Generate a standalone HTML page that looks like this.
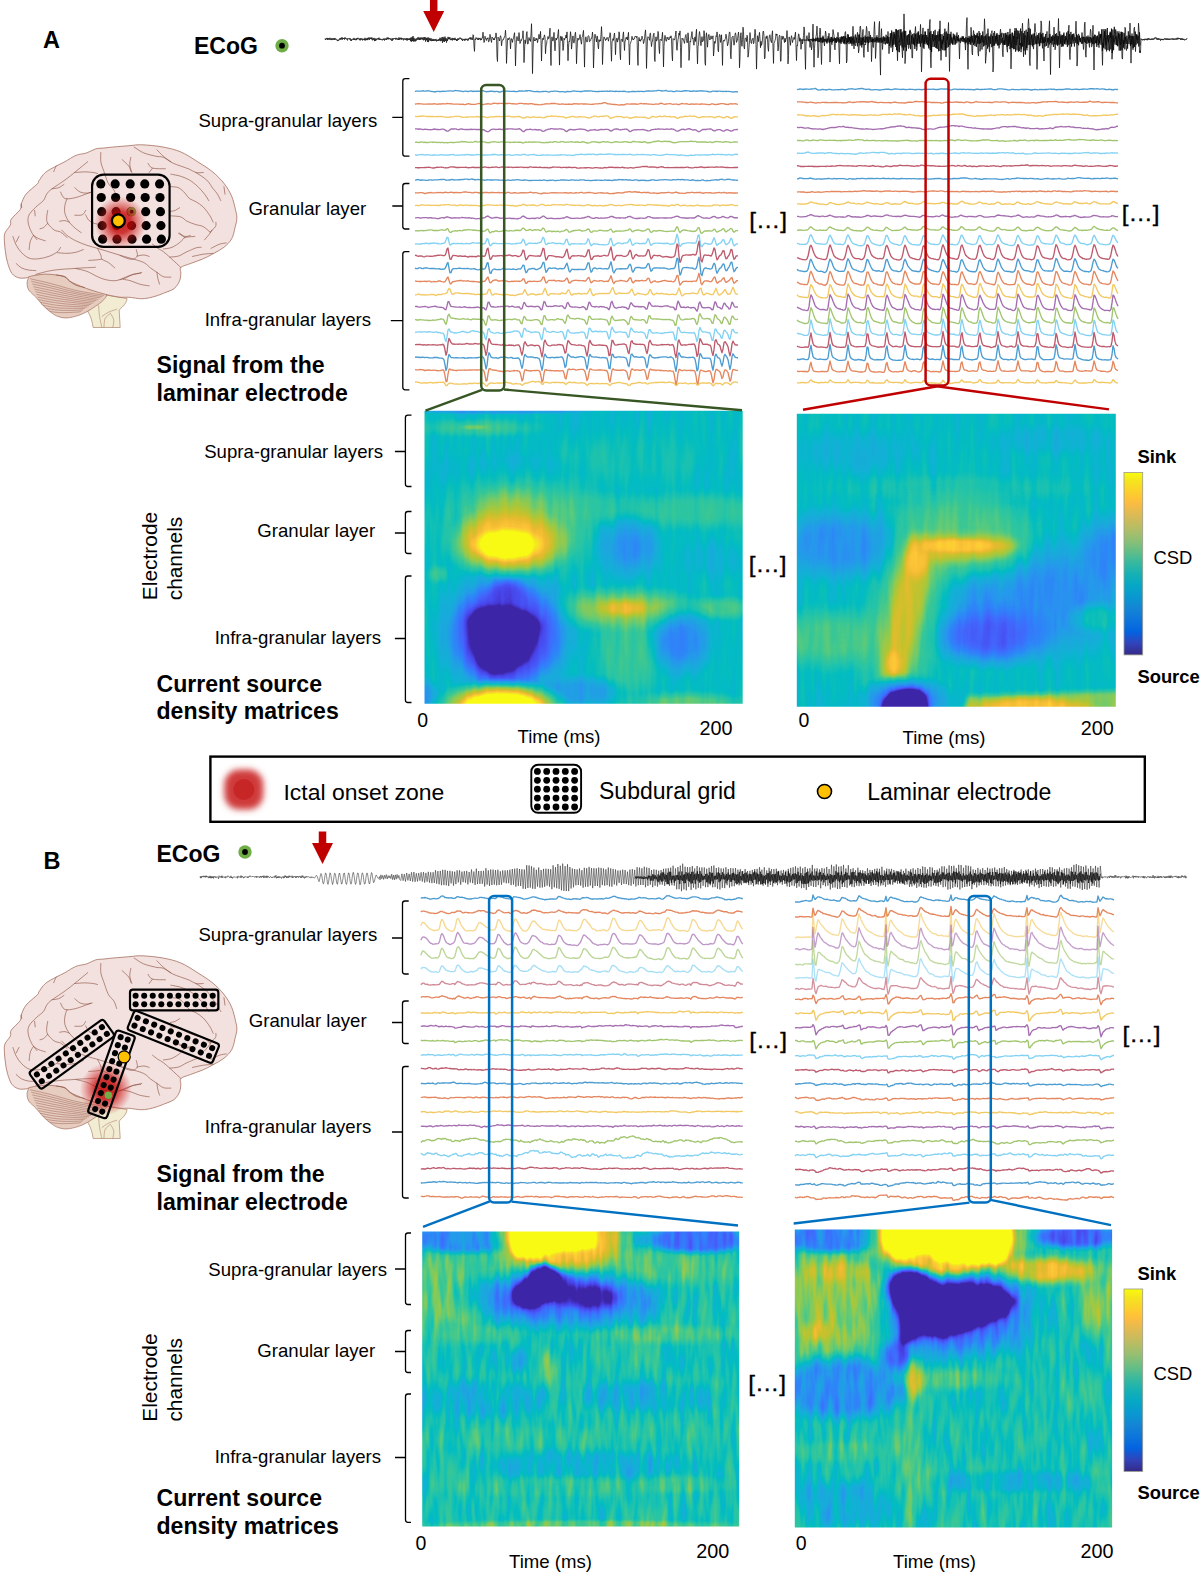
<!DOCTYPE html>
<html lang="en"><head><meta charset="utf-8"><title>Laminar electrode recordings and current source density</title>
<style>
html,body{margin:0;padding:0;background:#fff;}
body{width:1200px;height:1574px;overflow:hidden;}
svg{display:block;font-family:"Liberation Sans",Arial,Helvetica,sans-serif;}
svg text{fill:#000;}
</style></head><body>
<svg width="1200" height="1574" viewBox="0 0 1200 1574">
<defs>
<radialGradient id="redblob"><stop offset="0" stop-color="#c9211e" stop-opacity="0.95"/><stop offset="0.45" stop-color="#c9211e" stop-opacity="0.9"/><stop offset="1" stop-color="#e04040" stop-opacity="0"/></radialGradient>
<filter id="rbblur" x="-50%" y="-50%" width="200%" height="200%"><feGaussianBlur stdDeviation="3.2"/></filter><filter id="rbblur2" x="-50%" y="-50%" width="200%" height="200%"><feGaussianBlur stdDeviation="0.6"/></filter>
</defs>
<text x="43" y="48.0" font-size="23.5" font-weight="700">A</text>
<text x="194" y="53.7" font-size="23" font-weight="700">ECoG</text>
<circle cx="282" cy="45.7" r="6.7" fill="#70ad47"/><circle cx="282" cy="45.7" r="2.9" fill="#000"/>
<path d="M429.95,0 H437.45 V11 H444.2 L433.7,32 L423.2,11 H429.95 Z" fill="#c00000"/>
<text x="198.4" y="127.4" font-size="18.6">Supra-granular layers</text>
<text x="248.4" y="215.4" font-size="18.6">Granular layer</text>
<text x="204.7" y="325.5" font-size="18.6">Infra-granular layers</text>
<text x="156.5" y="373.0" font-size="23.1" font-weight="700">Signal from the</text>
<text x="156.5" y="400.5" font-size="23.1" font-weight="700">laminar electrode</text>
<path d="M409.4,78.7 H405.3 Q402.8,78.7 402.8,81.2 V153.7 Q402.8,156.2 405.3,156.2 H409.4 M402.8,117.4 H392.3" fill="none" stroke="#000" stroke-width="1.3"/>
<path d="M409.4,183.5 H405.3 Q402.8,183.5 402.8,186.0 V226.5 Q402.8,229 405.3,229 H409.4 M402.8,206 H392.3" fill="none" stroke="#000" stroke-width="1.3"/>
<path d="M409.4,251.7 H405.3 Q402.8,251.7 402.8,254.2 V387.3 Q402.8,389.8 405.3,389.8 H409.4 M402.8,320.6 H390.8" fill="none" stroke="#000" stroke-width="1.3"/>
<text transform="translate(749.2,227.8) scale(1.09,1)" font-size="22.3" stroke="#000" stroke-width="0.35">[…]</text>
<text transform="translate(1121.7,221.2) scale(1.09,1)" font-size="22.3" stroke="#000" stroke-width="0.35">[…]</text>
<text x="204.2" y="457.8" font-size="18.6">Supra-granular layers</text>
<text x="257.3" y="537.0" font-size="18.6">Granular layer</text>
<text x="214.7" y="644.0" font-size="18.6">Infra-granular layers</text>
<path d="M411.5,415.2 H407.9 Q405.4,415.2 405.4,417.7 V484.0 Q405.4,486.5 407.9,486.5 H411.5 M405.4,451.5 H394.9" fill="none" stroke="#000" stroke-width="1.3"/>
<path d="M411.5,511.5 H407.9 Q405.4,511.5 405.4,514.0 V551.0 Q405.4,553.5 407.9,553.5 H411.5 M405.4,533 H394.9" fill="none" stroke="#000" stroke-width="1.3"/>
<path d="M411.5,576 H407.9 Q405.4,576 405.4,578.5 V700.0 Q405.4,702.5 407.9,702.5 H411.5 M405.4,638.5 H394.9" fill="none" stroke="#000" stroke-width="1.3"/>
<text transform="translate(157.3,556) rotate(-90)" text-anchor="middle" font-size="20.9">Electrode</text>
<text transform="translate(182.0,558.5) rotate(-90)" text-anchor="middle" font-size="20.9">channels</text>
<text x="156.5" y="691.5" font-size="23.1" font-weight="700">Current source</text>
<text x="156.5" y="719.0" font-size="23.1" font-weight="700">density matrices</text>
<text x="417.3" y="727.0" font-size="19.5">0</text>
<text x="517.5" y="743.0" font-size="18.6">Time (ms)</text>
<text x="699.5" y="735.3" font-size="19.8">200</text>
<text x="798.5" y="727.0" font-size="19.5">0</text>
<text x="902.5" y="743.5" font-size="18.6">Time (ms)</text>
<text x="1080.7" y="735.3" font-size="19.8">200</text>
<text transform="translate(748.7,572.2) scale(1.09,1)" font-size="22.3" stroke="#000" stroke-width="0.35">[…]</text>
<linearGradient id="cbA" x1="0" y1="0" x2="0" y2="1"><stop offset="0.000" stop-color="#f9fb0e"/><stop offset="0.048" stop-color="#f5e41d"/><stop offset="0.111" stop-color="#fcce2e"/><stop offset="0.143" stop-color="#ffc337"/><stop offset="0.175" stop-color="#f8bb44"/><stop offset="0.238" stop-color="#d9ba56"/><stop offset="0.302" stop-color="#b7bd64"/><stop offset="0.365" stop-color="#92bf73"/><stop offset="0.429" stop-color="#65be86"/><stop offset="0.492" stop-color="#38b99e"/><stop offset="0.556" stop-color="#15b1b4"/><stop offset="0.619" stop-color="#06a7c6"/><stop offset="0.683" stop-color="#0998d1"/><stop offset="0.746" stop-color="#1485d4"/><stop offset="0.810" stop-color="#0d75dc"/><stop offset="0.873" stop-color="#0363e1"/><stop offset="0.937" stop-color="#3243ba"/><stop offset="1.000" stop-color="#352a87"/></linearGradient><rect x="1124" y="472.5" width="18.7" height="182.4" fill="url(#cbA)" stroke="#9a9a8a" stroke-width="0.8"/>
<text x="1137.4" y="462.7" font-size="18.4" font-weight="700">Sink</text>
<text x="1153.4" y="563.8" font-size="18.4">CSD</text>
<text x="1137.4" y="682.5" font-size="18.4" font-weight="700">Source</text>
<rect x="210.4" y="756.6" width="934.4" height="65.2" fill="#fff" stroke="#000" stroke-width="2.4"/>
<g filter="url(#rbblur)"><rect x="224.3" y="769.6" width="39" height="40" rx="15" fill="#cf3a3a"/></g><circle cx="243.8" cy="789.6" r="10.5" fill="#c62626" filter="url(#rbblur2)"/>
<text x="283.5" y="800.0" font-size="22.95">Ictal onset zone</text>
<g><rect x="531.3" y="764.8" width="49.8" height="48.0" rx="6.8" fill="#fff" stroke="#000" stroke-width="1.9"/><circle cx="537.40" cy="771.40" r="3.40"/><circle cx="537.40" cy="780.30" r="3.40"/><circle cx="537.40" cy="789.20" r="3.40"/><circle cx="537.40" cy="798.10" r="3.40"/><circle cx="537.40" cy="807.00" r="3.40"/><circle cx="546.70" cy="771.40" r="3.40"/><circle cx="546.70" cy="780.30" r="3.40"/><circle cx="546.70" cy="789.20" r="3.40"/><circle cx="546.70" cy="798.10" r="3.40"/><circle cx="546.70" cy="807.00" r="3.40"/><circle cx="556.00" cy="771.40" r="3.40"/><circle cx="556.00" cy="780.30" r="3.40"/><circle cx="556.00" cy="789.20" r="3.40"/><circle cx="556.00" cy="798.10" r="3.40"/><circle cx="556.00" cy="807.00" r="3.40"/><circle cx="565.30" cy="771.40" r="3.40"/><circle cx="565.30" cy="780.30" r="3.40"/><circle cx="565.30" cy="789.20" r="3.40"/><circle cx="565.30" cy="798.10" r="3.40"/><circle cx="565.30" cy="807.00" r="3.40"/><circle cx="574.60" cy="771.40" r="3.40"/><circle cx="574.60" cy="780.30" r="3.40"/><circle cx="574.60" cy="789.20" r="3.40"/><circle cx="574.60" cy="798.10" r="3.40"/><circle cx="574.60" cy="807.00" r="3.40"/></g>
<text x="599" y="799.3" font-size="23.0">Subdural grid</text>
<circle cx="824.5" cy="791.5" r="7" fill="#ffc000" stroke="#000" stroke-width="1.6"/>
<text x="867.2" y="799.7" font-size="23.0">Laminar electrode</text>
<text x="43.5" y="869.0" font-size="23.5" font-weight="700">B</text>
<text x="156.5" y="861.5" font-size="23" font-weight="700">ECoG</text>
<circle cx="245" cy="852" r="6.7" fill="#70ad47"/><circle cx="245" cy="852" r="2.9" fill="#000"/>
<path d="M318.75,831.5 H326.25 V843 H333.0 L322.5,864 L312.0,843 H318.75 Z" fill="#c00000"/>
<text x="198.4" y="941.0" font-size="18.6">Supra-granular layers</text>
<text x="248.8" y="1026.5" font-size="18.6">Granular layer</text>
<text x="204.8" y="1133.0" font-size="18.6">Infra-granular layers</text>
<text x="156.5" y="1182.0" font-size="23.1" font-weight="700">Signal from the</text>
<text x="156.5" y="1210.0" font-size="23.1" font-weight="700">laminar electrode</text>
<path d="M408.7,901 H405.0 Q402.5,901 402.5,903.5 V971.5 Q402.5,974 405.0,974 H408.7 M402.5,938 H392.0" fill="none" stroke="#000" stroke-width="1.3"/>
<path d="M408.7,1001 H405.0 Q402.5,1001 402.5,1003.5 V1041.0 Q402.5,1043.5 405.0,1043.5 H408.7 M402.5,1022.5 H392.0" fill="none" stroke="#000" stroke-width="1.3"/>
<path d="M408.7,1066.5 H405.0 Q402.5,1066.5 402.5,1069.0 V1195.5 Q402.5,1198 405.0,1198 H408.7 M402.5,1132 H392.0" fill="none" stroke="#000" stroke-width="1.3"/>
<text transform="translate(749.2,1047.7) scale(1.09,1)" font-size="22.3" stroke="#000" stroke-width="0.35">[…]</text>
<text transform="translate(1122.6,1041.5) scale(1.09,1)" font-size="22.3" stroke="#000" stroke-width="0.35">[…]</text>
<text x="208.3" y="1275.8" font-size="18.6">Supra-granular layers</text>
<text x="257.3" y="1356.7" font-size="18.6">Granular layer</text>
<text x="214.7" y="1463.1" font-size="18.6">Infra-granular layers</text>
<path d="M411,1233 H408.0 Q405.5,1233 405.5,1235.5 V1302.0 Q405.5,1304.5 408.0,1304.5 H411 M405.5,1269 H395.0" fill="none" stroke="#000" stroke-width="1.3"/>
<path d="M411,1330.5 H408.0 Q405.5,1330.5 405.5,1333.0 V1370.0 Q405.5,1372.5 408.0,1372.5 H411 M405.5,1351.5 H395.0" fill="none" stroke="#000" stroke-width="1.3"/>
<path d="M411,1394 H408.0 Q405.5,1394 405.5,1396.5 V1519.8 Q405.5,1522.3 408.0,1522.3 H411 M405.5,1457.5 H395.0" fill="none" stroke="#000" stroke-width="1.3"/>
<text transform="translate(157.2,1377.6) rotate(-90)" text-anchor="middle" font-size="20.9">Electrode</text>
<text transform="translate(181.8,1379.8) rotate(-90)" text-anchor="middle" font-size="20.9">channels</text>
<text x="156.5" y="1506.0" font-size="23.1" font-weight="700">Current source</text>
<text x="156.5" y="1534.0" font-size="23.1" font-weight="700">density matrices</text>
<text x="415.5" y="1549.7" font-size="19.5">0</text>
<text x="509" y="1568.0" font-size="18.6">Time (ms)</text>
<text x="696.3" y="1558.0" font-size="19.8">200</text>
<text x="795.8" y="1549.7" font-size="19.5">0</text>
<text x="893" y="1568.0" font-size="18.6">Time (ms)</text>
<text x="1080.5" y="1558.0" font-size="19.8">200</text>
<text transform="translate(748.2,1390.8) scale(1.09,1)" font-size="22.3" stroke="#000" stroke-width="0.35">[…]</text>
<linearGradient id="cbB" x1="0" y1="0" x2="0" y2="1"><stop offset="0.000" stop-color="#f9fb0e"/><stop offset="0.048" stop-color="#f5e41d"/><stop offset="0.111" stop-color="#fcce2e"/><stop offset="0.143" stop-color="#ffc337"/><stop offset="0.175" stop-color="#f8bb44"/><stop offset="0.238" stop-color="#d9ba56"/><stop offset="0.302" stop-color="#b7bd64"/><stop offset="0.365" stop-color="#92bf73"/><stop offset="0.429" stop-color="#65be86"/><stop offset="0.492" stop-color="#38b99e"/><stop offset="0.556" stop-color="#15b1b4"/><stop offset="0.619" stop-color="#06a7c6"/><stop offset="0.683" stop-color="#0998d1"/><stop offset="0.746" stop-color="#1485d4"/><stop offset="0.810" stop-color="#0d75dc"/><stop offset="0.873" stop-color="#0363e1"/><stop offset="0.937" stop-color="#3243ba"/><stop offset="1.000" stop-color="#352a87"/></linearGradient><rect x="1124" y="1289" width="18.7" height="182.4" fill="url(#cbB)" stroke="#9a9a8a" stroke-width="0.8"/>
<text x="1137.4" y="1280.0" font-size="18.4" font-weight="700">Sink</text>
<text x="1153.4" y="1380.3" font-size="18.4">CSD</text>
<text x="1137.4" y="1499.0" font-size="18.4" font-weight="700">Source</text><g fill="none" stroke-linejoin="round"><path d="M325 38.6l.5 1.4 .5-1.6 .5 .8 .5-1.3 .5 2 .5-1.9 .5 1.5 .5-1.2 .5 1.4 .5-1.9 .5 1.8 .5-.9 .5 1.4 .5-2 .5 1.6 .5-1.2 .5 1.2 .5-1.5 .5 1.7 .5-1.9 .5 1.5 .5-.6 .5 1 .5-.1 .5 1.3 .5-1.5 .5 1.1 .5-1.3 .5 .4 .5-1.8 .5 1.6 .5-1.7 .5 1.5 .5-2.2 .5 2.4 .5-1.6 .5 1 .5-1.1 .5 1.7 .5-2.3 .5 1.6 .5-.6 .5 1 .5-.9 .5 2 .5-2.1 .5 .6 .5-.5 .5 1 .5-1.4 .5 2.6 .5-1.4 .5 1.7 .5-1.8 .5 .3 .5-.7 .5 1.2 .5-2 .5 2.1 .5-.9 .5 1.1 .5-1.7 .5 1.6 .5-2.1 .5 1.2 .5-1.4 .5 1.1 .5 0 .5 1.3 .5-2 .5 2.1 .5-1.9 .5 1.1 .5-1.2 .5 2.1 .5-1.3 .5 .9 .5-1.3 .5 1.6 .5-2.5 .5 2.6 .5-1.7 .5 1.4 .5-2 .5 2 .5-2.3 .5 1.6 .5-2 .5 2.4 .5-2 .5 1.1 .5-1.5 .5 1.9 .5-1.7 .5 2.7 .5-1.8 .5 1.2 .5-1.8 .5 3.2 .5-2.5 .5 2.2 .5-2.3 .5 1.7 .5-1.4 .5 .4 .5-1.2 .5 1.5 .5-1.8 .5 2.2 .5-1.2 .5 1.2 .5-1 .5 1.2 .5-.7 .5 .9 .5-1.5 .5 1 .5-1.4 .5 2.1 .5-1.8 .5 .9 .5-1.2 .5 1.6 .5-2.4 .5 1.6 .5-1.8 .5 1.9 .5-1.3 .5 1.2 .5-1.1 .5 1.4 .5-.4 .5 1.5 .5-2.3 .5 2.3 .5-2.3 .5 1.1 .5-1.2 .5 .7 .5-.7 .5 1.3 .5-1.7 .5 1.6 .5-1 .5 1.2 .5-1.1 .5 1.5 .5-2.6 .5 2.3 .5-1.7 .5 1.3 .5-1.7 .5 2 .5-1.6 .5 1.3 .5-.8 .5 1.8 .5-1.9 .5 1 .5-1 .5 1.5 .5-1.3 .5 1.7 .5-2.3 .5 2.4 .5-2 .5 1.5 .5-1.2 .5 1.3 .5-2 .5 3.2 .5-3.7 .5 4.2 .5-4.5 .5 3.9 .5-5.1 .5 5.5 .5-3.7 .5 3.5 .5-2.2 .5 2.3 .5-2.8 .5 1.9 .5-2.3 .5 1.4 .5-2.4 .5 2.4 .5-2.1 .5 2.5 .5-2.2 .5 2 .5-2.4 .5 1.9 .5-1.6 .5 1.8 .5-2 .5 2.8 .5-3 .5 2.4 .5-2.7 .5 4.6 .5-3.8 .5 2.4 .5-2.3 .5 4 .5-4.5 .5 4.7 .5-4.3 .5 2.5 .5-1.7 .5 2.1 .5-2.5 .5 2.9 .5-1.7 .5 1.6 .5-2.1 .5 2 .5-1.7 .5 1.6 .5-1.5 .5 1.3 .5-1.7 .5 2.5 .5-1.4 .5 1 .5-1.5 .5 1.4 .5-1.9 .5 1.5 .5-2.8 .5 3.4 .5-2.6 .5 2.2 .5-3.5 .5 5.6 .5-5.9 .5 4.5 .5-3.8 .5 4.2 .5-5.2 .5 4.3 .5-2.7 .5 4.4 .5-3.8 .5 2.1 .5-4 .5 2.3 .5-2 .5 2 .5-1.8 .5 2.7 .5-.9 .5 .9 .5-2.2 .5 2.5 .5-2.3 .5 1.5 .5-1.3 .5 1.8 .5-2.3 .5 2.1 .5-.9 .5 1.9 .5-1.8 .5 1.6 .5-2.5 .5 1.8 .5-1.4 .5 .4 .5-1.5 .5 1.2 .5-.6 .5 1.7 .5-1.2 .5 2.3 .5-1.5 .5 .7 .5-1.2 .5 1.7 .5-1.7 .5 1.4 .5-1.7 .5 1.4 .5-.7 .5 1.3 .5-1.9 .5 1.6 .5-2.2 .5 .7 .5-1.4 .5 2 .5-2 .5 2.1 .5-1.1 .5 1.4 .5-5.1 .5 .5 .5 11.5 .5 4.7 .5-12.5 .5 .9 .5-2.3 .5 1.1 .5-.2 .5 1.3 .5-1.9 .5 2.2 .5-1.7 .5 .9 .5-1.3 .5 2.3 .5-1.4 .5 1.1 .5-2.2 .5 .2 .5-5.7 .5 6.5 .5 3.8 .5-.6 .5-5.7 .5 2.4 .5 .2 .5 1.7 .5-2.3 .5 .8 .5-1.3 .5 4.1 .5-.2 .5-2.5 .5-4.8 .5 2.9 .5 3.2 .5 2 .5-5.4 .5 .7 .5 .3 .5 2 .5-1.6 .5 1.5 .5-2.7 .5 .2 .5-4.5 .5 3.5 .5 20.9 .5 4.2 .5-24.4 .5 .9 .5 .8 .5 2.2 .5-3.3 .5-2 .5 1.5 .5 8.6 .5-4 .5-1.1 .5-1.5 .5 .4 .5-2.2 .5 0 .5-2 .5-5.1 .5 7.9 .5 25.2 .5-12.1 .5-11.3 .5-1.8 .5 1.7 .5-1.3 .5-1 .5 1.6 .5 9.7 .5-7.8 .5-2.5 .5 1.2 .5 2.6 .5-3.6 .5-.3 .5-3.1 .5-2.7 .5 9.7 .5 23.5 .5-17.5 .5-8.8 .5-3.1 .5 3.1 .5 1.4 .5-.4 .5-8 .5 6.7 .5 4.2 .5-1.6 .5-2.3 .5 .9 .5-1.9 .5-.6 .5-7.2 .5 9.4 .5 22.4 .5-10.9 .5-11.8 .5 3.6 .5-3.4 .5-6.9 .5-1.6 .5 12.2 .5 .4 .5-2.8 .5-3.9 .5 2.7 .5-.8 .5 2 .5-7.3 .5-10.4 .5 16.1 .5 33.8 .5-21.5 .5-13.7 .5-1.2 .5 3.7 .5-.9 .5 .6 .5-2.4 .5 1.7 .5-1.3 .5 4.1 .5-2.5 .5-2.7 .5-3.2 .5 4.6 .5-.7 .5-6.8 .5 9.2 .5 20.4 .5-16.6 .5-5.6 .5-.7 .5 1.5 .5-2.9 .5-1.8 .5 2.3 .5 16.5 .5-7.6 .5-1.6 .5-4.1 .5-.6 .5-3.3 .5 2.3 .5-.7 .5-3.9 .5-6 .5 24.1 .5 13.2 .5-23.5 .5-5.2 .5 3.6 .5 .7 .5-2.2 .5-6.5 .5 10.9 .5 7.5 .5-9.1 .5-3.7 .5 2 .5-2.1 .5 0 .5-4.5 .5-3.9 .5 15.5 .5 20.1 .5-21.6 .5-7.1 .5 0 .5 4.1 .5-3.9 .5 3.1 .5 10.8 .5-2.8 .5-9.5 .5 1.7 .5-1.7 .5-.2 .5-3 .5 3 .5-6.1 .5 11.6 .5 17.2 .5-13.5 .5-6 .5 .5 .5-3.6 .5-6.4 .5 4.3 .5 13.1 .5-4.9 .5-5.9 .5-2.4 .5 6.5 .5 .7 .5-1.7 .5-7 .5-2.2 .5 7.6 .5 23.9 .5-13 .5-11.2 .5-1.5 .5 2.2 .5-.6 .5-1.4 .5-3.6 .5 3.5 .5 3.8 .5 2.3 .5-6.8 .5-.7 .5-3.4 .5-2.9 .5 13.4 .5 23.3 .5-22.1 .5-7.2 .5-1 .5 4.9 .5 .4 .5-.4 .5-5.5 .5-.6 .5 1 .5 5.1 .5-.3 .5-.6 .5-2.4 .5 .1 .5-2.1 .5-4.3 .5 6.9 .5 29 .5-15.2 .5-14.5 .5-4.1 .5 2.7 .5 1.8 .5 3.3 .5-6.1 .5 .6 .5 9.4 .5 3 .5-9.3 .5 1.9 .5-1.2 .5 .8 .5-6.2 .5-8.3 .5 10.3 .5 27.6 .5-13.9 .5-10.5 .5-3.2 .5 1.4 .5 .2 .5 2.1 .5-1.7 .5 .6 .5-2.2 .5 .8 .5 1.2 .5 1.9 .5-4.2 .5 .1 .5-4.4 .5 .7 .5 15.9 .5 11.9 .5-19.2 .5-1.2 .5-2.2 .5 1.8 .5-4.8 .5-2.6 .5 6.8 .5 14.9 .5-12.1 .5-3.9 .5-.8 .5 4.2 .5-3 .5 .1 .5-7.4 .5 2.3 .5 19.3 .5 6.3 .5-19.8 .5-.9 .5 .7 .5 1.9 .5-6.5 .5-3.2 .5 9.9 .5 8.7 .5-9.6 .5-.2 .5-3.1 .5 1.1 .5-1.7 .5 3 .5-4.2 .5-3.5 .5 15 .5 17.6 .5-20.7 .5-.8 .5-2 .5-1 .5-4.1 .5 2.9 .5-.3 .5 1.1 .5-1.7 .5 .2 .5-2.3 .5 .3 .5-.3 .5 1.4 .5-1.3 .5 18.7 .5 10.4 .5-22.8 .5-5.2 .5 3.6 .5-1.3 .5 1.6 .5-2.1 .5 .4 .5-3.4 .5 2.3 .5 .8 .5 4.3 .5-1.7 .5-3 .5-5.3 .5-3.7 .5 9.1 .5 29.4 .5-16.7 .5-13.4 .5-1.6 .5 .6 .5 1.1 .5 1.9 .5-6.9 .5-.2 .5 8.1 .5 5.3 .5-4.3 .5-1.3 .5-3.5 .5-3.4 .5-.9 .5 25.9 .5 2.4 .5-20.2 .5-4.5 .5 4.4 .5-1.1 .5-1.4 .5-7.3 .5 2.3 .5 14.4 .5 5.5 .5-14.3 .5 .4 .5 0 .5 .9 .5-3.7 .5-4.6 .5 11.4 .5 23.2 .5-20.5 .5-7.4 .5-3.6 .5 2.8 .5 2.9 .5 .1 .5-3.9 .5 1.2 .5-1.1 .5 2.5 .5-.9 .5 .2 .5-2.5 .5 1.3 .5-2.2 .5 2.9 .5 16 .5 6.2 .5-22.3 .5 .5 .5 .1 .5 .9 .5-2.2 .5-3.3 .5-3.6 .5 14.7 .5 4.6 .5-6.4 .5-4.3 .5-2.6 .5-3.9 .5 2.1 .5-4.3 .5 16.7 .5 20.1 .5-18.6 .5-10.9 .5 1.1 .5-.8 .5 1.8 .5 1.5 .5 1.6 .5-5.2 .5-2.6 .5-1.1 .5 5.9 .5 2.5 .5-.6 .5-9.5 .5 5.2 .5 22.4 .5-7.1 .5-11.9 .5 .7 .5-4.1 .5-2.8 .5-3.6 .5 7.1 .5-.7 .5 5.5 .5 1.7 .5-6.2 .5-2.1 .5 4.6 .5-7.4 .5-4.8 .5 19 .5 15.6 .5-17.3 .5-1.8 .5-9.5 .5-3.7 .5 3.6 .5 8.1 .5 2.4 .5-4.8 .5-4.3 .5 5.2 .5-.8 .5-1 .5-9.3 .5 4.4 .5 27.9 .5 2.3 .5-28.7 .5-3.8 .5 6 .5 8.4 .5-7.7 .5-4.6 .5-.5 .5 5.4 .5-.8 .5 .3 .5-3.5 .5 2.3 .5 1 .5-1.7 .5-1.6 .5 20.2 .5-5.6 .5-8.9 .5 1.9 .5-1.3 .5-6.3 .5 .7 .5-4.6 .5 3.5 .5 14.6 .5 1.8 .5-14.2 .5-3.1 .5 .3 .5 7.6 .5-1.7 .5-5.9 .5 11.1 .5 19.5 .5-22.4 .5-2.6 .5-.2 .5 1 .5-1.9 .5-1 .5-4.1 .5 2.8 .5 3.8 .5 5 .5-1.9 .5-2.5 .5-6.8 .5-2.7 .5 .9 .5 22.3 .5 3.7 .5-15.8 .5-5.8 .5-.5 .5-.7 .5 6.3 .5 2.9 .5-2.1 .5-8.9 .5-1.4 .5 2.7 .5 6.9 .5-1.5 .5-.9 .5-4.7 .5-3.2 .5 6.1 .5 29.6 .5-10.3 .5-22 .5-2.8 .5 10.1 .5 3.5 .5-7 .5-12.1 .5 4.4 .5 15.6 .5 1.8 .5-10.2 .5-.7 .5-.3 .5 3.7 .5-6.3 .5 1.3 .5 20.7 .5-3 .5-6.9 .5-6.5 .5-8.2 .5 5 .5 4.9 .5 1 .5-4 .5-.2 .5-1.1 .5 5.6 .5-1.4 .5-6.4 .5-6.7 .5 3.1 .5 12.1 .5 24.6 .5-18.5 .5-14.9 .5 1.2 .5 4.7 .5-5.3 .5-4 .5 6.4 .5 9 .5-6.4 .5 4.1 .5-1.9 .5-4.5 .5-7.2 .5-.8 .5 5.2 .5 22.6 .5-.8 .5-17.1 .5-4.3 .5 1.8 .5-2.7 .5 3.5 .5 8.9 .5 3.2 .5-12.7 .5-3.2 .5-.7 .5 4.9 .5 1.6 .5 1.5 .5-7.9 .5-4 .5 16.6 .5 16 .5-19.9 .5-1.1 .5-1.9 .5-1.6 .5-5.1 .5 1.5 .5-1.3 .5 7.3 .5 9.6 .5-3.7 .5-10 .5-2 .5 1.2 .5 24.8 .5-.1 .5-20.6 .5-4.6 .5 3.4 .5-1.7 .5-1.1 .5 3.3 .5 2.8 .5-4.3 .5 3.5 .5-2.8 .5-1.2 .5-7.2 .5 8.6 .5 24.7 .5-8.4 .5-18.6 .5 .4 .5 3.5 .5 4.5 .5-6.8 .5-2.8 .5 2.3 .5 4.5 .5-2.4 .5-.5 .5-2.2 .5 1.9 .5-4.3 .5-2.9 .5 15.1 .5 13.4 .5-15.3 .5 .6 .5-6.7 .5-5.4 .5 .7 .5 6.8 .5-3.5 .5 2.7 .5 8.8 .5-4.9 .5-5.2 .5 4.8 .5-3 .5-5.4 .5-8.7 .5 2.5 .5 22.4 .5 17.5 .5-26 .5-6.5 .5-1.2 .5 3.3 .5 0 .5 1.3 .5-7.6 .5 5.8 .5 9 .5-6 .5 .1 .5 8.4 .5-3.3 .5-10 .5-12.5 .5 18.6 .5 24.5 .5-18.7 .5-8.5 .5 .1 .5-3.7 .5-2.4 .5-7.9 .5 13.2 .5 18.5 .5-4.9 .5-12 .5-6.4 .5-6.4 .5 2.6 .5 19.6 .5 14.2 .5-22.2 .5-4.8 .5-1.8 .5 2.7 .5 4.2 .5 3.3 .5-8.2 .5-6.6 .5 2.4 .5 9.3 .5 .8 .5-3.1 .5-4.2 .5 1.2 .5-4.3 .5 8 .5 20.9 .5-10.3 .5-14.9 .5 6.6 .5 1.2 .5-6.7 .5-8.4 .5 3.4 .5 2.5 .5 12 .5 2.4 .5-9.3 .5-2.1 .5 3.3 .5-3.5 .5-3 .5-3 .5 4 .5 14.8 .5 12.7 .5-26.7 .5 2.2 .5 4.6 .5-1.2 .5-6.2 .5 2 .5-2 .5-.2 .5 5.3 .5 1.2 .5-10 .5-1.2 .5 5.7 .5 25.7 .5-2.8 .5-25.3 .5-.9 .5 7.8 .5-.8 .5-3.9 .5 1.1 .5 4.8 .5-6.1 .5 5.3 .5 3.7 .5-7.2 .5-12.4 .5 16 .5 6.6 .5-7.2 .5 3.3 .5 .8 .5-5.6 .5-2.2 .5-2.4 .5-3.3 .5 4.8 .5 15.8 .5-3 .5-9.9 .5-13.2 .5-.7 .5 8.1 .5 13 .5 .2 .5-11.8 .5-6.2 .5 24.3 .5 3.7 .5-13.5 .5 .2 .5 .9 .5-11.1 .5-7.5 .5 3.8 .5 16.7 .5 5 .5-8.7 .5-12 .5 1.9 .5 4.6 .5-2.6 .5 4.4 .5 22.1 .5-14.6 .5-8.2 .5 8.5 .5 .1 .5-17.1 .5-8.6 .5 13 .5 23.8 .5-8.2 .5-13.7 .5-1.3 .5 5.9 .5-.7 .5-.4 .5-14.6 .5-4.1 .5 35.3 .5 18.4 .5-37.7 .5-8.7 .5 11.5 .5 9.3 .5-8.1 .5-5 .5-.1 .5 4.5 .5 .1 .5-1.2 .5-5 .5 1.4 .5 7.2 .5 .5 .5-12.3 .5 11.3 .5 10.9 .5-7.1 .5-2.3 .5-2.6 .5-5.8 .5-2.9 .5 4 .5 15 .5-3.9 .5-8.1 .5-8.2 .5 1 .5 5.1 .5 9 .5-7.1 .5-10.4 .5 14 .5 17.3 .5-18.3 .5-.7 .5-.8 .5 1.3 .5-4.9 .5-2.9 .5-5.3 .5 4.2 .5 15.8 .5 8.7 .5-15.8 .5-9.5 .5-18.6 .5 15.6 .5 34.1 .5-6.4 .5-16.6 .5-.1 .5-5.3 .5 0 .5 4.7 .5 8.7 .5-1.1 .5-6.8 .5-10.9 .5 2.3 .5 .1 .5 6 .5 19.8 .5-.1 .5-20.4 .5 .8 .5 3.7 .5 3.4 .5-13.3 .5-5.5 .5 11.9 .5 12.2 .5-.9 .5-8.5 .5-9.1 .5 4.6 .5 4.7 .5 1.4 .5-7.1 .5-11.4 .5 14.4 .5 33.1 .5-18.3 .5-19.8 .5-5.9 .5 14.8 .5 6.1 .5-7.8 .5-9.4 .5 5.6 .5 4.4 .5 1.1 .5-4.9 .5-.5 .5 1.1 .5 7.9 .5-3.3 .5-18.6 .5-4.9 .5 39.2 .5 9.1 .5-22.3 .5-11 .5 1.2 .5 3 .5 2.6 .5-1.8 .5-.2 .5-4.4 .5 2.6 .5 5.3 .5 5 .5-7 .5-6.3 .5-3.2 .5 6.9 .5 3.1 .5-3.5 .5-17 .5 19.5 .5 20.1 .5-14.1 .5-6.7 .5 4.3 .5-1.9 .5-2.3 .5-6.4 .5-.6 .5-.3 .5 14.8 .5 9.7 .5-11 .5-8.8 .5 2.4 .5-7.5 .5-9.5 .5 21.9 .5 27 .5-23.5 .5-11.9 .5-4.2 .5 6.1 .5 3.7 .5 3.1 .5-4.8 .5-1.8 .5-1.7 .5 2.4 .5 0 .5 2.8 .5-3.5 .5-2.3 .5-3.3 .5 7.9 .5 .1 .5-5.5 .5 8.6 .5 15.3 .5-17.4 .5 1.3 .5-4 .5 .2 .5-2.6 .5 2.7 .5-2.8 .5 2.8 .5 1.4 .5-1 .5 3.1 .5 7.5 .5-12.4 .5-13.4 .5-6.7 .5 34.7 .5 17 .5-25 .5-8.4 .5 5.6 .5 2.8 .5-2.9 .5-14.1 .5 5.7 .5 19.7 .5 2.3 .5-17.6 .5-6.9 .5 3.3 .5 9.5 .5-3.1 .5-.5 .5-4.1 .5 2 .5-4.7 .5 .1 .5 19.9 .5 3.2 .5-25.1 .5 10.8 .5 9.5 .5-3.5 .5-10.5 .5-2 .5 1.5 .5 5.1 .5 .4 .5 .3 .5-9.3 .5-14.5 .5 11.6 .5 32.9 .5-5.8 .5-6 .5-12 .5-7.2 .5-3.6 .5 5.3 .5 11.5 .5 6.7 .5-10 .5-2.5 .5-6.1 .5-1.1 .5-1.8 .5 13.4 .5 27.9 .5-6.2 .5-30.4 .5-4.4 .5 4 .5 6.6 .5 1.1 .5-3.3 .5-6.4 .5 6.8 .5 2.6 .5 1.4 .5 4.6 .5-2.6 .5-12.2 .5-4.4 .5 5.3 .5 2.4 .5-4.1 .5 20 .5 4 .5-15.2 .5-1.5 .5 4.8 .5-5 .5-5.5 .5-1.6 .5 10.8 .5 6.5 .5 2.1 .5-16.7 .5 3.6 .5 5.2 .5-4.1 .5-11.4 .5 15.9 .5 24.2 .5-16.1 .5-13 .5-6.8 .5 .4 .5 15.6 .5 .2 .5-13.2 .5-7.9 .5 11.5 .5 5.7 .5-2.6 .5-5.6 .5 1.4 .5 .3 .5-6.9 .5-1.1 .5 20.3 .5-4.2 .5-3.7 .5 9 .5-4.5 .5-17.2 .5-7.3 .5 12 .5 21.6 .5-9.1 .5-7 .5-4.8 .5-.4 .5 2.7 .5 10 .5 2.1 .5-9.2 .5-14.9 .5-7.5 .5 7.7 .5 34.4 .5 4.8 .5-20.9 .5-7.8 .5 .4 .5-2.1 .5 5.3 .5 4.5 .5 4.1 .5-8.3 .5-11.1 .5-6.2 .5 7.9 .5 .6 .5 14.2 .5 23.2 .5-13.3 .5-19.5 .5 .5 .5 1.7 .5 5.5 .5 1.2 .5-4.9 .5-19.7 .5 2.3 .5 18.6 .5 6.5 .5-10.9 .5 12.5 .5 11.1 .5-18.9 .5-3 .5 2.5 .5-3.4 .5-2.6 .5-4.2 .5 9.2 .5 7.3 .5-1.7 .5-17.3 .5-8.1 .5 24.3 .5 29.5 .5-26.6 .5-10.7 .5-.3 .5 3.8 .5 .1 .5-2.2 .5-11.6 .5 9.3 .5 13.4 .5-1.4 .5-13.5 .5-1.7 .5 6 .5 5.1 .5-11.3 .5-14.5 .5 23.1 .5 26.3 .5-20.6 .5-7.3 .5-5.5 .5 2.7 .5 5.4 .5 2.9 .5-9.1 .5-2.3 .5 2.1 .5 7 .5-1.6 .5-1.2 .5-3.3 .5 2.7 .5-.3 .5 4 .5-4 .5-11.2 .5-3.1 .5 29.3 .5 5.1 .5-10.8 .5-7.3 .5-4.7 .5-1.6 .5 3.8 .5 .9 .5 1.2 .5-.7 .5-.7 .5-5.2 .5-1.4 .5-11.9 .5 13.5 .5 31.4 .5-6.2 .5-24.4 .5-1.6 .5 1.6 .5 4.4 .5-.3 .5 2.1 .5-3.3 .5-1.7 .5-4.2 .5 4.5 .5 6.5 .5 6 .5-7.3 .5-18.7 .5-1.4 .5 32.6 .5 2.5 .5-13 .5-5.3 .5-1 .5-2.4 .5 4 .5 4.4 .5 3.5 .5-11.2 .5-7 .5 3 .5 14.6 .5-.4 .5-10.3 .5-10.8 .5 22.9 .5 21.8 .5-22.4 .5-11.1 .5-1.4 .5 1 .5 7.2 .5-4.9 .5-1.4 .5 1.4 .5 5.5 .5 3.8 .5-7 .5-6.9 .5 3.7 .5-1.7 .5-1.9 .5 15.6 .5 15.8 .5-21.9 .5 3.5 .5-5.4 .5-8.7 .5-3.8 .5 11.5 .5 4.7 .5-3 .5-6.7 .5 3.6 .5 .4 .5 2.9 .5-2 .5-2.4 .5-4.7 .5 4.3 .5-5.2 .5 7.3 .5 19.5 .5-7.7 .5-16.1 .5 6.4 .5 .6 .5-1 .5-3.5 .5 .5 .5-2.3 .5 3.8 .5 3.3 .5 2.4 .5-6 .5-5.3 .5-3 .5 6.5 .5 4.9 .5 2.2 .5-13 .5 1.5 .5 24.5 .5 1.2 .5-19.3 .5 3.7 .5 .5 .5-2.3 .5-14.4 .5 1.7 .5 16.5 .5 5 .5-5 .5-1.1 .5-6.2 .5-.2 .5-.2 .5-.6 .5-14.1 .5 17.8 .5 22.2 .5-19.7 .5-9.9 .5 12.1 .5 4.2 .5-6.4 .5-14.9 .5-1.3 .5 13.7 .5 10.7 .5-10.3 .5-4.2 .5-2.1 .5 5.1 .5-.1 .5-16.8 .5 7 .5 22.4 .5-1.9 .5 2.1 .5-14.2 .5 1.3 .5-.5 .5 .9 .5-1.3 .5 1.1 .5-1.1 .5 1.3 .5-1.6 .5 1.1 .5-.9 .5 1.2 .5-1.4 .5 1.5 .5-2 .5 1.4 .5-1.4 .5 1.4 .5-.6 .5 1 .5-1.3 .5 1.1 .5-1.3 .5 1.2 .5-1.2 .5 1.2 .5-1.3 .5 .8 .5-1.8 .5 .9 .5-.9 .5 2 .5-1.1 .5 1.5 .5-1.6 .5 1.6 .5-1.5 .5 1.2 .5-.6 .5 1.8 .5-1.9 .5 1.2 .5-1.1 .5 1.2 .5-1.1 .5 1.1 .5-1.3 .5 .6 .5-1.3 .5 1.5 .5-.8 .5 1 .5-1.6 .5 1.6 .5-1 .5 1.1 .5-1.4 .5 1.3 .5-.9 .5 .8 .5-1.2 .5 .9 .5-1.1 .5 1.3 .5-1.1 .5 1.4 .5-1.3 .5 1 .5-1.1 .5 1.1 .5-1.1 .5 1.1 .5-1.7 .5 1.5 .5-1.7 .5 1.5 .5-1.1 .5 .9 .5-.9 .5 1.8 .5-1.4 .5 1.2 .5-1.6 .5 1.7 .5-1 .5 1.2 .5-1.1 .5 1.4 .5-1 .5 .3 .5-.6 .5 .5 .5-1.6" stroke="#111" stroke-opacity="0.85" stroke-width="0.9"/><path d="M800 40.1l.7 0 .7 .1 .7-.2 .7 .3 .7-.6 .7 .9 .7-1 .7 .9 .7-.9 .7 1 .7-1.1 .7 1.7 .7-1.9 .7 2.1 .7-2.4 .7 1.7 .7-1.8 .7 2.5 .7-3 .7 2.8 .7-2.4 .7 2.5 .7-3.4 .7 3.2 .7-3.4 .7 4.4 .7-4.3 .7 4.1 .7-4.2 .7 4.8 .7-4.8 .7 5.1 .7-5.8 .7 5.2 .7-3.2 .7 2.6 .7-2.9 .7 3.5 .7-3.5 .7 3.7 .7-4.9 .7 5 .7-3.9 .7 3.5 .7-4.9 .7 5.2 .7-4.1 .7 2.8 .7-3.7 .7 5 .7-4.3 .7 4.8 .7-5.9 .7 4.6 .7-3.6 .7 4.7 .7-3.8 .7 3.6 .7-5.9 .7 5.5 .7-5 .7 6.4 .7-7.2 .7 7.9 .7-7.8 .7 7.8 .7-6.1 .7 4.6 .7-7.6 .7 9 .7-6.9 .7 6.3 .7-7.1 .7 7.2 .7-5.9 .7 6.6 .7-7.9 .7 6 .7-7.9 .7 8.4 .7-5.2 .7 8.6 .7-11.7 .7 8.5 .7-8.5 .7 10.9 .7-8.1 .7 7.5 .7-7 .7 6.8 .7-7.6 .7 5.4 .7-6.9 .7 7.2 .7-5.9 .7 5.6 .7-5.9 .7 6.7 .7-6.5 .7 5.6 .7-5.1 .7 4.7 .7-4.9 .7 5.2 .7-3.5 .7 3.5 .7-4.7 .7 4.1 .7-4.3 .7 5.2 .7-5.2 .7 5.1 .7-4.5 .7 4.5 .7-4.7 .7 5 .7-5.4 .7 4.9 .7-5 .7 6.5 .7-6.4 .7 7.1 .7-6.8 .7 5.7 .7-7.1 .7 6.7 .7-5.9 .7 8.8 .7-12.7 .7 14.4 .7-17.1 .7 15.9 .7-14.2 .7 12.5 .7-10.4 .7 10.1 .7-15.3 .7 21.1 .7-19.9 .7 21.4 .7-21.9 .7 22.4 .7-22.9 .7 16.2 .7-12.7 .7 14.7 .7-15.9 .7 18.8 .7-19.6 .7 16.6 .7-16.5 .7 20.2 .7-15.3 .7 9 .7-10.6 .7 10.7 .7-13.9 .7 18.2 .7-13.8 .7 8.4 .7-9.8 .7 10.4 .7-11.2 .7 15.8 .7-14.8 .7 12.3 .7-13.2 .7 10.4 .7-12.4 .7 12.6 .7-8.8 .7 11.6 .7-12.8 .7 9.4 .7-8.2 .7 12.5 .7-13 .7 9.2 .7-12.2 .7 12.7 .7-9.3 .7 10.1 .7-16.3 .7 19.6 .7-15.9 .7 17.5 .7-18.9 .7 20.9 .7-17.9 .7 12.8 .7-15.7 .7 15.6 .7-17 .7 18.1 .7-12.7 .7 13.8 .7-14.5 .7 16.8 .7-22.1 .7 21.8 .7-17 .7 14.5 .7-14.2 .7 15.8 .7-14.1 .7 14.5 .7-21.8 .7 21.3 .7-18.5 .7 16.3 .7-14.1 .7 13.2 .7-12.9 .7 11.1 .7-10.8 .7 9.1 .7-6.1 .7 6.5 .7-10.1 .7 11 .7-10.1 .7 9.9 .7-8.7 .7 7.5 .7-6.6 .7 4.9 .7-3.1 .7 3 .7-3.8 .7 3.7 .7-3 .7 3.2 .7-5.1 .7 5.6 .7-3.9 .7 5.3 .7-6.4 .7 5.3 .7-4.6 .7 6.7 .7-6.6 .7 4.1 .7-5.2 .7 7.9 .7-9.4 .7 7.3 .7-6.7 .7 9.1 .7-10.8 .7 11.9 .7-10.9 .7 11.7 .7-12.4 .7 9.1 .7-7.3 .7 7.5 .7-10.9 .7 10.4 .7-7.7 .7 13.9 .7-18 .7 15 .7-10.2 .7 9.4 .7-10.1 .7 9.2 .7-11 .7 14.8 .7-12.3 .7 10.5 .7-10.4 .7 7.4 .7-9.4 .7 12.8 .7-11.2 .7 10 .7-13.1 .7 12.6 .7-9.6 .7 8 .7-9.6 .7 11.2 .7-10.7 .7 10.5 .7-10.3 .7 9.5 .7-11 .7 9.3 .7-5.2 .7 7.1 .7-11.3 .7 11.2 .7-11.5 .7 11.7 .7-10.1 .7 12.1 .7-14.8 .7 14 .7-11.5 .7 14.7 .7-15 .7 13.5 .7-15.1 .7 15.5 .7-12.2 .7 13.2 .7-18.1 .7 20.7 .7-23.3 .7 21.9 .7-19.8 .7 21.1 .7-18.1 .7 11.5 .7-16.4 .7 20.2 .7-17.6 .7 15.4 .7-13.4 .7 17.5 .7-19.7 .7 23.6 .7-24.9 .7 18.3 .7-16 .7 13.1 .7-17.2 .7 16.8 .7-15.9 .7 16.3 .7-10.5 .7 11.8 .7-12.7 .7 11.3 .7-11.8 .7 11 .7-8.1 .7 8 .7-9.2 .7 8.8 .7-10.5 .7 13 .7-13.6 .7 10.4 .7-8.8 .7 9.1 .7-10.4 .7 10.3 .7-6.5 .7 9.9 .7-12.6 .7 11.9 .7-8 .7 4.5 .7-4.5 .7 6.6 .7-10.6 .7 9 .7-6.4 .7 8.1 .7-9.4 .7 11.7 .7-10.6 .7 8 .7-10.3 .7 10.7 .7-9 .7 10.2 .7-9.7 .7 8.7 .7-13.5 .7 12.2 .7-7.8 .7 11.2 .7-11.8 .7 11.2 .7-13.8 .7 11.6 .7-8.3 .7 8.7 .7-12.1 .7 14.4 .7-15.9 .7 14.2 .7-11 .7 9.8 .7-12.1 .7 14.7 .7-12.6 .7 9.6 .7-10 .7 12.9 .7-9.3 .7 5.7 .7-8.5 .7 9.8 .7-8.8 .7 9.9 .7-9.6 .7 6.5 .7-4.2 .7 5.7 .7-6.8 .7 7 .7-7.1 .7 5.4 .7-5 .7 5.7 .7-6.5 .7 7.5 .7-6.5 .7 5.3 .7-5.9 .7 6.3 .7-5.9 .7 5.2 .7-4.6 .7 6.1 .7-7.4 .7 7.8 .7-9.7 .7 8.6 .7-6.9 .7 10.6 .7-11.3 .7 9.5 .7-13.6 .7 11.9 .7-9.1 .7 10.5 .7-15.5 .7 21.6 .7-21.7 .7 19 .7-16.9 .7 18.1 .7-19.8 .7 21.8 .7-23.4 .7 22 .7-15 .7 16.2 .7-19.5 .7 17.7 .7-20.8 .7 24.4 .7-23.5 .7 20.7 .7-23.4 .7 17.8 .7-15.1 .7 15.7 .7-13.9 .7 15 .7-13.2 .7 17.5 .7-16.8 .7 16.8 .7-18.8 .7 18.3 .7-17.9 .7 15.5 .7-14.6 .7 16.2 .7-12.5 .7 7.1 .7-8.2 .7 12.9 .7-17.3 .7 12.8 .7-8.7 .7 10.4 .7-10 .7 8.5 .7-8.3 .7 12 .7-11.8 .7 10.7 .7-15.3 .7 13.1 .7-10.6 .7 9.4 .7-7.6 .7 10.6 .7-14.2 .7 12.8" stroke="#000" stroke-opacity="0.8" stroke-width="0.95"/><path d="M200 876.3l.5 1.8 .5-2.1 .5 2.1 .5-1.8 .5 .6 .5-1 .5 1.2 .5-1.3 .5 1.4 .5-1.2 .5 1.4 .5-1.9 .5 1.6 .5-1.1 .5 1.2 .5-.6 .5 1.5 .5-1.6 .5 1.4 .5-2.1 .5 2.4 .5-2 .5 2 .5-1.8 .5 1.6 .5-1.6 .5 2.1 .5-2.3 .5 1 .5-.7 .5 1.2 .5-1.3 .5 1.3 .5-.4 .5-.4 .5 .2 .5 1.8 .5-3.2 .5 1.4 .5 0 .5 .3 .5-1.4 .5 1.6 .5-2 .5 2.3 .5-1.3 .5 .7 .5-.5 .5 .7 .5-.9 .5 1.6 .5-1.9 .5 1.1 .5-.7 .5 .3 .5-1.3 .5 .7 .5 .6 .5 .7 .5-1.1 .5 1 .5-1.8 .5 2.2 .5-1 .5 1.4 .5-1.6 .5 .3 .5-.1 .5 0 .5-.3 .5 .6 .5-.1 .5 .1 .5-.8 .5 1.8 .5-2.4 .5 1.4 .5-.5 .5 .4 .5-.7 .5 1.2 .5-2.2 .5 2.1 .5-1.6 .5 1 .5-.1 .5 1.3 .5-1.4 .5 .7 .5-1.2 .5 .6 .5 .3 .5 0 .5-.6 .5 1.3 .5-1.3 .5 1 .5-1.3 .5 .6 .5-1.3 .5 1 .5 .4 .5-.1 .5-.6 .5 .2 .5-.1 .5 .6 .5-.7 .5 1 .5-.4 .5 .2 .5-1.1 .5 1.6 .5-1.4 .5 1.1 .5-.9 .5 .5 .5 .1 .5 .9 .5-1.7 .5 1.1 .5-1.3 .5 1.6 .5-1.3 .5 .7 .5-1.1 .5 2 .5-2.3 .5 2 .5-1.1 .5 1 .5-1.6 .5 1.8 .5-2 .5 1.9 .5-1.6 .5 .8 .5 .3 .5 .8 .5-1.2 .5-.2 .5 .3 .5 1 .5-.8 .5 .8 .5-1 .5 .5 .5-.8 .5 1 .5-1.7 .5 1.5 .5-2 .5 3 .5-1.2 .5 .9 .5-1.8 .5 1.7 .5-1.5 .5 1.3 .5-1.2 .5 .9 .5-.5 .5 1.6 .5-1.5 .5 .1 .5-.7 .5 1.8 .5-1.8 .5 1.4 .5-2.4 .5 1.6 .5-1.1 .5 2.1 .5-1.6 .5 1.4 .5-1.5 .5 1.5 .5-2.1 .5 1.5 .5-1.4 .5 1 .5 0 .5 .6 .5-1.7 .5 2.3 .5-1.7 .5 1.2 .5-1 .5 .5 .5-.8 .5 1.7 .5-1.6 .5 1.4 .5-1.6 .5 1 .5-.9 .5 1.5 .5-1.4 .5 .3 .5-.7 .5 1.9 .5-1.4 .5 1.4 .5-2.2 .5 1.7 .5-1.6 .5 1.8 .5-.6 .5 1.5 .5-1.8 .5 1 .5-1.3 .5 1 .5-1 .5 .8 .5-.1 .5-.2 .5-.1 .5 .7 .5 .2 .5 .5 .5-1.5 .5 1 .5-.8 .5 .7 .5-.6 .5 .7 .5-.1 .5 .4 .5-.2 .5-1 .5-1.1 .5-.1 .5 .5 .5 1.2 .5 1.7 .5 1.5 .5 1.3 .5-1.7 .5-2.7 .5-2.4 .5-1.4 .5 .7 .5 2.8 .5 3.5 .5 3 .5 .4 .5-1.7 .5-3.6 .5-3.3 .5-2.4 .5 .9 .5 1.8 .5 4.1 .5 3.6 .5 1.1 .5-1.7 .5-3.7 .5-3.5 .5-2.7 .5 .8 .5 2.2 .5 3.5 .5 2.6 .5 2.6 .5-1.3 .5-2.9 .5-4 .5-3 .5 0 .5 1.5 .5 3.5 .5 3.7 .5 1.9 .5 .3 .5-3.6 .5-3.4 .5-3.2 .5-1 .5 1.8 .5 3.4 .5 3.2 .5 2.6 .5-.2 .5-2.9 .5-2.5 .5-4.5 .5-.8 .5 .1 .5 3.8 .5 4.4 .5 2.1 .5 .9 .5-2.4 .5-3.2 .5-3.6 .5-2.2 .5 .1 .5 2.8 .5 4.5 .5 3 .5 .8 .5-1.3 .5-4.1 .5-3.5 .5-2.8 .5 0 .5 2.7 .5 3.6 .5 3.6 .5 2 .5-1.2 .5-3.7 .5-3.9 .5-2.3 .5-.4 .5 1.6 .5 4.2 .5 3.4 .5 2.7 .5-.9 .5-3.1 .5-3.8 .5-3.4 .5-.8 .5 1.7 .5 3.4 .5 4.1 .5 2.1 .5-.3 .5-1.9 .5-4.7 .5-3.2 .5-1.1 .5 1 .5 2.9 .5 3.7 .5 2.5 .5 1 .5-1.9 .5-4 .5-3.4 .5-2.1 .5 .8 .5 3.4 .5 2.9 .5 2.8 .5-.1 .5-1.5 .5-2.3 .5-2.1 .5-1.4 .5 .2 .5 1.2 .5 .9 .5 .9 .5-.1 .5-.3 .5-1.3 .5 3.2 .9-5 .9 3.9 .9-3.3 .9 4 .9-4.1 .9 3.1 .9-3.8 .9 4.4 .9-3.4 .9 2.5 .9-2.4 .9 2.9 .9-4.4 .9 5.4 .9-4.4 .9 4.6 .9-4.9 .9 4.3 .9-4.8 .9 3.9 .9-2.9 .9 4.2 .9 .9 1.2-6.7 1.2 6.9 1.2-6.6 1.2 7.4 1.2-8.5 1.2 7.4 1.2-6.5 1.2 7.1 1.2-8.7 1.2 9.3 1.2-9.6 1.2 9.8 1.2-8.5 1.2 8.1 1.2-8.3 1.2 7.6 1.2-8.4 1.2 9.3 1.2-9.5 1.2 10.5 1.2-9.7 1.2 8.8 1.2-9.9 1.2 10.8 1.2-10.3 1.2 10.8 1.2-10.9 1.2 10.8 1.2-12.7 1.2 13.4 1.2-12.6 1.2 13.2 1.2-13.4 1.2 14.3 1.2-15.4 1.2 15.3 1.2-15.2 1.2 15.4 1.2-14.4 1.2 15.1 1.2-15.2 1.2 12.6 1.2-12.1 1.2 14.3 1.2-13.9 1.2 12.4 1.2-13.8 1.2 12.1 1.2-12.1 1.2 14.4 1.2-13.1 1.2 10.6 1.2-11 1.2 11.5 1.2-11.8 1.2 13.5 1.2-12.4 1.2 10.5 1.2-13 1.2 13.7 1.2-11.7 1.2 13.4 1.2-16.3 1.2 15.5 1.2-13.1 1.2 12.9 1.2-13 1.2 12.9 1.2-12.9 1.2 15.6 1.2-18.3 1.2 16.4 1.2-14.2 1.2 15.5 1.2-16.4 1.2 15.5 1.2-15.4 1.2 15 1.2-14.5 1.2 15.2 1.2-15.6 1.2 15.3 1.2-13.7 1.2 13.3 1.2-14.2 1.2 12.1 1.2-12.1 1.2 12.9 1.2-13 1.2 12.9 1.2-13.5 1.2 15.4 1.2-16.1 1.2 15.7 1.2-16 1.2 17.9 1.2-18.3 1.2 17.5 1.2-16.8 1.2 17 1.2-16.7 1.2 19.4 1.2-19.2 1.2 19.4 1.2-23.7 1.2 22.8 1.2-22.6 1.2 22.2 1.2-21.3 1.2 22.4 1.2-21.1 1.2 21.3 1.2-19.1 1.2 16.8 1.2-19.1 1.2 20.2 1.2-17.7 1.2 17.5 1.2-18.6 1.2 17.9 1.2-18.1 1.2 16.9 1.2-16.7 1.2 17.8 1.2-17.5 1.2 20 1.2-23.9 1.2 22 1.2-20.1 1.2 21 1.2-24.2 1.2 24.9 1.2-23.1 1.2 24.5 1.2-26.7 1.2 27.3 1.2-24.8 1.2 24.9 1.2-26.7 1.2 26.8 1.2-24.1 1.2 21.5 1.2-20 1.2 18.8 1.2-18.3 1.2 16.3 1.2-15.9 1.2 15.6 1.2-16.5 1.2 17.1 1.2-15.4 1.2 17.5 1.2-19.9 1.2 18.9 1.2-18.5 1.2 18.6 1.2-19.9 1.2 18.6 1.2-17.4 1.2 20 1.2-19.9 1.2 17.8 1.2-17.6 1.2 17.6 1.2-18.4 1.2 20 1.2-19.7 1.2 17.2 1.2-16.6 1.2 17.2 1.2-16.4 1.2 15.9 1.2-17.7 1.2 18.9 1.2-18 1.2 18.3 1.2-17.8 1.2 15.5 1.2-14.9 1.2 16 1.2-15 1.2 12.4 1.2-12.5 1.2 14.5 1.2-15.3 1.2 14.3 1.2-13.9 1.2 14.1 1.2-12.4 1.2 13.5 1.2-15.6 1.2 16.1 1.2-16.6 1.2 15 1.2-14.2 1.2 16.5 1.2-19.2 1.2 18 1.2-17.6 1.2 17.4 1.2-16.8 1.2 16.8 1.2-18.3 1.2 20.5 1.2-19.7 1.2 18.4 1.2-18 1.2 16.8 1.2-14.7 1.2 17.2 1.2-17.8 1.2 16.3 1.2-15.9 1.2 16.8 1.2-15.9 1.2 13.9 1.2-14.5 1.2 14.5 1.2-15.8 1.2 17.1 1.2-17.4 1.2 15.9 1.2-16.2 1.2 17.7 1.2-18.3 1.2 17.6 1.2-19.5 1.2 20 1.2-17.3 1.2 20.9 1.2-22.3 1.2 22.2 1.2-23.6 1.2 25.6 1.2-27.5 1.2 25.8 1.2-22.8 1.2 23.7 1.2-23.3 1.2 19.7 1.2-19.7 1.2 22.8 1.2-23.9 1.2 21.6 1.2-19.1 1.2 20.8 1.2-23.3 1.2 21.8 1.2-20.3 1.2 20.9 1.2-21 1.2 18.4 1.2-18.3 1.2 19.7 1.2-18.5 1.2 18.4 1.2-19.4 1.2 17.6 1.2-19.2 1.2 21.2 1.2-21.8 1.2 21.6 1.2-19.1 1.2 20.7 1.2-21.3 1.2 22.1 1.2-21.1 1.2 19.4 1.2-19.3 1.2 19.6 1.2-20.9 1.2 18 1.2-16.2 1.2 18.7 1.2-19.6 1.2 18.3 1.2-18.1 1.2 17.9 1.2-18.1 1.2 16.5 1.2-15 1.2 15.8 1.2-16.2 1.2 15.9 1.2-14.1 1.2 12.2 1.2-14.1 1.2 14.2 1.2-12.3 1.2 14.1 1.2-14.3 1.2 13.8 1.2-14.7 1.2 16.3 1.2-17.2 1.2 15.6 1.2-15.8 1.2 15.9 1.2-17.5 1.2 17.3 1.2-14.8 1.2 16.1 1.2-18.5 1.2 17.5 1.2-14.4 1.2 16.4 1.2-19 1.2 17.2 1.2-15.9 1.2 17.4 1.2-17.5 1.2 14.6 1.2-14.9 1.2 16.5 1.2-14.3 1.2 12.4 1.2-12.8 1.2 14.2 1.2-14.8 1.2 13.9 1.2-13.1 1.2 15.7 1.2-17.5 1.2 18.1 1.2-19.1 1.2 17.6 1.2-18.2 1.2 18.8 1.2-19.8 1.2 21.6 1.2-20.1 1.2 18.7 1.2-19.9 1.2 21.6 1.2-19.9 1.2 19.5 1.2-20.9 1.2 23 1.2-21.2 1.2 18.3 1.2-18.8 1.2 17.7 1.2-21 1.2 22 1.2-18.3 1.2 18.4 1.2-18.7 1.2 16.9 1.2-15.8 1.2 18.9 1.2-20.2 1.2 17 1.2-16.6 1.2 17.8 1.2-19.4 1.2 18.7 1.2-16.6 1.2 20.5 1.2-24.7 1.2 22.9 1.2-21.4 1.2 21.2 1.2-23.1 1.2 24.6 1.2-22.4 1.2 22.2 1.2-22.5 1.2 20.7 1.2-22.1 1.2 22.1 1.2-18.5 1.2 19.2 1.2-22.5 1.2 20.2 1.2-16.4 1.2 17.7 1.2-18.5 1.2 18.9 1.2-16.8 1.2 15.4 1.2-18 1.2 18.5 1.2-16 1.2 15.4 1.2-15.3 1.2 15.5 1.2-14.7 1.2 12.7 1.2-15.5 1.2 15.5 1.2-13.9 1.2 16.1 1.2-16 1.2 14.9 1.2-16 1.2 16 1.2-16.4 1.2 17.9 1.2-17.6 1.2 16.8 1.2-18.8 1.2 18.4 1.2-14.8 1.2 16.4 1.2-18.2 1.2 16.1 1.2-15.8 1.2 15.7 1.2-15.7 1.2 15.8 1.2-14.7 1.2 12.8 1.2-11.9 1.2 12.9 1.2-12.7 1.2 12.7 1.2-14.5 1.2 14.1 1.2-12.5 1.2 14 1.2-16.2 1.2 15.7 1.2-13.5 1.2 16 1.2-17.7 1.2 17.3 1.2-18.2 1.2 17 1.2-15.5 1.2 18.1 1.2-19.9 1.2 18.5 1.2-17.6 1.2 18.2 1.2-20.7 1.2 21.2 1.2-20.6 1.2 20.7 1.2-18.4 1.2 17 1.2-19.3 1.2 19.6 1.2-19 1.2 17.7 1.2-15.3 1.2 15.9 1.2-16.1 1.2 16.8 1.2-18.1 1.2 16.2 1.2-18.4 1.2 20.9 1.2-20.8 1.2 20.2 1.2-17.9 1.2 20.9 1.2-24.3 1.2 23.8 1.2-23.1 1.2 21.8 1.2-22.1 1.2 21.1 1.2-18.6 1.2 19.1 1.2-22.5 1.2 24.7 1.2-24.5 1.2 22.6 1.2-19.8 1.2 19.2 1.2-21.7 1.2 21.3 1.2-20.8 1.2 20.3 1.2-19.7 1.2 22.8 1.2-19.8 1.2 15.5 1.2-15 1.2 17.5 1.2-19.5 1.2 17.6 1.2-15.9 1.2 15.1 1.2-16.6 1.2 17.1 1.2-15.2 1.2 14.7 1.2-17 1.2 17.9 1.2-16.9 1.2 17.7 1.2-18 1.2 17.3 1.2-18.2 1.2 18.9 1.2-16.8 1.2 16.7 1.2-18.1 1.2 19.1 1.2-19 1.2 17.9 1.2-19.2 1.2 18.4 1.2-16.3 1.2 15.5 1.2-14.1 1.2 14.7 1.2-14.3 1.2 13.8 1.2-14.9 1.2 14.7 1.2-12.9 1.2 13.4 1.2-13.7 1.2 12.8 1.2-14.6 1.2 14.6 1.2-13.1 1.2 11.9 1.2-13.1 1.2 13.4 1.2-13.9 1.2 17.2 1.2-15.6 1.2 14 1.2-14.7 1.2 16.3 1.2-17.9 1.2 16.4 1.2-15 1.2 18.1 1.2-19 1.2 17.9 1.2-18 1.2 17.1 1.2-16.2 1.2 16.7 1.2-17.1 1.2 17.3 1.2-19.8 1.2 18.9 1.2-18.5 1.2 19.4 1.2-17.7 1.2 17.2 1.2-17 1.2 15 1.2-16.9 1.2 20.1 1.2-17.6 1.2 15 1.2-16.4 1.2 18 1.2-18.4 1.2 20.5 1.2-20 1.2 20.2 1.2-21.5 1.2 19.1 1.2-21.5 1.2 21.9 1.2-22.7 1.2 23.6 1.2-22.4 1.2 23.3 1.2-22.6 1.2 24 1.2-23.2 1.2 22.3 1.2-23.6 1.2 24.2 1.2-21 1.2 19.8 1.2-22.5 1.2 20 1.2-17.6 1.2 17.3 1.2-19.8 1.2 21.2 1.2-19.6 1.2 20 1.2-21.5 1.2 11.8 .5-1.1 .5 1.6 .5-1.7 .5 .7 .5 0 .5-.2 .5-.8 .5 1.1 .5-.3 .5-.4 .5 .5 .5 1 .5-1.7 .5 .7 .5-.8 .5 1.6 .5-2.2 .5 1.1 .5-1.1 .5 1.7 .5-1.3 .5 1.5 .5-1.7 .5 1.6 .5-1 .5 1.2 .5-2.8 .5 2.4 .5-1.9 .5 1.9 .5-.4 .5 .8 .5-1.8 .5 1.6 .5-1.2 .5 .6 .5-.4 .5 1.7 .5-1.8 .5 .9 .5-1.1 .5 .6 .5-.4 .5 .7 .5-1 .5 .2 .5 .1 .5 1.8 .5-2.7 .5 2.5 .5-2 .5 2.3 .5-1.9 .5 1.7 .5-2.2 .5 1.3 .5-.4 .5 .6 .5-.6 .5 .3 .5-.2 .5 .1 .5-1.5 .5 2.7 .5-2.3 .5 1 .5-.9 .5 1.2 .5-1.5 .5 1.5 .5-.6 .5 .6 .5-1.3 .5 1.7 .5-1 .5 .5 .5-.7 .5 .9 .5-.7 .5 .2 .5-.2 .5 .8 .5-1.5 .5 2.1 .5-2 .5 2.1 .5-1.7 .5 .4 .5-.2 .5 1.5 .5-1.1 .5-.1 .5-.9 .5 .9 .5-.1 .5 1 .5-1.7 .5 1.4 .5-.8 .5 .9 .5-1 .5 1.2 .5-2.8 .5 2.6 .5-1.2 .5 1.8 .5-2.2 .5 1.4 .5-.8 .5 .9 .5-.8 .5 1.2 .5-2.2 .5 2.2 .5-1.4 .5 1.2 .5-1.6 .5 1.2 .5-1.4 .5 1.8 .5-1.2 .5 .6 .5 .4 .5-1.1 .5-.2 .5 1.5 .5-1.3 .5 1.6 .5-1.6 .5 1.2 .5-1.5 .5 1.4 .5-1.2 .5 1.2 .5-1.9 .5 2.2 .5-2 .5 2.1 .5-2.5 .5 1.9 .5-.8 .5 1.1 .5-1.4 .5 .9 .5-.7 .5 .1 .5-.5 .5 .9 .5-1.2 .5 1.6 .5-.7 .5 1.1 .5-1.6 .5 2 .5-2.1 .5 1.6 .5-.8 .5 .8 .5-1.4 .5 1.2 .5-2.2 .5 1.7 .5-.8 .5 1.2 .5-1 .5 .9 .5-1.8 .5 2.7 .5-1.9 .5 1.8" stroke="#222" stroke-opacity="0.62" stroke-width="0.85"/><path d="M635 878.7l.7-2.2 .7 2.1 .7-2.3 .7 1.8 .7-1.6 .7 2.1 .7-2.1 .7 1.8 .7-1.9 .7 2.6 .7-1.8 .7 1.8 .7-2.7 .7 2.7 .7-1.8 .7 1.3 .7-1.8 .7 2.9 .7-4.1 .7 2.9 .7-2.6 .7 4.9 .7-4.8 .7 4.6 .7-6.1 .7 6.3 .7-6.1 .7 4.1 .7-3.3 .7 4 .7-2.8 .7 4.9 .7-7.2 .7 7.9 .7-6.6 .7 4.7 .7-6.9 .7 8.2 .7-9.3 .7 8.9 .7-8.7 .7 6.9 .7-5.1 .7 7.4 .7-6.7 .7 8.9 .7-11.2 .7 11.5 .7-12.5 .7 8.6 .7-8.4 .7 10.9 .7-7 .7 3.9 .7-4 .7 6.9 .7-7 .7 5.2 .7-5.6 .7 4.4 .7-4.7 .7 5.1 .7-8.4 .7 12.3 .7-8.3 .7 4.6 .7-8.7 .7 9.4 .7-6.1 .7 8.5 .7-9.1 .7 8.9 .7-11 .7 7.4 .7-6.1 .7 7.5 .7-8.3 .7 9.1 .7-7.7 .7 9.5 .7-11.6 .7 11.4 .7-11.6 .7 8.5 .7-5.7 .7 9.3 .7-10.3 .7 6 .7-8.2 .7 9.9 .7-7.2 .7 8.6 .7-11.4 .7 10.8 .7-8.2 .7 6.5 .7-4.6 .7 3.9 .7-3.6 .7 3.5 .7-5.5 .7 8.3 .7-8.7 .7 8.7 .7-6.8 .7 8.3 .7-11.8 .7 11.6 .7-10.4 .7 8.1 .7-8.5 .7 10.7 .7-7.6 .7 3.6 .7-3.8 .7 3.9 .7-6.9 .7 6.5 .7-7 .7 10 .7-8.9 .7 7.9 .7-6.2 .7 4.4 .7-7.2 .7 7.1 .7-5.6 .7 5.9 .7-4.1 .7 7.8 .7-9.3 .7 6.8 .7-8.3 .7 7.2 .7-4.9 .7 7.1 .7-7.5 .7 7.2 .7-8.5 .7 6.9 .7-7.3 .7 7.9 .7-6.7 .7 9.3 .7-8.5 .7 9.3 .7-9.9 .7 8.4 .7-10.7 .7 11.8 .7-7.6 .7 4.2 .7-8.9 .7 9.4 .7-6.5 .7 8.4 .7-9.5 .7 9.6 .7-10.2 .7 9.6 .7-7.4 .7 8.2 .7-9.2 .7 7 .7-6.4 .7 6.9 .7-7 .7 8.7 .7-10.5 .7 7.5 .7-8.6 .7 8.2 .7-7 .7 11.4 .7-10.2 .7 8 .7-7.5 .7 7 .7-9.5 .7 12.5 .7-10 .7 9.9 .7-8.7 .7 7.7 .7-7.2 .7 7.8 .7-8.9 .7 4.7 .7-6.4 .7 10.2 .7-10.1 .7 8.1 .7-10 .7 10.3 .7-6.8 .7 5.7 .7-6.5 .7 9.1 .7-8.6 .7 7.5 .7-8.2 .7 8.8 .7-11.1 .7 9.9 .7-9.9 .7 8.7 .7-4.8 .7 6.5 .7-5.9 .7 5.7 .7-8.3 .7 6.7 .7-5 .7 5.8 .7-8.8 .7 11.4 .7-7.5 .7 5.4 .7-10.1 .7 11.2 .7-9 .7 8.4 .7-6.3 .7 5.2 .7-6.7 .7 5.5 .7-6 .7 5.7 .7-6.1 .7 10.1 .7-9 .7 8.5 .7-11 .7 9.3 .7-5.5 .7 5 .7-7.5 .7 10.3 .7-8.2 .7 8.9 .7-8 .7 7.5 .7-10.3 .7 10.9 .7-11.8 .7 11.2 .7-12 .7 11.6 .7-8.1 .7 6.4 .7-7.9 .7 6.3 .7-8.4 .7 9.2 .7-5.2 .7 5 .7-4.9 .7 4.4 .7-8.6 .7 9.3 .7-5 .7 4.2 .7-7.3 .7 7.1 .7-7.8 .7 9.4 .7-6.4 .7 4.7 .7-6.6 .7 9.4 .7-7.5 .7 5.2 .7-4.2 .7 4.2 .7-6.3 .7 5.5 .7-3.5 .7 7.1 .7-8.8 .7 10 .7-9.2 .7 7.5 .7-7 .7 6.7 .7-7.1 .7 5.5 .7-9.3 .7 8 .7-6.6 .7 8.2 .7-8.3 .7 9.7 .7-6.8 .7 5 .7-8.9 .7 12.6 .7-8.6 .7 6.9 .7-8.3 .7 6.5 .7-8.5 .7 7.8 .7-7.1 .7 6.7 .7-4.1 .7 3.9 .7-3.7 .7 8.6 .7-11.8 .7 11.5 .7-12 .7 7.6 .7-7.5 .7 8.9 .7-5.5 .7 7.7 .7-7.4 .7 5.3 .7-8.4 .7 9.8 .7-10.1 .7 11 .7-10.4 .7 6.3 .7-5.6 .7 7.4 .7-7.8 .7 9.1 .7-8.1 .7 9.3 .7-8.1 .7 4.7 .7-7 .7 10.9 .7-8.6 .7 7.1 .7-10.1 .7 8.5 .7-9 .7 10.4 .7-8.8 .7 6.4 .7-6.2 .7 7.8 .7-10.2 .7 10.7 .7-9.4 .7 10.6 .7-11.5 .7 8.5 .7-5 .7 8 .7-8.3 .7 5.2 .7-4.1 .7 5.7 .7-8.1 .7 6.6 .7-8.7 .7 8.4 .7-5.2 .7 5.4 .7-5.7 .7 9.3 .7-12 .7 8.1 .7-5.1 .7 4.6 .7-6.3 .7 9.2 .7-9.7 .7 9 .7-6.1 .7 5.2 .7-9.1 .7 9.4 .7-8.4 .7 10.2 .7-10.6 .7 9.8 .7-7.5 .7 8.9 .7-8.6 .7 9 .7-10.5 .7 7.5 .7-5.2 .7 6.1 .7-6.9 .7 5.6 .7-4.4 .7 3.8 .7-8.1 .7 12.5 .7-11.5 .7 8.2 .7-4.8 .7 7.3 .7-9.2 .7 9.5 .7-9.8 .7 8 .7-6.4 .7 7.3 .7-8.7 .7 5.2 .7-5.2 .7 10.1 .7-9 .7 6.7 .7-8.6 .7 9.5 .7-7.2 .7 8.5 .7-9.1 .7 8.5 .7-9.8 .7 9 .7-7 .7 5.6 .7-6.5 .7 5.4 .7-4.1 .7 4.9 .7-8.4 .7 6.8 .7-6.2 .7 9.6 .7-7 .7 7.6 .7-10.5 .7 9.8 .7-10.9 .7 10.5 .7-6.8 .7 6.7 .7-7.9 .7 6.7 .7-8.5 .7 6.8 .7-6.7 .7 6.8 .7-4.8 .7 5 .7-5.4 .7 6.3 .7-7.5 .7 8.4 .7-8.7 .7 7.5 .7-4.5 .7 4.7 .7-7 .7 8.5 .7-10.3 .7 8.3 .7-8 .7 11.6 .7-11.5 .7 7.5 .7-6.5 .7 6.6 .7-8 .7 8.4 .7-5.8 .7 6.8 .7-5.2 .7 5.9 .7-8.3 .7 6.6 .7-4.2 .7 3.7 .7-4.8 .7 9.1 .7-8.3 .7 6.2 .7-8 .7 7.6 .7-9.6 .7 9.4 .7-6.5 .7 9.6 .7-8.3 .7 7.1 .7-9.8 .7 9.2 .7-8.7 .7 7.7 .7-6.3 .7 7.2 .7-7.9 .7 8.1 .7-9.9 .7 9.8 .7-8.8 .7 6.1 .7-5.6 .7 7.3 .7-6.6 .7 6.4 .7-6.9 .7 8 .7-9.5 .7 10.1 .7-9.9 .7 6.5 .7-7.5 .7 11.1 .7-7.9 .7 8.7 .7-11.8 .7 8.1 .7-4.3 .7 3.7 .7-7.5 .7 7.5 .7-7.2 .7 9 .7-7.4 .7 6.8 .7-7.9 .7 11.3 .7-10.9 .7 8.2 .7-7.7 .7 8.2 .7-8.4 .7 7.3 .7-8.2 .7 9 .7-7 .7 7.1 .7-9.1 .7 10 .7-8.7 .7 10.3 .7-8.5 .7 5.9 .7-7.1 .7 9.5 .7-12.4 .7 9.9 .7-10.2 .7 12.1 .7-9.3 .7 8.2 .7-10.1 .7 8.2 .7-7.4 .7 6.9 .7-7.5 .7 10.4 .7-8.3 .7 7.7 .7-9.1 .7 8.8 .7-8.2 .7 6.5 .7-8.8 .7 12 .7-10 .7 6.8 .7-4.5 .7 7.8 .7-12.1 .7 11 .7-6.3 .7 4.8 .7-7.4 .7 6.9 .7-4.5 .7 6.6 .7-10.8 .7 8.3 .7-5.9 .7 9.8 .7-8.3 .7 4.9 .7-4.5 .7 8 .7-9.4 .7 5.1 .7-5.5 .7 7 .7-9.5 .7 8.4 .7-5.7 .7 5.8 .7-7.3 .7 7 .7-6.3 .7 8 .7-9.9 .7 11.5 .7-9.1 .7 5.3 .7-6.5 .7 7.7 .7-8.6 .7 8.9 .7-5.5 .7 6.3 .7-10.5 .7 12.3 .7-11.8 .7 10.8 .7-6.8 .7 5.3 .7-9 .7 8 .7-7.2 .7 11.1 .7-10.3 .7 7.7 .7-5.6 .7 7.4 .7-8.4 .7 5.1 .7-5.2 .7 6.3 .7-5.1 .7 8 .7-12.4 .7 9.6 .7-9.1 .7 9.1 .7-6.7 .7 5.5 .7-8 .7 7.5 .7-4.3 .7 7.3 .7-8.6 .7 9.5 .7-10.6 .7 8.5 .7-9.7 .7 10.9 .7-8.5 .7 8.9 .7-8.2 .7 5.5 .7-7.6 .7 8.2 .7-8.7 .7 7.6 .7-4.7 .7 8.2 .7-7.5 .7 4.9 .7-8 .7 9.4 .7-9.6 .7 11.3 .7-9.8 .7 6.1 .7-7.1 .7 8 .7-8.3 .7 7.3 .7-6.2 .7 7.1 .7-4.4 .7 3.7 .7-6.1" stroke="#000" stroke-opacity="0.7" stroke-width="0.9"/><path d="M415 91.6l1-.4 1-.1 1 0 1 .1 1-.1 1 0 1-.1 1-.3 1 .4 1 0 1-.1 1-.2 1-.1 1 .1 1 .4 1 .2 1 .1 1 .1 1 .1 1 .3 1-.4 1-.2 1 0 1 0 1 .3 1-.2 1-.1 1-.3 1 .2 1 0 1-.1 1-.1 1 0 1-.2 1-.1 1 0 1 .3 1 0 1-.1 1-.5 1 .1 1 .1 1 .2 1-.1 1 .2 1 .2 1 .2 1 .2 1-.3 1-.1 1-.1 1 .3 1 .1 1-.2 1-.2 1-.1 1 .2 1 .3 1-.4 1 .2 1-.1 1 .3 1-.5 1 .3 1-.2 1-.2 1-.2 1 0 1 .4 1 .2 1 .4 1 0 1-.2 1 .1 1-.4 1 .1 1-.3 1 .5 1-.1 1 .2 1-.3 1 0 1 .3 1 .4 1 0 1-.2 1-.4 1-.3 1 .1 1 .2 1-.3 1 0 1 0 1 .3 1 0 1 0 1 0 1-.1 1-.2 1 .4 1 .1 1 0 1-.3 1-.3 1-.1 1 .2 1-.2 1 .2 1 0 1-.1 1-.3 1 .3 1-.3 1-.1 1 0 1 .4 1 .2 1 .2 1 .2 1 0 1 .1 1-.2 1 0 1 .3 1 0 1-.2 1 0 1-.1 1-.1 1-.1 1 .1 1 .2 1 .3 1 .2 1-.4 1-.3 1 0 1 0 1-.2 1-.1 1 .1 1 .1 1 .1 1 .2 1 .2 1-.2 1 0 1 0 1 .3 1 .1 1-.2 1-.3 1-.1 1 .2 1 .1 1-.1 1-.4 1-.1 1-.2 1 .2 1 .1 1 .1 1 .1 1 0 1 .3 1-.2 1 .1 1-.5 1-.1 1-.2 1 .2 1 0 1 0 1 0 1-.1 1 0 1 .2 1 .3 1-.1 1 0 1 .2 1 .1 1-.1 1 0 1-.1 1-.1 1-.2 1 .2 1 .1 1-.3 1 0 1 .2 1 0 1 .1 1-.4 1 .1 1 0 1 .2 1 .1 1 .1 1-.3 1 .1 1 .1 1 .1 1-.2 1 .1 1 0 1 .1 1-.3 1 .2 1 .3 1 .2 1 0 1-.2 1 .1 1-.2 1-.3 1 .2 1 0 1 .2 1-.1 1-.2 1-.1 1 .2 1-.1 1-.1 1 .1 1 .1 1 .1 1-.2 1-.2 1-.2 1-.1 1 .1 1-.1 1 .2 1 .1 1-.2 1-.1 1 0 1 0 1-.3 1-.2 1 0 1 .2 1 0 1 .4 1-.2 1 .1 1-.3 1-.1 1 .4 1 .2 1 .2 1-.2 1 0 1 .1 1 .4 1 .1 1-.2 1-.5 1 .2 1-.1 1 .1 1 .1 1 .1 1 0 1-.4 1-.2 1 0 1 0 1 0 1 .1 1 0 1 .4 1 0 1 .1 1-.4 1 0 1 .1 1 .2 1-.3 1 .2 1-.2 1-.2 1 0 1 .2 1 0 1 .1 1 .1 1-.1 1 .2 1 .2 1 .3 1 .1 1-.1 1-.4 1-.2 1-.1 1 .3 1-.2 1 .3 1-.3 1 0 1-.1 1 .3 1 0 1 .1 1-.1 1 0 1 .1 1-.2 1 .1 1 0 1 .2 1 .1 1 .1 1 .2 1-.2 1-.1 1 .2 1-.2 1 .1" stroke="#0072bd" stroke-opacity="0.7" stroke-width="1.35"/><path d="M415 104.3l1-.5 1 .1 1-.3 1 .2 1 0 1 .1 1 0 1 .2 1 0 1 .1 1 0 1-.1 1-.2 1 .3 1-.3 1 .2 1-.1 1 0 1-.2 1 0 1 .3 1 .1 1 0 1-.3 1 .1 1 0 1-.2 1-.1 1 .1 1 .1 1-.1 1-.4 1 .2 1 .1 1 .2 1-.2 1 .2 1 .2 1 0 1 .1 1 0 1 0 1-.1 1 .1 1 .1 1-.1 1 .1 1-.1 1 .3 1 .1 1-.2 1-.4 1-.2 1 0 1 .2 1 .3 1 .1 1 0 1 0 1-.1 1-.2 1-.3 1-.1 1-.2 1 .2 1 .4 1 .2 1 .3 1-.3 1-.1 1-.2 1 0 1-.3 1 .1 1 .2 1 .1 1-.2 1-.5 1-.2 1 .1 1 .1 1 .3 1-.2 1 0 1-.2 1 .1 1-.1 1 .3 1 0 1 0 1-.2 1 .1 1 0 1-.2 1 .1 1 .2 1 .2 1 0 1-.2 1 .2 1 .3 1-.2 1-.1 1-.4 1 0 1 0 1 0 1 .2 1 .2 1-.2 1 .2 1 0 1 .2 1-.2 1-.1 1 0 1-.1 1 .4 1 .2 1 .3 1-.1 1 .1 1 .1 1 .1 1 .1 1-.1 1-.2 1-.2 1-.1 1-.2 1-.2 1-.1 1 .1 1 0 1 0 1-.4 1 .1 1 0 1 0 1 0 1 .2 1 .1 1 .2 1 .2 1 .2 1-.2 1-.2 1 0 1 .2 1 .1 1 0 1-.1 1 .1 1-.3 1 .3 1-.1 1 .1 1-.3 1-.3 1 .1 1-.1 1 .2 1 .1 1 0 1-.1 1 0 1-.1 1 .2 1-.1 1 .1 1 0 1 .2 1 0 1 0 1 .1 1 .1 1-.1 1 0 1-.2 1-.2 1 0 1 0 1 0 1-.2 1-.1 1 .1 1-.4 1-.3 1-.4 1 0 1 .4 1 .5 1 .4 1 0 1 .1 1 .1 1 .3 1-.1 1 .2 1-.1 1 .2 1 .1 1 .2 1 .2 1-.1 1-.3 1 .1 1 0 1 .2 1-.5 1-.4 1-.2 1 0 1 .2 1 0 1-.1 1 0 1 0 1 0 1-.2 1 .2 1 .3 1-.1 1-.4 1-.1 1-.2 1 .2 1 .1 1 0 1 0 1-.1 1 .2 1 .1 1 .1 1 .1 1 0 1 .2 1 0 1-.1 1-.1 1-.2 1 .1 1 0 1 0 1-.7 1-.2 1 .1 1 .5 1 .4 1 .1 1-.3 1-.1 1-.1 1-.1 1 0 1 .2 1 .3 1 .2 1-.2 1-.1 1 .1 1 0 1 .4 1 0 1-.5 1-.3 1-.3 1 .2 1 .1 1 .1 1-.1 1 0 1 .4 1 .1 1 .1 1-.4 1 .1 1-.2 1 .4 1-.2 1-.2 1 .2 1 0 1 .1 1 .1 1-.3 1-.2 1 .3 1 0 1 0 1 .2 1 .1 1 .2 1 .1 1 0 1-.6 1-.3 1 .1 1 .5 1 .1 1 .1 1-.3 1 0 1-.3 1-.2 1-.2 1 .1 1-.1 1 .2 1 .2 1 .4 1 0 1 .1 1-.3 1-.2 1-.5 1 .6 1-.3 1 .1 1-.2 1 .1 1 .4 1 .1" stroke="#d95319" stroke-opacity="0.7" stroke-width="1.35"/><path d="M415 116.4l1-.1 1 .3 1-.1 1-.1 1-.2 1 0 1 0 1-.2 1 .1 1 .1 1 .2 1 .2 1-.3 1 .2 1-.2 1 .4 1-.3 1 .1 1 .1 1 0 1 0 1 0 1-.1 1 .1 1-.1 1 .1 1-.1 1 .1 1 .3 1 .2 1 0 1 .3 1-.1 1 .1 1-.4 1-.1 1-.1 1 0 1-.2 1-.3 1 0 1 0 1 0 1 0 1 .1 1 .4 1 .5 1 0 1-.2 1 0 1 .1 1 0 1-.2 1-.1 1 0 1 0 1-.1 1 0 1 .1 1 0 1-.1 1-.3 1 .2 1 .3 1-.1 1 0 1-.3 1 .2 1-.2 1 .4 1 .3 1 .4 1-.2 1-.3 1-.4 1 .1 1 .1 1-.1 1-.1 1-.3 1 .1 1-.2 1 .2 1-.2 1 .2 1 0 1 .1 1-.1 1-.2 1-.1 1 .1 1-.1 1-.1 1-.1 1 .3 1 .4 1 .1 1-.2 1 .1 1-.2 1 .2 1-.2 1-.1 1 0 1 .3 1 .3 1 .5 1 .4 1 0 1-.2 1-.6 1-.3 1 0 1 .4 1 .2 1-.1 1-.3 1-.2 1 .1 1 .1 1 .2 1 0 1 .1 1-.2 1 0 1 .1 1 .4 1 .1 1 0 1-.5 1-.5 1-.3 1 0 1-.1 1-.1 1-.3 1-.1 1 .4 1 0 1-.1 1-.1 1 .2 1 .3 1-.1 1 .1 1 .1 1 .1 1 .1 1 .3 1 .5 1 .3 1-.4 1-.2 1-.2 1-.2 1-.4 1-.2 1 0 1 .2 1 .4 1 .1 1 0 1-.3 1-.1 1 0 1 .2 1-.1 1 0 1 0 1 .1 1 .5 1 .2 1 .3 1 .1 1-.3 1-.4 1-.4 1-.3 1-.4 1-.1 1 .1 1 .4 1 .3 1-.1 1-.4 1 0 1 0 1 .1 1-.4 1-.1 1-.2 1 0 1 .3 1 1 1 .9 1 .4 1-.5 1-.6 1-.2 1-.3 1-.1 1-.2 1 0 1 .1 1 0 1 0 1 .3 1 .4 1 .2 1-.2 1-.2 1 .1 1 .2 1 .6 1 .3 1-.3 1-.2 1-.4 1-.1 1-.3 1-.2 1 .2 1 .1 1 .2 1-.2 1 .1 1 .1 1 0 1-.1 1 .1 1 .2 1 .5 1 .3 1 0 1-.4 1-.7 1-.5 1-.2 1 .1 1 .3 1 .2 1 0 1-.4 1-.3 1-.3 1 .6 1-.1 1 0 1-.6 1 .1 1 .4 1 .1 1 .1 1-.1 1-.1 1 .4 1 0 1 0 1-.2 1 .2 1 .8 1 .5 1 .2 1-.8 1-.4 1-.3 1 .2 1-.3 1-.3 1-.3 1 .1 1 .3 1-.3 1-.1 1-.3 1 .3 1 .1 1 .1 1-.2 1 .1 1 .2 1 .6 1 .5 1 .1 1-.2 1-.4 1-.2 1-.2 1 0 1 .2 1 0 1-.1 1 0 1-.1 1 0 1-.1 1 .2 1 .3 1 .4 1 .2 1-.5 1-.5 1-.1 1-.2 1 .3 1 .2 1 .6 1 .2 1 0 1-.2 1-.7 1-.3 1 .2 1 .6 1 .7 1 .2 1 0 1-.8 1-.4 1-.4 1 .2 1 .1 1-.1" stroke="#edb120" stroke-opacity="0.7" stroke-width="1.35"/><path d="M415 128.9l1 0 1 0 1 .1 1 .4 1-.5 1 .2 1 .2 1 .3 1-.3 1-.1 1 .1 1 .1 1 .3 1-.1 1 .1 1 0 1-.1 1-.3 1-.3 1 .3 1 0 1 .2 1 0 1 .2 1 0 1-.3 1-.2 1 0 1 .1 1 .6 1 .8 1 .5 1-.1 1-.5 1-.9 1-.7 1 0 1 0 1 0 1-.1 1 0 1 .5 1 .2 1 .1 1-.7 1 .1 1-.1 1 .4 1 0 1 .2 1-.1 1-.1 1 .2 1-.3 1 .2 1-.3 1 .3 1-.2 1 .1 1-.1 1 .2 1 .2 1-.2 1-.1 1 .2 1 .3 1-.1 1-.2 1 .3 1 .7 1 .5 1 .5 1 .1 1-.4 1-.9 1-.7 1-.3 1-.2 1-.1 1 .3 1 .1 1-.1 1-.1 1 0 1 0 1 0 1 .2 1-.1 1-.1 1-.1 1-.1 1-.3 1 .2 1-.1 1-.1 1 .1 1-.1 1 .2 1 .1 1 .1 1 .1 1-.2 1-.1 1-.3 1 .5 1 .5 1 1.1 1 .7 1 .1 1-1.1 1-.7 1-.3 1 .1 1-.2 1-.3 1 .2 1 .4 1 .1 1-.1 1-.3 1 .4 1 0 1 .2 1-.4 1 .2 1 .4 1 .6 1 .5 1-.2 1-.5 1-.7 1-.2 1-.3 1-.3 1-.1 1-.4 1 .1 1 .1 1 .2 1 .2 1-.3 1 .2 1-.1 1-.2 1 .1 1 .1 1 .2 1 .2 1 .2 1 1.1 1 .6 1 .2 1-.9 1-.7 1-.5 1 .1 1 .1 1 .3 1-.2 1 .1 1-.2 1-.2 1-.1 1-.2 1-.1 1 .1 1 0 1 .2 1 .1 1 .3 1 .5 1 .5 1 .4 1-.5 1-.4 1-.3 1 .2 1-.2 1-.1 1-.3 1 .6 1 .1 1 .2 1-.5 1-.3 1-.2 1 .1 1 .1 1 0 1-.3 1 .1 1-.1 1 .1 1 .4 1 .9 1 .5 1-.5 1-.7 1-.7 1-.2 1-.1 1 0 1 .1 1 .5 1 .2 1 0 1-.2 1-.2 1 0 1-.3 1 .1 1 0 1 .8 1 .9 1 .7 1-.3 1-.8 1-.3 1-.4 1 .1 1-.3 1 .2 1-.1 1 0 1 .1 1-.1 1 0 1-.2 1 .3 1 .1 1 .5 1 .1 1 .3 1 0 1-.1 1-.6 1-.4 1-.1 1-.2 1-.1 1 0 1-.2 1-.1 1-.1 1 .2 1 0 1 0 1 0 1 .2 1 .1 1-.3 1-.1 1 .1 1 .2 1-.1 1-.4 1 .4 1-.1 1 .4 1 .5 1 .8 1 .4 1 0 1-.5 1-.5 1-.7 1-.2 1-.1 1 .3 1 .3 1-.2 1-.4 1-.3 1-.2 1 .3 1 .3 1 .4 1 .3 1-.2 1 0 1 .2 1 .8 1 .7 1 .1 1-.3 1-.8 1-.6 1-.4 1 0 1-.2 1 .2 1-.3 1 0 1-.1 1-.1 1 0 1 .5 1 .9 1 .5 1 0 1-.7 1-.4 1-.2 1 0 1 .1 1 .4 1 .5 1 .4 1 .1 1-.6 1-.6 1-.2 1 .2 1 .4 1 .3 1 .6 1-.3 1-.4 1-.7 1-.2 1 .1 1-.2 1 .1" stroke="#7e2f8e" stroke-opacity="0.7" stroke-width="1.35"/><path d="M415 142.4l1-.2 1 0 1 .1 1 .3 1-.4 1-.2 1 .1 1 .1 1 .3 1-.3 1 .3 1-.1 1 .2 1-.3 1-.1 1-.1 1 .1 1 0 1 0 1-.1 1 .2 1 .2 1-.1 1 0 1 .1 1 .1 1-.2 1 0 1 .4 1-.1 1-.1 1 .1 1 0 1-.1 1-.2 1-.1 1 .2 1-.1 1 .2 1-.3 1 .1 1-.2 1 0 1 .2 1-.5 1-.1 1-.4 1 .4 1 0 1 0 1-.1 1 .3 1 .2 1 .1 1-.2 1 .1 1 .1 1-.2 1-.3 1-.4 1 .1 1 .3 1 .3 1-.2 1-.3 1-.1 1-.1 1 .4 1 .1 1 .2 1 .4 1-.1 1 .4 1-.3 1 0 1-.3 1-.3 1-.1 1-.2 1 .2 1 .1 1 .3 1 .1 1 0 1-.2 1-.2 1 0 1-.1 1 .4 1 .1 1 0 1-.2 1 .1 1 0 1 .3 1-.1 1 0 1-.1 1 0 1 0 1-.1 1 0 1 .1 1 0 1 0 1-.1 1 .4 1 .4 1-.3 1-.4 1-.3 1 .2 1 .1 1-.3 1-.1 1 .2 1 .2 1-.3 1 .1 1-.1 1 .2 1-.1 1 0 1 .1 1 0 1 .3 1 .1 1 0 1 .3 1-.2 1-.3 1 .1 1 0 1-.2 1-.3 1 .1 1 .1 1 .2 1-.7 1-.1 1 0 1 .5 1 .2 1-.1 1 0 1-.5 1 0 1-.1 1 .5 1 .1 1 .2 1-.3 1 0 1 0 1-.2 1-.1 1 0 1 .3 1 0 1 .2 1-.5 1 .2 1 0 1 .4 1 0 1-.1 1-.5 1 0 1 .2 1 .4 1 .3 1 .3 1 0 1-.2 1-.1 1-.5 1-.3 1 0 1-.2 1 .2 1 0 1 .4 1 0 1 .2 1 0 1-.4 1-.1 1-.3 1 0 1 .3 1 .1 1-.3 1 0 1 .3 1 .2 1 .3 1 .1 1-.3 1-.3 1-.4 1 .1 1 0 1 .2 1 .1 1 .2 1-.1 1 0 1-.2 1-.1 1-.2 1-.1 1 .5 1-.1 1 .4 1 0 1 .1 1-.6 1-.4 1 0 1 .1 1 .3 1 0 1 0 1 .1 1-.2 1 .6 1-.3 1 .2 1-.7 1 .4 1 .2 1 .6 1-.2 1 .2 1-.3 1 0 1-.3 1-.4 1-.3 1 0 1 0 1-.3 1-.2 1-.1 1 .4 1 .4 1 0 1-.2 1-.2 1-.1 1 .2 1 .1 1 0 1-.1 1 .1 1 .4 1 .4 1 .2 1 .4 1-.3 1 .1 1-.4 1-.2 1-.2 1-.2 1 0 1 0 1 0 1 0 1 .1 1-.1 1-.1 1 0 1 0 1-.3 1 0 1 0 1 .3 1-.2 1 0 1 .3 1 .3 1 0 1 .2 1-.2 1 0 1-.2 1 .2 1-.2 1 .2 1 0 1 .3 1 .1 1-.2 1-.2 1 .1 1 .4 1-.2 1-.3 1-.2 1-.4 1 .2 1 0 1 .2 1-.2 1 .3 1 .2 1 .2 1-.5 1-.1 1 .1 1 0 1 .1 1 .1 1 .5 1-.1 1-.1 1-.1 1-.2 1 0 1 0 1 .2 1-.1" stroke="#77ac30" stroke-opacity="0.7" stroke-width="1.35"/><path d="M415 154.6l1 .4 1 .3 1-.4 1 0 1-.2 1-.1 1-.1 1 .1 1 .3 1 .1 1-.1 1-.2 1 .2 1-.1 1 .2 1 .2 1 .1 1-.3 1 0 1 0 1 .1 1 .1 1-.1 1-.1 1-.2 1-.1 1 .1 1 .3 1-.1 1 .1 1-.1 1 .2 1-.2 1 .1 1-.4 1 0 1-.1 1-.1 1 .3 1 .3 1 .2 1-.2 1-.1 1 .1 1 0 1-.1 1-.1 1-.1 1 .2 1-.3 1 .1 1-.3 1 .1 1 0 1 .4 1 0 1 0 1 0 1 0 1-.1 1 0 1-.4 1 .1 1 0 1 .2 1 .1 1 .1 1 .2 1-.4 1 .2 1-.1 1 .3 1-.2 1-.2 1 0 1-.1 1 .2 1-.6 1 .2 1-.2 1 .3 1 .3 1 .1 1 .1 1-.4 1 .1 1-.2 1 .3 1 .1 1-.1 1 .3 1-.4 1 0 1-.1 1 .2 1 .3 1 .2 1-.2 1-.1 1-.3 1 0 1-.2 1 .3 1 .1 1 .1 1 0 1-.5 1-.3 1 0 1 .2 1 .4 1 .2 1 .2 1-.4 1-.1 1-.2 1 0 1 0 1-.2 1 .4 1 .2 1 .4 1 0 1-.1 1 0 1-.1 1 0 1-.3 1 .2 1 .1 1-.1 1-.1 1 0 1 .2 1 0 1-.1 1 .1 1-.1 1 .3 1-.3 1 0 1-.2 1 .2 1-.1 1 .2 1-.5 1 .2 1 0 1 0 1 0 1 0 1 .4 1-.2 1 .1 1 0 1 .1 1 .1 1 0 1 0 1-.5 1-.2 1 0 1 0 1 0 1-.3 1-.2 1 .2 1 0 1 .2 1-.1 1 0 1 0 1-.2 1 0 1 0 1 .2 1-.3 1 0 1 0 1 .5 1-.1 1 .2 1-.3 1-.1 1-.2 1 .1 1 0 1 .1 1 0 1-.1 1-.1 1 .1 1-.4 1 .1 1-.1 1 .3 1 0 1 .2 1 .1 1-.1 1 .4 1-.2 1-.1 1-.1 1 .2 1 0 1-.2 1 .1 1-.1 1 .2 1-.1 1 .1 1-.1 1-.2 1 0 1 .1 1 .5 1 0 1 .2 1-.3 1-.1 1-.3 1 .2 1 .1 1-.1 1 .1 1-.2 1-.1 1 .2 1 .1 1 .2 1-.1 1-.1 1 .1 1 .2 1 .1 1-.2 1-.2 1 0 1 0 1 .4 1 .1 1 0 1 .2 1-.1 1 .1 1-.2 1-.2 1-.1 1-.3 1-.2 1 0 1 0 1 .2 1 .1 1 0 1 .1 1-.2 1 0 1 .3 1 0 1 0 1 .4 1 0 1 0 1-.5 1 .3 1 .1 1 .1 1 .1 1 .2 1 0 1 .2 1-.4 1-.1 1 0 1 0 1 .1 1-.1 1-.3 1-.1 1 0 1 0 1 .1 1-.1 1 .2 1 0 1-.2 1 0 1-.2 1 .4 1-.3 1 .2 1-.2 1 0 1-.2 1-.1 1-.3 1 .5 1 0 1-.1 1-.3 1 .1 1 0 1 .2 1-.1 1 0 1 .1 1 .1 1 .2 1 .1 1-.1 1-.3 1-.1 1 .2 1 .4 1-.1 1-.2 1-.3 1-.2 1-.1 1 .3 1 0" stroke="#4dbeee" stroke-opacity="0.7" stroke-width="1.35"/><path d="M415 167.6l1 0 1 .1 1 0 1 0 1 0 1-.1 1 0 1 .1 1-.1 1-.1 1 0 1-.1 1-.1 1 0 1 .1 1 .3 1 .1 1 .2 1 0 1-.4 1-.1 1-.3 1 .2 1-.1 1-.1 1-.1 1 .3 1 0 1 .3 1 .1 1 0 1 .1 1-.2 1-.2 1-.5 1-.1 1 0 1 .1 1 0 1 .1 1 .4 1 0 1 0 1 0 1-.2 1 .1 1-.1 1 .1 1-.1 1 0 1-.1 1 .4 1 .1 1 0 1-.1 1-.1 1-.2 1-.1 1 .3 1 0 1 .2 1-.2 1 0 1 0 1 .1 1-.1 1-.1 1-.1 1-.2 1-.2 1 .3 1 .2 1 .1 1 0 1 .1 1-.2 1-.3 1 .2 1-.1 1-.1 1-.1 1 .1 1 .3 1 .2 1-.3 1-.2 1-.3 1 .2 1 .1 1 .3 1-.2 1-.1 1 .2 1 0 1-.2 1 .1 1 .2 1 .1 1-.1 1-.1 1-.1 1 .1 1-.1 1 .1 1-.1 1-.1 1 .1 1 .2 1 .1 1-.1 1 0 1 .1 1 0 1-.2 1-.4 1-.1 1 .3 1 .2 1-.1 1 .1 1-.1 1 .2 1 0 1 .1 1-.3 1 .1 1 .2 1 .1 1-.1 1-.1 1 .2 1-.1 1 .4 1-.1 1 0 1-.3 1-.2 1-.3 1 .1 1 0 1 .1 1 0 1 .1 1-.2 1 .1 1 .4 1 0 1-.2 1 0 1-.1 1 .2 1-.1 1 .1 1-.3 1 .2 1 .1 1 .1 1-.1 1-.1 1 0 1 .2 1 .4 1 .2 1 0 1-.2 1-.2 1 .1 1 0 1 0 1-.2 1 .3 1-.3 1 0 1 0 1 .2 1-.1 1 .3 1 0 1-.3 1-.1 1-.1 1 .1 1 .2 1 0 1 .1 1 0 1 .2 1-.1 1-.5 1-.1 1 .3 1-.2 1 0 1-.4 1 .2 1-.3 1 .2 1 0 1 .3 1-.2 1 .1 1 0 1-.1 1 .2 1 .1 1-.1 1-.3 1 0 1 .5 1 0 1 .1 1 0 1 .2 1-.3 1-.2 1 .1 1 .2 1 .1 1-.1 1-.2 1-.3 1 0 1-.1 1-.1 1-.1 1-.3 1-.1 1-.2 1 .1 1-.2 1 .1 1 0 1 .4 1 .2 1-.1 1 0 1 0 1 .1 1-.1 1 0 1 .5 1 0 1 .1 1-.4 1 0 1-.4 1 0 1 .2 1 .4 1 .2 1 0 1 .1 1-.2 1 .1 1 0 1 .1 1 0 1-.1 1-.1 1 .1 1-.1 1 0 1 0 1 .1 1-.1 1 0 1-.1 1 .1 1 .2 1-.3 1-.1 1-.2 1 .1 1 .5 1-.1 1 .3 1-.1 1 .1 1-.2 1-.4 1 .1 1 .1 1-.1 1-.1 1-.4 1 .1 1 0 1 .4 1 .1 1 0 1-.2 1-.1 1 .1 1 0 1-.1 1-.1 1 0 1 0 1 .2 1-.2 1-.1 1 0 1 .1 1 .1 1-.1 1-.1 1-.1 1 .2 1 .3 1-.1 1 .2 1-.1 1 .1 1 .2 1 0 1 0 1-.1 1 0 1-.2 1 .1 1 0 1 0 1-.4" stroke="#a2142f" stroke-opacity="0.7" stroke-width="1.35"/><path d="M415 180.1l1-.1 1-.4 1-.1 1 .4 1 .1 1 .3 1-.5 1 .2 1 .1 1 0 1 .2 1 0 1 0 1-.5 1 0 1 0 1 .2 1 .1 1-.2 1-.1 1 0 1 .1 1 0 1-.2 1-.1 1-.1 1 0 1-.2 1 0 1 .3 1 .7 1-.1 1-.1 1-.2 1 .1 1-.3 1-.2 1 .2 1 .3 1-.1 1-.1 1 .1 1-.1 1 0 1 0 1-.3 1 .1 1-.1 1-.1 1-.3 1 0 1 0 1 .3 1 .1 1-.2 1-.1 1-.2 1 .4 1 .1 1 .3 1 0 1-.1 1-.2 1 .2 1-.1 1 .1 1 .1 1 .1 1 .3 1 0 1-.1 1-.4 1 .1 1 .1 1 .1 1 0 1-.1 1 .1 1-.1 1 0 1 0 1 0 1 .1 1 .2 1-.1 1 0 1 .1 1 0 1 0 1 .3 1-.2 1-.1 1-.3 1 .2 1 .2 1 0 1-.2 1-.1 1 .1 1-.2 1 0 1-.3 1 .1 1 .1 1 .2 1 .1 1 .3 1 0 1-.4 1-.1 1 .2 1 .1 1 .1 1 .3 1-.1 1 0 1-.1 1-.1 1 0 1 0 1 0 1 .1 1-.1 1 0 1-.1 1 .2 1-.1 1-.2 1-.1 1 .2 1 .1 1 .3 1-.1 1-.1 1-.3 1 .2 1-.2 1 .1 1 .1 1 .3 1 .1 1-.4 1 .1 1-.1 1-.1 1-.2 1 0 1 0 1 .2 1-.2 1 .1 1 .1 1 .1 1 0 1-.1 1-.2 1-.2 1 .1 1 .2 1 .2 1-.1 1-.1 1 .2 1-.1 1-.2 1-.2 1 0 1 .1 1 0 1 .4 1 0 1 .1 1-.1 1 0 1 .2 1 .1 1-.1 1-.1 1-.1 1-.1 1 0 1 0 1-.1 1 .1 1 .1 1-.1 1 .2 1-.1 1-.1 1-.2 1 .1 1 .2 1 0 1 0 1 0 1 .1 1 .1 1-.2 1-.3 1-.1 1 .1 1 .1 1-.3 1-.3 1 .1 1 .1 1 0 1 0 1 .2 1 0 1-.2 1 .2 1 .1 1 0 1 0 1 .1 1 .2 1 0 1-.2 1-.2 1-.1 1 .1 1 .6 1-.1 1 .1 1-.3 1 0 1 .1 1-.1 1 .3 1 0 1 .2 1-.1 1-.1 1-.1 1-.4 1-.2 1 0 1 .1 1 .4 1 0 1 .1 1-.3 1 0 1-.3 1 .1 1-.1 1 0 1-.2 1 0 1 .1 1 .1 1 .1 1-.1 1 .3 1 .1 1-.1 1-.4 1-.1 1 .3 1 0 1-.2 1-.2 1 .1 1 .1 1 0 1-.2 1 .2 1 0 1 .2 1 0 1-.1 1 .1 1 .3 1 .2 1 0 1-.6 1 .2 1 0 1 .5 1 .1 1-.1 1 0 1 .1 1 0 1-.3 1-.4 1 0 1 .5 1 .3 1 .1 1-.4 1 .2 1 0 1-.1 1-.2 1-.2 1 0 1-.3 1 0 1-.1 1 .3 1 0 1-.1 1-.6 1 0 1-.1 1 .4 1 .2 1 0 1-.1 1-.4 1-.1 1 .1 1 0 1 .4 1 .1 1 .2 1-.2 1 .3 1 .1 1 .2 1-.3" stroke="#0072bd" stroke-opacity="0.7" stroke-width="1.35"/><path d="M415 193l1-.2 1 .1 1 0 1-.1 1-.2 1 .1 1-.1 1 .3 1 .4 1 .2 1-.1 1-.4 1-.1 1-.2 1 0 1-.2 1 .3 1 0 1 .1 1-.1 1-.1 1-.2 1 .1 1 .1 1-.2 1 .1 1 .1 1 .2 1-.4 1-.1 1-.3 1 .5 1 .1 1-.1 1-.3 1-.2 1 .3 1 .1 1 .3 1-.3 1 .2 1-.2 1 .1 1 .1 1 0 1-.1 1-.3 1-.1 1-.2 1 0 1-.1 1 .3 1 .1 1 .1 1 0 1 .2 1 .2 1 0 1-.3 1-.2 1 .1 1 0 1 .4 1-.2 1 .4 1 0 1 0 1-.4 1-.1 1 0 1-.1 1 .1 1 .2 1 .2 1-.2 1-.2 1 0 1-.1 1 .2 1 0 1 .1 1-.1 1-.1 1 0 1 .3 1-.2 1 .1 1 .1 1 .6 1-.1 1-.3 1-.5 1-.2 1 0 1 .5 1 .3 1 .1 1-.2 1-.3 1 0 1 .2 1 .2 1 0 1-.1 1-.2 1-.1 1 0 1 0 1 .2 1-.2 1 .2 1-.1 1-.1 1-.1 1-.5 1 .2 1 .2 1 .5 1-.2 1-.2 1 .1 1 .1 1 .3 1 .2 1 .4 1 .2 1-.4 1-.4 1-.1 1 .2 1 0 1-.1 1 .2 1-.1 1-.3 1-.1 1-.1 1 .2 1-.3 1 .2 1-.1 1 .2 1 0 1 0 1-.1 1 .1 1 0 1 0 1 0 1-.3 1 .2 1 0 1 .4 1-.2 1-.2 1-.2 1 .3 1 .2 1 0 1-.1 1-.3 1 .1 1 .1 1-.1 1-.2 1-.2 1 0 1 .4 1 .3 1-.2 1-.1 1-.3 1 .1 1-.1 1 0 1 .2 1 .1 1 .1 1 .2 1 .3 1 0 1-.3 1-.2 1 0 1-.1 1-.1 1 .3 1-.1 1 .2 1 0 1 0 1-.1 1 0 1 .6 1 0 1 0 1 .1 1-.2 1 0 1-.4 1-.1 1-.2 1 0 1-.1 1 .1 1 .1 1 .1 1-.2 1-.3 1-.3 1 0 1-.2 1-.2 1-.2 1 0 1 .4 1 .1 1-.1 1-.1 1-.3 1 .4 1 0 1 .3 1-.3 1 .4 1 .2 1 .3 1-.5 1 0 1 .1 1 .2 1-.3 1 .1 1 0 1 .6 1 .1 1-.1 1-.1 1-.2 1 .3 1 .1 1 .3 1-.3 1 .1 1-.3 1-.1 1-.2 1 .1 1-.1 1 .2 1-.2 1-.1 1-.3 1 .1 1 .3 1 .2 1 .1 1-.1 1-.3 1-.2 1-.4 1 .5 1 .3 1 .2 1 .3 1-.1 1 0 1 .2 1 0 1 0 1-.5 1 0 1-.5 1 .4 1-.2 1-.2 1 0 1 0 1 .4 1-.1 1 0 1-.2 1 .2 1-.2 1-.2 1 .4 1 .3 1 .3 1-.3 1-.2 1-.1 1 0 1 .1 1-.1 1 .1 1 0 1 .4 1 0 1 0 1-.2 1-.1 1-.3 1 0 1-.1 1 .2 1 .1 1 0 1-.1 1-.2 1 0 1 .5 1-.1 1 .2 1-.4 1 .1 1 0 1 .2 1-.1 1 .1 1-.2 1 .4 1-.3 1 0" stroke="#d95319" stroke-opacity="0.7" stroke-width="1.35"/><path d="M415 205.7l1-.4 1 0 1 .2 1 .1 1-.2 1-.4 1-.2 1 .1 1 .3 1 .1 1-.2 1 0 1 .1 1 0 1 .1 1 0 1 0 1 .1 1 0 1 0 1-.2 1 .2 1 .1 1 0 1-.2 1-.5 1 0 1 0 1 .2 1-.1 1-.2 1-.1 1 0 1 0 1 .3 1 .2 1 .3 1-.2 1-.1 1 .1 1 .3 1 .2 1-.1 1-.4 1-.4 1 .2 1 .2 1 .3 1-.1 1-.2 1-.2 1 .1 1 .3 1 .1 1-.1 1-.2 1 .3 1-.1 1-.1 1 .1 1-.1 1 .3 1 .1 1 .3 1 0 1-.1 1-.2 1-.2 1 .2 1-.5 1-.4 1 0 1 0 1 0 1 .1 1 .2 1 0 1 .1 1 .2 1 0 1-.1 1-.1 1 .1 1-.1 1-.2 1 .2 1 0 1 .1 1-.3 1 0 1 .2 1 .1 1 .1 1-.1 1 .3 1-.1 1 .3 1-.4 1 .5 1 .1 1 .3 1-.4 1-.3 1-.2 1 .1 1-.1 1-.5 1-.4 1-.3 1 .8 1 .3 1 .3 1-.5 1 .1 1-.1 1 .3 1-.4 1 0 1 0 1 .3 1 .4 1 .1 1-.1 1-.4 1-.4 1-.2 1-.3 1 0 1 .5 1 .6 1 .1 1-.2 1-.2 1 .2 1-.1 1 0 1-.4 1-.3 1 0 1 .1 1 .2 1-.1 1 .1 1-.1 1-.1 1 .2 1 0 1 .3 1-.2 1-.2 1-.4 1 0 1 .3 1 .2 1 .2 1-.1 1 .2 1 0 1-.1 1 .4 1-.1 1 0 1-.2 1-.1 1 .4 1 0 1 .1 1 0 1 .2 1-.2 1-.5 1-.3 1-.1 1 .2 1 .4 1 .2 1 .2 1 0 1-.2 1-.1 1 .2 1 .3 1-.3 1-.1 1-.2 1 .3 1 .1 1 .3 1-.1 1-.4 1 0 1 0 1-.1 1-.5 1-.3 1 0 1-.1 1 .5 1 .4 1 .2 1 0 1 .1 1-.3 1 0 1 .1 1 .1 1 0 1-.3 1-.2 1-.2 1 0 1-.1 1-.1 1-.1 1-.2 1 0 1 .2 1 .4 1 0 1 .2 1 .1 1-.2 1 .2 1-.3 1 .1 1 0 1 0 1 .2 1 .1 1 .3 1-.4 1-.5 1-.4 1 .2 1 0 1 .2 1 .1 1-.1 1 .2 1-.1 1 .1 1 0 1 .3 1-.2 1 .2 1 .1 1 .1 1 0 1-.1 1 .2 1-.2 1 .6 1 0 1 .1 1-.6 1-.3 1-.4 1 .6 1 .1 1-.1 1-.7 1-.3 1 0 1 .8 1 .4 1 .3 1-.4 1-.1 1-.3 1 .3 1 .2 1 .2 1 0 1-.2 1-.1 1 .2 1 0 1 0 1 .1 1-.1 1-.2 1-.5 1 .2 1 .3 1 .2 1 0 1 .2 1-.3 1 .3 1 .1 1-.1 1-.1 1 0 1 .2 1-.2 1 .1 1 0 1-.8 1-.2 1-.1 1 .2 1 .1 1 0 1 .2 1 .5 1-.4 1-.1 1-.5 1 .4 1 .1 1 .2 1-.3 1 0 1 0 1-.2 1-.4 1 .1 1 .2 1 .4 1 .3 1 0 1-.1 1-.1" stroke="#edb120" stroke-opacity="0.7" stroke-width="1.35"/><path d="M415 217.9l1-.1 1-.1 1 0 1 0 1 .4 1-.1 1-.2 1-.2 1 0 1 .1 1-.1 1 .1 1 .3 1-.2 1 0 1-.2 1 .4 1 .2 1-.1 1 .1 1 .2 1 .2 1 .1 1-.2 1-.4 1-.3 1-.2 1 .1 1 .4 1-.5 1-.4 1-.4 1 .2 1 .5 1 .1 1 .4 1-.1 1 .2 1-.3 1 0 1 .2 1-.1 1 0 1 .1 1-.2 1-.1 1-.2 1 .2 1 0 1 .1 1 0 1 .1 1 .1 1-.3 1 .1 1 .4 1 0 1-.1 1 .2 1 .4 1 .1 1-.2 1 0 1 0 1-.1 1-.1 1-.2 1-.2 1-.2 1-.2 1-.9 1-.4 1-.3 1 .8 1 .5 1 .6 1 .4 1-.4 1-.1 1-.3 1 0 1-.1 1 .2 1 .3 1 .4 1 0 1-.2 1 0 1 .3 1 .1 1 0 1-.1 1 0 1-.3 1 .1 1 .3 1 0 1-.1 1 .1 1 .2 1 .1 1-.1 1 .1 1-.4 1-.3 1-.5 1-.9 1-.5 1 0 1 1 1 .5 1 .7 1 0 1 .1 1 .2 1-.4 1 .1 1-.2 1 .3 1 0 1-.4 1-.2 1 0 1 .4 1-.2 1-.7 1-.6 1-.7 1 .1 1 .8 1 .8 1 .6 1 .1 1-.2 1 0 1-.1 1 .2 1 .1 1 .2 1-.1 1 0 1-.2 1 .2 1-.1 1 .1 1-.2 1-.2 1-.3 1 .1 1-.4 1-.6 1-.3 1 .4 1 .6 1 .3 1 .3 1 .1 1-.1 1 .1 1-.1 1-.1 1-.1 1 .1 1 .1 1 0 1-.1 1-.2 1 0 1-.1 1-.4 1-.4 1-.2 1-.4 1 .2 1 .5 1 .7 1 .2 1 .3 1-.1 1-.3 1-.4 1 .1 1 .3 1 .3 1-.1 1-.3 1 .2 1 .1 1-.1 1-.1 1-.1 1 0 1-.3 1-.2 1-.7 1-.2 1-.1 1 .3 1 .6 1 .2 1 .5 1-.2 1 0 1-.1 1 .5 1-.4 1 .1 1-.1 1 .3 1-.1 1-.4 1-.3 1-.6 1-.1 1-.3 1 .6 1 .4 1 .6 1 .3 1 .1 1 .2 1 0 1 0 1-.3 1 0 1-.1 1 .1 1-.1 1 .2 1-.1 1-.2 1-.8 1-.6 1 .1 1 .2 1 .5 1 .3 1 .3 1 0 1 .2 1-.2 1-.1 1 .1 1 0 1-.1 1-.1 1 .1 1-.1 1 .2 1-.2 1 .2 1 0 1-.1 1-.1 1 .1 1 .2 1-.4 1-.3 1-.3 1-.4 1-.4 1-.1 1 .2 1 .5 1 .5 1 .3 1 .1 1-.1 1 .1 1 .2 1 0 1 .3 1-.3 1 .2 1-.3 1-.1 1 .2 1-.1 1 .1 1-.3 1-.8 1-.7 1-.5 1 .3 1 .5 1 .5 1 .6 1 .3 1 .3 1-.1 1-.2 1 .1 1 .1 1 .2 1-.2 1-.4 1-.6 1-.5 1-.2 1 .2 1 .7 1 .5 1 .2 1-.1 1-.3 1-.2 1-.7 1-.2 1 .4 1 .4 1 .4 1 .1 1 0 1-.5 1-.6 1-.3 1 .2 1 .5 1 .6 1 0 1 0 1 0 1 .1" stroke="#7e2f8e" stroke-opacity="0.7" stroke-width="1.35"/><path d="M415 230.8l1-.2 1 .2 1-.2 1 .3 1-.3 1 0 1-.1 1 .2 1 0 1-.1 1-.1 1-.1 1-.3 1 0 1-.3 1 .1 1 0 1 .6 1-.1 1 .1 1 0 1 0 1 .2 1-.4 1-.2 1-.2 1 0 1 .1 1 .2 1 .1 1-.6 1-1 1 .3 1 2.1 1 1.3 1-.1 1-.6 1-.6 1 0 1-.3 1 0 1 .2 1-.4 1 0 1-.1 1 .2 1 .1 1-.4 1-.4 1 0 1 0 1 0 1-.5 1 .1 1 .2 1 0 1 .1 1 .4 1-.3 1 .3 1-.2 1 .4 1 .2 1-.2 1 .4 1 .1 1 0 1 .3 1-.2 1 0 1-.9 1-1.1 1 .3 1 2.1 1 1.4 1-.4 1-.9 1 .1 1 0 1-.7 1 0 1-.2 1 .5 1 .3 1-.2 1-.1 1-.2 1-.6 1-.1 1 0 1 .1 1 .4 1-.1 1 .3 1-.5 1 .1 1 .2 1 0 1 0 1-.4 1-.3 1 .3 1-.4 1 .4 1 0 1-.4 1-1.2 1-.9 1 .5 1 1.1 1 .9 1-.1 1 0 1-.7 1-.2 1 .3 1 .7 1-.2 1-.4 1-.3 1 .4 1-.1 1-.2 1 .4 1 .4 1-.1 1-1.1 1-1.3 1 .5 1 2 1 1.5 1-.3 1-.5 1-.3 1 .2 1 .1 1 .6 1-.6 1 .1 1 .2 1 .2 1-.3 1-.2 1 .5 1 .3 1-.5 1-.3 1-.1 1-.3 1-.4 1-1 1 .2 1 1.1 1 1.5 1-.1 1-.5 1-.7 1 .2 1-.7 1 .1 1-.1 1-.1 1-.2 1-.2 1 .3 1 .4 1 .4 1-.1 1-.1 1-.1 1-.4 1-.7 1-.7 1 .5 1 1.8 1 1.1 1-.1 1-1.1 1-.2 1 0 1 .3 1-.1 1-.3 1-.5 1-.1 1 .1 1 .1 1 .4 1 .1 1 0 1-.2 1 0 1 0 1-.3 1-1.1 1-.2 1 1.6 1 1.5 1-.1 1-.8 1 0 1-.3 1 .1 1-.1 1 0 1 .1 1 .1 1-.1 1-.3 1-.2 1-.1 1-.1 1-.3 1-.8 1-.4 1 1 1 1.6 1 .2 1-1 1-.1 1-.4 1 .1 1-.3 1 0 1 .5 1 .1 1 .4 1 0 1-.1 1-.2 1-.7 1-.6 1-.5 1 .5 1 1.8 1 1.1 1-.2 1-1.1 1-.3 1 .1 1 .2 1 0 1-.4 1-.1 1 .1 1 .1 1 .2 1 .1 1 .2 1 .1 1 0 1 .3 1-.2 1-.1 1-.1 1-.1 1 .1 1-.1 1 .3 1-1 1-2 1-1.8 1 1.3 1 3.1 1 1.6 1-1 1-1 1-.5 1-.3 1 .4 1 0 1 .3 1 .2 1 .1 1 .2 1-.1 1 .4 1 .2 1-.4 1 .2 1-.5 1-1 1-2.1 1-.1 1 2.8 1 2.8 1 .1 1-1 1-.9 1-.5 1 .1 1-.2 1 .2 1-.3 1 .2 1 .2 1-.1 1-.8 1-1.1 1 .4 1 1.7 1 .9 1-.4 1-.6 1-.4 1-.3 1-.9 1-.8 1 .4 1 1.8 1 1 1-.7 1-.8 1-.3 1-1.1 1-.6 1 .6 1 2.3 1 .8 1-.5 1-1 1 .1 1-.4" stroke="#77ac30" stroke-opacity="0.7" stroke-width="1.35"/><path d="M415 244l1-.1 1-.1 1 .3 1 0 1-.3 1 .2 1-.4 1 .1 1-.2 1 0 1-.4 1 .3 1 .1 1 .4 1-.7 1 .5 1-.5 1 0 1-.2 1 .1 1 .2 1 .2 1-.2 1 .6 1 0 1 0 1-.4 1-.1 1-.1 1-.7 1-2.5 1-2.8 1 .4 1 4.3 1 3.1 1-.4 1-.9 1-.3 1-.2 1 .3 1 0 1-.1 1 0 1 .1 1 0 1-.1 1 0 1 .3 1 0 1-.1 1-.2 1-.1 1 .2 1 .1 1 0 1-.4 1-.4 1-.3 1 .3 1 .2 1 0 1 0 1-.1 1-.1 1 .2 1 .4 1 .6 1-.3 1 .1 1-.5 1-1.9 1-2.9 1 .5 1 4 1 2.7 1-.4 1-1.3 1-.7 1-.3 1 .2 1 .1 1 .2 1 0 1 .1 1-.1 1 .1 1-.1 1 0 1-.5 1-.1 1 .4 1 .2 1 0 1-.2 1 .4 1 0 1 .2 1-.2 1 .1 1 0 1-.4 1 0 1-.1 1-.2 1-.2 1 .1 1-1.7 1-2.3 1 1.1 1 3.1 1 1.9 1-.8 1-.7 1-.6 1-.1 1 .3 1 0 1 0 1 0 1-.2 1 .3 1 .1 1-.6 1-.1 1-.3 1-.3 1-2.4 1-2.5 1 .9 1 4.5 1 2 1-.4 1-1.1 1 0 1 .1 1-.1 1-.3 1-.2 1 .1 1 .7 1 0 1 .2 1-.4 1 .1 1 .1 1 0 1 .3 1 .4 1-.3 1-1.6 1-2.7 1-.5 1 3.1 1 2.5 1 .3 1-1 1-.3 1 .1 1-.1 1 .1 1 .1 1-.1 1 .1 1-.1 1 .2 1-.3 1 .1 1 .1 1 0 1 .1 1-.5 1-2 1-2.7 1 1.1 1 3.7 1 2.2 1-.9 1-.7 1-.7 1 .6 1 0 1-.1 1 .4 1 .1 1 .2 1-.1 1 .1 1 0 1 .1 1 .1 1 0 1-.2 1-.3 1-1.6 1-3.4 1-1.2 1 3.4 1 4 1 .3 1-1.1 1-.8 1-.6 1-.5 1-.1 1 .3 1 .6 1 .1 1-.3 1-.4 1 0 1-.3 1 0 1-.6 1-2 1-1.3 1 2.5 1 3.2 1 .6 1-.9 1-1 1-.1 1-.1 1 .2 1 .1 1 .5 1-.3 1-.1 1-.1 1 .1 1 .1 1-.6 1-2 1-2.4 1 1.4 1 3.8 1 1.6 1-.9 1-.8 1-.3 1-.1 1-.1 1-.1 1 .1 1 .2 1-.2 1 .1 1 0 1 .2 1 0 1 0 1 0 1-.3 1 .1 1 .5 1 .4 1 0 1-.2 1 0 1-.3 1-1.4 1-4.1 1-4 1 3.1 1 6.8 1 2.6 1-1.3 1-1.4 1-.4 1-.1 1-.1 1-.2 1-.3 1 0 1 0 1 0 1-.1 1 .2 1 0 1 .2 1-.1 1-.3 1-2.9 1-4.6 1-.4 1 6.1 1 5.3 1 .4 1-1.8 1-1.1 1-.6 1 .1 1 .4 1 .5 1-.2 1 0 1 .1 1-1.1 1-2.7 1-2.6 1 2.1 1 3.8 1 1.8 1-.9 1-.9 1-.4 1-.5 1-1.5 1-1.7 1 .6 1 2.9 1 1.6 1-.3 1-.9 1-.7 1-2.3 1-2.3 1 1.3 1 4.1 1 2.3 1-.6 1-1 1-.3 1-.2" stroke="#4dbeee" stroke-opacity="0.7" stroke-width="1.35"/><path d="M415 255.6l1-.4 1 .7 1 .3 1 0 1-.2 1 0 1 .2 1 .5 1 .1 1-.2 1-.4 1-.1 1 0 1 0 1 .3 1-.3 1 .2 1-.2 1-.1 1-.3 1 .1 1-.4 1-.2 1 .2 1-.3 1 .1 1 .1 1 .2 1 .1 1-.3 1-2.3 1-3.9 1-1 1 6.2 1 4.9 1 .2 1-2.5 1-1.5 1 0 1 .2 1 .1 1 .2 1 .4 1-.3 1-.1 1 .1 1 .4 1-.2 1 .1 1-.3 1 .4 1 .3 1 .5 1-.7 1 0 1 0 1 0 1 0 1 .1 1-.1 1 .4 1-.6 1-.5 1 .3 1 0 1 .3 1-.5 1 .4 1 0 1-.4 1-2.6 1-4.1 1-1.1 1 5.9 1 5.2 1 .1 1-2.2 1-1.4 1 .2 1 .2 1-.1 1-.1 1-.2 1 .2 1-.2 1 0 1 0 1 .4 1-.5 1-.2 1 .1 1 0 1-.1 1-.5 1 .3 1 .3 1 .3 1 .2 1-.3 1-.1 1 .1 1 .4 1 .4 1 0 1-.5 1-.8 1-2.3 1-2.8 1 .8 1 5.3 1 3.6 1-.8 1-2 1-1.2 1-.3 1 .2 1 0 1 .2 1 0 1 .2 1 0 1 0 1-.3 1 .2 1 .3 1-1.3 1-3.2 1-3.5 1 .6 1 6.9 1 4.3 1-1.1 1-2.5 1-.9 1 .1 1 0 1 .2 1 0 1 .3 1 .2 1 .5 1-.3 1 .2 1 0 1 .2 1 .2 1 .3 1-.3 1-1.1 1-2 1-3.2 1-1.7 1 4.4 1 4.6 1 .7 1-1.9 1-.9 1-.4 1 .3 1-.2 1 .1 1-.1 1-.2 1 .1 1 .1 1 .2 1 0 1 .1 1 .7 1-.2 1-.8 1-2.7 1-3.2 1-.1 1 5.7 1 4 1-.1 1-1.9 1-1.2 1-.2 1-.2 1 .2 1-.4 1 .5 1 0 1 .1 1-.4 1-.2 1-.3 1 0 1 .4 1 0 1-.1 1-2.4 1-3.6 1-2.7 1 5.2 1 6.4 1 1.7 1-2.3 1-1.9 1-.8 1 .2 1 .2 1-.2 1 0 1 .1 1 .5 1 .2 1 0 1-.2 1-.6 1-.8 1-2.6 1-2 1 1.8 1 5.1 1 2 1-1.5 1-2.2 1-.8 1 .4 1 .9 1 .2 1 0 1-.1 1 0 1 .2 1-.3 1 0 1-1.1 1-2.5 1-2.6 1 .5 1 5.4 1 3.4 1-.9 1-1.9 1-.9 1 .1 1 .3 1 .1 1 0 1-.2 1 .2 1 .4 1 .5 1 .4 1-.1 1-.3 1-.2 1 .4 1-.2 1 .6 1 0 1 .3 1-.3 1-.1 1-.5 1-1.4 1-5.6 1-5.6 1 1.4 1 11.1 1 5.9 1-1.9 1-3.9 1-1.1 1-.1 1-.2 1-.4 1 .1 1 .2 1-.1 1 0 1 0 1-.3 1-.3 1 .1 1 .6 1-.5 1-3.1 1-6.8 1-3.5 1 9.2 1 9.7 1 1.9 1-3.6 1-3 1-.5 1 .2 1 .2 1-.1 1 .1 1 .4 1 .4 1-1.5 1-3.1 1-3.5 1 1.3 1 6.4 1 4.1 1-1.1 1-2.2 1-1.2 1-.4 1-2.1 1-2.2 1 .4 1 4.7 1 3.1 1-.4 1-2 1-1.2 1-2.5 1-3.2 1 .3 1 6 1 3.5 1-.8 1-2.3 1-.4 1 .1" stroke="#a2142f" stroke-opacity="0.7" stroke-width="1.35"/><path d="M415 268.1l1 .4 1 .1 1-.1 1-.7 1 0 1 .2 1 .6 1-.1 1-.3 1-.2 1 0 1 0 1 .2 1 .1 1 .3 1-.1 1 0 1 0 1-.1 1 .2 1 .3 1 0 1 0 1-.3 1 .4 1 .4 1 0 1-.4 1 .2 1-.7 1-1.8 1-3 1-1.2 1 5.7 1 4.6 1-.1 1-2.9 1-1.1 1-.1 1 .1 1-.1 1 0 1-.3 1-.1 1 0 1 .2 1 .2 1 0 1-.1 1 .1 1 0 1-.1 1-.1 1 .3 1 .1 1 .4 1-.3 1 0 1-.3 1 .4 1 .3 1 .3 1 .2 1-.1 1-.4 1-.4 1 .1 1 0 1 .1 1-.3 1-2.2 1-3.3 1-.7 1 5.7 1 4.9 1 .2 1-2.8 1-1.1 1-.5 1 .2 1 .4 1 0 1 .1 1-.3 1 .2 1-.1 1-.5 1-.6 1 .6 1-.1 1 .4 1-.1 1-.1 1 0 1 0 1 .3 1 0 1-.4 1 .1 1 .3 1 .2 1-.1 1-.6 1 0 1 .1 1-.4 1-1.6 1-1.8 1 .3 1 4.3 1 2.9 1-.7 1-2.2 1-.8 1 0 1-.1 1-.4 1 .1 1-.2 1 .8 1 .3 1 .1 1-.6 1-.3 1-.6 1-.7 1-2 1-2.9 1 0 1 5.7 1 4.2 1-1.2 1-2.1 1-1 1-.1 1 .3 1 .1 1-.3 1 0 1-.1 1 .3 1 .6 1 .3 1-.7 1 .2 1-.2 1 .4 1-.3 1 0 1-1.5 1-2.2 1-1.8 1 3.5 1 4.3 1 1.1 1-1.6 1-1.2 1 .1 1 .2 1 0 1 .2 1-.2 1-.2 1 .2 1-.1 1 0 1 .3 1-.2 1 .1 1-.3 1-1.2 1-2.6 1-2.7 1 .2 1 5.3 1 3.9 1-1 1-2.4 1-.9 1 .1 1 .4 1 .4 1-.2 1-.3 1 .1 1 .1 1 .2 1 .1 1 .1 1-.3 1 0 1 .4 1-.1 1-1.2 1-3.2 1-2.7 1 4.5 1 5.2 1 1.5 1-2.1 1-1.6 1-.4 1-.1 1 .1 1-.2 1 .3 1-.3 1 .1 1-.1 1 .1 1 0 1-.1 1-1 1-2.5 1-1.1 1 1.6 1 4.9 1 1.6 1-1.8 1-2.1 1-.7 1-.1 1 0 1 0 1 .1 1 .5 1-.3 1 .3 1-.1 1-.1 1-.7 1-1.9 1-1.6 1 .2 1 4.4 1 2.9 1-.8 1-1.9 1-.5 1 0 1 0 1-.2 1 .1 1 .3 1-.2 1 .1 1-.1 1 .1 1-.1 1 .1 1 .2 1 .4 1 .4 1 .1 1-.2 1-.4 1 0 1-.1 1 .1 1-1.2 1-4.5 1-4.7 1 .9 1 10.2 1 5.8 1-1.8 1-3.9 1-1.6 1-.1 1 0 1 0 1-.2 1 .1 1 .3 1 0 1 .2 1-.1 1 .3 1 .6 1 .3 1-.7 1-2.6 1-5.4 1-3.4 1 8.1 1 9.1 1 1.4 1-4.3 1-2.7 1-.7 1 0 1 .4 1 .3 1 0 1 .4 1-.3 1-.4 1-2.8 1-2.3 1 1 1 5.6 1 3.3 1-1.6 1-2.3 1-1.1 1-.6 1-1.8 1-1.8 1 .2 1 4.2 1 2.4 1-.4 1-2.1 1-1.2 1-2.3 1-2.6 1 .3 1 5.4 1 3.8 1-1.1 1-2.2 1-.9 1 .1" stroke="#0072bd" stroke-opacity="0.7" stroke-width="1.35"/><path d="M415 280.8l1 .3 1 .3 1 0 1 .1 1-.1 1 .1 1-.2 1 .1 1-.1 1-.1 1 .3 1 0 1-.3 1 0 1 0 1 .8 1-.1 1-.2 1-.3 1 .4 1-.1 1-.1 1-.4 1-.4 1 .2 1 .4 1 .3 1 .2 1 .2 1-.4 1-1.7 1-1.8 1-1.2 1 3.3 1 3.2 1 .4 1-1.5 1-.8 1-.1 1-.1 1-.3 1-.2 1-.2 1 .1 1-.3 1-.2 1 .4 1 .3 1-.2 1 .1 1 .3 1-.2 1-.3 1 .4 1 .2 1 .1 1 .1 1-.1 1 .1 1 .1 1 .1 1 .1 1 .2 1-.1 1 .4 1-.3 1-.4 1-.3 1 .1 1-.4 1-1.4 1-1.7 1-.9 1 3.2 1 2.6 1-.1 1-1.3 1-1 1 0 1-.5 1 .1 1 .2 1 .8 1 0 1 0 1-.2 1 0 1-.4 1 .3 1 0 1 .5 1 0 1 .3 1 .2 1-.1 1-.1 1-.3 1 .3 1-.2 1 0 1-.1 1-.1 1 .3 1-.3 1 .4 1-.5 1-.8 1-1.4 1 .1 1 2.7 1 1.9 1-.6 1-1.4 1-.2 1-.1 1 .5 1-.3 1 0 1-.2 1 .2 1 0 1 .2 1-.2 1 0 1-.1 1-.7 1-1.5 1-2 1-.1 1 3.6 1 2.3 1-.4 1-1.5 1-.6 1-.1 1 .1 1 .1 1-.1 1-.2 1 .6 1 .2 1-.1 1-.2 1-.1 1 .6 1-.3 1 .5 1-.2 1-.2 1-.6 1-1.5 1-1 1 2.2 1 2.8 1 .1 1-1.1 1-1 1-.1 1-.4 1-.1 1-.1 1 .1 1 .3 1-.1 1 .1 1 0 1 .1 1 .1 1 0 1 .4 1-.5 1-1.3 1-1.6 1-.4 1 3 1 2.4 1-.6 1-1.1 1-.6 1 .2 1 .2 1 .3 1 0 1-.2 1-.3 1 0 1 .1 1 .4 1 .4 1-.2 1 0 1-.2 1 .3 1-1.4 1-1.9 1-2.4 1 3.2 1 3.4 1 1.1 1-1.6 1-.7 1-.1 1 0 1-.2 1-.4 1 0 1 .1 1 .3 1 0 1 .2 1 .3 1 .2 1-1 1-1.8 1-1.1 1 .6 1 3.2 1 1.4 1-.9 1-1.1 1-.4 1 .3 1-.2 1 .4 1-.3 1 0 1-.4 1 .4 1 .1 1-.1 1 0 1-1.4 1-1.1 1 .1 1 3 1 1.7 1-.5 1-1.1 1-.3 1-.2 1 .7 1 .2 1 .3 1-.5 1-.1 1-.2 1-.3 1-.4 1 0 1-.3 1 .5 1 .1 1 .4 1-.1 1 .1 1-.1 1 .5 1 .1 1-.3 1-1 1-2.3 1-2.6 1-.1 1 6 1 3.5 1-1 1-1.5 1-.9 1-.2 1-.1 1-.1 1 .2 1 .3 1-.3 1 0 1 .1 1 .1 1-.4 1 0 1 0 1 .1 1-1.4 1-3.1 1-3.5 1 4.8 1 5.2 1 1.4 1-1.9 1-1.5 1-.4 1 0 1 .1 1-.1 1 .4 1 .4 1 0 1-.8 1-1.9 1-1.7 1 0 1 3.6 1 2.1 1-.1 1-1.3 1-.4 1-.2 1-1.5 1-1.1 1-.6 1 3.1 1 1.4 1-.3 1-.8 1-.6 1-1.1 1-1.5 1-.5 1 3.5 1 2.3 1-.9 1-1 1-.8 1 .1" stroke="#d95319" stroke-opacity="0.7" stroke-width="1.35"/><path d="M415 294.8l1 0 1-.2 1-.4 1-.2 1 .5 1 .4 1 0 1-.2 1 .1 1 .2 1-.2 1 .1 1 0 1-.1 1-.1 1-.2 1 .1 1-.1 1 .1 1 .5 1 .4 1-.6 1-.4 1-.1 1 .2 1 0 1-.5 1-.2 1-.1 1-.2 1-.3 1-.6 1-2.4 1-1.9 1 .6 1 3 1 1.8 1 .6 1-.7 1-.5 1-.4 1 .1 1 .1 1 0 1 .4 1 0 1 .2 1 .1 1-.2 1 .1 1-.1 1 0 1 0 1 .1 1-.1 1 .6 1-.3 1 .3 1 0 1 .4 1 .1 1-.3 1-.1 1 .3 1-.2 1 0 1 0 1 .3 1-.5 1 .3 1-.4 1-.5 1-2.8 1-1.5 1 .4 1 3.4 1 1.9 1 .2 1-.9 1-.4 1-.2 1 .4 1 .1 1 .2 1 .2 1 0 1 .2 1 .3 1 .4 1-.8 1 0 1-.2 1 .2 1 .3 1 .3 1 .3 1-.5 1 .3 1 .1 1 .1 1-.4 1-.3 1-.3 1-.1 1-.4 1 .2 1-.1 1-.9 1-2 1-1.8 1 2.6 1 2.1 1 1.1 1-.4 1-.7 1-.3 1 .2 1-.1 1 .2 1 .5 1 .5 1-.6 1 0 1-.3 1 .2 1-.3 1 0 1-1.3 1-2.4 1-2.2 1 2.3 1 3.4 1 1.6 1-.4 1-1 1-.5 1 0 1 .1 1 .3 1-.1 1-.1 1 .1 1 .2 1-.1 1 .2 1-.9 1-.3 1 .2 1 .2 1 .4 1-.4 1-1.5 1-1.9 1 0 1 2.5 1 2.1 1 .5 1-.8 1-.4 1-.2 1 .4 1-.4 1-.2 1-.1 1 .2 1 .4 1-.1 1-.1 1-.2 1-.1 1 .5 1-.4 1-1.1 1-2 1-2 1 2.3 1 3.1 1 1.5 1 .1 1-1.1 1-.4 1-.1 1 0 1-.3 1-.2 1 .2 1 .1 1-.2 1 .1 1-.1 1 0 1 .1 1-.1 1-.1 1-.7 1-1.9 1-2.4 1-.8 1 3.2 1 2.5 1 1.1 1-.5 1-.7 1-.4 1 .3 1 .4 1-.1 1 0 1 0 1 0 1 0 1-.1 1-.3 1-.2 1-1.1 1-2 1-.7 1 2.8 1 2.5 1 1 1-.7 1-.9 1-.6 1 .4 1 .3 1 0 1 .3 1 .1 1 .2 1 .4 1-.3 1-.3 1-.6 1-2.1 1-2.2 1 1.4 1 2.6 1 1.2 1 .3 1-.9 1-.3 1-.5 1 .5 1 0 1 .3 1-.4 1 0 1 .2 1 .3 1 .1 1-.3 1 .4 1 0 1 .4 1 0 1-.3 1-.1 1 0 1 .4 1 0 1 0 1-1.6 1-2.6 1-2.5 1 2.8 1 3.3 1 2 1-.5 1-1.1 1-.5 1-.2 1 0 1 0 1-.1 1 .1 1-.3 1-.3 1-.3 1 .4 1 .1 1 .3 1 .2 1-.9 1-2.5 1-1.7 1-.6 1 3.8 1 2.6 1 .6 1-.9 1-.8 1-.1 1 .2 1 .3 1 .3 1 .5 1 0 1-.3 1-1.7 1-2.1 1-2.2 1 2.9 1 2.5 1 1.5 1-.4 1-.7 1-.9 1-.8 1-1.5 1-1.5 1 1.8 1 2 1 1.1 1 0 1-.4 1-1.9 1-2.5 1-2.3 1 2.5 1 2.8 1 1.7 1-.1 1-.5" stroke="#edb120" stroke-opacity="0.7" stroke-width="1.35"/><path d="M415 306.4l1 .1 1 0 1 .4 1 .3 1 0 1-.3 1 0 1-.3 1 0 1-.3 1 .4 1 .1 1 .7 1 0 1-.5 1-.2 1-.2 1 0 1-.2 1-.2 1 .3 1 .4 1 .2 1 0 1 .2 1-.1 1 .4 1 0 1 .9 1 1 1 .1 1-3.7 1-4.3 1 .1 1 2.9 1 1.8 1 .2 1 .1 1 .1 1 0 1 .4 1 0 1 0 1-.1 1-.1 1 .3 1 .1 1-.2 1-.4 1 0 1 .6 1 0 1 .2 1-.1 1-.1 1 .2 1 .1 1 0 1-.3 1 .1 1-.1 1-.4 1 .1 1 .3 1 .4 1 .4 1-.3 1-.2 1 .3 1 1.3 1 .6 1-3 1-4.5 1-.3 1 2.6 1 1.8 1 .3 1-.2 1 .4 1 .2 1-.1 1-.2 1-.3 1 .2 1-.1 1-.2 1 .1 1-.2 1 0 1 0 1-.2 1-.1 1 .1 1 .6 1-.2 1-.1 1-.3 1 .2 1 .5 1 .2 1 0 1-.2 1 .1 1-.2 1 1.2 1 1 1-.1 1-3.5 1-3 1 .8 1 2.3 1 .9 1 .1 1 0 1-.2 1-.1 1 .3 1 0 1 .2 1 .2 1-.4 1-.1 1-.1 1 .5 1 1.2 1 1.8 1-.2 1-4.1 1-4 1 .5 1 3.1 1 1.3 1 .1 1-.2 1 .1 1 .1 1-.1 1-.1 1-.3 1-.3 1 .1 1 .2 1 .2 1 .1 1-.3 1-.1 1-.1 1 .9 1 1.3 1 .7 1-1.7 1-3.8 1-.7 1 2 1 1.9 1 .5 1 .1 1 .2 1-.1 1-.1 1 .2 1 0 1 .2 1 .3 1-.1 1-.2 1-.4 1-.4 1 .6 1 .7 1 1.8 1-.3 1-3.6 1-3.7 1 .6 1 2.6 1 1.1 1 .2 1 .1 1 .4 1-.6 1 .2 1 .1 1 .2 1-.3 1-.2 1 .3 1-.1 1 .2 1 .5 1 .2 1 0 1 1.1 1 1.1 1-2.5 1-4.7 1-1.3 1 2.9 1 2.5 1 1 1 .4 1-.1 1-.5 1-.1 1-.1 1 .1 1-.5 1 0 1 .4 1 0 1 .3 1 .8 1 .9 1-1.1 1-3.6 1-1.9 1 1.1 1 1.5 1 .9 1 .5 1-.4 1 .4 1-.2 1 .4 1-.2 1 .3 1-.4 1 0 1 .2 1 .8 1 1.5 1 0 1-3.3 1-3.5 1 .7 1 1.9 1 1.1 1 .2 1 .1 1-.4 1 .4 1-.1 1 0 1 .2 1 .2 1-.3 1 .3 1-.2 1-.3 1-.2 1-.1 1 .2 1-.1 1 .6 1 .5 1 .2 1-.1 1 0 1 .8 1 2 1-.3 1-4.8 1-3.6 1 1.5 1 2.9 1 1.7 1-.1 1 .1 1-.3 1 .6 1-.1 1-.4 1-.1 1 .4 1 .2 1 .4 1-.4 1-.2 1 .2 1 .6 1 1.7 1 1.3 1-2.7 1-5.3 1-1.2 1 2.9 1 2.2 1 .7 1-.1 1 .2 1-.2 1-.1 1-.2 1 .2 1 .1 1 .8 1 1.3 1-.3 1-4.2 1-3.6 1 1.1 1 3.2 1 1.2 1 .2 1 .4 1 1 1 .1 1-3 1-2.7 1 .3 1 2 1 .9 1 .9 1 1.7 1-.1 1-3.1 1-3.6 1 1.1 1 2.5 1 1.3 1 0 1-.2 1 .2" stroke="#7e2f8e" stroke-opacity="0.7" stroke-width="1.35"/><path d="M415 319.7l1-.1 1 .6 1-.3 1 .1 1-.5 1 .3 1 0 1 .1 1 .2 1 .1 1 0 1-.1 1 .4 1-.2 1 .2 1-.1 1-.1 1-.3 1 .2 1 .1 1-.4 1 0 1-.2 1-.2 1-.1 1-.6 1 .3 1 0 1 1.2 1 2.6 1 1.5 1-3.4 1-5.6 1-1.2 1 2.2 1 1.5 1 .3 1 0 1 .1 1 .4 1 0 1 .1 1 .2 1 .1 1 .3 1-.3 1-.3 1-.1 1 .2 1 .2 1 0 1 .1 1-.2 1 .4 1 .2 1 .2 1-.4 1-.4 1-.1 1 .1 1 .3 1-.1 1 0 1 0 1 .1 1-.1 1 .1 1 .2 1 1.4 1 3 1 1.4 1-3.9 1-5.3 1-.3 1 2.5 1 1.5 1 .2 1 0 1-.2 1-.1 1 .1 1 .2 1 .4 1 0 1 .3 1-.5 1 .1 1-.4 1-.2 1 0 1 .1 1-.3 1-.2 1 0 1 0 1 .4 1-.2 1 0 1-.6 1 .2 1 .1 1 .6 1 .1 1-.1 1 1.2 1 2.4 1 .5 1-4.1 1-3.3 1 .6 1 2.2 1 .8 1 0 1 .1 1 .1 1 .2 1-.3 1-.1 1-.3 1-.2 1 0 1 .1 1 .3 1 .3 1 1.4 1 2.5 1 .5 1-4.8 1-4.2 1 .1 1 3 1 1.1 1 .3 1-.4 1 .1 1-.3 1 0 1 0 1 .4 1-.2 1-.2 1-.8 1-.2 1 .5 1 .2 1 .2 1-.2 1 .7 1 1.8 1 1.6 1-2.4 1-4.6 1-1.4 1 1.6 1 1.6 1 .2 1 .2 1 0 1 .2 1 .3 1-.4 1-.4 1 0 1 .2 1 .3 1 0 1 .3 1 .4 1 .2 1 1 1 2.7 1 .9 1-4 1-4.1 1 .1 1 2 1 1 1 0 1 0 1-.1 1-.1 1 0 1 0 1 .2 1-.4 1 .1 1 .2 1 .1 1 0 1 .3 1 .2 1 .3 1 2.2 1 2.8 1-1.6 1-5.2 1-2.2 1 2.1 1 1.8 1 .5 1 0 1-.1 1-.2 1 0 1-.2 1 .2 1-.3 1-.2 1 0 1 .7 1 .8 1 1.2 1 2.2 1-.9 1-4.6 1-2.7 1 .8 1 2 1 .2 1 .4 1-.2 1 .3 1-.1 1 .2 1 .1 1 .1 1-.5 1-.1 1 .3 1 .8 1 2.4 1 0 1-3.9 1-3.5 1 .2 1 2.5 1 .5 1 .3 1-.4 1 .1 1 .1 1 .1 1-.3 1 .3 1 .1 1 .2 1 .2 1-.2 1 .2 1-.1 1 .1 1-.2 1 .2 1-.1 1 .2 1 .3 1 .2 1 .3 1 1.5 1 3.2 1 0 1-5.6 1-4.7 1 .5 1 3 1 1.2 1 .3 1 0 1-.2 1-.5 1 0 1-.3 1 .4 1-.2 1 .1 1-.2 1-.4 1-.1 1 .2 1 1.1 1 2.9 1 1.9 1-3.1 1-5.9 1-2.1 1 2.4 1 2.1 1 .6 1 .3 1 0 1-.2 1-.2 1 .2 1 0 1 .5 1 1.2 1 3 1 0 1-4.6 1-4.1 1 .8 1 2.6 1 .9 1 .7 1 1 1 2.4 1 .4 1-3 1-3.2 1-.1 1 1.4 1 1 1 1.8 1 2.6 1 .4 1-4.4 1-3.9 1 .1 1 2.1 1 1 1 .3 1-.2 1-.3" stroke="#77ac30" stroke-opacity="0.7" stroke-width="1.35"/><path d="M415 332.3l1-.2 1 0 1-.2 1 0 1 0 1 .1 1 0 1-.1 1 0 1 0 1 .1 1 0 1 .1 1-.5 1 .3 1 0 1 .2 1 .3 1 0 1-.2 1-.3 1 .1 1 .6 1-.1 1 .1 1 .5 1 .1 1 .1 1 1.2 1 4.8 1 2.3 1-4.9 1-6.7 1-1.1 1 2.1 1 1.1 1-.1 1 .5 1 .5 1 0 1 0 1-.2 1-.1 1-.3 1-.2 1-.3 1-.5 1 .1 1 .2 1 .4 1 0 1 .6 1-.3 1-.1 1-.4 1-.7 1-.4 1-.2 1 .2 1 .5 1 .1 1-.1 1 .4 1 .4 1 .3 1 .1 1-.5 1 .1 1 1.4 1 4.2 1 2.1 1-4.7 1-5.8 1-.7 1 2.5 1 1.1 1 .2 1 .4 1 .3 1 0 1-.2 1-.3 1-.1 1 .4 1 .4 1 .1 1-.1 1-.1 1 .1 1-.1 1-.3 1-.7 1 .1 1 .1 1-.1 1-.3 1-.2 1-.3 1-.4 1-.1 1 .2 1-.2 1 .4 1 .4 1 1.3 1 3.2 1 1.1 1-4.7 1-4.3 1 0 1 1.8 1 1 1 .1 1 0 1 .6 1 .6 1 0 1-.4 1 0 1-.2 1 .1 1 .2 1 0 1 .4 1 2 1 4 1 1.1 1-5.9 1-5.9 1 .3 1 2.4 1 1.1 1-.1 1 .5 1 .3 1-.2 1-.5 1-.3 1 .2 1 .2 1 .4 1 .2 1-.1 1-.1 1-.3 1-.4 1 .1 1 1.2 1 3.4 1 3.2 1-2.5 1-5.6 1-1.6 1 1.7 1 1.3 1 .2 1 .2 1 0 1 .1 1-.2 1-.1 1-.2 1 .3 1-.3 1-.4 1-.2 1-.2 1 .2 1 .2 1 1.8 1 3.8 1 .7 1-4.8 1-5.4 1-.2 1 1.9 1 1.4 1 .3 1-.3 1-.3 1 0 1 .3 1 .3 1-.4 1 .1 1-.2 1 .5 1-.1 1-.1 1-.2 1 0 1 .9 1 3.5 1 3.3 1-2.3 1-6.8 1-2.9 1 1.8 1 2.3 1 .9 1 .6 1-.6 1-.1 1-.2 1 .1 1 0 1 .2 1 .3 1-.1 1 0 1 .3 1 2 1 2.9 1-.8 1-5.4 1-3.3 1 .9 1 1.7 1 1.1 1 .5 1-.3 1 0 1 .3 1 .2 1-.3 1-.3 1 .3 1 .3 1 .4 1 1.3 1 3.3 1 1 1-4.5 1-4.3 1 0 1 2.1 1 1 1 .4 1 .1 1-.3 1-.1 1 0 1 .1 1 .2 1 0 1 .3 1 .1 1-.4 1-.1 1-.3 1-.1 1 0 1 0 1-.4 1 .1 1-.2 1-.1 1 .1 1 2.8 1 4.7 1 .7 1-7 1-6.1 1 .5 1 3.1 1 1.4 1 .4 1 0 1-.4 1 .2 1 .2 1 .1 1 .1 1-.2 1 .2 1-.1 1 .4 1-.2 1-.4 1 1.3 1 3.8 1 4 1-3.8 1-7.3 1-3.1 1 2.5 1 1.4 1 .8 1-.2 1-.1 1 .3 1 .3 1 .5 1-.3 1 .7 1 2.7 1 4.3 1 .1 1-6.3 1-5 1 .1 1 2.5 1 1.4 1 .7 1 1 1 2.7 1 .9 1-3.7 1-4.4 1-.1 1 1.4 1 1.3 1 1.8 1 3.4 1 1.1 1-4.6 1-5 1-.2 1 2 1 1.2 1 .2 1-.1 1 .1" stroke="#4dbeee" stroke-opacity="0.7" stroke-width="1.35"/><path d="M415 344.7l1-.1 1-.1 1 .1 1-.2 1 .1 1 .2 1 .2 1 .3 1-.5 1 .2 1 .1 1 .1 1-.4 1 .2 1 0 1-.1 1 0 1-.1 1 .2 1-.1 1 .2 1 .1 1-.1 1-.1 1-.1 1-.1 1 .1 1-.6 1 1.3 1 4.3 1 5.4 1-3.2 1-9 1-4.6 1 2 1 2.2 1 1 1 .6 1-.2 1 .3 1-.1 1 0 1 .1 1-.3 1 .1 1 0 1 .2 1-.2 1 .1 1-.2 1-.3 1-.2 1 .2 1 .4 1-.1 1 0 1 .1 1-.1 1-.2 1-.3 1 .1 1 .2 1 .2 1-.1 1 0 1-.1 1 .4 1 0 1 1.3 1 4.5 1 5.3 1-3.4 1-8.9 1-4.4 1 2 1 2.6 1 .9 1 .2 1 .1 1 0 1 .3 1-.2 1 .2 1 .1 1 .1 1 .2 1 .1 1-.8 1 .6 1-.2 1 .8 1-.2 1 0 1-.4 1 .3 1-.3 1 .4 1-.2 1 .6 1-.2 1-.4 1-.1 1-.3 1 .4 1 2 1 4.5 1 3.4 1-4.4 1-6.9 1-2.1 1 2 1 1.7 1 .4 1-.2 1-.4 1-.2 1-.1 1 .5 1 .1 1 .3 1-.5 1 0 1 .1 1 .4 1 1.8 1 5 1 4.2 1-5.5 1-8.7 1-2.5 1 2.4 1 1.9 1 .9 1 .4 1 .2 1-.3 1-.5 1 0 1-.1 1 .2 1-.1 1-.1 1-.3 1-.2 1 .3 1 0 1 .1 1 .8 1 3.4 1 4.1 1-1 1-7.3 1-4.3 1 1 1 1.7 1 .8 1 .6 1 0 1 .1 1 .1 1 .3 1 .2 1-.2 1-.3 1 .2 1 .1 1 .3 1 .2 1 .2 1 1.3 1 4.9 1 4 1-5 1-8.3 1-2.5 1 2.7 1 1.4 1 .7 1 .1 1 .2 1 0 1-.3 1 .1 1-.2 1 0 1 .2 1 0 1 0 1 .1 1 .1 1 .2 1 .8 1 3.1 1 6.1 1-.2 1-8.3 1-6.8 1 .4 1 2.8 1 1.3 1 .4 1-.3 1-.4 1 .1 1-.2 1 0 1-.3 1 .1 1-.3 1 .5 1 .3 1 2.7 1 4.7 1 1.6 1-6.3 1-5.9 1-.8 1 2.3 1 .7 1 .3 1 .4 1-.2 1 .2 1 0 1-.3 1 .4 1-.1 1 0 1 .3 1 1.4 1 4.4 1 3 1-4 1-7.3 1-1.9 1 2.3 1 1.8 1 .4 1 .1 1-.1 1 .1 1 .4 1-.2 1 0 1-.2 1-.1 1-.3 1 .3 1-.2 1 .1 1-.1 1 .1 1-.2 1 .1 1 .6 1-.1 1-.6 1 .3 1 2.5 1 6.6 1 3.6 1-6.2 1-9.6 1-1.8 1 2.8 1 2.2 1 .4 1-.4 1-.1 1 .2 1 0 1-.1 1-.2 1-.3 1-.1 1 .2 1-.3 1 0 1-.2 1 1.4 1 4.4 1 6.5 1-1.6 1-10.3 1-5.7 1 1.5 1 2.5 1 1.6 1 0 1-.2 1 .3 1-.2 1 .4 1 .4 1 .1 1 1.9 1 5.4 1 3.2 1-5.9 1-8.7 1-1.3 1 2.6 1 2 1 .4 1 1.3 1 3.8 1 3.1 1-3.8 1-6.3 1-1.2 1 1.4 1 1.6 1 2.1 1 5.3 1 3.9 1-4.3 1-7.7 1-2.8 1 1.9 1 1.6 1 .4 1-.1 1 .2" stroke="#a2142f" stroke-opacity="0.7" stroke-width="1.35"/><path d="M415 357.3l1-.3 1 .2 1 0 1 0 1 .3 1 0 1-.3 1 0 1 .1 1 .4 1-.4 1 .1 1 .1 1 .3 1 0 1 0 1 0 1 0 1-.3 1-.2 1 .2 1-.2 1 .3 1 .4 1 .1 1 0 1 .1 1 .4 1 1.3 1 5 1 5.7 1-2.9 1-9.4 1-3.9 1 1.4 1 1.7 1 .2 1-.1 1 .2 1 .1 1-.2 1 0 1 .1 1 0 1 0 1 .1 1 0 1-.2 1 0 1 .6 1-.1 1-.2 1 0 1-.4 1 .3 1-.2 1 .1 1 .1 1 0 1 0 1-.3 1 .2 1-.3 1-.1 1-.3 1-.4 1 0 1 .4 1 1.6 1 4.7 1 5.6 1-3.4 1-8.9 1-4 1 1.9 1 2.3 1 .6 1 .3 1 0 1 0 1-.1 1 .3 1 .5 1-.7 1-.3 1-.3 1 .1 1-.2 1 0 1-.1 1 .3 1 .3 1 .3 1-.1 1-.1 1-.3 1 .3 1 .6 1 0 1 0 1-.1 1 0 1-.4 1 .8 1 1.5 1 4.8 1 3.5 1-4 1-7.3 1-2.6 1 1.3 1 1.1 1 .1 1 .1 1-.1 1-.1 1 .1 1 .1 1 .5 1 .1 1 0 1-.1 1 .6 1 .3 1 2.1 1 5.3 1 4.4 1-5 1-8.7 1-2.5 1 1.9 1 1.3 1 .3 1 .1 1 .1 1-.3 1-.2 1 .1 1 .4 1-.4 1 .3 1-.5 1 .3 1-.2 1-.2 1-.2 1 .1 1 1.3 1 3.7 1 5.3 1-1.2 1-7.2 1-4.9 1 1.1 1 1.2 1 .7 1 0 1 0 1 .2 1 .4 1 0 1-.4 1-.2 1 .1 1-.4 1 0 1 0 1 .5 1 0 1 2 1 5.2 1 4.6 1-4.6 1-7.8 1-2.2 1 1.5 1 1 1 0 1 .2 1 0 1-.2 1 .2 1 .2 1 .2 1 .2 1 .1 1-.2 1-.1 1 .1 1 .2 1-.1 1 .7 1 3.8 1 6.2 1 .3 1-8.6 1-5.9 1 .3 1 2.4 1 .5 1 .1 1-.4 1-.2 1 0 1 .1 1 .1 1 .1 1 0 1 .1 1 .4 1 .2 1 2.4 1 4.8 1 1.5 1-5.8 1-6.2 1-.6 1 1.8 1 1.1 1 .1 1-.3 1 .3 1 .1 1 .3 1 0 1-.4 1-.1 1 .1 1 .6 1 1.6 1 5.2 1 3.3 1-4.1 1-6.8 1-2.2 1 1.2 1 1.3 1 .4 1 .3 1 .2 1-.3 1 .1 1-.3 1 0 1-.3 1-.1 1 0 1-.3 1 .1 1-.1 1 .1 1 .3 1 .4 1-.2 1-.4 1-.1 1 .6 1 .5 1 2.4 1 6.6 1 4.4 1-6.7 1-9.7 1-2.2 1 2 1 1.8 1 .6 1-.4 1 .2 1 .1 1 .3 1 .2 1 0 1-.2 1 .2 1-.3 1 .1 1-.2 1 .5 1 1.4 1 4.7 1 7.1 1-1.4 1-9.6 1-6.3 1 1 1 2.4 1 1.2 1 .1 1-.1 1 0 1-.1 1 .1 1-.1 1 .3 1 2.1 1 6 1 3.7 1-5.9 1-8.3 1-1.9 1 2 1 1.7 1 .1 1 1.3 1 3.8 1 3.2 1-3.8 1-6.1 1-1.9 1 1.6 1 1.3 1 2.4 1 5.2 1 4.4 1-4.6 1-8.3 1-2.6 1 1.7 1 1.7 1 .4 1 .1 1 .3" stroke="#0072bd" stroke-opacity="0.7" stroke-width="1.35"/><path d="M415 369.7l1 .2 1 0 1 0 1-.1 1-.3 1 .1 1 0 1 .4 1-.1 1 .9 1-.7 1 .3 1-.5 1 .1 1 .4 1 0 1 0 1-.3 1 0 1 .3 1 0 1 .1 1 .3 1-.1 1-.1 1-.1 1-.5 1-.2 1 1.2 1 4.6 1 6 1-.3 1-7.2 1-4.8 1-.4 1 1 1 .1 1 0 1 .3 1 .1 1 .1 1 0 1-.4 1 .1 1 .1 1-.1 1-.1 1 0 1 0 1-.2 1 .4 1-.1 1 0 1-.2 1 .1 1-.3 1 .3 1-.3 1 .1 1 0 1 .1 1 .2 1-.4 1 .1 1-.1 1-.1 1-.1 1 .2 1 1.4 1 3.9 1 5.9 1-.4 1-7 1-4.6 1-.4 1 .9 1 .5 1 .2 1-.3 1 .4 1-.1 1 .4 1 .2 1 .2 1 .3 1-.2 1 .5 1-.1 1 .2 1-.6 1 0 1-.2 1 0 1 .1 1 .3 1-.2 1-.3 1 .1 1-.4 1 .3 1-.1 1 0 1 .3 1 .1 1 1.2 1 3.8 1 4.8 1-1.7 1-6.6 1-2.8 1 .1 1 .7 1-.1 1 .3 1-.2 1 .4 1-.4 1 0 1 .1 1-.2 1 .1 1-.3 1 .1 1 .3 1 1.1 1 4.7 1 5.6 1-1.8 1-7 1-3.5 1-.2 1 .8 1 0 1 .1 1 .2 1-.3 1 .4 1-.2 1 .1 1 .3 1-.2 1 0 1-.1 1 .2 1 .1 1-.1 1-.3 1 .1 1 2.4 1 4.8 1 1.1 1-5 1-4.4 1-.6 1 .4 1 .2 1-.2 1-.2 1 .2 1 .3 1 .4 1-.2 1-.3 1 0 1-.2 1 0 1-.1 1 .1 1 .7 1 1.4 1 4.3 1 4.7 1-2 1-6.1 1-3.4 1 .1 1 .5 1 .3 1 .2 1 0 1 .1 1 0 1-.2 1-.2 1 .2 1-.2 1 .4 1-.1 1 .1 1 .3 1 0 1 .3 1 2.7 1 6.3 1 2.3 1-5.8 1-6.2 1-1.3 1 .8 1 .4 1 0 1 .3 1-.1 1 .1 1 0 1 0 1-.3 1-.1 1 .2 1 .2 1 .8 1 1.3 1 4.8 1 2.7 1-3.8 1-5.8 1-1.5 1 .8 1 .3 1 .4 1-.3 1-.2 1 .1 1 .4 1-.1 1 .1 1-.5 1-.2 1 0 1 1.2 1 4 1 4.6 1-1.4 1-5.7 1-3 1 0 1 .7 1 0 1 0 1 0 1 .6 1-.4 1 0 1 0 1 .3 1 0 1 0 1 .2 1 .2 1-.3 1 0 1 .2 1 .3 1-.3 1 0 1 .4 1 0 1-.1 1 2.3 1 6 1 5.5 1-3.9 1-7.9 1-3.6 1 .2 1 .6 1 .4 1-.3 1-.2 1-.1 1 .2 1 .3 1-.2 1-.1 1 .2 1-.2 1 .2 1-.2 1 .3 1 .9 1 4.4 1 6.7 1 1.4 1-7 1-5.9 1-1.1 1 .5 1 .5 1 .1 1 .5 1-.1 1-.1 1-.4 1-.4 1 .5 1 2 1 4.9 1 4.8 1-3.1 1-7 1-3.3 1 .1 1 .9 1 .5 1 1.1 1 2.9 1 3.6 1-1.5 1-4.9 1-2.3 1 .4 1 .8 1 1.5 1 4.4 1 4.3 1-2.1 1-6.5 1-3.2 1 .2 1 .3 1 .4 1 .1 1 0" stroke="#d95319" stroke-opacity="0.7" stroke-width="1.35"/><path d="M415 382l1 0 1 .1 1 0 1 .5 1 0 1 .5 1 0 1-.1 1-.3 1 .2 1 .1 1 0 1-.1 1-.3 1-.1 1 .1 1 .1 1 .3 1-.2 1-.2 1-.1 1 .4 1-.5 1-.1 1 .1 1-.1 1 0 1-.3 1 .6 1 1.3 1 1.8 1-.2 1-1.4 1-.6 1-.3 1 0 1 .1 1 .3 1 .3 1 .2 1-.1 1 0 1 .2 1-.1 1 0 1 0 1 0 1-.2 1-.2 1 .2 1 .1 1 .1 1-.4 1-.1 1-.4 1 .4 1-.1 1 .1 1-.5 1 0 1 .1 1 .2 1 .2 1-.5 1 0 1 0 1-.3 1 .2 1 .6 1 1 1 1.3 1 .2 1-1.5 1-.9 1-.5 1-.2 1-.1 1 .2 1 .3 1-.1 1-.1 1-.3 1 .1 1 .3 1-.3 1 0 1 .1 1-.2 1-.5 1 0 1-.2 1 .4 1 .1 1 .4 1-.1 1 .2 1 .6 1 .2 1 .1 1-.5 1-.1 1 .3 1 .1 1-.1 1 0 1 .6 1 .9 1-.4 1-1.1 1-.5 1-.5 1 .4 1-.4 1-.3 1-.5 1-.2 1-.4 1 0 1 .2 1 .4 1-.2 1 0 1-.4 1 .1 1 .4 1 1.1 1 1.2 1 .2 1-1.7 1-.3 1-.1 1 .2 1 .2 1 .2 1 .3 1-.3 1-.5 1 0 1 .1 1 0 1 0 1-.2 1 0 1 .3 1-.2 1 .4 1-.3 1 0 1 .4 1 .9 1 .7 1-1.1 1-.6 1-.6 1 0 1 .3 1 .2 1-.2 1-.1 1 .1 1 .4 1-.1 1 .3 1 0 1 0 1-.4 1 .2 1 0 1 .1 1 .4 1 .9 1 1 1-.5 1-1 1-.5 1 0 1 .4 1-.3 1 .4 1-.1 1-.2 1-.4 1 .5 1 0 1 .2 1-.2 1-.1 1 .2 1-.1 1 .1 1-.2 1 .2 1 .3 1 1 1 .5 1-1.1 1-.9 1-.1 1 0 1-.3 1-.3 1-.1 1-.1 1-.2 1 0 1 .5 1 .3 1 0 1 .5 1-.2 1 .4 1-.1 1 1.2 1 .6 1-.4 1-1.2 1-.4 1-.1 1 0 1-.1 1-.3 1-.3 1-.3 1 0 1 0 1 .1 1 .4 1 .2 1-.3 1-.2 1 .5 1 .7 1 .2 1-.9 1-.1 1-.1 1-.2 1 .1 1-.3 1-.1 1 0 1-.1 1 .1 1-.1 1 0 1-.2 1 .2 1-.3 1 .4 1 0 1 .1 1-.1 1-.2 1-.3 1 .1 1 .2 1 .4 1 0 1 .6 1 .8 1 1.2 1-.3 1-1.3 1-.5 1-.1 1 .1 1 .2 1 0 1-.3 1-.1 1 .2 1 .5 1 .1 1 0 1-.5 1 0 1 .4 1-.1 1-.1 1-.3 1 .5 1 1.3 1 0 1-.8 1-.9 1-.2 1-.2 1 .3 1-.2 1 .1 1-.2 1 .4 1-.3 1-.3 1 .4 1 .3 1 1.4 1 1.1 1-.8 1-1.2 1-.8 1 .2 1 .5 1-.4 1 0 1 .4 1 1.1 1-.4 1-1.1 1-.8 1 .3 1 0 1 .1 1 .8 1 .8 1-.1 1-1.3 1-.5 1-.8 1-.1 1 .2 1 .5 1 0" stroke="#edb120" stroke-opacity="0.7" stroke-width="1.35"/><path d="M797 89.6l1-.2 1-.1 1-.5 1 .4 1-.1 1 .5 1-.4 1 0 1-.3 1 .2 1 .1 1 .1 1-.1 1-.2 1 0 1-.2 1-.1 1-.2 1 .2 1 .7 1 .5 1 .3 1-.3 1-.1 1-.3 1 0 1 .1 1 .1 1 .4 1-.5 1-.1 1-.2 1 .1 1 .2 1 .3 1 0 1-.1 1 .1 1-.2 1-.1 1 .1 1 0 1-.1 1-.1 1-.1 1-.1 1 .4 1 0 1 0 1-.3 1-.2 1-.2 1-.2 1 0 1-.1 1 .4 1 .1 1 .1 1-.2 1-.1 1-.2 1-.1 1 0 1-.2 1 0 1 .1 1 .5 1 .1 1 .3 1-.1 1-.3 1 .1 1 .3 1 .4 1 0 1-.1 1-.2 1 .1 1-.1 1 .1 1 .1 1 .2 1 0 1-.2 1-.1 1-.1 1-.1 1-.1 1-.2 1 0 1 0 1 0 1 .3 1 .1 1 0 1-.1 1-.5 1-.1 1 .1 1 .1 1 .1 1 .1 1 0 1 .2 1-.1 1-.2 1 .2 1 .1 1 .2 1-.1 1-.2 1-.1 1-.1 1 .1 1 0 1 .1 1 .2 1 .2 1-.3 1 .2 1-.3 1 0 1 .1 1 .2 1 0 1-.2 1-.2 1 .1 1 0 1-.2 1 .1 1-.1 1 .2 1-.1 1-.2 1 .1 1 0 1 .1 1 .4 1-.3 1 .2 1-.4 1 0 1-.3 1 0 1 .1 1 .1 1-.2 1 .2 1-.1 1 .2 1 .3 1 .3 1 0 1-.2 1-.3 1-.1 1-.1 1 0 1 .3 1 .1 1-.2 1-.1 1 .1 1 .4 1-.5 1 .2 1 0 1 .2 1-.2 1 0 1 .1 1 .2 1-.2 1 .1 1 0 1 .4 1-.5 1 0 1-.5 1 .4 1-.1 1 .3 1-.1 1 0 1-.1 1-.1 1-.1 1 .1 1-.2 1 .1 1-.2 1 0 1-.2 1 .4 1 .3 1 .1 1 0 1 0 1-.2 1-.5 1-.1 1 0 1 .1 1 0 1 .2 1 0 1 .2 1 .1 1 .2 1 .2 1 0 1 0 1-.1 1-.3 1-.1 1 .2 1 .1 1 0 1 0 1 .1 1 .1 1-.1 1-.3 1 0 1 .1 1 0 1 0 1-.2 1 .1 1 0 1 .2 1 0 1 .4 1 0 1-.3 1-.1 1-.3 1 .3 1 .1 1 .1 1-.1 1-.2 1 .1 1-.1 1 .2 1-.1 1-.1 1-.1 1 .1 1-.1 1-.2 1-.1 1 .1 1 0 1 .1 1-.1 1 .3 1 .2 1 0 1-.2 1 .1 1-.3 1 .3 1-.2 1 .1 1-.1 1-.3 1-.2 1 .1 1 0 1 0 1 .1 1 .3 1 .2 1-.2 1 0 1-.3 1 .1 1 0 1 .2 1 .3 1-.3 1-.1 1-.1 1 0 1-.2 1 .1 1 .1 1 .1 1-.2 1-.2 1-.2 1 0 1 0 1 0 1 .3 1-.1 1 0 1-.3 1 .2 1 .3 1 .1 1-.1 1-.3 1 .1 1 .3 1 0 1 .4 1 .1 1-.1 1-.4 1 .1 1 .2 1 .3 1-.1 1 0 1-.4 1 .1 1 .1 1 .2" stroke="#0072bd" stroke-opacity="0.7" stroke-width="1.35"/><path d="M797 102l1-.1 1-.1 1 .1 1 0 1 .1 1 .1 1 .1 1 .1 1 .2 1 0 1 .1 1-.2 1-.3 1 0 1 .2 1 .2 1 .1 1 .2 1 .3 1-.2 1-.2 1 0 1 .1 1-.1 1-.3 1 0 1-.1 1 .2 1 0 1-.1 1 .2 1 0 1 0 1 0 1-.1 1 .1 1-.1 1 0 1-.1 1 .1 1 .1 1 0 1 .1 1 0 1 .1 1-.1 1 .2 1 0 1-.3 1 0 1-.5 1-.1 1-.1 1 .3 1 .1 1 .2 1-.2 1 0 1-.1 1-.3 1-.1 1 .1 1 .1 1-.3 1 .2 1-.2 1 .1 1 0 1 .2 1 0 1 0 1 0 1-.2 1-.2 1-.1 1 .3 1 .2 1 .3 1-.1 1 .3 1 .1 1 .1 1-.3 1 0 1 0 1 .3 1-.1 1 0 1 0 1 0 1 0 1-.1 1 .3 1 0 1-.2 1-.2 1-.3 1 .2 1 0 1 .4 1 0 1 .2 1 0 1-.1 1 0 1 .1 1 .1 1 0 1-.2 1-.3 1-.2 1 0 1 0 1 0 1 0 1-.1 1-.4 1-.3 1 0 1-.1 1 .3 1-.1 1 .2 1-.2 1-.2 1 .2 1 .3 1 .3 1 .2 1 0 1-.2 1-.1 1 .1 1 .4 1-.1 1 0 1-.1 1 .1 1 .1 1-.1 1 .1 1 0 1 0 1 .4 1 .1 1-.2 1-.4 1-.1 1-.2 1 .2 1-.3 1 .1 1-.2 1 .4 1 0 1-.1 1-.2 1-.2 1 .2 1-.1 1 .4 1-.2 1 .3 1-.3 1 .1 1 .2 1 .1 1-.1 1-.6 1 0 1 .2 1 .3 1 .1 1 .3 1-.2 1 0 1-.3 1-.3 1-.5 1 .3 1 .3 1 .1 1-.1 1 0 1 .2 1 0 1 .1 1 0 1-.1 1 0 1 0 1-.2 1 .4 1-.1 1 .2 1-.1 1-.5 1-.1 1 0 1 0 1 .2 1 0 1 0 1-.1 1-.2 1 0 1 .1 1 0 1 .2 1 .2 1 .4 1 0 1-.1 1-.2 1-.1 1-.2 1 .3 1-.1 1 .3 1-.2 1 .1 1 0 1 0 1 0 1 0 1 .1 1 .1 1 .2 1 .2 1-.2 1 0 1 .1 1-.1 1 0 1-.2 1-.1 1 0 1 .3 1 .1 1-.1 1-.4 1 .1 1-.1 1-.1 1-.4 1-.1 1 0 1 0 1 0 1 .1 1-.4 1 0 1 0 1 .1 1-.1 1 0 1 .1 1-.2 1 0 1 .2 1 .3 1 .2 1-.1 1 0 1-.2 1 .3 1 0 1 .2 1-.1 1 .2 1 0 1-.3 1 0 1-.3 1 .2 1 .1 1 .2 1-.3 1-.2 1 0 1 .1 1 .1 1 .2 1 0 1 0 1-.1 1 0 1 0 1 0 1 0 1-.4 1-.3 1-.4 1 .5 1 .2 1 .3 1-.1 1 0 1-.1 1-.2 1 0 1 0 1 .4 1 .2 1 .2 1 0 1-.2 1-.1 1 .1 1 .1 1-.1 1 .1 1 .2 1-.1 1 0 1 0 1 0 1 .2 1 .1 1 0 1 0" stroke="#d95319" stroke-opacity="0.7" stroke-width="1.35"/><path d="M797 115l1-.1 1-.2 1 .2 1 0 1 .1 1 .1 1 .3 1 .5 1-.3 1 .4 1-.3 1 .1 1 .2 1 .2 1-.2 1-.3 1-.1 1 .4 1 0 1 .3 1 .2 1-.1 1-.3 1-.2 1-.3 1 .1 1-.2 1 .1 1 0 1-.2 1-.1 1-.1 1-.2 1-.3 1-.3 1 0 1-.1 1 .3 1 .1 1 0 1-.2 1 .2 1 .1 1-.2 1-.1 1 0 1 .1 1 0 1 .2 1 .1 1 .2 1 .1 1-.2 1-.2 1-.1 1 0 1 .1 1-.1 1 .1 1 .2 1 .2 1-.2 1 0 1 0 1 .5 1-.1 1 0 1-.1 1 0 1-.1 1-.1 1-.1 1-.1 1 0 1 .2 1 .1 1 0 1-.2 1 .2 1 .1 1 .1 1-.3 1-.1 1-.1 1-.4 1-.1 1-.1 1 .1 1 .1 1 0 1-.2 1-.1 1 0 1 .2 1 .2 1-.2 1-.5 1-.1 1 .4 1-.1 1-.1 1 0 1-.2 1 .3 1 .2 1 .1 1 .4 1-.3 1 .3 1 0 1-.1 1-.2 1-.1 1 .2 1 .2 1 0 1 .5 1 .2 1 .2 1 .1 1-.3 1 .2 1 .5 1-.2 1 0 1-.4 1 0 1 0 1 .3 1 .2 1-.1 1-.2 1-.1 1 0 1-.1 1-.3 1-.1 1 .2 1 .2 1-.2 1-.2 1 0 1 .1 1-.2 1-.2 1-.1 1 .1 1 .2 1 0 1-.1 1-.1 1-.1 1 0 1-.2 1-.1 1-.3 1 0 1 0 1-.1 1 0 1 0 1-.2 1 .1 1-.2 1 .2 1 0 1 .3 1 .3 1 .4 1 .4 1 .1 1 .2 1-.2 1 .4 1 0 1 .2 1 .3 1-.1 1-.2 1-.4 1 0 1 .3 1 0 1-.1 1-.2 1 .2 1-.2 1 0 1-.2 1 0 1-.2 1 0 1-.2 1-.2 1 .3 1 .1 1 .1 1 .1 1-.4 1-.3 1 0 1 0 1 .1 1-.3 1 0 1 .1 1 .3 1 .1 1-.3 1-.1 1 0 1 .1 1 0 1 .2 1-.2 1-.1 1-.2 1-.1 1 .2 1-.1 1-.1 1-.1 1 .3 1 .1 1-.1 1 0 1-.1 1 .2 1 .1 1 .4 1 0 1 0 1-.2 1 .1 1 .4 1 .2 1 .3 1-.2 1 .3 1-.2 1 .2 1-.5 1 .1 1 .1 1 .4 1 0 1-.3 1-.4 1-.3 1 0 1-.1 1-.1 1-.1 1 0 1-.2 1-.2 1-.1 1 0 1 .1 1 0 1-.1 1 0 1 0 1-.2 1-.2 1 0 1 .3 1-.1 1-.1 1-.2 1 0 1 .4 1-.1 1 .2 1-.2 1 0 1-.2 1 .3 1-.1 1 .1 1 0 1 0 1 .2 1 .1 1 .1 1 .3 1 .3 1 0 1-.2 1-.1 1 .3 1 .3 1 .3 1-.1 1 0 1-.1 1 0 1 0 1 0 1 .1 1-.2 1 0 1 0 1 0 1-.2 1-.3 1 0 1 .1 1 0 1 0 1 .1 1-.1 1-.2 1-.2 1 0 1 .1 1-.2 1-.1 1-.3 1-.1 1 0" stroke="#edb120" stroke-opacity="0.7" stroke-width="1.35"/><path d="M797 127.2l1 .3 1 .1 1-.2 1-.1 1 .2 1 .2 1 .3 1 .1 1 0 1-.3 1 0 1 .2 1 .4 1 .3 1 0 1 .2 1 .1 1-.1 1 0 1 .2 1 .1 1-.4 1 0 1 .4 1 0 1 .5 1-.6 1-.1 1-.3 1 0 1-.5 1-.1 1-.4 1-.1 1-.3 1 .3 1-.1 1 0 1-.1 1-.3 1-.3 1-.1 1 0 1 .1 1-.1 1-.2 1 0 1 .6 1 .2 1 0 1-.1 1 .3 1 .1 1-.2 1 .3 1 .1 1 .3 1 0 1 .3 1-.1 1 .2 1 .1 1 .3 1 .1 1 0 1 0 1 .1 1 0 1-.3 1 0 1 .2 1 .2 1 0 1 0 1 .1 1 .2 1-.1 1 0 1-.2 1-.1 1 0 1-.2 1 0 1-.2 1 .3 1-.3 1 0 1-.4 1-.4 1-.1 1-.1 1-.1 1-.5 1-.2 1 .1 1-.1 1-.3 1 .2 1-.4 1 0 1-.4 1 .1 1-.2 1 .1 1 .2 1 .1 1 .1 1 .5 1 .6 1 0 1-.1 1-.2 1 .4 1-.1 1 .3 1-.1 1 .2 1-.1 1 .2 1 0 1 .4 1-.2 1 .2 1 .2 1 .7 1 .1 1 .1 1 0 1-.2 1-.1 1-.2 1 0 1-.1 1 0 1 .2 1 0 1 0 1-.3 1-.4 1-.2 1-.5 1-.2 1-.3 1 .1 1-.1 1-.1 1 .1 1-.3 1-.1 1-.3 1 0 1-.3 1-.4 1 .1 1-.2 1-.1 1 .1 1 .3 1-.2 1 .1 1 .2 1 .4 1-.3 1 0 1-.1 1 .3 1 .2 1 .3 1 .2 1 .3 1 0 1 .2 1 0 1 .1 1 .2 1 .2 1 .1 1-.3 1 .3 1 .2 1 0 1 .2 1 0 1 .2 1-.1 1 .3 1 0 1-.1 1-.1 1 .2 1 0 1 0 1 0 1-.1 1 .1 1-.4 1 0 1-.2 1-.2 1-.3 1 0 1 .2 1-.5 1-.4 1-.4 1-.1 1-.1 1 .1 1 0 1 .3 1-.2 1 0 1-.2 1 0 1 0 1-.1 1-.1 1 .1 1 .2 1 .4 1-.1 1 .1 1 .2 1 .4 1 .1 1 0 1 0 1 .2 1 .3 1-.3 1 .1 1 .1 1 .5 1-.1 1 0 1 .1 1 0 1 0 1-.3 1-.1 1 .2 1 .4 1 .1 1-.2 1 0 1 0 1 .1 1-.2 1-.1 1 0 1-.2 1-.1 1-.4 1 .2 1 .4 1 .1 1-.6 1-.6 1-.4 1 0 1 .1 1-.2 1-.2 1-.2 1 .1 1 .2 1 .1 1-.1 1 0 1-.2 1 0 1-.2 1 .4 1 .2 1 .1 1-.1 1 .3 1 .2 1 .2 1-.1 1 .1 1 0 1 0 1 .2 1 .3 1 .1 1 0 1 .1 1-.1 1 .1 1-.2 1 .4 1 0 1 .2 1 0 1 .2 1 .2 1 .4 1 0 1 .3 1-.4 1 .2 1-.3 1-.1 1-.4 1 .1 1-.1 1 .1 1-.5 1 .3 1 0 1-.2 1-.9 1-.4 1-.2 1 .3 1 .1 1-.5 1-.4 1-.5 1 .2" stroke="#7e2f8e" stroke-opacity="0.7" stroke-width="1.35"/><path d="M797 140.3l1 .2 1 0 1 0 1 .1 1 .2 1 .1 1-.1 1-.4 1-.2 1-.2 1 .1 1 .5 1 .1 1-.1 1-.3 1-.3 1 .2 1 .1 1 .1 1 .2 1-.1 1-.4 1-.2 1 0 1 .3 1-.1 1 .3 1-.1 1 .3 1-.2 1-.1 1 .1 1-.2 1 .1 1 0 1 .1 1-.2 1 .1 1 .2 1 .2 1-.1 1 0 1-.2 1 .4 1-.3 1-.1 1-.1 1 .2 1-.2 1 0 1-.2 1-.2 1 .2 1 0 1 .2 1 0 1-.1 1-.2 1-.3 1 .1 1-.3 1 .1 1 .3 1-.1 1 .1 1 .1 1 .7 1-.1 1-.1 1-.4 1 .4 1 .1 1 .1 1-.1 1-.3 1 .1 1 0 1 .1 1 .3 1 0 1-.1 1-.1 1 .1 1 .1 1 0 1-.1 1 0 1-.1 1-.1 1 .2 1 0 1 .2 1-.1 1-.1 1 .1 1 .2 1-.1 1-.1 1 .2 1 0 1-.1 1 .1 1-.1 1-.2 1-.1 1-.1 1 .2 1-.4 1 .1 1-.3 1 .4 1 0 1 .3 1 0 1 .3 1-.2 1-.1 1 .1 1 .1 1 .2 1-.3 1-.2 1-.2 1-.1 1 .1 1-.2 1 .2 1 .1 1-.1 1-.1 1 .1 1 .1 1 .1 1-.2 1 .2 1-.1 1 0 1 .1 1-.2 1 .2 1-.1 1 .2 1-.1 1 .2 1-.1 1-.1 1 0 1-.2 1 .2 1 0 1 0 1-.5 1-.2 1 .2 1-.2 1 .4 1 0 1 .4 1-.6 1-.2 1-.3 1 .2 1 .2 1 .3 1 .1 1-.1 1-.3 1 0 1 0 1 .3 1-.1 1 .4 1 .1 1 0 1-.1 1 .1 1 .1 1 0 1-.1 1-.1 1 .1 1-.3 1 .1 1-.3 1-.3 1 0 1 0 1 0 1 0 1-.2 1 0 1 .1 1 .5 1 .2 1 .1 1-.1 1 0 1 0 1-.1 1-.2 1 .3 1 .6 1 0 1-.2 1-.3 1 .1 1 .2 1 .3 1-.2 1 0 1 0 1 0 1-.3 1 .1 1-.1 1-.1 1-.3 1 .1 1 .4 1 .1 1-.1 1-.4 1-.3 1 .1 1 .1 1-.1 1-.2 1-.1 1 .4 1 .3 1 .1 1 .1 1-.3 1-.2 1 0 1 0 1 .4 1-.6 1 .1 1-.2 1 .3 1 .1 1 .2 1 0 1-.2 1 .1 1-.2 1 .1 1-.1 1 .1 1 .1 1-.2 1-.2 1 0 1 .1 1 0 1 0 1-.3 1 0 1 .3 1 .1 1 0 1-.2 1 .2 1-.1 1 0 1-.2 1-.1 1-.1 1-.2 1-.1 1-.1 1 .1 1 .4 1 .1 1 0 1-.1 1 .1 1-.1 1-.2 1-.2 1-.1 1-.2 1 .3 1 0 1 0 1 .1 1 .1 1 .2 1 .1 1 0 1 .1 1 .3 1-.2 1-.3 1 0 1-.1 1 .4 1 0 1 .1 1 0 1-.1 1-.1 1-.2 1 .2 1 .2 1 .2 1 0 1 0 1-.2 1 0 1-.2 1 0 1 .2 1 .2 1 0 1-.1 1 .1 1-.2 1 .2 1 0" stroke="#77ac30" stroke-opacity="0.7" stroke-width="1.35"/><path d="M797 153.5l1-.3 1-.1 1 .3 1 0 1-.3 1 .2 1-.2 1 0 1-.7 1-.1 1-.3 1 .3 1 .5 1 .3 1 .1 1 .1 1 0 1 .1 1-.2 1 0 1-.3 1 .1 1 0 1 .1 1-.2 1 .1 1 .1 1 .4 1-.3 1-.2 1-.3 1 0 1-.1 1 .1 1 .4 1 0 1 .3 1 0 1 .1 1-.2 1 .3 1 .1 1 0 1-.3 1-.1 1 .2 1 .1 1 .2 1-.2 1 0 1-.1 1 .1 1 .1 1 0 1 .2 1 .2 1-.1 1 .2 1 0 1-.2 1-.4 1-.4 1-.2 1-.1 1 .2 1 .2 1 0 1-.1 1-.2 1-.1 1 0 1 0 1-.1 1-.2 1-.3 1 0 1 .1 1 .2 1-.1 1 .3 1-.2 1 .3 1-.6 1 .1 1 0 1 0 1 .1 1 .2 1 .1 1 .3 1 .5 1 .4 1-.3 1-.1 1-.3 1 .4 1 .1 1 .1 1-.5 1 0 1-.1 1 0 1 .2 1 0 1 0 1-.5 1 .1 1 0 1 0 1 0 1 0 1 0 1 .1 1 .2 1 .3 1-.1 1-.1 1-.1 1 0 1-.2 1 0 1-.1 1 .2 1 .1 1-.3 1 .2 1 0 1 .2 1-.2 1 0 1 .1 1 .2 1-.3 1-.1 1 .2 1 .6 1-.2 1-.1 1-.2 1 0 1 .2 1-.4 1 .2 1-.4 1 .1 1 0 1 .4 1-.1 1 .1 1 0 1 0 1-.3 1 .1 1-.1 1 0 1-.1 1-.2 1 .2 1-.3 1 .4 1 .1 1 .1 1-.2 1-.4 1 0 1-.1 1-.1 1 .4 1 0 1 0 1-.2 1-.1 1 .2 1 .1 1 0 1 .2 1 .1 1 0 1-.2 1 .1 1 0 1 .2 1-.5 1 .1 1-.1 1 .3 1-.1 1-.1 1 .1 1-.3 1 .3 1 0 1 .3 1-.4 1 .2 1-.3 1 .4 1-.2 1 .2 1-.4 1 0 1-.3 1 .2 1-.1 1-.1 1-.1 1 .2 1 .2 1-.1 1-.2 1-.1 1 .3 1 .3 1-.1 1-.3 1 0 1 .3 1 .5 1 0 1 0 1-.2 1-.1 1 .3 1-.1 1-.1 1-.2 1 .3 1 .5 1 .1 1-.1 1-.1 1 0 1 0 1 0 1-.2 1-.3 1-.5 1 .3 1-.2 1 .4 1-.1 1 .1 1 0 1 0 1-.2 1 0 1-.1 1 0 1 0 1 0 1-.2 1-.1 1 .3 1 .1 1 .2 1 0 1-.1 1-.1 1 .1 1 .1 1 .2 1 .1 1-.2 1-.3 1 .1 1-.1 1 .1 1 0 1 .1 1-.1 1 .2 1 0 1 0 1 0 1 .1 1-.3 1-.3 1 .1 1 .1 1 0 1 .2 1-.1 1 0 1-.1 1-.1 1-.3 1-.1 1 0 1 .1 1-.2 1-.1 1 .2 1 .5 1 .1 1-.2 1-.1 1-.1 1 .1 1-.2 1 .1 1 .2 1 .1 1 .3 1 0 1 .2 1-.4 1-.1 1 .3 1-.3 1-.2 1 .1 1 .1 1-.1 1-.2 1-.2 1 .3 1 .2 1-.3 1 0 1 .3 1-.2" stroke="#4dbeee" stroke-opacity="0.7" stroke-width="1.35"/><path d="M797 166l1-.3 1 .4 1 0 1 .6 1-.3 1 .1 1 0 1-.2 1 0 1 0 1 0 1-.1 1 .1 1 0 1-.1 1 .3 1 0 1 0 1-.1 1 .2 1-.1 1 0 1-.1 1 0 1 0 1 0 1 0 1-.1 1 .2 1-.3 1 0 1 .2 1-.1 1 0 1-.3 1 .2 1 0 1-.1 1-.1 1-.3 1-.1 1 0 1-.2 1 .3 1 0 1 .2 1-.1 1 .1 1 0 1 0 1-.2 1 .2 1 0 1-.1 1 .2 1-.1 1 .2 1 .1 1 .1 1-.3 1-.2 1-.1 1 0 1 0 1 .2 1 0 1 0 1-.2 1 .1 1 .3 1 .1 1 .1 1 0 1-.3 1-.1 1-.4 1 .3 1 .5 1 .1 1-.2 1 0 1 .1 1 .2 1 0 1 .3 1 .1 1-.3 1-.2 1-.5 1 .1 1 .1 1 .2 1 .2 1 0 1-.2 1-.3 1-.2 1 0 1 .2 1 0 1-.2 1-.5 1-.1 1 .1 1 .2 1 .1 1 0 1 0 1 0 1-.1 1 .1 1 .1 1 .2 1 .1 1-.1 1 .2 1 .3 1-.3 1 0 1-.4 1 .3 1-.2 1-.2 1-.5 1 0 1 .2 1 .4 1 .1 1-.1 1-.1 1-.2 1 .2 1 .2 1 0 1 0 1-.1 1 .2 1 .1 1 .2 1 0 1 .1 1 0 1-.1 1 .2 1-.1 1 .1 1-.2 1 .1 1-.1 1 0 1-.2 1 0 1-.2 1-.1 1-.2 1 .1 1 .1 1 .4 1 0 1-.2 1-.4 1 .2 1 .2 1 .2 1 0 1-.1 1-.5 1 0 1 .3 1 .5 1 .1 1-.2 1-.2 1 .1 1 .4 1 0 1-.3 1 .2 1 .2 1 .1 1-.4 1-.3 1-.1 1 .3 1-.3 1-.1 1 .1 1 .2 1 .2 1 0 1 0 1 .1 1-.2 1-.2 1-.1 1-.1 1 0 1 .1 1 .4 1-.1 1 0 1 .1 1 .3 1-.1 1-.4 1-.2 1-.2 1 .1 1 .1 1 .1 1-.1 1-.1 1-.2 1 .6 1-.2 1-.1 1-.1 1-.2 1 .1 1-.1 1 0 1 0 1-.1 1-.1 1-.2 1 .1 1 .1 1-.1 1-.5 1 .2 1 0 1 .6 1 .2 1 0 1-.3 1-.1 1 .2 1-.1 1 .1 1-.1 1 .1 1 .3 1-.3 1 .1 1-.3 1 .3 1-.1 1 .3 1 0 1-.2 1-.1 1 .2 1 .2 1 .3 1-.1 1-.3 1 0 1 0 1 0 1-.1 1 .1 1-.1 1 .1 1 .3 1-.2 1-.4 1 0 1 .1 1-.1 1 .3 1-.1 1 .1 1 .1 1 .2 1-.1 1-.5 1-.3 1-.2 1 .3 1 .3 1-.1 1 .2 1-.2 1 .2 1 .2 1 .4 1-.1 1-.3 1-.2 1 .1 1 .3 1 .1 1 .1 1-.3 1 .2 1 .1 1-.2 1 0 1-.4 1 .1 1-.2 1 0 1 .1 1 .3 1 .1 1 .2 1-.1 1 0 1-.1 1 0 1-.2 1-.4 1-.2 1 .2 1 0 1 .2 1 .4 1 0 1 0 1-.2 1 .2" stroke="#a2142f" stroke-opacity="0.7" stroke-width="1.35"/><path d="M797 178.9l1-.1 1-.4 1-.4 1 .2 1-.1 1 .5 1 .1 1-.1 1 0 1 0 1 0 1-.1 1-.5 1 .4 1 .1 1 .4 1 0 1 .2 1 .1 1-.2 1-.1 1-.1 1 .2 1-.1 1 .3 1-.2 1-.2 1-.1 1 .2 1-.2 1-.2 1 0 1 .2 1 .1 1 .1 1-.1 1-.3 1 .1 1 .2 1 0 1-.1 1 0 1-.1 1 0 1 0 1 .1 1 0 1 .2 1 .3 1 .1 1-.2 1-.4 1 0 1 .2 1 .1 1-.1 1 .1 1 .1 1-.3 1-.3 1 .1 1 0 1 .1 1-.2 1-.1 1 0 1 .2 1 .1 1 .1 1-.2 1-.1 1 0 1 0 1 0 1 0 1 0 1 .1 1 0 1-.1 1-.1 1 0 1 .2 1 0 1 0 1-.2 1-.3 1 .4 1 0 1 .2 1-.1 1-.2 1 .1 1 .1 1 .2 1-.2 1-.1 1-.1 1 .2 1 .2 1-.1 1 .1 1-.1 1 .1 1-.3 1 0 1 .2 1-.1 1 .1 1-.1 1 .3 1-.3 1 0 1 .1 1 .1 1-.1 1-.1 1 0 1 .1 1 .1 1 .1 1 0 1 .1 1-.3 1 .1 1 .1 1-.1 1-.1 1 .1 1 0 1 .1 1 .1 1 .1 1 0 1-.1 1-.1 1 0 1-.2 1 0 1-.2 1 .2 1-.2 1 0 1-.1 1 .3 1 .2 1 .2 1 0 1-.2 1 .1 1 .1 1-.2 1 .2 1-.4 1 .1 1 0 1-.3 1 0 1-.1 1 .3 1-.1 1-.1 1 0 1-.2 1-.4 1 .2 1-.2 1 .1 1-.1 1 .1 1 .2 1 .2 1 .2 1 .2 1 0 1 .1 1-.1 1-.1 1-.2 1-.1 1 .4 1 .1 1 .1 1 0 1 .3 1 .1 1-.4 1-.1 1-.2 1 0 1 .1 1 .1 1-.1 1 0 1 0 1 0 1 0 1 0 1 .1 1-.1 1 .2 1 .1 1 .2 1 .1 1-.1 1 .2 1-.1 1-.2 1-.1 1-.3 1-.2 1 .1 1 .4 1 0 1-.2 1-.2 1-.1 1 .1 1-.2 1-.2 1-.3 1 .1 1 .1 1 .2 1 0 1 0 1 .1 1-.1 1 .1 1-.1 1 .2 1 0 1 0 1-.2 1 0 1 .2 1-.2 1 .4 1 0 1 0 1-.1 1 0 1 .4 1 .1 1 .2 1-.2 1-.1 1-.2 1-.2 1-.1 1-.1 1-.1 1 .3 1 .1 1 .1 1 .1 1 0 1-.3 1 .1 1 .1 1-.1 1-.2 1-.3 1 .4 1 .1 1 .3 1 0 1 0 1 .1 1-.3 1-.2 1-.6 1 .3 1 .2 1 .1 1-.2 1-.1 1 .2 1-.3 1-.2 1-.3 1-.2 1 .1 1-.1 1 .5 1 0 1 .1 1 .1 1 .1 1 0 1 0 1-.2 1 .2 1 0 1 .5 1 0 1 0 1-.4 1 0 1 .1 1-.2 1 0 1 .2 1 0 1-.1 1-.3 1 .2 1-.1 1 .1 1-.3 1-.1 1 .2 1 .1 1 .3 1-.1 1-.1 1-.1 1-.1 1 0 1 .2 1 .2 1 .3" stroke="#0072bd" stroke-opacity="0.7" stroke-width="1.35"/><path d="M797 192.1l1-.2 1 0 1-.1 1 .2 1-.1 1 .1 1-.1 1 .4 1 .1 1 .1 1-.1 1-.2 1 .1 1-.4 1-.2 1 .1 1 .4 1 .1 1-.2 1 .1 1-.2 1 0 1 .2 1 .2 1-.2 1-.1 1-.3 1 0 1-.1 1-.1 1 0 1 .2 1-.1 1-.2 1 0 1-.1 1 .2 1-.1 1-.1 1 .3 1-.3 1 .2 1-.1 1 .3 1 .1 1-.3 1 .1 1-.1 1 0 1 0 1 .1 1-.2 1 0 1-.1 1 .2 1 .1 1-.3 1-.2 1 .2 1 .1 1-.2 1-.2 1 .1 1 0 1-.3 1-.2 1 0 1 0 1 .3 1 .2 1-.2 1 0 1-.1 1 .4 1-.3 1 .3 1-.1 1 .1 1-.3 1-.1 1 .3 1 .2 1 .3 1-.4 1 .4 1-.4 1 .1 1-.5 1 .2 1-.1 1-.1 1 .1 1 0 1 .2 1 .1 1 .1 1-.1 1-.2 1 0 1 .2 1 .1 1 .1 1 0 1-.1 1-.1 1 0 1-.1 1 .1 1-.2 1 .3 1-.1 1 .4 1 0 1 .2 1 .1 1-.2 1 .2 1-.1 1 0 1-.3 1-.1 1 0 1-.1 1 .1 1 .2 1 0 1 .2 1-.1 1 .1 1-.2 1-.2 1-.3 1-.1 1 0 1-.2 1 .1 1-.1 1 .2 1 .1 1 .2 1-.1 1-.2 1-.3 1 .1 1 0 1 .2 1 .2 1 .3 1 0 1-.3 1-.1 1 .4 1 0 1-.1 1-.1 1 .1 1 .1 1 .1 1-.2 1 0 1 .1 1 .2 1 .1 1-.3 1-.3 1-.1 1 .1 1 .2 1-.1 1 .1 1 .2 1-.2 1 .3 1-.2 1 .1 1-.1 1 0 1 0 1-.1 1 .1 1 0 1 .2 1-.2 1-.1 1-.3 1 .1 1-.2 1 .4 1 0 1 0 1-.1 1-.2 1 .4 1-.3 1-.3 1 .1 1 .3 1 .5 1-.1 1 .1 1-.1 1 .3 1-.2 1 .2 1-.1 1 0 1-.2 1 0 1 .3 1-.3 1-.1 1-.1 1 .4 1-.5 1-.1 1 0 1 .2 1-.3 1-.2 1 .1 1 .3 1-.2 1 0 1 .1 1 .4 1-.3 1 0 1-.1 1 .3 1-.4 1 .1 1-.1 1 .4 1-.4 1 .2 1-.4 1 .2 1-.1 1 .5 1-.2 1 0 1-.5 1-.1 1 .1 1 .4 1 0 1 .1 1-.1 1 .2 1-.1 1-.3 1 .2 1 .1 1 .1 1-.1 1-.4 1-.2 1 0 1 .3 1 .1 1 0 1-.4 1 .3 1-.1 1 .5 1-.1 1 0 1-.2 1 .4 1 0 1 0 1 0 1 .2 1 .1 1-.5 1 0 1-.3 1 0 1-.1 1-.2 1 .3 1-.1 1-.2 1 .1 1 .2 1-.2 1-.4 1 .1 1 .1 1 .1 1 0 1 .1 1 .2 1 .3 1 0 1 0 1-.1 1-.3 1 .2 1 .1 1 0 1 .2 1-.1 1 .1 1-.3 1 .1 1 .1 1-.2 1-.1 1 .3 1 .3 1-.1 1-.2 1-.4 1 .2 1-.1 1 .2 1 .1 1 0 1 0 1 .1" stroke="#d95319" stroke-opacity="0.7" stroke-width="1.35"/><path d="M797 203.7l1 .1 1 .1 1 .2 1-.2 1 .3 1-.2 1 .1 1-.1 1 .1 1-.4 1-.3 1-.4 1-.6 1-.4 1 .1 1 .7 1 0 1 .2 1 .1 1 .4 1 .2 1 .3 1 .1 1 .1 1-.3 1 .2 1 .2 1 .3 1 .1 1-.1 1-.5 1-1 1-.5 1 .1 1 .4 1 .3 1 .3 1 .3 1 .4 1 0 1 .1 1 0 1-.1 1-.2 1-.1 1-.1 1-.3 1-.3 1-.4 1-.7 1-.4 1 .5 1 .4 1 .4 1 .1 1-.2 1 .1 1 .4 1 .2 1 0 1-.2 1-.1 1 .3 1 .3 1-.1 1-.2 1-.3 1-.3 1-.4 1-.6 1 .2 1 .2 1 .5 1 .1 1 .3 1 .1 1 .3 1-.3 1 .3 1-.2 1 0 1 .5 1 .1 1 0 1-.1 1 0 1-.5 1-.5 1-.4 1-.1 1 .2 1 .5 1 .5 1 .2 1 .3 1-.4 1 .1 1-.4 1 .3 1-.1 1 .2 1 .1 1 0 1-.3 1-.7 1-.9 1-.4 1-.4 1 .4 1 .8 1 .3 1 .3 1-.1 1 .1 1 .1 1 .1 1 .3 1 0 1 .1 1 .4 1-.3 1-.2 1-.3 1-.1 1-.9 1-.6 1-.5 1 .7 1 .7 1 .4 1 .2 1 .1 1 0 1 .1 1-.2 1 .3 1 0 1 .1 1-.2 1 0 1-.3 1 .2 1-.2 1-.3 1-.7 1 0 1 .3 1 .4 1 .3 1 .2 1 .2 1 .3 1-.3 1-.2 1 .2 1 .3 1 0 1 0 1 0 1 0 1-.3 1-.8 1-.7 1-.5 1-.5 1 .4 1 .7 1 .9 1-.1 1 .1 1 0 1 .7 1 .1 1 .2 1-.1 1 0 1 .1 1-.4 1-.1 1-.4 1-.6 1-.6 1 .1 1 .3 1 .5 1 .6 1-.1 1 0 1-.1 1 .3 1 .4 1 .2 1 0 1-.4 1 .1 1 .1 1-.1 1-.3 1-.7 1-.6 1-.2 1 .4 1 .4 1 .9 1 .4 1 0 1-.3 1 0 1-.2 1 .3 1 .1 1-.3 1 0 1 .3 1 .2 1 0 1-.1 1-.6 1-.6 1-1 1 .1 1 .5 1 .6 1 .2 1 .1 1 .5 1 .1 1 .1 1 0 1-.3 1-.3 1 .3 1 .4 1-.1 1-.5 1-.1 1-.3 1-.6 1-.8 1-.5 1 .5 1 .2 1 .5 1 0 1 .6 1 .1 1 .3 1 .1 1-.1 1 0 1 .4 1-.1 1 .2 1-.1 1 .1 1-.4 1-.8 1-.7 1-.2 1-.1 1 .6 1 .3 1 0 1 .2 1 .3 1 .6 1 0 1-.2 1-.1 1 0 1 .3 1 0 1 0 1 .1 1-.3 1-.9 1-.9 1-.2 1 .4 1 .4 1 .4 1 .4 1 .1 1 0 1 0 1 0 1-.1 1-.3 1-.1 1 .2 1 .5 1 .1 1 0 1-.3 1-.9 1-.6 1-.5 1 .5 1 .2 1 .6 1 .2 1 .5 1 .3 1 0 1 0 1 .1 1-.1 1 .1 1 0 1 .2 1-.2 1-.1 1 .1 1-.8 1-.7 1-.8 1 0 1 .9 1 .4 1 .5 1-.2" stroke="#edb120" stroke-opacity="0.7" stroke-width="1.35"/><path d="M797 216.4l1 0 1 .3 1 .1 1 .1 1-.1 1 0 1-.1 1-.1 1-.1 1-.3 1-.5 1-.4 1-.5 1-.2 1 .4 1 .5 1 .3 1 .3 1 .1 1-.1 1 .3 1 .1 1 .2 1-.4 1-.1 1-.1 1 .3 1 .2 1-.2 1 0 1-.5 1-.4 1-.3 1 .5 1 .2 1 .6 1 .1 1 .5 1-.2 1 .3 1-.4 1 .1 1 0 1 .1 1-.1 1 .1 1 .2 1-.1 1-.3 1-.7 1-.5 1 .1 1 .5 1 .5 1 0 1 .3 1-.2 1-.1 1 .3 1 0 1 0 1-.1 1 .4 1-.1 1-.1 1-.3 1-.2 1-.2 1-.4 1-.7 1 .2 1 .2 1 .4 1 .4 1-.1 1-.2 1-.2 1 0 1 .2 1 0 1 .2 1 0 1 .1 1-.1 1 .2 1-.2 1-.5 1-.7 1-.1 1-.1 1 .1 1 .5 1 .3 1 0 1 .3 1 .1 1 0 1 .1 1 .1 1 0 1-.3 1 .3 1 0 1 .2 1-.5 1-.2 1-.6 1-.2 1 .2 1 .3 1 .3 1 .2 1 0 1 .2 1 0 1-.1 1 0 1 .2 1 .1 1 .3 1 0 1 .3 1 0 1-.5 1-.8 1-.6 1 0 1 .5 1 .4 1 .2 1 .1 1 .2 1-.1 1 .1 1 0 1 .2 1-.3 1-.1 1-.3 1 0 1 .1 1 .3 1-.5 1-.6 1-.5 1 .1 1 .6 1 .5 1 0 1 0 1 .1 1 .4 1 .3 1 .1 1 .3 1-.2 1-.1 1-.4 1 .2 1-.1 1-.1 1-.5 1-.7 1-.3 1 .3 1 .6 1 .1 1 .4 1 .1 1 .1 1-.3 1-.1 1-.1 1 .2 1 .2 1-.2 1 .1 1 .3 1 0 1-.6 1-.3 1-.5 1 .1 1 .1 1 .5 1 .4 1 .4 1 .2 1-.1 1 0 1 0 1-.3 1 .1 1-.3 1 0 1 .1 1 .1 1-.3 1-.6 1-.6 1-.3 1 .3 1 0 1 .3 1 .1 1 .1 1-.2 1 .2 1 .2 1 .1 1 0 1 .2 1 .3 1 .1 1 0 1-.4 1-.1 1-.1 1-.3 1-.5 1-.3 1 .3 1 .4 1 .7 1 .5 1 .4 1-.2 1 0 1-.3 1-.1 1 .4 1 .1 1-.1 1-.3 1 .1 1 .2 1-.1 1-.2 1-.7 1-.6 1-.1 1 .1 1 .3 1 .2 1 .1 1 .1 1 .2 1 .2 1 .3 1 0 1-.1 1 0 1 .1 1-.2 1-.1 1-.2 1-.4 1-.4 1-.6 1 .1 1 .3 1 .7 1 .4 1 .3 1-.2 1 .2 1-.4 1 .3 1-.4 1 .2 1 .1 1 .1 1 0 1 0 1-.5 1-.1 1-.6 1-.1 1 .4 1 .4 1 .4 1 .4 1 .2 1 .3 1-.2 1 0 1-.3 1 0 1 .2 1-.1 1 0 1 0 1-.2 1-.2 1-.5 1-.5 1-.4 1 .4 1 0 1 .2 1 .2 1 .2 1 .6 1 0 1 0 1-.2 1 .2 1 0 1 0 1 0 1 .1 1-.2 1-.2 1-.3 1-.6 1 .1 1 .3 1 .4 1 .2 1 0 1-.2" stroke="#7e2f8e" stroke-opacity="0.7" stroke-width="1.35"/><path d="M797 230.1l1 .2 1-.3 1 0 1-.1 1 .4 1 .1 1-.1 1-.2 1 .1 1-.2 1-.4 1-1.2 1-1.2 1-.3 1 .8 1 .9 1 .7 1 .5 1 .3 1 .3 1-.1 1-.1 1-.2 1 .3 1 0 1-.1 1 .1 1 .1 1 0 1-.7 1-1.1 1-1.2 1-.4 1 .3 1 .8 1 .3 1 .4 1 .5 1 .4 1 .3 1 0 1 .4 1-.2 1 .2 1 0 1 .2 1-.3 1-.4 1-1 1-1.1 1-.3 1 .6 1 .9 1 .7 1 .3 1 .3 1 .2 1 .1 1-.1 1 .3 1-.2 1 .3 1-.2 1 .5 1-.3 1-.2 1-.5 1-.8 1-1.1 1-1.2 1 .1 1 .7 1 .9 1 .7 1 .2 1 .3 1 .2 1 .1 1-.1 1 0 1 .3 1 .1 1 .1 1 .2 1-.1 1-.1 1-.7 1-1.4 1-1.3 1 .2 1 .7 1 .8 1 .5 1 .5 1 .6 1 .1 1-.3 1-.1 1 .2 1-.3 1 .1 1 0 1-.4 1-.3 1-.5 1-.6 1-1 1-.4 1 .8 1 1 1 .7 1 0 1 .1 1 0 1 .2 1 .1 1 .1 1-.1 1 .1 1 .2 1-.3 1-.3 1-.2 1-.4 1-1.1 1-1.3 1-.3 1 .8 1 .6 1 .5 1 .6 1 .4 1 .4 1 .1 1 0 1 .1 1-.1 1 .2 1 .2 1-.1 1 .1 1-.2 1-.5 1-1 1-1.2 1-.4 1 .6 1 .7 1 .8 1 .2 1 .3 1 0 1 .1 1 .1 1 .3 1 .2 1 0 1 .2 1-.1 1-.1 1-.2 1-.7 1-1 1-1.6 1 .2 1 .6 1 1.2 1 .7 1 .5 1-.1 1-.1 1-.1 1 .4 1 .2 1-.2 1-.1 1 .2 1-.2 1-.2 1-.7 1-1.1 1-1 1 .1 1 1 1 .9 1 .4 1 .4 1 0 1 .4 1 .1 1 .5 1 .2 1 0 1 .1 1 .1 1 0 1-.2 1-.8 1-1 1-1.4 1-.3 1 .5 1 .9 1 .5 1 .5 1-.1 1-.1 1-.1 1 .5 1 .3 1-.1 1 .1 1-.1 1 .1 1 .1 1-.3 1 0 1-.7 1-.7 1-1.3 1-.2 1 .5 1 1.1 1 1.1 1 .5 1 .3 1-.3 1 .3 1 0 1 0 1-.1 1-.4 1 .2 1-.2 1 .2 1 0 1-.3 1-1 1-1 1-.9 1 .1 1 .5 1 .8 1 .6 1 .5 1 .3 1 .2 1 .3 1 .2 1-.1 1 .2 1-.1 1-.1 1 .1 1-.5 1-.5 1-1.1 1-1 1-.7 1 .2 1 1 1 .7 1 .8 1 .2 1 .1 1 0 1 .4 1 0 1 .1 1 .2 1 .2 1 .2 1-.2 1 0 1-.4 1-1.1 1-1.1 1-.9 1 .6 1 .9 1 1 1 .2 1 .1 1 0 1 .4 1-.2 1 0 1-.2 1 .2 1 0 1-.1 1-.3 1 0 1-.4 1-.8 1-1.7 1-.6 1 .6 1 .7 1 .8 1 .4 1 .1 1 .6 1 .1 1 0 1 .1 1 .4 1 .2 1-.1 1 0 1 0 1 .1 1-.2 1-.9 1-.9 1-.5 1 .2 1 .6 1 1 1 .4 1 .5" stroke="#77ac30" stroke-opacity="0.7" stroke-width="1.35"/><path d="M797 243.4l1 .3 1 .2 1 .5 1 0 1 0 1 0 1-.1 1-.1 1 .1 1-.7 1-1.5 1-3.4 1-3.1 1-.9 1 2.1 1 2.3 1 2.2 1 1.1 1 .7 1 .4 1 .2 1 0 1 .1 1 .2 1 .2 1-.1 1 .2 1-.2 1 0 1-1.2 1-2.8 1-3.3 1-1.7 1 1.6 1 2.2 1 2.2 1 1.7 1 .9 1 .3 1 .1 1 .2 1 0 1 0 1 0 1 .3 1 .1 1-.7 1-1.2 1-3.2 1-3.2 1-1.5 1 1.7 1 2.3 1 2 1 1.5 1 1.1 1 .5 1 .3 1 .2 1 .4 1 .4 1 .3 1 .1 1 0 1 0 1-.4 1-.7 1-2.1 1-3.5 1-3.3 1 .3 1 1.8 1 2.2 1 1.9 1 1.2 1 .5 1 .4 1 .4 1 .3 1 .4 1 .1 1 .1 1 .2 1-.4 1-.3 1-.5 1-1.7 1-3.3 1-3.7 1-.3 1 1.9 1 2.5 1 2 1 .8 1 .7 1 .3 1 .6 1 .1 1 .1 1 0 1 .7 1 .3 1-.2 1-.4 1-1.4 1-2.9 1-3.4 1-1.4 1 1.6 1 2.2 1 2.1 1 .9 1 1.1 1 .4 1 .5 1 .2 1 0 1 .1 1 .1 1 .2 1 0 1 0 1-.4 1-1.8 1-3.2 1-3.4 1-.6 1 1.7 1 2.2 1 1.7 1 1 1 1.1 1 .3 1 .5 1 0 1 .2 1-.1 1 .3 1 .1 1 .1 1-.4 1-.1 1-1.3 1-3.1 1-3.3 1-1.6 1 1.7 1 2.1 1 2 1 1.4 1 1 1 .7 1 .3 1 .2 1-.1 1 .3 1 .1 1 .2 1 .1 1-.3 1-.7 1-1.8 1-3.2 1-3.3 1-.5 1 1.7 1 2.4 1 2.1 1 1.2 1 .6 1 .4 1 .1 1 .3 1 .4 1 .1 1 .2 1-.2 1-.2 1-.3 1-1.7 1-2.7 1-3.5 1-.3 1 1.8 1 2.5 1 2 1 1 1 .8 1 .5 1 .5 1-.4 1-.1 1 0 1 .3 1 .1 1-.4 1-.5 1-1.4 1-2.4 1-3.4 1-1.8 1 1.5 1 2.4 1 2.3 1 1.2 1 1 1 .5 1 .5 1 0 1 .3 1 .4 1 .3 1 .2 1 .2 1-.1 1-.1 1-.5 1-1.6 1-2.7 1-3.7 1-1.5 1 1.6 1 2 1 2.1 1 1.4 1 1.1 1 .3 1 .2 1 .3 1 .2 1 .5 1 .1 1-.1 1-.1 1 0 1-.1 1-.5 1-1.9 1-3.3 1-3.2 1-.2 1 1.8 1 2.4 1 1.7 1 1.2 1 .2 1 .4 1 .2 1 0 1 .1 1 .1 1 .3 1-.1 1 0 1-.1 1-.4 1-2.2 1-3.6 1-2.7 1 .7 1 2.1 1 2.1 1 2.1 1 .8 1 .3 1 .2 1 .1 1 .6 1 .4 1 .1 1-.1 1 0 1 .1 1-.5 1-1.1 1-2.9 1-3.4 1-1.7 1 1.4 1 2 1 2.2 1 1.4 1 .7 1 .6 1 .3 1-.2 1 .2 1 .4 1 .5 1 .3 1-.3 1-.2 1-.2 1-.7 1-2.4 1-3.7 1-2 1 1.2 1 2.2 1 1.9 1 1.8 1 .8 1 .7 1 .2 1 .1 1 .2 1 .2 1 .1 1 .1 1-.1 1-.2 1-.1 1-.8 1-2.4 1-3.7 1-2.3 1 .8 1 2 1 2.1 1 1.7 1 1.1" stroke="#4dbeee" stroke-opacity="0.7" stroke-width="1.35"/><path d="M797 257.5l1 .5 1 .4 1 .5 1 .1 1 .5 1 .1 1 .1 1 .1 1-.1 1-1 1-2.4 1-4.8 1-5 1-1.2 1 2.1 1 3.1 1 2.7 1 2.2 1 1.5 1 .7 1 .6 1 .1 1 .3 1 .2 1 .4 1 .2 1 .1 1 .2 1-.5 1-1.7 1-4.5 1-5.2 1-2.9 1 2.2 1 3.2 1 3 1 2.4 1 1.1 1 1.1 1 .1 1 .8 1 .2 1 .5 1 .2 1 .1 1 0 1-.9 1-2 1-4 1-5.1 1-2.6 1 2 1 2.7 1 3.1 1 2.3 1 1.7 1 .8 1 .5 1 .2 1 .1 1 0 1 .1 1 .4 1 .4 1 .1 1-.7 1-1.1 1-3.1 1-5.2 1-4.6 1 .2 1 2.5 1 3.4 1 2.7 1 1.9 1 1 1 .5 1 .5 1 .5 1 .2 1 .5 1-.1 1-.2 1 .1 1 .3 1-.3 1-2.7 1-5 1-4.7 1-.8 1 2.4 1 3 1 3.1 1 2.2 1 1.4 1 .8 1 .6 1 .3 1 .1 1 .5 1 .1 1 .1 1-.3 1-.6 1-1.9 1-3.9 1-5.5 1-2.7 1 2 1 3 1 3.2 1 2.4 1 1.5 1 .7 1 .1 1 .6 1 0 1 .4 1 .3 1 .2 1 .1 1 .1 1-1 1-2.4 1-4.7 1-5.1 1-.9 1 2.3 1 3.2 1 3 1 1.8 1 1.4 1 .5 1 .6 1 .3 1-.1 1 .5 1 0 1 .3 1 .2 1 .2 1-.6 1-2.1 1-4.8 1-5 1-2.6 1 2.4 1 2.8 1 3 1 2.1 1 1.2 1 .6 1 .9 1 .3 1 .5 1-.1 1 .3 1 .3 1 .2 1 0 1-.8 1-2.6 1-4.5 1-5.2 1-1.2 1 2.5 1 3.2 1 3.1 1 1.9 1 1 1 .7 1 .8 1 .5 1 .3 1 .2 1 0 1 .2 1 0 1-.8 1-2.7 1-4.8 1-5 1-.8 1 2.2 1 3.2 1 2.7 1 2.2 1 1.3 1 .7 1 .7 1 .1 1 .1 1 .3 1 .5 1 .1 1 .3 1-.8 1-1.7 1-4.3 1-5.2 1-3 1 1.9 1 3.2 1 3.2 1 2.3 1 1.5 1 .7 1 .7 1 .3 1 .3 1 .3 1 .4 1 .1 1 .2 1 .1 1-.3 1-.6 1-2 1-4.5 1-5.3 1-2.5 1 2.3 1 3.2 1 3.2 1 2.4 1 1.4 1 .9 1 .5 1 .2 1 .4 1 0 1 .1 1 .1 1 .4 1 0 1-.4 1-.6 1-3.1 1-5 1-4.6 1 .2 1 2 1 3.2 1 2.7 1 2 1 1.1 1 .4 1 .5 1 0 1 .2 1 .3 1 .3 1 .1 1 0 1-.1 1-1.3 1-3.5 1-5.5 1-3.9 1 1.2 1 3 1 3.2 1 2.5 1 1.9 1 1.1 1 .7 1 .3 1-.1 1 .6 1 .5 1 .3 1-.2 1-.1 1-.6 1-1.7 1-4 1-5.5 1-2.6 1 1.9 1 3.2 1 3 1 2.1 1 1.2 1 .6 1 .7 1 .7 1 .1 1 .3 1 .2 1 0 1-.1 1-.1 1-.3 1-1.4 1-3.9 1-5.2 1-3.6 1 1.2 1 3.1 1 3.2 1 2.9 1 1.5 1 .8 1 .7 1 .2 1 .4 1 0 1 .2 1 .2 1 0 1 .4 1-.3 1-1.4 1-3.5 1-5.2 1-3.9 1 1.1 1 2.8 1 3.4 1 2.5 1 1.6" stroke="#a2142f" stroke-opacity="0.7" stroke-width="1.35"/><path d="M797 269.4l1 .7 1 .5 1 .3 1 .1 1 .2 1 .2 1 .1 1 0 1-.1 1-.4 1-1.6 1-4.1 1-4.8 1-1.2 1 2.2 1 2.6 1 2.3 1 2 1 1.2 1 1 1 .5 1 .3 1 0 1-.2 1 .1 1 .5 1 .5 1 .2 1-.7 1-1.8 1-3.6 1-4.5 1-2.8 1 1.5 1 2.1 1 3 1 2.2 1 1.4 1 .8 1 .2 1 .6 1 .5 1 0 1 0 1-.2 1 .2 1-.3 1-1.6 1-3.5 1-4.7 1-2.5 1 1.6 1 2.6 1 2.9 1 2.1 1 1 1 .6 1 .2 1 .3 1 .5 1 .3 1 .4 1 .4 1 .2 1-.1 1-.3 1-.9 1-2.4 1-4.7 1-4 1 .4 1 2.4 1 2.5 1 2.2 1 1.8 1 1.2 1 .4 1 .3 1 .3 1-.1 1 .1 1-.3 1 .4 1 .3 1 .1 1-.4 1-2.2 1-4.1 1-4.8 1-.7 1 2.3 1 3 1 2.3 1 1.8 1 1.1 1 .6 1 .4 1 .1 1 .1 1 .2 1 .5 1-.1 1-.3 1-.4 1-1.4 1-3.3 1-5 1-2 1 1.9 1 2.8 1 2.2 1 1.3 1 1.3 1 .9 1 .9 1 .3 1 .2 1 .2 1 0 1 .3 1 0 1 .3 1-.7 1-2.2 1-4.3 1-4.5 1-1 1 2.1 1 2.8 1 2.6 1 2 1 .6 1 .6 1 .2 1 .6 1 .1 1 .4 1 .3 1 .1 1 .3 1 .1 1-.6 1-1.6 1-3.4 1-4.7 1-2.2 1 1.5 1 2.5 1 2.5 1 2.2 1 .9 1 .9 1 .6 1 .5 1 .2 1 .1 1 .1 1 .3 1 .3 1 0 1-.7 1-2.2 1-4.2 1-4.4 1-.9 1 1.9 1 2.7 1 2.3 1 2 1 1.1 1 .9 1 .4 1 .4 1 .2 1 0 1 .3 1 0 1 0 1-.5 1-2 1-4.3 1-4.4 1-.9 1 2.3 1 2.5 1 2.5 1 1.5 1 1.2 1 .6 1 .4 1 .3 1 .3 1 0 1 0 1 0 1 .2 1-.3 1-1.5 1-3.8 1-4.5 1-2.4 1 1.8 1 2.7 1 2.6 1 2 1 1.3 1 1.3 1 .4 1 .2 1 0 1 .2 1 0 1 .1 1 .4 1 0 1 .1 1-.6 1-1.3 1-3.6 1-5 1-2.6 1 1.8 1 2.7 1 2.7 1 2 1 1.2 1 .7 1 .4 1 .2 1 0 1 .1 1 .3 1 .3 1 .5 1 0 1 .1 1-.8 1-2.4 1-4.9 1-4.1 1 .2 1 2.5 1 2.6 1 2.2 1 1.6 1 1.1 1 .5 1 .3 1 .1 1-.1 1 .2 1-.1 1 .1 1 .1 1 0 1-.8 1-3.1 1-4.9 1-3.8 1 .8 1 2.9 1 2.6 1 2.5 1 1.4 1 1 1 .9 1 .7 1-.1 1 0 1 0 1 .1 1 .2 1 .1 1 0 1-1.4 1-3.7 1-5.4 1-2.5 1 2 1 2.7 1 2.8 1 1.8 1 1.2 1 .7 1 .6 1 .5 1 .2 1 .4 1-.1 1 .2 1 .1 1 .3 1-.5 1-.9 1-3.4 1-4.8 1-3.3 1 1.2 1 2.3 1 2.6 1 2.2 1 1.6 1 .7 1 .4 1 .3 1 .2 1 .4 1 .5 1 0 1 .3 1-.1 1-.2 1-1 1-2.7 1-4.7 1-3.9 1 .7 1 2.4 1 2.8 1 2.1 1 1.2" stroke="#0072bd" stroke-opacity="0.7" stroke-width="1.35"/><path d="M797 282.1l1 .4 1 .7 1 .6 1 .2 1 .2 1 .2 1 .1 1 0 1 .2 1-.1 1-1.6 1-4.3 1-5.6 1-1.8 1 2.3 1 2.5 1 2.8 1 2 1 1.1 1 .5 1 .6 1 .6 1 .4 1-.1 1 .2 1 .7 1 .1 1 .3 1-.6 1-1 1-3.5 1-5.7 1-3 1 1.6 1 2.8 1 2.9 1 2 1 1.5 1 1.1 1 .4 1 .5 1 .2 1 .3 1 .1 1 .2 1 0 1-.1 1-1.4 1-3.7 1-5.8 1-2.8 1 1.8 1 2.5 1 2.8 1 2.3 1 1.3 1 1 1 .5 1 0 1 .3 1 .4 1 .5 1 .3 1-.1 1 .3 1-.1 1-.4 1-2.9 1-4.9 1-4.8 1-.1 1 2 1 2.9 1 2.5 1 2 1 1.2 1 .8 1 .3 1 .1 1 .4 1 .6 1 .1 1 .1 1 0 1 .4 1-.4 1-1.8 1-4.7 1-5.8 1-1 1 2.1 1 2.9 1 2.2 1 1.9 1 1.3 1 1 1 .3 1 .5 1 .2 1 .1 1 .3 1 0 1 .1 1 0 1-1.2 1-3.6 1-5.6 1-3.2 1 1.8 1 2.8 1 2.7 1 2 1 1.3 1 .8 1 .5 1 .5 1 .3 1 .3 1 0 1 .1 1-.2 1 .2 1-.5 1-1.8 1-4.2 1-5.5 1-.8 1 1.7 1 3.1 1 2.2 1 2.2 1 1.3 1 .7 1 .9 1 .2 1 .4 1-.1 1 .3 1-.1 1 .3 1 .3 1-.3 1-1.6 1-3.4 1-5.2 1-2.5 1 1.5 1 2.4 1 2.6 1 2.3 1 1.6 1 .7 1 1 1 .6 1 .1 1-.1 1-.1 1 .2 1 .2 1 .2 1-.3 1-1.5 1-4.9 1-5.1 1-1.3 1 2.2 1 2.4 1 2.5 1 2 1 1.6 1 .9 1 .4 1-.1 1 .1 1 .4 1 0 1 .3 1-.2 1-.4 1-1.5 1-4.2 1-5.4 1-1.3 1 1.8 1 2.5 1 2.6 1 2.2 1 1.4 1 .8 1 .3 1 .3 1 .3 1 .2 1 .2 1 .2 1 .2 1 .4 1-.8 1-3.1 1-5.8 1-3 1 1.4 1 2.7 1 2.4 1 2 1 1.6 1 1 1 .6 1-.2 1 .7 1 .2 1 .1 1 .2 1-.2 1-.1 1-.1 1 .1 1-.9 1-3.7 1-5.9 1-3.5 1 1.9 1 2.6 1 3 1 2 1 1.6 1 .8 1 .7 1 .6 1 .2 1 .4 1-.3 1 .4 1 .3 1 .4 1-.1 1-.7 1-2.1 1-5.1 1-5 1-.2 1 2.3 1 2.7 1 2.5 1 2 1 1.3 1 .5 1 .5 1 .5 1 .1 1 .3 1 .1 1 .2 1 .3 1-.3 1-.6 1-3.2 1-5.4 1-4.4 1 .6 1 2.4 1 2.7 1 2.6 1 1.5 1 1.3 1 .5 1 .5 1 .1 1 .3 1 .2 1 .6 1 .3 1 .1 1-.2 1-1.1 1-3.8 1-5.6 1-3 1 1.7 1 2.5 1 2.6 1 2.2 1 1.3 1 .8 1 .8 1 .4 1 .5 1 0 1 0 1 .1 1 .1 1 .4 1 .1 1-.8 1-3.1 1-5.8 1-4 1 1.2 1 2.5 1 2.3 1 2.5 1 1.7 1 1.2 1 .4 1 .4 1 .3 1 .1 1 .1 1 .1 1 .5 1-.1 1-.2 1-.7 1-2.5 1-5.4 1-4.6 1 .9 1 2.3 1 2.8 1 2.1 1 1.7" stroke="#d95319" stroke-opacity="0.7" stroke-width="1.35"/><path d="M797 294.7l1 1 1 .9 1 .1 1 .3 1-.1 1 .2 1 .2 1 .1 1 .1 1 .2 1-.2 1-3.1 1-7.2 1-2.8 1 1.7 1 2.2 1 2.4 1 2 1 1.8 1 1 1 .7 1 .6 1 .4 1 .4 1 0 1 .2 1 0 1 0 1 .1 1-.2 1-2.3 1-6.4 1-4.4 1 1.4 1 2.2 1 2.3 1 2.1 1 1.8 1 1 1 .7 1 0 1 .4 1 0 1 .2 1 .4 1 .1 1 0 1 .1 1-1.8 1-6.8 1-4.8 1 1.8 1 2.6 1 2.3 1 1.9 1 1.2 1 1.2 1 .7 1 .6 1 .1 1 .4 1 .2 1 .4 1 .3 1 .1 1 0 1-.1 1-.7 1-4.3 1-7.4 1-.8 1 2 1 2.9 1 2.4 1 1.4 1 1 1 .8 1 .8 1 .6 1 .1 1 .2 1 .1 1-.1 1-.1 1 .1 1 .2 1-.3 1-3.2 1-7 1-2.3 1 1.8 1 2.7 1 2.4 1 2.2 1 1.4 1 .8 1 .7 1 .4 1 .5 1 .3 1 .2 1 .2 1 .2 1-.1 1 0 1-2.1 1-6.2 1-5.4 1 1.6 1 2.3 1 2.6 1 2.3 1 1.3 1 .9 1 .7 1 .2 1 .1 1 .2 1-.1 1 .1 1 .2 1 .5 1 .2 1-.5 1-3.6 1-7.2 1-2.2 1 2.1 1 2.2 1 2.3 1 2 1 1.5 1 1.3 1 1 1 .4 1 .4 1-.1 1 0 1-.1 1 .2 1 .5 1 .3 1 0 1-2.2 1-6.8 1-4.8 1 1.5 1 2.3 1 2.7 1 2.3 1 1.6 1 1 1 .7 1 .5 1 .2 1 .1 1 .4 1-.2 1 .5 1 .2 1-.1 1-.3 1-3.4 1-7.2 1-2.3 1 1.6 1 2.6 1 2.3 1 2.1 1 1.4 1 .8 1 .4 1 .2 1 .7 1 .3 1 .5 1 0 1 .1 1 0 1-.6 1-3.2 1-7.5 1-2.6 1 1.8 1 2.7 1 2.6 1 2 1 1.2 1 1.2 1 1.1 1 .4 1 .6 1 0 1 0 1 .5 1-.1 1 0 1-.4 1-1.8 1-6 1-4.7 1 1.5 1 2.2 1 2.1 1 2.3 1 1.8 1 1 1 .7 1 .3 1 .2 1 .2 1-.1 1 .4 1 0 1 .2 1 .2 1 .2 1-.1 1-1.9 1-6.7 1-4.8 1 1.3 1 2.3 1 2.2 1 2 1 2 1 1.2 1 .7 1 .4 1 .3 1 .4 1 0 1 0 1 0 1 0 1 .1 1-.2 1-.8 1-4.3 1-7.5 1-.8 1 2.4 1 2.3 1 2.6 1 2.1 1 1.2 1 .8 1 .6 1 .6 1 .3 1 .5 1 .3 1-.1 1 .3 1 0 1 .2 1-1.2 1-5.1 1-7 1 .4 1 2.1 1 2.7 1 2.6 1 1.9 1 1.5 1 .6 1 .6 1 .3 1 .3 1 .2 1 .1 1 .3 1 .2 1 .3 1-.3 1-2 1-6.4 1-5.3 1 1.5 1 2.3 1 2.7 1 1.9 1 1.6 1 .8 1 .4 1 .1 1 .5 1 .3 1 .2 1 .1 1 .3 1 .4 1-.1 1 .1 1-1.3 1-5.6 1-6.5 1 .9 1 1.9 1 2.6 1 2.4 1 1.8 1 1.2 1 .8 1 .9 1 .3 1 .5 1-.1 1-.1 1 .1 1 .3 1 .5 1 0 1-1.1 1-5.8 1-6.6 1 .2 1 2.3 1 2.4 1 2.4 1 1.7" stroke="#edb120" stroke-opacity="0.7" stroke-width="1.35"/><path d="M797 307l1 .6 1 .6 1 .3 1 .7 1 .4 1 .3 1 .1 1 .2 1 .1 1 .3 1-.4 1-3.3 1-8.2 1-3.8 1 1.9 1 2.7 1 3.1 1 2.7 1 1.6 1 .8 1 .7 1 .6 1 .5 1 .1 1-.1 1-.1 1 .1 1 .3 1 .3 1 .1 1-2.5 1-7.2 1-5.8 1 1.6 1 2.3 1 2.6 1 2.4 1 2.1 1 1.4 1 .9 1 .5 1 .4 1 .1 1 .4 1 .2 1 .4 1 .1 1-.3 1-2.4 1-7.8 1-5.6 1 1.6 1 2.7 1 3.1 1 2.5 1 1.7 1 1.1 1 .9 1 .5 1 .1 1 .2 1 .5 1 .6 1 .3 1 .1 1-.2 1 .1 1-.7 1-5.1 1-8.1 1-1 1 2.3 1 2.6 1 2.9 1 2.1 1 1.8 1 .9 1 .6 1 .4 1 .3 1 .5 1 .2 1 .3 1 0 1 .2 1 .4 1-.4 1-3.6 1-8.5 1-2.8 1 2.2 1 2.9 1 2.7 1 2.3 1 1.7 1 .8 1 .4 1 .4 1 .7 1 .5 1 0 1-.2 1 0 1 0 1 0 1-2.1 1-7.4 1-5.6 1 1.7 1 2.6 1 2.3 1 2.6 1 2.2 1 1.5 1 .8 1 .3 1 .5 1 .5 1 .2 1 0 1 .1 1 .2 1 .2 1-.3 1-3.8 1-8.9 1-2.9 1 2 1 3.1 1 2.9 1 2.5 1 1.9 1 1 1 .8 1 .4 1 .5 1-.1 1 .4 1-.2 1 0 1-.2 1 .6 1-.3 1-2.4 1-7.6 1-5.4 1 1.9 1 2.8 1 2.8 1 2.6 1 1.9 1 1.2 1 .8 1 .3 1 0 1 .5 1 .2 1 .6 1-.1 1 .6 1 .1 1-.5 1-4 1-8.6 1-2.6 1 1.9 1 2.9 1 2.8 1 2.6 1 1.7 1 1.2 1 .5 1 .5 1 .2 1 .3 1 .4 1 .2 1-.2 1-.2 1-.2 1-3.3 1-8.1 1-2.6 1 2.3 1 2.6 1 2.5 1 1.8 1 1.6 1 1.2 1 .7 1 .5 1 .6 1 .3 1 .1 1-.1 1 0 1 .1 1-.1 1-2.4 1-7.6 1-5.6 1 1.7 1 2.8 1 2.9 1 2.6 1 1.9 1 1.2 1 .7 1 .5 1 .3 1 .5 1 .5 1-.1 1 .3 1 .6 1 .5 1-.3 1-.5 1-2.2 1-7.7 1-5.7 1 1.7 1 2.6 1 2.8 1 2.5 1 2.2 1 1.3 1 .6 1 .3 1 .5 1 .3 1 0 1 .1 1 .1 1 .2 1 .3 1 .2 1-.7 1-4.7 1-8.3 1-1 1 2.1 1 2.6 1 2.7 1 2.4 1 1.7 1 1 1 .7 1 .6 1 .2 1 .2 1 .2 1-.1 1 0 1 .2 1 .3 1-1.1 1-6.1 1-7.9 1 .5 1 2.5 1 3.2 1 2.8 1 2 1 1.5 1 1.2 1 .5 1-.1 1 .2 1 .5 1 .7 1 0 1-.1 1 .3 1-.3 1-2.2 1-7.9 1-5.6 1 1.7 1 2.6 1 2.7 1 2.5 1 1.6 1 1.4 1 .9 1 .4 1 .2 1 .2 1 .1 1 .2 1 .2 1 .2 1 .4 1 0 1-1.4 1-6.3 1-7.1 1 .9 1 2.4 1 3 1 2.8 1 1.9 1 1.3 1 .9 1 .8 1 .6 1 .5 1 .3 1-.1 1 0 1 0 1 .3 1 0 1-1.5 1-6.3 1-7.8 1 .9 1 2.4 1 3 1 2.6 1 2.1" stroke="#7e2f8e" stroke-opacity="0.7" stroke-width="1.35"/><path d="M797 320.1l1 .8 1 .6 1 .4 1 .3 1 .5 1 .3 1 .5 1 0 1-.1 1-.1 1-.2 1-2.6 1-8.6 1-4.2 1 2.2 1 3 1 3.2 1 2.5 1 1.7 1 1.2 1 .6 1 0 1 .6 1 .2 1 .3 1-.1 1 .1 1 .1 1 .2 1 .1 1-1.9 1-7.5 1-6.4 1 2.1 1 2.9 1 2.6 1 2.3 1 1.7 1 1.3 1 .3 1 .3 1 .2 1 .7 1 .6 1 .2 1 0 1-.2 1-.1 1-1.6 1-7.2 1-6 1 1.9 1 3.1 1 2.7 1 2.4 1 1.3 1 1.2 1 .7 1 .8 1 .2 1 .4 1 0 1-.1 1 .2 1 .4 1 .2 1-.3 1-.5 1-4.8 1-8.8 1-1.4 1 2.8 1 3.4 1 3.1 1 2.1 1 1.3 1 .8 1 .3 1 .3 1 .5 1 .1 1 .5 1 .3 1 .1 1 0 1-.1 1 .1 1-2.9 1-8.9 1-3.3 1 2 1 3.3 1 3 1 2.4 1 1.7 1 .9 1 .6 1 .1 1 0 1 .3 1 .5 1 .4 1-.2 1 .1 1 .1 1-1.3 1-7.7 1-6.5 1 1.5 1 3.1 1 3.2 1 2.4 1 1.6 1 1.1 1 1 1 .6 1 .4 1 .5 1 .4 1 .2 1-.2 1-.2 1 .2 1-.1 1-3 1-8.9 1-3.3 1 2.4 1 3.3 1 3 1 2 1 1.2 1 .7 1 .8 1 .7 1 .3 1 .3 1-.1 1 .3 1 .3 1 0 1 0 1-.3 1-1.7 1-7.6 1-6.3 1 1.8 1 3.3 1 3.4 1 2.5 1 1.7 1 .9 1 .8 1 .3 1 0 1 .1 1 .3 1 .1 1 .4 1 .3 1 .2 1-.3 1-3.4 1-8.7 1-3.4 1 2.3 1 2.9 1 3.1 1 2.2 1 1.4 1 1.1 1 .8 1 .2 1 .2 1 .6 1 .4 1 .3 1-.1 1-.1 1-.5 1-3.4 1-8.7 1-2.9 1 2.2 1 2.8 1 2.8 1 2.7 1 1.7 1 1.1 1 .5 1 .2 1 .4 1 .2 1 .2 1 .4 1 .2 1 .1 1-.2 1-2 1-7.5 1-6.2 1 2 1 2.9 1 2.7 1 2.5 1 1.8 1 1 1 .8 1 .6 1 .5 1 .2 1 0 1 .4 1 .2 1 .2 1 .1 1 .1 1 0 1-1.6 1-7.4 1-6.3 1 2 1 2.8 1 3.1 1 2.7 1 1.5 1 .9 1 .5 1 .7 1 .3 1 .3 1 0 1 0 1-.2 1-.1 1-.4 1 .3 1-.4 1-4.2 1-9.1 1-1.2 1 2.8 1 3.1 1 2.8 1 2.3 1 1.4 1 1 1 .2 1 .6 1 .4 1 .2 1 0 1 .5 1 .1 1 .2 1-.5 1-.5 1-5.6 1-8.3 1 .4 1 2.9 1 3.2 1 2.4 1 1.9 1 1.2 1 1.1 1 .7 1 .6 1 .2 1 0 1 0 1 .3 1 0 1 .3 1-.1 1-2.1 1-7.9 1-6.2 1 2.5 1 3.1 1 2.7 1 2.6 1 1.6 1 1.1 1 .7 1 .4 1 .5 1 0 1 .4 1 .3 1 .1 1-.1 1 .1 1-.2 1-1 1-6.2 1-7.6 1 1.2 1 2.7 1 3.1 1 2.7 1 1.7 1 1 1 .4 1 .8 1 .5 1 .3 1 .3 1 .1 1-.3 1 .2 1 .2 1 .5 1-1.1 1-5.9 1-8.6 1 .4 1 3 1 3 1 2.7 1 2.1" stroke="#77ac30" stroke-opacity="0.7" stroke-width="1.35"/><path d="M797 333l1 .5 1 .4 1-.1 1 .3 1 .3 1 .6 1 .3 1 .1 1 0 1-.1 1-.3 1-2.2 1-8.3 1-4.5 1 4 1 4.5 1 2.7 1 1.6 1 .8 1 .5 1 .2 1 .2 1 .1 1 .3 1 .2 1 .2 1 0 1-.3 1 0 1 .1 1-1.1 1-7.7 1-7.6 1 3.4 1 4.8 1 3.4 1 1.8 1 1 1 .7 1 .3 1 .1 1 0 1 .3 1 .3 1 .1 1-.1 1 .2 1 .1 1-1 1-7.2 1-7.4 1 3 1 4.6 1 3.5 1 1.7 1 .8 1 .7 1 .6 1 .3 1 .2 1-.1 1 0 1-.1 1 .3 1 .3 1 .2 1-.1 1-.6 1-3.8 1-9.5 1-.9 1 4.3 1 4.3 1 2.7 1 1.3 1 .5 1 .2 1 .2 1 .2 1 .4 1 .4 1 0 1 0 1-.1 1-.1 1 .2 1-.2 1-2.5 1-9.1 1-3.3 1 3.9 1 4.7 1 2.9 1 1.5 1 .8 1 .6 1 .3 1-.3 1-.1 1 .1 1 .6 1 0 1 .3 1-.1 1-.2 1-1.5 1-7.3 1-6.9 1 3.1 1 4.2 1 3.2 1 1.9 1 1 1 .8 1 .6 1 0 1 0 1 0 1 .3 1 .2 1 0 1 0 1 .1 1-.1 1-2.6 1-8.8 1-3.1 1 3.9 1 4.4 1 2.8 1 1 1 .9 1 .2 1 .5 1 .3 1 .6 1 .2 1 .1 1-.1 1 .1 1-.3 1 .1 1-.1 1-1.5 1-7.1 1-7.1 1 3.4 1 4.8 1 3.3 1 1.6 1 1 1 .4 1 .4 1 .1 1 .1 1 .2 1-.3 1 .8 1 .1 1 .2 1 0 1 .1 1-2.8 1-9.1 1-3.7 1 4.2 1 4.6 1 3 1 1.4 1 .8 1 .8 1 .1 1 .1 1 .2 1 0 1 .1 1 .4 1 0 1-.1 1-.5 1-2.5 1-8.9 1-3.2 1 3.7 1 4.2 1 3.2 1 1.6 1 .7 1 .6 1 .1 1 0 1 .2 1 .1 1 .3 1 0 1 .3 1-.1 1 0 1-1.5 1-7.3 1-7.1 1 2.9 1 4.6 1 3.3 1 2.1 1 .8 1 .5 1 .5 1 .2 1 .1 1 .1 1 .7 1 .2 1 .2 1 .2 1-.2 1-.5 1 0 1-1.2 1-6.9 1-7.2 1 3.5 1 4.5 1 3.5 1 1.7 1 .6 1 .7 1 .3 1 .2 1 .1 1 .2 1 .2 1 .2 1 .2 1 .1 1 .1 1 0 1-.4 1-4.1 1-9.9 1-1 1 4.5 1 4.4 1 2.6 1 1.2 1 .6 1 .6 1 .2 1 .2 1 .2 1 .4 1 0 1-.1 1 .2 1 0 1 .2 1-.9 1-5.3 1-9.5 1 1.1 1 4.5 1 4 1 2.3 1 .8 1 .7 1 .3 1 .6 1 0 1 .5 1 .4 1 .3 1 .1 1 .1 1 .1 1-.1 1-1.4 1-7.5 1-7.1 1 3.3 1 4.6 1 3.6 1 1.7 1 1 1 .3 1 .2 1 0 1 .5 1 .3 1 .4 1 0 1 .2 1 0 1 .1 1-.1 1-.9 1-5.7 1-8.8 1 2.1 1 4.6 1 3.6 1 2.1 1 .5 1 .6 1 .3 1 .6 1 .1 1 .1 1 .1 1 .1 1 .2 1 0 1 0 1 .1 1-.7 1-5.3 1-9.2 1 1.3 1 4.5 1 4.2 1 2 1 .7" stroke="#4dbeee" stroke-opacity="0.7" stroke-width="1.35"/><path d="M797 346l1 .6 1 .2 1 .3 1 .2 1 .1 1 0 1-.1 1-.3 1 0 1 .1 1 .3 1-2.2 1-8.1 1-4.1 1 6 1 4.5 1 1.8 1 .6 1 .6 1 .3 1 .3 1 0 1 0 1-.2 1 .3 1 0 1 .2 1 0 1 .3 1-.1 1-1.7 1-6.8 1-6.7 1 5.1 1 5.4 1 2.2 1 .7 1 .4 1 .4 1 .5 1 .1 1 0 1 .2 1 0 1-.2 1 .1 1 0 1-.1 1-1.7 1-6.8 1-6.6 1 5.4 1 5.3 1 2.1 1 .8 1 .2 1 .4 1 .3 1 .2 1-.1 1 .2 1-.2 1-.1 1 0 1 .1 1 0 1-.1 1-.3 1-3.6 1-8.9 1 .3 1 6.2 1 3.7 1 1 1 .6 1 .3 1 .2 1 .3 1 .3 1 .2 1 .4 1-.3 1 .1 1-.4 1 .4 1-.3 1 .1 1-2.7 1-8.5 1-2.9 1 6.3 1 4.5 1 1.2 1 .7 1 .6 1 .7 1-.1 1-.3 1-.2 1 .1 1 .4 1 .1 1 .2 1-.1 1-.2 1-1.4 1-6.8 1-6.5 1 4.8 1 5.3 1 2 1 1 1 .7 1 .2 1 .4 1-.1 1 .4 1-.1 1 .3 1-.2 1-.1 1 .1 1 .2 1-.3 1-2.8 1-8.5 1-2.7 1 6.3 1 4 1 1.7 1 .8 1 .5 1 .4 1 0 1 .3 1 0 1 .1 1-.1 1 .1 1 .1 1-.1 1-.1 1-.1 1-1.4 1-6.8 1-6.8 1 5.5 1 5.4 1 2.1 1 .9 1 .5 1 .3 1-.1 1 .1 1 .1 1-.2 1 .1 1 .1 1 .5 1 .2 1 .2 1-.4 1-2.7 1-8.8 1-2.6 1 6.1 1 4.6 1 1.5 1 .7 1 .3 1 .1 1-.2 1 .4 1 .3 1 .1 1 0 1 0 1-.3 1-.1 1 .2 1-2.4 1-8.4 1-2.6 1 5.8 1 4.4 1 1.8 1 .8 1 0 1 .3 1 .4 1 0 1 .2 1 .3 1 .6 1-.3 1-.2 1-.6 1 .3 1-1.7 1-6.7 1-6.9 1 5.5 1 5.1 1 2.4 1 1.1 1 .3 1 .2 1 .3 1 .4 1 .2 1-.2 1-.2 1-.4 1 .1 1 0 1 .5 1 .3 1-.2 1-1.5 1-7.1 1-6.6 1 5.2 1 5.5 1 2.2 1 .8 1 .6 1 .1 1 0 1 .1 1 .2 1 .1 1 .2 1 .1 1-.1 1 0 1 .1 1-.2 1-.7 1-3.4 1-8.8 1 .3 1 6.3 1 3.8 1 1.1 1 .7 1 .4 1 .2 1 .3 1 0 1 .2 1 .2 1 .1 1-.2 1 .1 1 .2 1 .3 1-.8 1-4.8 1-8.8 1 2.5 1 6 1 2.6 1 1 1 .7 1 .5 1 .3 1 0 1-.1 1 .3 1 .3 1 .1 1-.2 1-.1 1 0 1 .1 1-1.6 1-6.8 1-6.9 1 5.4 1 5.3 1 2 1 .7 1 .4 1 .5 1 .3 1 .3 1 0 1 .2 1 0 1 0 1 .3 1-.2 1 0 1 .1 1-1 1-5.4 1-8.5 1 4 1 5.8 1 2.4 1 .7 1 .3 1 .5 1 .2 1 .2 1-.2 1 .2 1 .2 1 .2 1 0 1-.2 1-.1 1 .2 1-.8 1-4.8 1-8.7 1 2.7 1 6.2 1 3 1 .9 1 .6" stroke="#a2142f" stroke-opacity="0.7" stroke-width="1.35"/><path d="M797 359.2l1 .5 1-.3 1 .1 1-.4 1-.2 1 .1 1-.1 1 .4 1 .3 1 .1 1-.3 1-2.1 1-8 1-4 1 6.5 1 4.7 1 1.4 1 .4 1 .5 1 .4 1 .2 1-.1 1-.3 1 .1 1 .2 1 0 1 .3 1-.2 1 .1 1-.4 1-1.1 1-6.8 1-6.9 1 5.8 1 5.4 1 1.8 1 .7 1 .5 1 .6 1 .5 1 .6 1 .1 1 .1 1 0 1-.1 1-.2 1 0 1 0 1-1.4 1-6.7 1-7.1 1 6.2 1 5.3 1 1.8 1 .6 1 .6 1 .4 1 .2 1 0 1-.2 1-.3 1 0 1 .3 1-.1 1 .3 1 .3 1 .4 1-.6 1-3.9 1-9.2 1 .3 1 6.9 1 3.1 1 1.2 1 .4 1 .5 1 .4 1 .1 1 0 1-.4 1 .3 1 0 1 0 1 0 1 0 1-.2 1-.2 1-2.4 1-8.4 1-2.7 1 6.9 1 4.3 1 1.4 1 .7 1 .4 1 .4 1 .2 1 0 1 .2 1 0 1-.1 1 0 1 0 1-.2 1-.2 1-1.2 1-6.6 1-7 1 5.7 1 5.2 1 1.6 1 .7 1 .5 1 .4 1 .1 1 0 1 .2 1-.2 1-.1 1-.2 1 .3 1 .1 1 .4 1-.4 1-2.1 1-8.7 1-2.5 1 6.5 1 3.9 1 1.4 1 .4 1 .8 1 .2 1 .1 1-.4 1 0 1 .4 1 .2 1 .1 1-.3 1 0 1 .1 1 .3 1-1 1-7 1-6.4 1 5.8 1 5.2 1 1.7 1 .4 1 .5 1 0 1 .1 1-.1 1 .2 1 .3 1 0 1 .1 1-.2 1 .3 1-.1 1 .1 1-2.6 1-8.9 1-2.2 1 6.8 1 4.5 1 .7 1 .8 1 .3 1 .1 1 .3 1 .2 1 0 1 .3 1-.4 1 0 1-.3 1 0 1-.4 1-2.2 1-8.4 1-2.6 1 6.4 1 4.1 1 1.4 1 .7 1 .5 1 .1 1 .4 1 .1 1 .1 1 0 1 .3 1 0 1 .2 1 0 1 0 1-1.5 1-6.9 1-6.7 1 5.8 1 5.6 1 1.6 1 .8 1 .5 1 .3 1-.1 1 0 1 .1 1 .3 1 0 1-.1 1-.3 1-.1 1 .3 1 .2 1 .1 1-1.2 1-7.2 1-6.7 1 5.8 1 5.5 1 1.9 1 .5 1 .5 1 .3 1 .2 1 .1 1-.3 1-.2 1 0 1 0 1 .1 1-.2 1 .3 1 .3 1-.1 1-3.8 1-9.1 1 .3 1 6.9 1 3.1 1 1 1 1 1 .6 1 .3 1-.2 1 0 1 .1 1 0 1 0 1 0 1-.2 1-.2 1-.2 1-.8 1-4.8 1-8.9 1 3.2 1 6.8 1 2.4 1 1 1 .2 1 .1 1 .4 1 .3 1 .1 1-.2 1 0 1 0 1 .2 1 0 1 0 1 .1 1-.9 1-6.9 1-7 1 5.9 1 5.4 1 1.9 1 .7 1 .3 1 .5 1 .2 1 .5 1 .1 1 .3 1-.2 1 .3 1 0 1 .1 1-.5 1-.2 1-.7 1-5.1 1-8 1 4.1 1 5.8 1 2.1 1 .5 1 .7 1 .2 1 .2 1 .3 1 .1 1-.1 1-.1 1 .2 1 .1 1 0 1-.1 1 0 1-.6 1-4.6 1-9 1 2.8 1 6.2 1 2.6 1 1 1 .7" stroke="#0072bd" stroke-opacity="0.7" stroke-width="1.35"/><path d="M797 371.1l1 .2 1 .2 1-.1 1 0 1-.1 1 .2 1 0 1-.1 1 .1 1 .2 1 0 1-1.4 1-5.2 1-2.8 1 5 1 2.8 1 1.1 1 .2 1 .3 1-.1 1 0 1 .2 1-.1 1-.2 1-.1 1 .1 1 .1 1-.1 1 .1 1 0 1-.8 1-5 1-4.8 1 4.2 1 3.8 1 1.1 1 .5 1 .3 1 .5 1 .3 1 .2 1 0 1-.3 1 0 1-.2 1 .3 1-.1 1 .1 1-1 1-4.8 1-4.7 1 4.1 1 3.4 1 1.4 1 .7 1 .3 1-.1 1 .1 1 .2 1 .1 1 .4 1 .1 1 .1 1 0 1 0 1-.1 1-.2 1-.3 1-2.2 1-6 1 .4 1 4.8 1 2 1 .9 1 .2 1 .5 1 0 1 0 1 .1 1 0 1-.3 1-.1 1 .1 1 0 1 .5 1 .1 1-.1 1-2.2 1-5.9 1-1.8 1 4.7 1 2.8 1 .8 1 .6 1 .4 1 .2 1 0 1-.2 1-.1 1 .3 1 0 1-.3 1-.2 1 0 1 .2 1-.6 1-4.8 1-4.5 1 3.7 1 3.8 1 1 1 .6 1 .4 1 .4 1-.1 1-.6 1-.2 1 0 1 .5 1 .4 1 .3 1 .1 1-.4 1-.4 1-1.9 1-5.9 1-1.7 1 4.7 1 3 1 1 1 .2 1 .3 1 .5 1 .4 1-.1 1-.2 1-.1 1 .2 1-.1 1 .1 1 .1 1 .3 1 0 1-1 1-5.1 1-4.9 1 4.3 1 3.8 1 1.1 1 .4 1 .2 1 .5 1 0 1-.1 1 .1 1 0 1 .1 1 .1 1 0 1-.1 1-.2 1-.1 1-1.7 1-6 1-1.5 1 4.8 1 2.9 1 .6 1 0 1 .3 1 .6 1 .2 1-.1 1-.1 1-.3 1 0 1 .2 1 .1 1 .3 1-.3 1-1.6 1-6.3 1-1.4 1 4.7 1 3 1 .5 1 .3 1 .1 1 .3 1 .4 1 .2 1 0 1-.2 1 .3 1 0 1-.1 1 0 1-.1 1-1 1-4.9 1-4.7 1 4.1 1 3.9 1 1.6 1 .7 1 .2 1-.1 1 0 1 .2 1 .1 1 .1 1-.1 1-.2 1-.1 1 .2 1 0 1-.2 1-.1 1-.7 1-4.5 1-4.9 1 4.6 1 3.6 1 1.5 1 .4 1 0 1 0 1-.1 1 0 1 .1 1 0 1 .1 1 .3 1 .2 1-.1 1-.3 1 0 1 .1 1-2.7 1-6.1 1 .2 1 5 1 2.3 1 .7 1 .5 1 .6 1 0 1 .1 1-.3 1 0 1-.2 1 .3 1-.1 1 .3 1-.2 1-.1 1-.5 1-3.5 1-6.1 1 2.1 1 4.9 1 1.7 1 .9 1 .1 1 .1 1-.2 1 .5 1 .1 1 .2 1-.2 1 .1 1 0 1-.2 1 .2 1 0 1-.7 1-5 1-4.8 1 4.4 1 3.8 1 1 1 .4 1 .2 1 .1 1 .3 1-.2 1-.1 1-.3 1 0 1 0 1 .1 1 .1 1 .2 1-.1 1-.5 1-4.1 1-5.6 1 2.9 1 4.3 1 1.8 1 .4 1 .3 1 .2 1 .5 1 0 1-.1 1 .1 1 .1 1 .3 1 .2 1 0 1-.4 1-.3 1-.7 1-3 1-6.2 1 2.5 1 4.4 1 1.5 1 .5 1 .3" stroke="#d95319" stroke-opacity="0.7" stroke-width="1.35"/><path d="M797 382.8l1 .1 1 0 1 0 1-.4 1 .1 1-.1 1 0 1 .3 1 0 1-.1 1-.1 1-.6 1-1.5 1-.8 1 1.2 1 .8 1 0 1 .6 1 .1 1 .3 1-.1 1 .4 1-.3 1-.2 1 0 1 .1 1 0 1-.4 1 .1 1 .3 1 0 1-1.2 1-1.5 1 .9 1 .7 1 .5 1 .4 1 .2 1-.1 1 .1 1 .1 1-.1 1-.1 1 .1 1 .1 1 0 1-.1 1 .1 1-.3 1-1.3 1-1.5 1 1.5 1 1.4 1 .2 1 0 1-.2 1-.2 1-.1 1 .2 1-.1 1 .1 1 .1 1 .2 1 0 1 .1 1 .1 1 0 1 0 1-.7 1-2 1 .4 1 1.2 1 .9 1 0 1 .1 1-.3 1 .3 1 .2 1 .2 1-.1 1-.1 1 0 1 0 1-.1 1 .1 1 .1 1-.1 1-.9 1-1.8 1-.5 1 1.2 1 1 1 .1 1 .3 1 0 1 .2 1-.1 1-.1 1-.1 1 .1 1 .3 1-.2 1 .2 1 0 1 .6 1-.7 1-1.3 1-1.7 1 1.4 1 1.1 1 .2 1 .4 1 .1 1 .2 1-.2 1-.2 1-.1 1-.1 1-.1 1 0 1 .3 1-.1 1 .2 1-.1 1-.3 1-1.5 1-.5 1 1.6 1 .5 1 .3 1 0 1 .2 1 0 1 .1 1-.1 1 .1 1-.1 1 .3 1 0 1-.1 1 .3 1-.1 1 .1 1-.4 1-1.1 1-1.7 1 1.3 1 1.3 1 .4 1 .4 1-.3 1 .3 1-.1 1 0 1-.1 1-.4 1-.1 1-.3 1-.2 1 .3 1-.3 1 .2 1-.6 1-1.6 1-.4 1 1.4 1 .6 1-.1 1 .1 1 0 1 0 1 0 1 .1 1-.1 1 .5 1 .5 1 0 1-.3 1-.2 1-.1 1-.4 1-1.9 1-.4 1 1.3 1 1.1 1 .2 1 .4 1 0 1 .3 1-.2 1 .4 1-.1 1 0 1 0 1 .1 1-.2 1 0 1-.2 1 0 1-1.5 1-1.3 1 .9 1 1.4 1 .3 1 .4 1-.4 1 .3 1-.2 1 0 1-.1 1 .2 1-.1 1 0 1 .1 1 .1 1 .3 1-.2 1-.3 1-.2 1-1.6 1-1.5 1 1.1 1 1.4 1 .3 1 .1 1 .1 1 .2 1 .3 1 0 1-.2 1 .1 1 0 1 0 1-.1 1-.2 1 .1 1 .5 1 0 1-.9 1-2.3 1 .2 1 1.1 1 1.2 1 .3 1 .1 1 0 1 .1 1 0 1 .3 1-.4 1-.2 1-.2 1 .2 1-.3 1 .2 1 0 1 .2 1-.8 1-1.5 1 .6 1 1.2 1 .3 1-.1 1 .1 1 .3 1-.1 1-.1 1 0 1 .4 1 .1 1 .1 1-.1 1 .2 1 .4 1-.2 1-.8 1-1.5 1-1.3 1 1.3 1 1 1 .5 1 .4 1-.1 1 .2 1-.2 1-.1 1 .1 1 0 1 .2 1-.3 1-.2 1-.1 1 .1 1 0 1 0 1-1.1 1-2 1 .6 1 1 1 .7 1 .3 1 .4 1-.2 1 .1 1-.3 1 .2 1 .1 1 .1 1 .1 1-.1 1 0 1 .3 1 .3 1-.5 1-1.3 1-1.8 1 .9 1 1.4 1 .6 1 .4 1 0" stroke="#edb120" stroke-opacity="0.7" stroke-width="1.35"/><path d="M420.8 897.9l1 .1 1-.3 1 .1 1-.3 1 .4 1 0 1 .4 1 .3 1 .5 1 .1 1-.4 1-.2 1-.2 1 .2 1 .2 1-.2 1 .1 1-.6 1-.4 1-1.3 1-.3 1-.2 1 .6 1 1 1 0 1 .4 1-.3 1 .4 1-.2 1-.2 1 .4 1 .4 1 0 1-.1 1-.6 1-.8 1-.3 1 .3 1 .4 1 0 1-.2 1 .4 1 .2 1 .3 1 .4 1 .4 1-.1 1 .4 1-.3 1 .2 1-.4 1 0 1-.2 1-.3 1 .1 1 .1 1-.1 1-.4 1-.5 1 0 1 .2 1 .2 1-.1 1 .4 1 .1 1 .3 1 .1 1 0 1-.1 1 .3 1-.3 1 0 1 0 1 .2 1-.1 1-1.3 1-.8 1-.2 1 .3 1 .3 1 .3 1 .2 1 .5 1 .4 1 .2 1 .3 1-.1 1 .2 1 .1 1 .1 1-.7 1-.3 1-1.3 1 .1 1 0 1 .4 1 .2 1 .1 1 .2 1 .3 1 .2 1 .6 1 .2 1 .1 1-.3 1-.2 1-.1 1-.3 1-.4 1-.2 1-.5 1-.2 1-.1 1 .4 1 0 1 .5 1 .3 1 .4 1 .2 1 .3 1 0 1 .4 1 .1 1 .4 1-.3 1 0 1-.2 1 .1 1-.5 1 .1 1-.1 1 .1 1 0 1 .2 1-.1 1-.6 1-1.4 1-.7 1 .3 1 .3 1 .5 1 .4 1 .3 1 .1 1 .5 1 .2 1 .1 1-.2 1 .5 1 .1 1-.2 1-.3 1-.3 1 .1 1-.2 1 .4 1 0 1 .1 1 .2 1-.5 1-.7 1-.4 1 0 1 .1 1-.1 1-.2 1 .2 1 .3 1 .5 1 .4 1 .1 1 0 1 0 1-.1 1 0 1 .1 1 .1 1-.4 1 .1 1-.1 1 0 1 .3 1-.2 1-.2 1-.6 1 .1 1 .3 1-.3 1-.1 1-.7 1-.1 1-.7 1-.1 1-.2 1 .7 1 .2 1 .8 1-.2 1 .4 1-.1 1 .7 1-.2 1 .2 1 0 1 .1 1 .2 1 .1 1 .4 1-.2 1-.3 1-.1 1 .2 1 .1 1-.2 1-.3 1-.3 1-.3 1-.7 1 0 1 .4 1 0 1 .1 1-.2 1 .2 1 0 1 .5 1 .2 1 .3 1-.1 1-.1 1-.1 1 .1 1 .1 1 0 1 0 1-.3 1-.2 1-.3 1 .1 1 .7 1 .3 1 0 1-.5 1-1.1 1-.8 1-1 1 .1 1-.2 1 .6 1 .3 1 .5 1 .3 1 .3 1 .5 1 0 1 .2 1-.1 1-.4 1 0 1 .1 1 .4 1 .1 1-.1 1 .1 1 .2 1 .3 1-.4 1-.1 1-.4 1-.5 1-.3 1-.3 1 0 1-.1 1 .1 1 .2 1 .2 1 .3 1 .7 1 .4 1 .2 1 0 1 .1 1-.1 1 .1 1 0 1 .2 1 0 1-.5 1-.3 1-.5 1 0 1-.1 1 0 1-.4 1-.4 1 .1 1 .2 1 .6 1 0 1 .2 1 .5 1 .2 1 .9 1-.1 1 .2 1-.5 1 0 1 .1 1 .5 1-.2 1-.2 1-.3 1 0 1-.2 1-.9 1 0 1-.4 1 .3 1 .1 1 .4 1 .4" stroke="#0072bd" stroke-opacity="0.7" stroke-width="1.35"/><path d="M420.8 912.1l1-.9 1-.1 1 0 1 .3 1 .3 1 .1 1 .4 1 .5 1 .4 1-.1 1 .1 1 .1 1 .2 1 .1 1-.1 1 0 1-.5 1-.6 1-.3 1-.7 1 0 1 .5 1 .3 1 .4 1 .5 1 .4 1 .1 1 .1 1-.3 1-.2 1-.8 1 0 1 .2 1-.1 1-.5 1-.8 1-.2 1 .2 1-.1 1 .3 1 .9 1 .7 1 0 1-.6 1 0 1 .1 1 .4 1-.2 1 .2 1 0 1 .1 1 0 1-.4 1-.4 1-.3 1-.4 1-.4 1-.6 1 .2 1 .4 1-.3 1-.1 1 .1 1 .5 1 .8 1 0 1 .3 1-.3 1 .4 1 .4 1 .1 1 .6 1-.1 1-.2 1-.6 1-1.5 1-.8 1-.4 1 .6 1 .5 1 .5 1 .7 1 .5 1 .1 1-.1 1-.1 1-.1 1-.2 1 .8 1 .2 1-.3 1-1 1-1 1-.4 1-.2 1 .2 1 .4 1 .4 1 .7 1 .7 1 .2 1 .2 1-.5 1 .3 1 .1 1 .2 1-.6 1-.1 1-.8 1-.3 1-1.2 1 .1 1-.4 1 .4 1-.2 1 .8 1 0 1 .3 1-.2 1 .5 1 .4 1 .7 1 .1 1-.1 1 0 1-.1 1 .3 1-.2 1-.3 1-.2 1-.1 1 .1 1 .1 1-.2 1-.1 1-.5 1-.8 1-.5 1 .3 1 .6 1 .2 1 .7 1-.1 1 .6 1 .1 1 .4 1-.5 1 0 1 .2 1-.1 1 .2 1-.2 1 .2 1 .1 1 .1 1 0 1 0 1 .1 1-.7 1-1.3 1-.9 1-.3 1-.2 1 0 1 .1 1 .2 1 .4 1 .7 1 .3 1 .2 1-.2 1 .5 1 .3 1 .5 1-.2 1 0 1-.3 1 .1 1-.1 1 .4 1 .2 1 .5 1-.3 1-.1 1 .2 1 .6 1 .1 1-.7 1-.8 1-.6 1-.7 1-.5 1-.3 1 .5 1 .2 1 .3 1 0 1 .7 1 .5 1 .2 1 .5 1-.1 1 0 1-.4 1 .1 1-.1 1 .3 1-.5 1 .6 1 0 1-.1 1-.3 1 .2 1 .4 1 0 1-.4 1-.4 1-1.1 1-.3 1 .4 1 .2 1 .5 1 .3 1 .5 1 .5 1 0 1 0 1-.2 1 .1 1 .1 1 .3 1 .2 1-.3 1-.4 1-.2 1 .3 1 .2 1-.1 1 .3 1-.3 1-.7 1-.3 1-.2 1-.2 1-1.3 1-.9 1 .1 1 .3 1 0 1 .2 1 .3 1 .4 1 .3 1 .4 1 .3 1 .1 1 .2 1 .7 1 .1 1-.1 1-.3 1 .4 1-.3 1-.1 1-.3 1 0 1-.2 1-.1 1-.2 1-.4 1-.4 1-.6 1 .4 1-.2 1 .2 1 0 1 .1 1 .4 1 .4 1 .2 1 .4 1-.3 1 .1 1 .6 1-.3 1 .5 1-.2 1 .3 1-.3 1 .1 1 .1 1-.1 1-.4 1-.7 1-.8 1-.4 1-.5 1-.1 1 .3 1 .4 1 .6 1-.2 1 .7 1-.2 1 0 1 0 1 .7 1 .4 1 .1 1 .1 1 .1 1-.1 1 0 1-.9 1-.4 1-.7 1 .2 1 0 1 .2 1 .2 1 .3 1 .2" stroke="#d95319" stroke-opacity="0.7" stroke-width="1.35"/><path d="M420.8 925.8l1-2.3 1-1.2 1 .3 1 .8 1 1.3 1 1.1 1 1.2 1 1 1 .9 1 .3 1 .4 1 .6 1 .5 1-.2 1-.1 1-.3 1 0 1-.7 1-2.6 1-5.1 1-2.4 1 1 1 2.3 1 2.8 1 2.1 1 1.2 1 .7 1 .8 1 .5 1 .4 1 0 1 0 1-.5 1-2.3 1-4 1-4.6 1-1.3 1 1.1 1 2.2 1 2.6 1 1.8 1 1.2 1 1.5 1 1.2 1 .6 1 .3 1-.2 1 .2 1-.4 1 .2 1 0 1 .2 1-.3 1-.4 1-.9 1-2.2 1-2.3 1-1.8 1-.6 1 .4 1 .8 1 .7 1 .9 1 .6 1 1.1 1 .6 1 .2 1 .8 1 .6 1 .7 1 .4 1-.1 1-.2 1-.4 1-1.8 1-3.6 1-4.1 1-.3 1 1 1 1.9 1 2.1 1 2.3 1 1.6 1 .9 1 .7 1 .2 1 .5 1 .1 1 .2 1-.2 1-1.4 1-3.3 1-4.4 1-2.8 1 .1 1 1.4 1 1.8 1 2.1 1 1.9 1 1.7 1 1.3 1 1 1 .4 1 .3 1 .1 1-.8 1-.7 1-1.5 1-2.1 1-2.1 1-1.8 1-.8 1-.4 1 .6 1 .9 1 1.3 1 1.3 1 .9 1 .8 1 .8 1 1 1 .7 1 .1 1 .1 1 .2 1 .4 1-.2 1 .3 1-.2 1 .7 1 0 1 0 1-.1 1 0 1-.4 1-2.5 1-4.4 1-3.2 1 .4 1 1.5 1 2.1 1 2.2 1 1.6 1 1.1 1 1 1 .3 1-.2 1-.2 1 .1 1 .3 1 .3 1-.2 1 .3 1-.1 1 .2 1-.1 1-.9 1-.5 1-1.1 1-1.7 1-2.6 1-2.8 1-1.7 1-.1 1 .6 1 1.6 1 1 1 1.4 1 .7 1 1.8 1 1.5 1 1 1 .2 1 .2 1 1 1 .6 1-.1 1-.1 1-.2 1 .2 1-.6 1-.1 1-.3 1 .5 1 .4 1 .4 1-.5 1-1.1 1-1.7 1-3.1 1-3.7 1-2.5 1-.2 1 1 1 1.8 1 2.4 1 2 1 1.6 1 1.3 1 .7 1 .8 1 .2 1 .3 1 .1 1 .1 1 .2 1-.2 1 .1 1-.4 1 .1 1 .1 1-.1 1-.2 1-.2 1-.6 1-1.5 1-2.7 1-3.1 1-1.5 1 0 1 1 1 1.3 1 1.7 1 1.7 1 1.7 1 .9 1 1.1 1 .5 1 .2 1 0 1-.5 1-.2 1 .1 1 0 1 .1 1 0 1-.4 1-.1 1 .2 1 .5 1 .3 1-.8 1-1.9 1-2.8 1-3.4 1-2.9 1-1.1 1 .6 1 1.6 1 2.3 1 2 1 1.7 1 1.5 1 1.1 1 .9 1 .4 1 .3 1 .5 1 .2 1 0 1-.1 1-.3 1 .2 1 0 1 .4 1 .3 1-.2 1-.8 1-2.3 1-3 1-3.8 1-1.8 1 .4 1 .9 1 1.3 1 1.6 1 2.5 1 1.8 1 .9 1 1 1 .3 1 .5 1-.2 1 .2 1 .4 1 0 1 0 1-.5 1-.1 1 .1 1 .1 1-.2 1-.8 1-1.5 1-2.9 1-3.2 1-2 1-.2 1 .7 1 1.3 1 1.8 1 1.9 1 1.5 1 1.8 1 1 1 .7 1 .3 1 .1 1 0 1 0 1 .1 1 0 1-.6 1-1 1-3.4 1-3.8 1-1.4 1 1.5 1 2.1 1 2.3 1 1.4 1 1.2" stroke="#edb120" stroke-opacity="0.5" stroke-width="1.35"/><path d="M420.8 940.2l1-2.1 1-1 1-.1 1 .4 1 .4 1 1 1 1.1 1 1.5 1 1 1 1 1 .1 1 .8 1-.2 1 0 1-.5 1 .3 1-.3 1-.5 1-2.7 1-4.6 1-2.2 1 .9 1 2.1 1 2.9 1 2.2 1 1.2 1 .4 1 .6 1 .7 1-.2 1-.7 1-.4 1-.7 1-1.6 1-3.6 1-3.6 1-1.4 1 1.5 1 1.5 1 2.1 1 2 1 2.1 1 1.2 1 .3 1 .2 1-.1 1 .3 1 .3 1 .3 1-.1 1 0 1-.5 1 0 1-.7 1-1.1 1-1.3 1-1.5 1-1 1-.6 1 .1 1 .2 1 .5 1 .6 1 1.2 1 .5 1 .8 1 .9 1 .7 1 .8 1 0 1 .3 1-.3 1 .1 1-.8 1-1.4 1-3.3 1-3.5 1-.3 1 1.1 1 2 1 1.6 1 1.3 1 1.7 1 .8 1 .7 1 .8 1 .5 1 0 1-.5 1-.3 1-1.2 1-2.4 1-4.2 1-2.9 1-.4 1 1.4 1 2 1 2.2 1 2 1 1.4 1 .8 1 .4 1 .5 1 .2 1-.2 1 0 1-.7 1-.9 1-1.7 1-2.1 1-2.1 1-.7 1 .4 1 .2 1 .6 1 1 1 1.1 1 1.3 1 .9 1 .9 1 .2 1 .8 1 .7 1 .2 1 .1 1 .1 1 0 1 .6 1 .1 1 0 1-.6 1 .2 1 0 1 0 1-1.1 1-2.1 1-3.8 1-2 1 .4 1 .8 1 1.7 1 2.2 1 1.5 1 .9 1 .9 1 .4 1 .6 1 0 1 0 1 0 1 .4 1 .2 1-.3 1 .1 1 .3 1 .3 1-.4 1-1.1 1-1 1-1.8 1-2.3 1-2.7 1-1.5 1 .3 1 .9 1 .9 1 1 1 .7 1 .9 1 1.2 1 1.2 1 1.2 1 .5 1 .4 1 .1 1 .7 1 .5 1-.5 1-.1 1-.4 1 .2 1 .1 1-.5 1 .1 1 0 1 .4 1 0 1-.7 1-1.7 1-3.1 1-3.4 1-1.9 1-.5 1 .6 1 1.2 1 2.3 1 1.6 1 1.9 1 1.3 1 .8 1 .6 1 .3 1 0 1-.1 1-.2 1 .1 1-.1 1 .4 1-.1 1 .1 1-.3 1 .2 1-.1 1-.2 1-.5 1-1.7 1-2.2 1-2.9 1-1.6 1 .2 1 .8 1 1 1 1.3 1 1.4 1 1.6 1 1.2 1 .7 1 .5 1 .2 1 .2 1-.1 1 .2 1 0 1-.2 1 .2 1 .2 1 .5 1-.4 1-.3 1-.4 1-.1 1-.5 1-.5 1-2.6 1-3.3 1-2.9 1-.4 1 .8 1 1 1 1.6 1 1.8 1 1.8 1 1.4 1 1 1 .5 1 .5 1-.1 1 .1 1-.2 1-.1 1 .2 1 .1 1 .3 1-.3 1 0 1-.3 1-.4 1-.7 1-1.5 1-2.2 1-3.1 1-1.4 1 .4 1 .8 1 1.5 1 1.4 1 1.5 1 1.2 1 .8 1 1 1 1 1 .6 1 .4 1-.1 1-.2 1-.1 1 .2 1-.2 1-.4 1-.4 1 .3 1 0 1-.3 1-1.7 1-3 1-3.2 1-1.3 1 .2 1 .9 1 1.4 1 1.8 1 1.2 1 1 1 .9 1 1.2 1 .5 1 .6 1 .2 1-.2 1 .2 1 .2 1 .4 1-.3 1-1.4 1-2.5 1-3.7 1-.6 1 .8 1 1.9 1 2.1 1 1.7 1 1.3" stroke="#7e2f8e" stroke-opacity="0.5" stroke-width="1.35"/><path d="M420.8 955.3l1-2.6 1-1.8 1 .4 1 .7 1 1.2 1 .8 1 1.3 1 .8 1 .8 1 .7 1 .6 1-.1 1 .1 1-.4 1-.1 1 .3 1-.2 1-1 1-2.4 1-4.3 1-1.9 1 .8 1 2 1 2.3 1 2 1 1.7 1 .5 1 .4 1-.2 1 .8 1 .1 1-.2 1-.8 1-1.3 1-3.7 1-4.1 1-1.6 1 .1 1 1.7 1 2.4 1 2.4 1 1.9 1 1.5 1 1.1 1 .2 1 .2 1-.2 1 .4 1-.1 1 .1 1 0 1-.1 1 .2 1-1 1-.6 1-1.7 1-1.4 1-1.6 1-.6 1 0 1 .2 1 .7 1 .5 1 .9 1 .3 1 1 1 .6 1 .8 1 .2 1 .4 1 .4 1 .5 1 .1 1-.7 1-1.5 1-3.7 1-3.8 1-.3 1 .9 1 1.7 1 2.1 1 2 1 1.3 1 .8 1 .5 1 .8 1 0 1 0 1-.3 1-.4 1-1.2 1-2.7 1-4.1 1-2.7 1 .5 1 1.2 1 2.2 1 1.8 1 2 1 1.3 1 .7 1 .9 1 .4 1 .3 1-.2 1 0 1-.4 1-1 1-1.7 1-1.1 1-2.7 1-1.6 1-.3 1 .6 1 .5 1 .7 1 .9 1 .9 1 1 1 .9 1 .8 1 1 1 .9 1 .1 1 .3 1 .1 1 .5 1-.2 1 .2 1-.1 1-.3 1-.2 1-.1 1 0 1-.7 1-2.5 1-4.1 1-3.1 1 .7 1 1.9 1 1.9 1 1.7 1 1.5 1 1.1 1 .9 1 .2 1 .2 1 .2 1 .4 1 .1 1-.2 1-.1 1 0 1 0 1 .4 1-.2 1 0 1-.3 1-.8 1-1.9 1-1.7 1-3.1 1-1.7 1 .2 1 .4 1 1.2 1 1 1 1.9 1 1.1 1 1.2 1 .8 1 .9 1 .5 1 .2 1 .2 1 0 1 .1 1 .1 1-.1 1 .1 1-.2 1-.1 1-.9 1-.1 1 0 1 0 1 .2 1-1 1-1.6 1-2.4 1-3.1 1-1.9 1 .1 1 .7 1 1.5 1 1.3 1 1.8 1 1.6 1 1.1 1 .5 1 .3 1 .5 1 .5 1 .3 1 .1 1 .3 1-.4 1 .4 1-.3 1 .2 1-.2 1-.3 1 .2 1-.7 1 .3 1-1.2 1-1.4 1-3.3 1-1.9 1 .5 1 .9 1 1.4 1 1.4 1 1.1 1 1.2 1 .8 1 1 1 .2 1 .4 1-.1 1 .5 1 .5 1 .2 1-.1 1 .2 1-.3 1-.2 1-.3 1 .6 1 .2 1 0 1-.9 1-1.4 1-2.2 1-3.4 1-2.8 1-1.2 1 .3 1 1.4 1 1.9 1 1.9 1 1.7 1 1.2 1 1.1 1 .8 1 0 1-.1 1 .2 1 .6 1 .1 1 .1 1-.4 1 0 1 .1 1 .2 1 .3 1-.2 1-.9 1-1.9 1-2.1 1-3.9 1-1.9 1 .1 1 1.2 1 1.2 1 1.5 1 1.3 1 1.3 1 1.3 1 .7 1 .8 1 .4 1 .3 1 .3 1-.1 1-.1 1 0 1 .1 1 .2 1-.3 1-.2 1 0 1-.7 1-1.6 1-2.9 1-3 1-1.6 1 0 1 1.1 1 .7 1 1.5 1 1.5 1 1.6 1 1.2 1 .9 1 .3 1 .5 1 .2 1 .1 1 .1 1 .4 1 .1 1 0 1-.4 1-2.6 1-4.6 1-1.5 1 .9 1 2.4 1 2 1 2.2 1 1.1" stroke="#77ac30" stroke-opacity="0.5" stroke-width="1.35"/><path d="M420.8 969.1l1-1.2 1-.4 1 .1 1 .1 1 .2 1 1 1 .6 1 1 1 .6 1 .4 1 .4 1-.1 1 .4 1-.3 1-.2 1 .4 1 .2 1-.2 1-1.8 1-2.9 1-1.5 1 .3 1 1.3 1 1.1 1 1.4 1 .4 1 .5 1 .1 1 .4 1 .2 1-.1 1 .1 1-.1 1-.3 1-2.5 1-2.9 1-.6 1 .3 1 1.1 1 1.6 1 1.1 1 1 1 .4 1 1 1 .3 1 .3 1 .1 1 0 1-.5 1-.4 1 0 1 .6 1-.6 1-.1 1-.6 1-.3 1-1.2 1-1.1 1-.2 1 .1 1-.2 1 .4 1 .3 1 .8 1-.1 1 .3 1 .6 1 .4 1 .3 1 .6 1 .3 1 .1 1-.5 1 0 1-.1 1-2.1 1-2.9 1-.6 1 .7 1 1 1 .8 1 1.6 1 .6 1 1 1-.4 1 .7 1 .4 1 .5 1-.4 1 0 1-1.2 1-1.5 1-2.7 1-1.4 1 .1 1 1 1 1.1 1 1.3 1 1.1 1 .8 1 0 1 .6 1-.2 1 .2 1-.2 1 .1 1-.2 1-1 1-.8 1 .1 1-2.3 1-1.1 1-.7 1 .4 1 .7 1 .8 1 .7 1 .6 1 .6 1 .8 1 .3 1 .7 1 .1 1 .2 1 .4 1 .2 1 .2 1 .1 1 .1 1-.2 1-.5 1 0 1 .2 1 .5 1-.5 1-1.4 1-2.6 1-2 1 0 1 .5 1 1 1 1.6 1 1.5 1 .9 1 .4 1 .3 1 0 1-.2 1 .3 1 .2 1 .1 1-.5 1 .2 1-.1 1 0 1 .2 1-.4 1 .1 1-1.2 1-1.1 1-.2 1-2 1-1.4 1 .3 1 .2 1 .7 1 .3 1 1.1 1 1 1 .5 1 0 1 .4 1 .1 1 .5 1 .2 1 .7 1-.3 1 .7 1-.4 1 .3 1-.8 1-.1 1-.1 1-.2 1 .1 1 .4 1 .4 1-.3 1-1.3 1-2.1 1-2.1 1-.7 1 .1 1 .7 1 .5 1 1.2 1 1.2 1 1.1 1 .5 1 .4 1 .2 1 .2 1 .3 1 .4 1 .4 1 .2 1-.2 1-.4 1-.6 1 .1 1 .3 1 .4 1-.2 1 0 1-.7 1-.7 1 .3 1-2.4 1-1 1-.3 1 .3 1 .1 1 .6 1 .7 1 .9 1 .9 1 .4 1 .2 1 .1 1-.3 1 .2 1 .2 1 .5 1-.1 1 .2 1 .3 1 .1 1-.6 1 0 1 .3 1 .2 1-.9 1-1.1 1-1.8 1-1.4 1-1.4 1-.3 1 .7 1 .7 1 1.1 1 .7 1 1.1 1 .8 1 .9 1-.2 1 0 1-.4 1 .4 1 .1 1 .1 1-.4 1 0 1-.1 1 .1 1 .5 1 .4 1 .1 1-.6 1-1 1-.6 1-3 1-2 1 .2 1 .5 1 1.1 1 .9 1 1.2 1 .6 1 .8 1 .7 1 .8 1-.1 1-.2 1 .1 1 .4 1-.1 1-.5 1 0 1 .3 1 .2 1 .1 1-.3 1-.8 1-.9 1-1.6 1-1.7 1-1.1 1 .3 1 .4 1 .6 1 1.2 1 .7 1 .9 1 .4 1 .8 1 .4 1 .6 1 0 1 .1 1-.7 1 .4 1-.1 1-.4 1 .6 1-1.9 1-2.9 1-.5 1 .4 1 1.3 1 1.2 1 1.3 1 .7" stroke="#4dbeee" stroke-opacity="0.5" stroke-width="1.35"/><path d="M420.8 984.8l1-1 1-.6 1-.1 1 .8 1 .5 1-.3 1 .4 1 .4 1 .3 1-.2 1-.2 1-.1 1 0 1 0 1 .1 1 0 1-.2 1 .1 1-.8 1-1.5 1-1.1 1 .2 1 .7 1 1 1 .4 1 .1 1 .2 1 .2 1 .2 1-.2 1-.3 1-.1 1-.1 1 1 1-1.3 1-1.2 1-.6 1 .5 1 .1 1 .6 1 .8 1 .4 1 .3 1 .5 1 .2 1 .3 1-.3 1 .1 1-.1 1-.1 1-.1 1 .1 1 .1 1-.1 1-.4 1-.4 1-.4 1-.3 1-.5 1 0 1 0 1 .3 1 .1 1 .2 1 .3 1 .4 1 .1 1 .2 1 0 1 0 1-.1 1 0 1 .1 1-.2 1 .6 1-1.1 1-1.4 1 .1 1 .3 1 .8 1 .8 1 .5 1 .4 1-.4 1-.2 1-.1 1 .4 1-.1 1 0 1-.3 1-.3 1-.6 1-1.6 1-1.2 1 0 1 .3 1 1.2 1 1 1 1.1 1 .3 1-.3 1-.1 1 .1 1 .1 1-.2 1-.3 1-.5 1-.1 1-.4 1 1.1 1-1.4 1-.2 1-.3 1 .4 1 .4 1 .7 1 .1 1-.3 1 .1 1-.3 1 .3 1 .3 1 .4 1-.1 1 .3 1 .3 1 .1 1-.2 1-.3 1 .3 1 0 1-.3 1 0 1-.1 1 .1 1-1.1 1-1.3 1-.8 1 .4 1 .8 1 .7 1 .9 1 .7 1 .1 1 .3 1-.3 1 .1 1-.1 1-.1 1-.1 1 .2 1 .5 1 .3 1-.2 1-.2 1-.3 1 .5 1 0 1 .3 1-1 1 .7 1-1.7 1-.7 1 0 1-.2 1-.2 1 0 1 .6 1 .5 1 .1 1 .6 1 .2 1 .1 1 .6 1 0 1 .2 1-.5 1 .2 1-.2 1-.1 1 .2 1 .4 1 .3 1 .1 1-.1 1-.1 1-.2 1-.3 1-.6 1-.8 1-1 1-.4 1-.5 1 .6 1 .1 1 .7 1 .7 1 .4 1 .5 1-.4 1 0 1 .1 1 .6 1 .1 1-.6 1-.4 1-.2 1-.2 1 .3 1 0 1 0 1 .1 1 .1 1 .2 1 .1 1-.4 1 .8 1-1.7 1-.8 1-.2 1 0 1 .5 1 .6 1 .2 1 .4 1 .4 1 .4 1 .3 1-.1 1 .3 1 .1 1 0 1-.3 1-.1 1 .1 1 .2 1-.2 1 .3 1 0 1 .3 1-.4 1-.6 1-.7 1-.6 1-.7 1-1 1-.3 1-.3 1 .4 1 .5 1 .8 1 .3 1 .1 1 .4 1 .2 1 .3 1-.1 1 .4 1 .3 1-.4 1-.3 1 .1 1 .5 1 .4 1 .2 1-.4 1-.7 1-.1 1-.2 1 1.4 1-1.6 1-1.1 1-.1 1 0 1 .1 1-.1 1 .3 1 .9 1 .5 1 0 1 .2 1 .2 1 0 1 .1 1-.3 1 .5 1-.1 1 .7 1 .2 1-.1 1-.5 1-.3 1-.2 1-.4 1-.5 1-.8 1-.3 1 .2 1 0 1 .6 1 .2 1 1 1 .1 1 .5 1 .2 1-.1 1-.2 1-.1 1 .1 1 .2 1 0 1 .1 1 .2 1 .7 1-1.2 1-2.3 1-.8 1 .6 1 .7 1 .8 1-.1 1 .3" stroke="#a2142f" stroke-opacity="0.5" stroke-width="1.35"/><path d="M420.8 997.3l1-.5 1-.2 1 0 1 .2 1-.1 1 0 1-.1 1 .3 1 .2 1 .5 1 .2 1 .1 1-.3 1-.3 1-.1 1-.1 1 0 1 .2 1-.6 1-.3 1-.7 1 .5 1 .1 1 .2 1 .5 1 .1 1 1 1 .1 1 .3 1-.1 1 .2 1 .4 1-.8 1 .8 1-1.2 1-.8 1-.8 1-.2 1 .4 1 .4 1 .4 1 .1 1 .8 1 .1 1-.2 1-.5 1-.2 1 .4 1 .5 1 .3 1-.4 1-.2 1-.4 1 .2 1-.7 1-.3 1 .1 1 .4 1 .2 1 .3 1 0 1 0 1 .2 1-.3 1-.1 1-.4 1 0 1 .3 1 .2 1-.2 1-.3 1 .1 1-.1 1 0 1 .7 1-.5 1-.5 1-.2 1 .3 1 .3 1 .4 1 0 1 0 1 .1 1 .5 1 .3 1-.3 1-.2 1-.5 1 .2 1-.2 1-.1 1-.3 1-.4 1-.1 1 .2 1 .3 1 .4 1 0 1 .3 1-.4 1-.1 1-.2 1 .4 1 .6 1 .2 1-.3 1-.4 1-.1 1 1.6 1-1.3 1-.9 1-.4 1 0 1 .4 1 .2 1 .2 1 .2 1 .1 1-.1 1 .1 1 0 1 0 1 0 1 .1 1 0 1 0 1 .1 1 .4 1-.2 1 .1 1-.2 1 .1 1 0 1-.4 1-.5 1-.5 1-.3 1-.1 1 .5 1 .7 1 0 1 .5 1 .2 1 .6 1 0 1-.3 1 .4 1-.6 1 .4 1-.1 1-.1 1-.3 1 .1 1-.3 1-.1 1 0 1 .5 1-.5 1 0 1 1 1-1.1 1-.6 1-.3 1-.2 1-.3 1 .5 1 .6 1 .6 1 .4 1-.1 1 .1 1 .1 1 0 1-.5 1 .1 1 .4 1 .5 1-.3 1-.3 1-.2 1-.4 1 .1 1-.2 1 0 1 .2 1 .3 1-.2 1-.4 1-.8 1-.2 1-.2 1 .2 1-.2 1 .5 1 .5 1 .3 1 .1 1 0 1 .3 1 .3 1 0 1 .2 1-.1 1 .2 1 0 1-.1 1 .1 1 .1 1 .2 1 0 1-.1 1-.7 1 .1 1 0 1 .1 1 .5 1-1 1-.6 1-.4 1 .2 1 .1 1 .4 1-.6 1 .3 1 0 1 .3 1-.3 1-.4 1 .1 1 .4 1 .3 1 0 1 .2 1 .1 1 .4 1-.4 1 .3 1-.2 1 .1 1 .2 1 0 1-.5 1-.3 1-.5 1-.5 1 .4 1 .1 1 .7 1 0 1 .3 1 0 1 0 1 .3 1-.2 1 .2 1-.2 1 .2 1-.5 1 .1 1-.1 1 .5 1 0 1-.2 1-.4 1 .1 1-.1 1 .5 1-.1 1 1.1 1-1.6 1-.9 1-.2 1-.1 1 .2 1 .6 1 .7 1-.1 1 .4 1 .1 1 .3 1-.3 1 .3 1-.1 1 .2 1-.4 1 0 1-.3 1-.4 1 .1 1 .2 1 .1 1-.1 1-.4 1-.5 1-.3 1 .3 1 .5 1 0 1 0 1-.3 1 .1 1 0 1 .2 1 .3 1 .1 1 0 1 0 1-.2 1 .2 1 0 1 .3 1 .2 1 .6 1-.6 1-1.1 1-.1 1 .2 1 .2 1 .1 1-.4 1-.1" stroke="#d95319" stroke-opacity="0.7" stroke-width="1.35"/><path d="M420.8 1013l1-.2 1 .2 1-.1 1 .2 1 .2 1-.4 1 .1 1-.1 1 .1 1 .2 1 .1 1-.5 1-.3 1 0 1 .4 1-.1 1 .1 1-.2 1 .6 1-.5 1-.1 1-.8 1 .3 1 .2 1 .4 1 .4 1 .2 1 0 1-.1 1-.5 1 .2 1-.3 1 .4 1 .7 1 0 1-.8 1 .2 1-.1 1-.2 1 0 1 0 1 .1 1-.2 1 .1 1-.1 1-.3 1-.6 1 .1 1 .3 1 .4 1 0 1-.3 1-.3 1 .2 1 .1 1 .5 1-.2 1 .2 1-.1 1 .1 1 .1 1 0 1-.1 1-.1 1-.1 1 0 1 0 1 .3 1-.2 1 .3 1-.5 1 0 1-.2 1 .6 1 1.1 1-.3 1-.8 1-.6 1 .1 1 .1 1 .3 1-.2 1-.3 1-.2 1 .4 1 .2 1 .4 1-.2 1-.1 1-.1 1-.2 1 .1 1-.1 1 .2 1 .1 1 0 1 0 1-.1 1-.2 1-.4 1-.3 1 .1 1 .1 1 .4 1 .1 1 .1 1-.2 1-.4 1 .1 1 1.2 1-.5 1-.4 1-.4 1 .1 1 .3 1 .1 1-.1 1-.4 1-.1 1 .2 1 .1 1 .4 1 .1 1-.3 1-.3 1-.1 1 .1 1 .5 1-.1 1 .6 1-.6 1 .1 1-.6 1 .1 1-.1 1-.3 1 .5 1-.3 1 .1 1-.2 1 .4 1 .3 1-.1 1-.3 1 .3 1 0 1 0 1-.5 1 .5 1 .2 1 .1 1-.1 1-.1 1 .4 1-.1 1-.5 1-.5 1-.2 1 .2 1 .6 1 1 1-.7 1-.7 1 .7 1 .1 1-.1 1-.2 1-.1 1-.1 1-.3 1 .2 1 0 1 0 1 0 1-.1 1 .1 1 .1 1-.1 1 .1 1-.2 1 .1 1-.2 1 0 1 0 1 .3 1 .6 1 .3 1 .3 1-.3 1 0 1-.1 1 .3 1 0 1-.2 1-.7 1-.3 1-.1 1 .2 1 .3 1 0 1 .1 1 .2 1-.1 1-.4 1 0 1 .1 1 .1 1-.2 1-.3 1 0 1 0 1 .2 1-.4 1 0 1 0 1 .5 1 1.2 1-1 1-.3 1-.1 1-.1 1 0 1-.2 1 .2 1-.3 1-.2 1 0 1 .2 1 0 1 0 1 .1 1-.2 1 .3 1 .1 1 .3 1-.2 1 .2 1 0 1 .2 1 .1 1 .1 1-.2 1 0 1 0 1 .2 1 0 1 0 1-.1 1-.1 1-.1 1-.1 1 0 1 .3 1 0 1 0 1-.3 1-.5 1-.7 1-.2 1 .2 1 .3 1 .4 1-.1 1-.2 1-.3 1-.1 1-.1 1-.1 1 .4 1 1.7 1-.5 1-.5 1 0 1 .3 1 .2 1 .1 1 0 1-.3 1-.2 1 0 1-.1 1 .1 1 0 1 .2 1-.2 1-.3 1 .3 1-.1 1 .2 1 0 1 .3 1-.2 1 0 1-.4 1 .5 1 0 1 .2 1-.5 1-.1 1-.1 1 .1 1 .2 1 .2 1-.1 1-.1 1 0 1 .2 1 .1 1 0 1-.3 1 0 1 .3 1 .1 1 .5 1-.4 1-.1 1-.1 1 .3 1-.4 1 .2 1-.3 1-.1" stroke="#edb120" stroke-opacity="0.7" stroke-width="1.35"/><path d="M420.8 1026.2l1 .1 1-.3 1-.1 1 .1 1 .1 1 .3 1-.1 1-.3 1-.4 1-.2 1 .2 1 .3 1 0 1-.1 1-.5 1 .6 1 .3 1 .6 1-.3 1 0 1-.4 1 .5 1 0 1 .1 1-.6 1 .3 1 .2 1-.1 1-.1 1 .2 1 0 1 .3 1 .2 1 .9 1 .1 1-.2 1-.2 1-.3 1-.1 1 .1 1-.6 1-.4 1-.2 1 .1 1 .1 1 .4 1-.1 1 .1 1 .2 1 .1 1 0 1 0 1-.1 1-.3 1-.5 1 0 1 .1 1 .6 1-.1 1-.1 1-.2 1 .1 1 .2 1 .4 1 .1 1-.1 1-.5 1-.3 1 0 1-.3 1 0 1 .2 1-.1 1-.1 1 .5 1 .6 1-.5 1 .3 1-.7 1 0 1-.6 1-.1 1 .2 1 .4 1 .3 1-.1 1 .1 1-.1 1 .3 1-.2 1 .2 1 0 1 .2 1-.3 1 .1 1-.2 1 .5 1-.4 1 0 1-.7 1 .2 1 .1 1-.1 1 .2 1 0 1 .2 1 .2 1 .1 1 0 1 .6 1-1.2 1-.3 1 .4 1 .1 1 .2 1 .1 1-.1 1 .2 1-.2 1 0 1-.1 1-.1 1 .2 1-.2 1-.1 1-.5 1 .6 1 .3 1 0 1-.3 1-.4 1 .2 1-.4 1 0 1 0 1 .1 1 .2 1 .4 1 .1 1-.2 1 .4 1 .1 1 .2 1-.4 1-.2 1-.2 1 .2 1 .2 1 .1 1 .4 1-.3 1 .1 1 0 1-.2 1 0 1-.5 1 .6 1-.4 1-.1 1 0 1 1.6 1-.6 1-.2 1 0 1-.5 1-.2 1-.5 1 0 1 .2 1 .1 1 .3 1-.1 1 0 1 0 1-.2 1 .1 1-.5 1 .1 1-.5 1 .5 1-.2 1 .3 1 .1 1-.4 1-.2 1 .1 1 .1 1-.2 1-.2 1 .2 1 .3 1 .5 1-.4 1-.4 1-.1 1 .1 1 .3 1-.2 1-.3 1 .2 1-.1 1 .4 1-.3 1-.6 1-.3 1 .3 1 .1 1 0 1 .4 1 .2 1 .2 1-.4 1 .1 1 .1 1 .2 1-.1 1 1 1-.6 1-.3 1 .5 1-.1 1 .1 1-.2 1-.1 1-.2 1 .3 1 0 1 .8 1-.1 1-.3 1-.5 1-.2 1 .1 1-.3 1 .1 1 .1 1 .4 1-.1 1-.2 1-.3 1 .3 1 .3 1 .6 1-.2 1 0 1-.2 1 0 1 0 1 0 1-.2 1-.1 1 .1 1 .4 1-.3 1 .1 1-.1 1 .4 1 0 1 .1 1 0 1 0 1 0 1-.4 1-.3 1 .2 1 .1 1 0 1 0 1 .1 1 1.5 1-1.1 1-.3 1 .1 1 0 1 .1 1-.3 1 .4 1-.1 1 .1 1-.2 1 0 1 0 1-.2 1 0 1 .2 1-.3 1 .2 1-.1 1 .1 1-.3 1-.4 1 .2 1-.1 1 .1 1-.4 1 .3 1-.2 1-.1 1-.4 1-.2 1-.2 1 .3 1 .1 1 .2 1 .1 1-.3 1 .1 1 0 1 .3 1-.1 1-.1 1 0 1 .1 1 1.5 1 .4 1-.1 1-.1 1-.5 1 .1 1-.5 1 0 1-.3" stroke="#7e2f8e" stroke-opacity="0.7" stroke-width="1.35"/><path d="M420.8 1040.1l1 .4 1 .2 1-.2 1 0 1-.2 1 .3 1 0 1 .2 1 .1 1 .1 1-.2 1-.3 1 .4 1 .2 1 0 1-.6 1-.1 1 .3 1 .1 1 .1 1-.3 1-.1 1 .2 1 .3 1-.1 1-.1 1 .1 1 .2 1 .2 1 .1 1-.1 1-.1 1 0 1 1.3 1-.2 1-.5 1-.4 1-.1 1-.1 1 .1 1 .2 1 .1 1 0 1-.4 1 0 1 .1 1-.2 1-.3 1 .1 1 .4 1 .1 1-.3 1-.4 1 0 1-.1 1 .3 1 .3 1 .5 1-.4 1-.3 1-.4 1 .4 1-.5 1-.4 1-.1 1 .2 1 .3 1 0 1 .3 1 0 1-.1 1-.4 1-.1 1-.1 1 1.1 1-.7 1-.3 1-.3 1-.1 1 0 1-.1 1 .4 1 0 1 0 1-.3 1-.1 1 .4 1 .6 1 .4 1 .2 1-.3 1-.3 1-.2 1-.2 1-.3 1 0 1 .3 1-.3 1 .2 1 .1 1 .5 1 .1 1 .1 1-.2 1-.1 1-.1 1 .3 1 .1 1-.3 1 1.2 1-.4 1 .1 1-.6 1 0 1-.1 1 .7 1-.4 1 .3 1-.2 1 .5 1-.4 1-.3 1 .1 1-.1 1-.1 1-.7 1 .2 1 .1 1 .2 1-.1 1 0 1-.2 1 0 1 .3 1 .4 1 .2 1-.6 1-.3 1-.4 1 .2 1 0 1 .3 1-.1 1 .3 1 .5 1 .2 1-.5 1 .2 1 0 1 .4 1-.2 1 0 1-.1 1-.2 1-.1 1-.1 1-.2 1 0 1 0 1 .1 1 .9 1-.5 1 .2 1-.3 1-.4 1-.5 1 .2 1 .1 1-.3 1-.3 1 .1 1 .3 1-.2 1 0 1 .3 1-.4 1 .3 1-.1 1 .2 1-.1 1 .2 1-.1 1 .4 1-.1 1 .4 1-.3 1 .3 1 0 1-.1 1 .1 1 .4 1 .1 1-.2 1 .2 1-.2 1-.4 1-.4 1 0 1-.2 1 .3 1-.1 1 .1 1-.3 1 .1 1 .2 1 .4 1-.1 1-.2 1-.4 1-.2 1 .5 1-.1 1 .4 1-.2 1 .1 1-.3 1 .9 1-.7 1 .2 1-.5 1-.1 1 0 1 .5 1-.1 1 0 1-.4 1 .1 1-.4 1-.1 1 .4 1 .2 1 .1 1-.2 1-.1 1 0 1-.2 1-.3 1 .1 1-.6 1 .1 1 0 1 .2 1 .1 1-.2 1-.2 1 0 1 .3 1 .2 1 .2 1-.1 1-.2 1 .1 1 .2 1 .2 1-.3 1 .2 1-.1 1 .2 1 .3 1 .3 1 .3 1-.5 1 .3 1 0 1 .2 1-.2 1 .1 1-.2 1 .1 1 1.3 1-.3 1-.8 1-.2 1-.6 1 .2 1-.2 1 .2 1 0 1 0 1-.2 1 .1 1-.1 1 .1 1-.1 1 0 1-.1 1-.2 1-.1 1-.1 1 .4 1 .1 1-.3 1 .1 1 .3 1 .1 1 .3 1 .2 1 0 1-.1 1-.3 1 0 1-.1 1-.1 1 0 1 .4 1-.2 1-.2 1 .1 1 .5 1 .3 1-.3 1-.2 1 0 1 .5 1-.6 1-.2 1-.1 1 0 1-.1 1 0 1 .1 1 .2" stroke="#77ac30" stroke-opacity="0.7" stroke-width="1.35"/><path d="M420.8 1055l1 .2 1-.2 1-.4 1 .2 1 .2 1-.2 1-.3 1-.2 1 .4 1 0 1-.1 1 0 1 .6 1 .3 1 0 1-.5 1 0 1-.1 1 .1 1 .3 1 0 1 .1 1-.5 1 0 1 0 1 0 1-.2 1-.3 1 .1 1 .6 1-.3 1-.3 1 .1 1 1 1 .3 1-.5 1-.2 1-.7 1-.3 1-.1 1 .2 1 .4 1 .2 1-.1 1 .1 1-.1 1 .2 1 .1 1-.3 1-.1 1-.3 1 .3 1 .4 1 .1 1-.7 1 0 1-.2 1 .4 1 0 1 .3 1 0 1 0 1-.2 1-.3 1-.3 1 .1 1 .1 1-.1 1-.1 1 .2 1 .2 1 .3 1 .1 1 0 1 .4 1-.1 1-.2 1-.2 1-.3 1 .1 1-.1 1 0 1-.5 1 .3 1 .4 1-.1 1-.1 1 .1 1 .4 1-.2 1 0 1-.2 1 .4 1 0 1 0 1 0 1 0 1 .2 1-.5 1 .2 1-.7 1 .3 1 .1 1 1 1-.2 1-.1 1-.5 1 .2 1-.3 1 1 1-.6 1-.1 1-.1 1 .3 1 .1 1-.2 1 .2 1-.6 1 .4 1-.2 1-.1 1 0 1 .1 1 .1 1-.1 1 0 1 .2 1 .1 1 .1 1 0 1-.2 1-.1 1-.4 1 .3 1-.2 1 .5 1-.2 1 .3 1 .1 1 .1 1-.3 1-.4 1-.2 1-.2 1 .2 1 .2 1 .1 1-.4 1-.1 1 .2 1 0 1 .2 1 .1 1-.1 1-.4 1 0 1-.2 1 .3 1 0 1-.2 1 1.2 1-.5 1 .1 1-.4 1 0 1 .2 1 .1 1-.3 1 0 1-.1 1 .5 1-.1 1 .2 1 0 1 .2 1-.2 1 0 1 0 1-.3 1-.4 1 .3 1-.3 1 .4 1-.3 1 .1 1-.1 1-.3 1 0 1 0 1-.1 1 0 1-.3 1 .1 1 .2 1 .1 1-.2 1 0 1-.1 1 .5 1 .4 1 .1 1-.5 1-.7 1-.3 1 .6 1 .8 1 .2 1-.1 1-.3 1 .1 1-.1 1 0 1 .1 1-.1 1-.1 1 .4 1 1.2 1-.2 1-.6 1-.4 1-.5 1 .3 1 .2 1-.3 1 .1 1-.3 1 .1 1 0 1 .4 1 .3 1-.5 1 .4 1-.4 1 .2 1-.5 1 .4 1-.1 1-.2 1-.3 1-.2 1 .2 1-.2 1 .1 1-.4 1 .2 1-.1 1 .4 1 0 1 .2 1-.3 1 0 1-.2 1-.3 1 .3 1 .3 1 .3 1-.1 1 0 1 .1 1 0 1-.2 1-.1 1-.1 1 0 1 .3 1-.1 1 .2 1-.1 1 .4 1 .8 1-.3 1-.6 1 .3 1-.1 1 .3 1-.1 1 0 1-.4 1 0 1 .1 1 .6 1 0 1 .4 1-.3 1 .2 1-.8 1 .4 1 .1 1 .5 1-.1 1-.2 1-.3 1-.4 1-.1 1 .2 1 .1 1-.3 1-.2 1 .3 1 .2 1-.1 1 0 1-.3 1 .1 1-.1 1 .1 1 .3 1 .1 1 .1 1 0 1-.2 1-.3 1-.2 1 .6 1 0 1-.1 1-.3 1 .4 1-.2 1-.1 1 0 1 .1" stroke="#4dbeee" stroke-opacity="0.7" stroke-width="1.35"/><path d="M420.8 1068.4l1 0 1 .2 1 0 1 .3 1-.1 1-.1 1-.7 1-.3 1-.1 1 .4 1 .5 1 .3 1 .1 1-.4 1-.3 1 .6 1 .3 1 0 1-.6 1-.1 1-.4 1 .3 1-.2 1-.1 1-.3 1 .3 1 .2 1 .1 1 .2 1 0 1 .3 1-.1 1 .3 1-.3 1 .1 1 0 1 .6 1 .4 1-.2 1-.1 1 .1 1 0 1 .1 1-.5 1-.3 1 .4 1 .4 1 0 1-.1 1-.1 1 .3 1-.1 1-.2 1 .2 1 .1 1 .1 1 .1 1-.4 1 .2 1-.1 1 .6 1-.3 1 .2 1-.3 1-.5 1 .2 1-.2 1 .3 1-.4 1-.1 1-.2 1-.3 1 .1 1 0 1 .5 1-.3 1 .2 1-.1 1 .1 1 0 1 0 1-.1 1 .4 1-.3 1 .2 1 .3 1 .4 1 .3 1-.4 1 0 1-.7 1 .3 1-.3 1 .4 1 .2 1 .1 1 .2 1 .1 1 0 1 0 1 0 1-.4 1 .1 1-.2 1 .3 1-.5 1-.2 1-.2 1 .6 1 .1 1 .2 1-.1 1-.2 1 .1 1-.2 1-.4 1-.2 1-.1 1 .2 1 .1 1 .2 1-.1 1 0 1-.3 1 .3 1 0 1-.3 1-.3 1 .5 1 .3 1-.1 1-.7 1 .7 1 0 1 .5 1-.2 1 .4 1-.6 1 .1 1-.5 1 .4 1-.3 1 .1 1-.1 1 0 1 0 1-.5 1-.2 1-.2 1 .4 1 .1 1 .1 1 .1 1-.2 1-.1 1 0 1 .1 1 .3 1-.1 1 0 1-.2 1-.4 1 0 1 .2 1 .2 1 0 1 .5 1 .3 1 .1 1-.1 1-.1 1-.2 1 .2 1 0 1-.4 1 .1 1-.1 1 .1 1-.4 1-.2 1-.6 1 .1 1-.1 1 .6 1 .2 1 0 1-.3 1-.1 1 .4 1 0 1 .1 1 0 1 .1 1-.6 1-.2 1-.5 1 .2 1 .1 1 .5 1 .3 1 .1 1 .5 1-.3 1 .2 1-.1 1 0 1-.1 1-.1 1 .5 1-.2 1-.1 1 0 1-.1 1 .3 1-.1 1 0 1-.1 1-.3 1 .2 1-.5 1-.6 1 .2 1 0 1 0 1 0 1 .2 1 .6 1-.1 1 .1 1-.6 1 0 1-.1 1 .5 1-.2 1 .1 1-.3 1 0 1-.3 1 .2 1 .1 1 .6 1 .1 1 0 1 .3 1 0 1-.2 1-.5 1-.2 1-.1 1 .2 1 .1 1-.1 1 .1 1-.2 1 .4 1 0 1 0 1 .1 1-.2 1 0 1-.3 1 .2 1-.3 1-.4 1-.4 1 .2 1 0 1 .3 1 .2 1 .2 1-.3 1 .3 1 .3 1 0 1-.5 1-.1 1-.1 1 .7 1 .1 1 .1 1-.5 1 .3 1 .3 1 0 1 0 1 0 1 .2 1 0 1-.2 1 .5 1-.4 1 .2 1-.5 1 .2 1 0 1 .2 1-.1 1 .1 1-.1 1 .1 1 .1 1 0 1-.2 1-.4 1-.1 1-.2 1-.1 1 .6 1-.2 1 0 1-.5 1 .6 1 0 1-.2 1-.2 1-.5 1 .1 1-.1 1 .7 1-.2 1 .1 1 .1" stroke="#a2142f" stroke-opacity="0.7" stroke-width="1.35"/><path d="M420.8 1083.3l1 .2 1-.1 1 .2 1 .1 1 0 1-.4 1-.1 1 0 1 .3 1-.2 1 .1 1-.4 1 .6 1 .2 1 .3 1-.4 1-.8 1 0 1 .4 1-.2 1-.1 1-.2 1 .2 1 0 1-.2 1 0 1 .3 1-.1 1 .2 1-.5 1 0 1-.5 1 0 1 .5 1 .5 1 .4 1-.1 1 0 1-.3 1 .1 1 0 1 .3 1 0 1-.2 1 .2 1 0 1-.3 1 .2 1-.1 1 .4 1 0 1 .1 1 .2 1-.1 1 .1 1-.1 1-.1 1-.1 1-.1 1-.2 1 .1 1-.5 1-.5 1-.4 1 .2 1 .5 1 .5 1-.1 1-.2 1-.3 1 .3 1-.3 1 0 1 .3 1 .4 1 .2 1 0 1-.2 1-.1 1 0 1 .1 1-.2 1-.2 1 .1 1 .4 1 .2 1 .2 1-.1 1 .1 1-.2 1-.1 1 0 1 .3 1 0 1 .2 1-.2 1-.1 1-.2 1-.2 1 .2 1 .2 1 .6 1-.1 1-.1 1-.4 1-.3 1 .1 1 .1 1 .1 1-.5 1-.3 1 0 1 0 1 0 1-.1 1 .3 1 .4 1-.1 1-.1 1 0 1 .2 1-.3 1-.5 1 .2 1 .1 1 .3 1-.5 1-.2 1 .2 1 .8 1-.1 1-.4 1-.5 1 0 1 0 1 .3 1 .3 1 0 1-.2 1 0 1-.3 1 .1 1-.3 1 .5 1 .1 1 .1 1-.4 1-.2 1 .4 1 .3 1 .2 1 0 1-.4 1 0 1 .1 1 .3 1-.5 1-.1 1-.4 1 .4 1-.2 1 .3 1-.9 1-.1 1 0 1 .5 1 0 1-.3 1 .1 1 0 1 0 1-.1 1 .4 1-.1 1 .2 1-.1 1-.1 1 .3 1-.1 1-.1 1-.1 1 0 1 .3 1 0 1 .2 1-.3 1 .1 1-.1 1-.1 1-.2 1-.2 1 .4 1 .4 1 .3 1-.3 1-.3 1 .2 1 .2 1 .1 1-.3 1 .2 1 .5 1-.1 1 0 1-.1 1 .1 1 .4 1-.2 1 .1 1-.5 1 .4 1 0 1 .1 1-.3 1 0 1 .2 1-.1 1-.3 1 .5 1 .1 1-.1 1-.7 1-.2 1 .1 1 .3 1 0 1 .1 1-.4 1-.2 1 0 1 .2 1 0 1-.2 1-.1 1 .2 1 .2 1-.2 1 .3 1 .2 1 .5 1-.3 1 0 1-.5 1 .1 1-.1 1 .4 1 .2 1 0 1 0 1-.2 1-.3 1-.2 1 .2 1 .2 1-.1 1-.6 1 .2 1 .5 1 .5 1-.4 1 0 1-.6 1-.3 1-.1 1-.2 1 .4 1-.1 1-.1 1-.2 1 .3 1 .2 1 0 1-.4 1-.3 1 .1 1-.3 1 .6 1-.1 1 .5 1 .1 1 .4 1 .4 1 .2 1 .1 1-.3 1-.2 1-.1 1 .3 1-.2 1-.4 1-.2 1 .4 1 .1 1-.2 1-.3 1 .2 1-.3 1-.3 1-.2 1 .4 1 .2 1 .1 1 0 1-.3 1-.3 1 0 1 .4 1 .3 1-.5 1-.1 1-.2 1 .5 1-.2 1 0 1 0 1 .3 1 0 1-.1 1 .2 1 .1 1 .1 1-.1" stroke="#0072bd" stroke-opacity="0.7" stroke-width="1.35"/><path d="M420.8 1097.6l1-.2 1-.3 1 0 1-.2 1 .3 1 .4 1-.3 1 .3 1-.2 1 .1 1-.1 1-.1 1 .1 1-.3 1 .3 1 .1 1 .5 1 .2 1-.4 1 .3 1 .2 1 0 1-.3 1 0 1 .1 1 .3 1 .2 1 0 1-.6 1-.5 1 .2 1 .1 1-.1 1-.1 1-.2 1 0 1 0 1 .2 1-.3 1 .1 1 .2 1 .1 1 .1 1 0 1-.3 1-.2 1-.1 1 0 1 0 1 .2 1 .1 1 .3 1 .1 1-.4 1-.4 1-.1 1 .7 1-.1 1 .3 1-.4 1 0 1-.4 1 0 1 .2 1 .2 1 .2 1 .2 1-.2 1 0 1 0 1-.1 1 0 1 .2 1-.1 1-.2 1 0 1 .1 1 .3 1-.7 1 0 1 0 1 .1 1-.3 1 .3 1 .1 1 .4 1-.3 1-.3 1-.1 1-.2 1-.1 1 0 1 .2 1 .1 1 .4 1 .2 1-.1 1-.1 1-.5 1 .2 1-.1 1 .2 1 .2 1-.2 1-.3 1-.1 1-.2 1-.2 1 .1 1 .2 1 .4 1-.2 1-.1 1-.2 1 .4 1 0 1-.2 1-.1 1 0 1 .5 1-.1 1 .4 1 .2 1 .3 1 .5 1-.2 1-.1 1-.3 1 .1 1-.2 1 0 1-.2 1 .3 1-.3 1 .1 1-.4 1 .2 1 .3 1-.1 1 0 1-.2 1 0 1-.5 1 .4 1 .1 1 .2 1-.6 1-.3 1 .3 1-.2 1 .2 1-.1 1 .2 1 .2 1-.2 1-.5 1-.4 1-.1 1 .4 1 0 1 .2 1 .3 1 0 1 .1 1-.4 1-.2 1 .1 1-.1 1 .4 1-.1 1 .3 1-.3 1-.4 1 0 1 .1 1 .1 1-.2 1-.1 1 .2 1 .3 1-.3 1 .2 1 .2 1 .5 1-.5 1-.1 1 .2 1 .2 1 .2 1-.4 1-.3 1-.1 1 .5 1 .4 1 .2 1-.3 1-.2 1 .2 1 .3 1 0 1-.4 1-.2 1-.1 1 .3 1-.1 1 0 1 .3 1 .4 1 .6 1 .2 1-.1 1-.5 1-.3 1-.6 1 .1 1 .3 1 .6 1 .2 1-.2 1-.3 1-.6 1 0 1 0 1 .2 1-.5 1 0 1 .2 1 .1 1-.3 1-.3 1 .2 1 .3 1 0 1-.4 1 .4 1 0 1 .1 1-.2 1 .1 1 0 1-.2 1 .1 1 .2 1 .3 1-.3 1 0 1-.2 1 0 1 .3 1 0 1 0 1-.1 1 .2 1 .1 1-.2 1 .1 1 .2 1-.1 1-.1 1 .1 1 .1 1-.1 1-.3 1-.1 1 .3 1 .2 1 .3 1-.2 1 .3 1 .2 1-.1 1-.5 1 0 1 .1 1 .1 1-.1 1-.5 1-.2 1 .3 1 .3 1-.2 1 .1 1-.4 1 .2 1-.1 1 .6 1-.1 1-.1 1 .1 1 .3 1-.1 1-.1 1 .2 1 .3 1 .1 1 .1 1 .1 1-.2 1 .3 1-.5 1 .2 1-.2 1 .3 1-.4 1 .1 1-.5 1 0 1-.2 1 .4 1 0 1 .3 1-.4 1 0 1-.1 1-.2 1 .3 1-.5 1 .1 1 0 1 .2 1-.5 1-.2" stroke="#d95319" stroke-opacity="0.7" stroke-width="1.35"/><path d="M420.8 1111.9l1-.2 1 0 1-.1 1 0 1 .4 1 .5 1 .2 1-.3 1-.3 1 .1 1 0 1 .5 1-.2 1-.1 1-.1 1-.1 1-.3 1-.1 1-.2 1 .6 1 .2 1 0 1-.6 1-.6 1 .2 1-.4 1 .1 1-.1 1 .7 1 .3 1-.1 1-.1 1-.5 1-.3 1 0 1 .1 1 .5 1 .4 1-.1 1-.1 1 .3 1 .3 1-.1 1-.4 1-.3 1 .3 1-.1 1-.3 1-.3 1 .3 1 .5 1 .2 1 .2 1 0 1-.3 1 .1 1 .2 1-.2 1-.5 1-.4 1 .1 1-.1 1 0 1 .5 1 .1 1-.2 1-.1 1-.1 1 .2 1-.1 1-.1 1-.5 1 .1 1-.2 1 .5 1 0 1-.1 1-.5 1 .1 1 .3 1 .2 1 .2 1-.1 1-.2 1 0 1 .2 1 .2 1-.4 1 .2 1-.1 1-.3 1-.1 1 .3 1 .6 1 .2 1 .1 1-.1 1 0 1 .2 1-.1 1 0 1-.1 1-.2 1-.5 1-.4 1-.2 1 .1 1 .4 1 .4 1 .1 1 .1 1-.5 1 .5 1-.4 1 .6 1-.2 1 .3 1-.2 1 0 1-.3 1 0 1 .2 1-.3 1 .1 1 0 1 .4 1-.5 1-.1 1-.2 1 .2 1 .1 1 .1 1 0 1 .1 1 .1 1-.3 1-.3 1-.4 1 0 1 0 1 .5 1 .1 1 .1 1 0 1-.1 1-.3 1-.2 1 .5 1 .2 1 0 1-.1 1 .1 1-.1 1-.2 1-.2 1-.3 1-.1 1 .5 1 .1 1 .3 1-.3 1 .4 1 0 1 .3 1 0 1 .2 1-.3 1-.4 1-.4 1-.1 1 .4 1 .2 1 .1 1-.3 1 0 1 .3 1 .3 1 .1 1 .1 1-.3 1 0 1-.5 1 .1 1-.3 1 0 1 .3 1 .7 1-.4 1 .2 1-.3 1 .4 1 0 1-.1 1 .2 1 .2 1 0 1-.3 1-.2 1 0 1 .1 1 .1 1-.6 1-.2 1 .1 1 .2 1 .5 1-.5 1 .4 1 .1 1-.1 1-.1 1-.1 1 0 1 .2 1 0 1 .1 1 .1 1-.3 1 .1 1 .1 1 0 1-.4 1 0 1 .1 1 .1 1-.2 1-.4 1 .1 1 .3 1-.1 1 0 1-.1 1 .1 1 .1 1 0 1-.2 1 0 1 0 1 .1 1 .1 1-.2 1 .3 1 0 1 0 1-.5 1 .3 1 .1 1 0 1-.8 1-.2 1-.1 1 .1 1 .2 1 .1 1-.3 1 .4 1 .3 1 .4 1-.1 1 .4 1 0 1 0 1-.3 1 0 1 .3 1 0 1 .4 1 0 1 0 1-.1 1-.4 1-.1 1 .1 1-.5 1-.2 1-.4 1 .5 1-.4 1 0 1 .1 1 .6 1-.2 1 0 1-.2 1 .2 1-.2 1 0 1-.3 1 .3 1 .3 1 0 1-.1 1-.1 1 .1 1-.3 1 0 1-.1 1 .2 1-.1 1 .2 1-.1 1 .1 1 .5 1-.5 1 0 1-.1 1 0 1-.1 1 .1 1 .3 1 0 1-.4 1 .2 1-.1 1 .4 1-.3 1 .3 1-.1 1 0 1-.3 1 0 1-.3" stroke="#edb120" stroke-opacity="0.7" stroke-width="1.35"/><path d="M420.8 1126.2l1 .1 1 0 1-.1 1 .1 1 .2 1 0 1 0 1-.5 1-.1 1 .1 1 .4 1 .4 1-.2 1-.4 1-.2 1-.3 1 .5 1-.4 1 .1 1-.5 1 .2 1 .2 1 .2 1 .1 1-.3 1-.1 1 .1 1-.3 1 .2 1 0 1 .2 1-.2 1-.3 1 0 1 .4 1 0 1-.2 1-.7 1 .3 1 .2 1 .1 1-.1 1-.1 1 .1 1 0 1 .3 1 0 1-.2 1-.5 1 .2 1 .2 1-.1 1-.2 1 .3 1 .5 1 .1 1 .1 1 0 1 .6 1 .4 1 .4 1-.8 1 0 1-.5 1 .6 1 0 1-.3 1-.1 1-.2 1 .1 1-.2 1-.2 1-.3 1 0 1-.3 1-.4 1-.3 1 .6 1-.1 1 0 1-.2 1 .6 1 0 1 .1 1-.3 1 0 1-.3 1-.1 1 .4 1-.1 1 .1 1 .2 1 .3 1 .1 1-.3 1 .2 1-.1 1 0 1-.1 1-.1 1-.2 1 0 1 .5 1 .3 1 .1 1-.4 1-.3 1 .1 1 .4 1 .1 1 .1 1-.1 1 .3 1-.2 1 .1 1-.4 1 .1 1 .1 1 .2 1-.4 1-.2 1 0 1 .1 1 .1 1 .1 1-.2 1 .3 1-.1 1 0 1 0 1-.2 1 .2 1 .2 1 0 1-.2 1-.6 1 .1 1 .4 1 .6 1-.4 1 .1 1 0 1-.3 1 .1 1-.2 1 .7 1 0 1 .2 1-.1 1-.4 1-.3 1 .3 1 0 1 .3 1 0 1-.3 1-.3 1 0 1 .5 1-.2 1 .1 1 .1 1 .3 1-.5 1-.2 1-.2 1 .4 1-.3 1 .4 1-.1 1-.1 1-.3 1-.1 1 .4 1 0 1-.2 1-.2 1 0 1 .4 1 .1 1 .3 1-.1 1 .3 1-.3 1-.2 1 0 1 0 1 .4 1-.2 1 .1 1 .2 1 .6 1-.6 1-.6 1-.2 1 .3 1 .3 1-.4 1 0 1-.3 1 .4 1-.3 1-.4 1-.2 1 .6 1 .2 1 .1 1-.3 1 .3 1-.3 1 0 1 .2 1-.1 1-.1 1-.1 1 .3 1 .6 1-.1 1-.4 1-.3 1 .3 1 .3 1-.3 1-.1 1-.1 1 0 1-.2 1-.2 1 .2 1 .2 1 0 1-.4 1-.4 1 .5 1 .1 1 .1 1-.3 1 .1 1-.5 1 .2 1 .3 1 .3 1-.1 1-.4 1 .3 1 .3 1-.1 1-.3 1 0 1 .1 1 .4 1-.5 1-.3 1 0 1 .1 1 .5 1-.5 1 0 1-.2 1 0 1 .3 1-.1 1 .1 1-.2 1 .1 1-.2 1 .1 1 .3 1 .2 1 0 1-.2 1 .3 1-.1 1 .6 1-.4 1-.2 1-.4 1 .2 1 .1 1 .4 1 0 1 .5 1-.2 1-.4 1 .1 1-.1 1 .4 1-.5 1 .1 1 .5 1 .3 1-.1 1-.4 1 .3 1-.4 1-.5 1-.1 1 .4 1 .2 1-.1 1-.3 1 .3 1 .4 1-.1 1-.5 1-.6 1 .2 1 .5 1 .1 1-.2 1-.3 1 0 1 .4 1 0 1 .3 1-.4 1-.1 1-.3 1 .4 1 .1 1 0 1 0" stroke="#7e2f8e" stroke-opacity="0.7" stroke-width="1.35"/><path d="M420.8 1142.3l1-.6 1-1.1 1 .6 1-.1 1-.9 1-.4 1-.2 1 .1 1 .3 1 .3 1 .5 1-.3 1 0 1-.2 1-.7 1-.5 1-.5 1-.2 1 .3 1 .3 1 .3 1-.8 1 .3 1-.5 1 .3 1 1.1 1-.2 1 .3 1 .3 1-.2 1 1.5 1 .2 1-.2 1-.9 1-.1 1 .3 1 0 1 .3 1 .6 1-1.1 1-.4 1-.4 1 .7 1-.8 1-.4 1 .1 1-.4 1 .5 1-1.2 1 .1 1 .3 1-.2 1-.3 1 .3 1-.2 1 .4 1 .3 1 .3 1 .8 1-.2 1 .4 1-.2 1-.1 1 .4 1 .5 1 .4 1-.4 1 .8 1-.4 1 .8 1-.1 1 0 1 .5 1-.7 1-.3 1 .2 1-.1 1-.1 1 .5 1-.7 1-.4 1-.5 1-.7 1 .2 1-.6 1 .2 1 0 1-.1 1 0 1 .9 1-.6 1 .1 1 .7 1-.3 1-.2 1 .4 1 .4 1 .9 1-.1 1-1.4 1 1.1 1 .4 1 .4 1 0 1 .1 1-.1 1 .1 1-.4 1 .9 1-.4 1-1.2 1 .3 1-.7 1-.5 1-.1 1 .6 1-.7 1-.2 1-.9 1 .7 1 .6 1-.1 1 .7 1 .1 1 .7 1-.2 1 .3 1 0 1-.4 1-.7 1 .6 1 .4 1 .3 1 0 1 .1 1-.1 1 .1 1 .9 1-.2 1-.5 1-.8 1 .9 1-.2 1-1.2 1-.3 1-.5 1-.2 1-.3 1 .6 1-.2 1 .2 1-1.3 1 .2 1-.1 1 .5 1-.1 1 .3 1 .4 1 .2 1-.8 1 .3 1 .6 1-.5 1 .5 1 1.1 1 .8 1-.1 1-.4 1-.9 1 0 1 0 1 .2 1 1.2 1 .8 1-.2 1-.9 1-.2 1 .7 1 .8 1-.6 1-.2 1 .3 1-.1 1 .4 1-1.2 1-.3 1-1.1 1 .4 1 .1 1 .2 1-.5 1 .2 1 0 1-1.4 1-.9 1 .4 1 .6 1-.2 1-1.1 1-1.1 1 .4 1-.4 1-.4 1 .1 1 .6 1 .5 1-.1 1-.8 1-.2 1-.5 1-.1 1-.2 1 .3 1 .5 1 .8 1 .2 1-.4 1 .4 1 .1 1 1 1 .3 1-.3 1 .4 1 .3 1-.6 1-.4 1 .1 1 1 1-.3 1 .7 1 .7 1 .5 1 .3 1-.1 1-.4 1 .3 1 .5 1-.6 1 .3 1 .5 1-.5 1-.9 1 .4 1 1.4 1-1 1 1 1 .4 1 .1 1-.5 1 .2 1-.7 1-.2 1-.2 1-1 1 .4 1 .1 1-.5 1-.4 1-.3 1-.1 1 .4 1 .6 1 .4 1-.2 1-1 1 .3 1-.2 1 .1 1 .8 1-.3 1 .4 1 .3 1 .2 1 .4 1 .2 1-.7 1-.4 1 .5 1 .3 1 .8 1-.6 1-1.1 1 .2 1-.1 1 0 1-.1 1-.5 1 0 1-1 1-.4 1 .3 1-.9 1-.1 1-.5 1 .2 1 0 1-.3 1 .6 1-.9 1 .1 1 .2 1 .7 1 .1 1 .3 1-.1 1 .7 1 .8 1 0 1 .9 1 .6 1 .7 1-.5 1 .6 1 0 1-.5 1-.2 1 0 1-.1 1 .1 1-.2 1 .4 1-.1" stroke="#77ac30" stroke-opacity="0.7" stroke-width="1.35"/><path d="M420.8 1153.3l1 .5 1 .9 1 .3 1-.1 1-1 1-.4 1-1 1 .8 1-.1 1 .2 1 .8 1-.2 1 .3 1-.6 1-.5 1-.1 1 1.6 1-.1 1 .6 1 .3 1 .1 1-.2 1-.6 1 .5 1 .1 1 .5 1 .6 1 .2 1-1.1 1-.1 1-.5 1-.8 1 .2 1-.6 1-.4 1 .7 1 1.4 1 .4 1-.1 1 0 1 .5 1-.7 1-.6 1-.2 1-.2 1-.4 1 .2 1-1 1 .5 1 .9 1 .1 1 0 1 0 1-.7 1-.8 1 .2 1 .3 1-1.2 1 0 1 .2 1-.3 1 .3 1 1 1 .4 1 .3 1-.2 1-.2 1-.3 1 .2 1-.4 1-.4 1 .5 1 .3 1 .4 1-.5 1 1.4 1 .1 1-.5 1 1.2 1-.5 1 .6 1 0 1-.8 1-.2 1-.9 1-.1 1 .1 1 1 1 .4 1 .1 1 .2 1-.1 1-.2 1-.2 1 .3 1 .8 1-1.6 1-.4 1 0 1-.1 1-.3 1-.4 1-.6 1-.3 1-.5 1 .1 1 .5 1-.9 1-1.1 1-.4 1 .2 1-.2 1-.3 1 .7 1-.3 1 .2 1-.3 1 1.5 1 .8 1 .1 1-.2 1-.7 1 0 1-.5 1 .7 1-.2 1-.2 1-.1 1 0 1 .5 1 .8 1 0 1 .1 1 .2 1-.1 1 .4 1-.3 1 .2 1-.9 1-.8 1 .3 1 .7 1 .6 1-.1 1 1.6 1-.4 1-.3 1 .4 1 .7 1 .9 1 1.1 1-.4 1 0 1-.5 1 .3 1-.8 1-1 1 0 1-.4 1 .5 1 .7 1 .3 1-.8 1 .5 1-.2 1-.7 1-.7 1 1.3 1 .7 1-.7 1-1.4 1-.4 1 .4 1 1 1 0 1-.2 1 1.6 1 .7 1-1 1-.7 1 0 1 .2 1-.5 1-.6 1-.7 1 1.5 1-.1 1-.4 1 .2 1-.9 1 .9 1 .5 1-.3 1 .2 1 .1 1 .1 1 0 1-.2 1-.4 1 1.3 1 .7 1 .8 1-.2 1 .1 1 .1 1 .1 1-1.1 1 .6 1 .4 1-.6 1 .1 1-.1 1-.2 1 0 1-1.5 1-.3 1-.3 1 .8 1-.1 1 .5 1-1.3 1-1.3 1-.3 1-.5 1 0 1-.8 1 0 1 .8 1-.1 1 .1 1 .3 1 .2 1 .4 1-.1 1-.4 1 .7 1-.2 1 .2 1 .1 1-.2 1 .2 1 .8 1 .9 1 .2 1-.5 1-.1 1 1.1 1-.2 1 .9 1-.7 1 .5 1-.1 1-.3 1-.5 1-.1 1 .2 1-.4 1-.1 1 .4 1 .1 1 .1 1-.3 1 .2 1 0 1-.5 1-.2 1-.3 1 .5 1 .4 1-.7 1 .6 1-.2 1-.4 1-.2 1-.1 1 .1 1 .4 1-.6 1-.6 1-.5 1-.3 1-.9 1 .8 1 0 1-.2 1-.3 1 .6 1-.2 1-.5 1-.9 1 .3 1 0 1 .4 1 .5 1-.2 1-.2 1-.3 1 .2 1 .2 1 .2 1 .2 1 0 1-.3 1-.4 1 .5 1 .7 1-.5 1-.2 1 .5 1 .2 1 .5 1 0 1 0 1 0 1-.4 1 0 1 .4 1 .3 1 .2 1-.2 1-.3 1 .1" stroke="#4dbeee" stroke-opacity="0.7" stroke-width="1.35"/><path d="M420.8 1168.9l1 .2 1-.4 1 .3 1-.2 1 .2 1-.7 1-.2 1 .2 1 .3 1 0 1-.4 1-.3 1-.2 1 .5 1 .1 1 .1 1-.7 1 .3 1-.3 1 .4 1-.3 1-.2 1-.2 1 .9 1 .3 1 .2 1-.4 1 .2 1 .3 1 0 1-.2 1-.3 1 0 1 .1 1 .1 1 .1 1 .1 1-.2 1-.1 1 .1 1 .2 1 .1 1 .2 1-.1 1-.1 1-.1 1-.4 1 0 1-.4 1 .3 1-.2 1 .4 1-.4 1 .6 1-.2 1 .3 1-.6 1 .3 1 .3 1 .2 1-.7 1-.2 1 .1 1 .1 1 0 1-.3 1 0 1-.2 1 .2 1 .2 1 .2 1-.3 1-.2 1 .3 1-.1 1 .2 1-.1 1 .3 1-.1 1-.1 1-.4 1 .4 1-.1 1 .3 1 0 1 .1 1 .1 1-.2 1 .1 1-.3 1-.1 1-.1 1 .4 1 .2 1-.4 1-.2 1-.2 1-.1 1 .2 1 .3 1 .3 1-.1 1 .3 1 0 1-.3 1-.1 1-.5 1-.3 1-.5 1 .2 1-.1 1 .1 1 .3 1 .2 1 .1 1-.2 1 .1 1 .3 1 .2 1 0 1 0 1-.1 1-.1 1-.2 1 .1 1 0 1 .4 1-.1 1-.1 1 .1 1-.1 1 0 1-.5 1 .1 1 .1 1 .1 1 .3 1 .5 1 .3 1-.4 1-.2 1-.1 1-.1 1-.1 1-.5 1 .2 1 0 1-.1 1 0 1 .3 1 .2 1 0 1-.3 1 .2 1-.2 1 .1 1-.2 1 .5 1-.1 1-.4 1-.3 1 .1 1 .4 1 .1 1 0 1 .3 1 .1 1 0 1 .2 1 .4 1-.1 1 .1 1-.2 1 .1 1-.1 1-.1 1 .3 1 .2 1 0 1-.2 1 0 1-.6 1-.1 1-.2 1 .4 1-.1 1 .1 1-.6 1 0 1 .2 1 0 1 .2 1-.3 1 .2 1-.2 1-.1 1 0 1 .3 1 .2 1 .2 1 .2 1-.1 1 0 1-.1 1-.2 1 .3 1-.2 1 .4 1 0 1-.1 1-.5 1 0 1 .2 1 .3 1-.4 1-.2 1-.1 1 .4 1 0 1 .2 1-.5 1-.1 1-.7 1 .2 1 .3 1 .1 1 .3 1 .3 1 .6 1 0 1-.3 1-.3 1-.3 1-.1 1 .1 1 .1 1 .1 1-.1 1 .1 1 0 1-.1 1-.1 1 0 1 .2 1-.2 1 0 1-.3 1 .3 1-.2 1 .1 1-.1 1-.1 1 .6 1 .3 1-.1 1-.1 1 .3 1 .5 1-.1 1-.3 1-.2 1-.2 1-.2 1-.1 1-.2 1 0 1-.1 1 .3 1 .2 1-.3 1-.2 1 0 1 .5 1 .2 1-.2 1-.3 1 .3 1 .3 1-.1 1-.2 1 0 1-.4 1 0 1-.2 1 .3 1 0 1 .3 1-.3 1-.3 1-.3 1 .3 1 .2 1-.2 1-.1 1-.1 1 .1 1-.2 1 .1 1 .1 1-.1 1 .1 1-.4 1 .5 1-.3 1-.1 1-.2 1 .1 1 .5 1 .2 1 0 1-.1 1 .2 1 .2 1 .2 1 0 1 .2 1-.2 1-.1 1-.1 1 .2 1 .2 1-.2" stroke="#a2142f" stroke-opacity="0.7" stroke-width="1.35"/><path d="M420.8 1182.7l1 .3 1-.2 1 0 1 .1 1-.2 1-.2 1-.2 1-.1 1 0 1 .1 1-.3 1 0 1-.4 1 .4 1 0 1 .5 1-.7 1-.1 1-.2 1 .3 1 0 1-.3 1 0 1 .2 1 .2 1 .3 1 0 1-.1 1 .1 1-.3 1 .3 1-.1 1 .3 1-.3 1 .3 1 .2 1 .3 1-.4 1-.1 1-.1 1 .3 1 .2 1-.2 1 0 1-.1 1 .6 1-.3 1-.2 1-.2 1 .4 1 0 1 .1 1 .1 1 .1 1 .3 1 0 1 0 1-.6 1 .2 1-.4 1 .2 1-.4 1 .3 1-.2 1 .2 1-.2 1 .1 1-.4 1 .2 1 0 1 .3 1-.4 1 .4 1-.1 1 .2 1-.5 1 0 1 0 1 .4 1 .3 1-.1 1 .3 1 .1 1 .1 1-.5 1-.1 1 .2 1 .4 1-.2 1-.3 1 0 1 .2 1 .5 1-.4 1-.3 1 .2 1-.1 1 .1 1-.4 1-.2 1 .1 1 0 1 0 1 .1 1 .2 1 .2 1 .1 1-.3 1 0 1-.1 1-.2 1-.3 1 0 1 .1 1 .5 1 .2 1-.2 1-.3 1-.2 1 .1 1 0 1 0 1 .3 1 .2 1 0 1-.5 1 0 1-.4 1 .2 1 .1 1 .4 1 .1 1 0 1-.1 1-.1 1 0 1 .2 1 .1 1 0 1-.2 1 .3 1-.4 1 .3 1-.2 1 0 1 .2 1 0 1-.1 1-.4 1-.1 1 .4 1-.2 1 .3 1-.2 1 .1 1-.2 1 .3 1 .1 1 .3 1-.5 1-.4 1 .2 1 .2 1-.1 1-.3 1 .1 1 .2 1-.1 1-.1 1-.1 1 .1 1 0 1 .1 1-.1 1 0 1 0 1 .3 1 0 1 0 1-.1 1 .1 1 .1 1-.1 1-.2 1 .4 1 .2 1 .2 1-.3 1-.3 1 0 1 0 1 .1 1 0 1-.2 1 0 1-.1 1 .2 1-.2 1 .3 1 .3 1 0 1-.5 1-.3 1 0 1 .4 1 .2 1 0 1 .1 1 .3 1 .1 1 .3 1-.7 1 0 1-.1 1 0 1 0 1-.2 1 0 1-.3 1-.2 1 .2 1 0 1 .2 1 .3 1 0 1-.1 1-.5 1-.3 1 0 1 0 1-.1 1 0 1-.3 1 .4 1 .3 1-.1 1-.4 1 0 1 .2 1 .4 1-.4 1 0 1 .1 1 .3 1-.1 1 .1 1-.3 1 .1 1-.2 1 .2 1-.1 1-.5 1 .3 1 .1 1 .3 1 0 1 .3 1 0 1-.1 1 .2 1 .1 1 0 1-.5 1 .3 1 0 1 .1 1-.4 1-.4 1 .7 1 .1 1 .1 1-.1 1-.1 1-.2 1-.2 1-.3 1 .1 1 .1 1 .3 1-.3 1-.3 1-.1 1 .4 1 .3 1-.1 1-.1 1-.5 1-.1 1 .2 1 .4 1 .5 1 .1 1-.2 1-.4 1 0 1-.1 1 .6 1 .2 1-.1 1 0 1-.2 1-.3 1-.1 1 .1 1 .4 1 .1 1-.1 1 .2 1-.5 1-.1 1-.1 1 .4 1 .2 1 .1 1-.3 1-.2 1-.4 1 .3 1 0 1 .4 1 0 1 0" stroke="#0072bd" stroke-opacity="0.7" stroke-width="1.35"/><path d="M420.8 1196.3l1 .1 1 .1 1 .2 1-.4 1-.1 1-.4 1 .1 1-.1 1 .7 1 .1 1-.1 1 0 1 0 1 .1 1 .1 1 .1 1-.1 1-.1 1-.2 1 .5 1 0 1 .3 1-.2 1 .1 1-.3 1 .2 1 0 1 .1 1-.1 1-.1 1-.2 1 .2 1 .1 1 0 1-.3 1-.1 1 0 1 .5 1 .2 1 .7 1 .1 1-.1 1-.7 1-.3 1 0 1 .2 1 .1 1-.1 1-.2 1-.3 1 .3 1 .2 1 0 1-.1 1-.1 1 0 1 .2 1 .4 1-.1 1-.5 1-.6 1-.3 1 .3 1 .3 1 .4 1-.1 1 .1 1 0 1 .4 1 .1 1-.1 1-.8 1 0 1 .3 1 .1 1-.1 1-.1 1 .2 1-.1 1-.4 1 .3 1 0 1 .2 1-.3 1 .2 1 .2 1 .2 1-.3 1 0 1-.3 1 0 1 .3 1 .2 1-.1 1-.4 1 0 1-.3 1 .2 1 .3 1 .2 1 .1 1-.3 1 0 1-.5 1 0 1 0 1 0 1-.1 1 .3 1-.3 1 0 1 .3 1 .2 1 0 1-.6 1 .2 1 .1 1 .4 1 .3 1-.3 1 0 1 0 1-.1 1-.3 1 .2 1 .1 1-.1 1 .1 1 .2 1 .4 1 0 1-.3 1-.4 1-.6 1 .1 1-.2 1 .5 1-.5 1 .6 1-.1 1 .1 1 .2 1-.3 1 .4 1 0 1 .6 1-.3 1 0 1-.7 1 .2 1 0 1-.1 1 .3 1-.2 1-.2 1 .1 1 0 1 .5 1-.2 1 .1 1 .1 1 .1 1-.4 1-.4 1 .1 1 .1 1 .1 1-.1 1 .3 1 .1 1-.3 1-.4 1 .5 1 .2 1 .2 1 .1 1 .3 1-.1 1-.4 1-.1 1-.3 1 .4 1-.1 1-.3 1-.2 1 0 1 .2 1-.1 1 .1 1-.1 1 0 1 .2 1-.1 1 0 1-.4 1 .1 1 .4 1 .2 1 .4 1-.2 1-.3 1 .2 1-.1 1 .1 1 .1 1 .1 1 0 1-.1 1 .1 1 .2 1-.3 1-.2 1-.4 1 .1 1 0 1 .7 1 .7 1-.1 1-.6 1-.5 1 0 1-.2 1 .1 1-.3 1 .1 1 0 1 .3 1-.2 1-.2 1 .1 1 .2 1 .4 1-.1 1-.2 1-.4 1-.1 1-.3 1 0 1 0 1 .3 1 0 1 .5 1 .1 1 .3 1 0 1 0 1 .1 1 .3 1 0 1-.1 1-.4 1 0 1-.3 1 .1 1-.2 1 .1 1 .2 1 .4 1 .1 1-.1 1-.5 1-.3 1-.3 1 .8 1 .3 1 .2 1-.3 1 .3 1-.3 1 0 1-.4 1-.1 1-.4 1-.2 1-.2 1 .4 1 .1 1 .1 1-.1 1-.1 1 .5 1-.2 1 .3 1-.1 1 .1 1-.1 1-.3 1 0 1-.2 1-.4 1-.2 1-.2 1 .1 1 .7 1 0 1 0 1-.5 1-.2 1-.1 1 .1 1 .5 1 .1 1-.3 1-.4 1-.1 1 .1 1 0 1 .2 1 .1 1 .4 1 .2 1-.3 1-.1 1 .2 1 .2 1 .3 1 .1 1 .2 1-.1 1 0 1 .1 1 .1" stroke="#d95319" stroke-opacity="0.7" stroke-width="1.35"/><path d="M795 902.1l1-.3 1 .2 1 0 1 .2 1-.4 1-.3 1-.3 1 0 1-.3 1-.2 1-.2 1 .2 1 .1 1 .4 1-.2 1 0 1-.5 1-5.6 1 2.6 1 1.9 1-1 1-.9 1-.7 1 .1 1 .5 1 .1 1 .5 1 .5 1 .7 1 .1 1 .3 1-.4 1 .5 1 .1 1 .3 1 .3 1 0 1-.2 1-.2 1 .4 1 .3 1 .3 1-.1 1 .2 1-.5 1-1.7 1-1.4 1 .1 1 .5 1 0 1 .7 1 .3 1 1.2 1 .1 1 .5 1 .1 1-.1 1-.1 1 0 1 0 1 .2 1-1 1-2.1 1-2.2 1 .9 1 .6 1 .9 1 .3 1 .3 1 .1 1 .6 1 .1 1 .6 1 .3 1 .3 1 .5 1 0 1-.1 1-.1 1 .2 1 .4 1 0 1-.1 1-.1 1-.4 1-.1 1-.1 1 .5 1 .2 1-1.7 1-3.5 1 4.9 1-.4 1-1.8 1-1.7 1-.1 1 .3 1 .6 1 0 1 .4 1 0 1 .8 1-.1 1 .5 1 .3 1 .7 1 .1 1 .2 1 .6 1 .1 1 0 1-.4 1 .2 1 .1 1 0 1-.2 1 0 1 .1 1 .7 1-.2 1 0 1-.4 1-.6 1-1.4 1-2.3 1-.5 1 .5 1 .3 1 .6 1 .1 1 .4 1 .3 1 .5 1 .2 1-.1 1 .2 1 .6 1 .2 1 .1 1-.4 1-.3 1 .1 1-.2 1 .7 1-.5 1 .3 1 .2 1 .3 1 0 1-.1 1 .4 1 .1 1-.1 1-.1 1-2.2 1-3.9 1 5.2 1 .2 1-1 1-1.5 1-.3 1 .2 1 .8 1 .1 1 .4 1-.1 1 .3 1 .1 1-.2 1 .3 1 .2 1 .4 1-.4 1-.2 1 .3 1 .3 1 0 1-.4 1-.5 1-.9 1-1.1 1-.2 1 .8 1 .4 1 .6 1-.1 1 .7 1-.1 1 .4 1 0 1 .1 1 .4 1 0 1 .2 1-.3 1-.5 1-1.1 1-1.4 1-1.3 1 .9 1 .2 1 .7 1 .6 1 .5 1 .5 1 0 1 .4 1 .2 1 .4 1 .3 1 .4 1 .2 1 .3 1 .1 1 0 1-.4 1-.1 1 .1 1 .3 1 .3 1 .1 1 0 1-.2 1 .1 1 0 1 .3 1-.4 1 .1 1-.2 1 .1 1-2.7 1-3.5 1 4.6 1-.6 1-1.3 1-.6 1-.1 1 .6 1-.2 1 .7 1 .5 1-.3 1-.2 1 .6 1 .9 1 .6 1-.2 1 .2 1 0 1 .5 1 .1 1-.2 1-.2 1 0 1 .2 1 .4 1 .4 1 .2 1 .2 1 0 1-.3 1-.5 1-.8 1-2 1-2.5 1-.8 1 1.2 1 1.4 1 .5 1 .1 1 .1 1 .4 1 .7 1 .6 1 .4 1-.1 1-.3 1 .2 1 .3 1 .4 1-.1 1 .6 1 .3 1 .2 1-.3 1-.3 1 0 1 .4 1-.1 1 0 1-.5 1 0 1 .2 1 .1 1-.3 1 .1 1 .5 1 .3 1-.2 1 0 1-.1 1-.2 1-5.8 1 2.9 1 2.3 1-1.3 1-1.6 1-1.3 1 .6 1 .9 1 .3 1-.1 1 .4 1-.2 1 0 1 0 1 .3 1 .3 1 .6" stroke="#0072bd" stroke-opacity="0.7" stroke-width="1.35"/><path d="M795 916.8l1 .2 1 .2 1-.2 1-.2 1-.5 1 .3 1-.1 1 .4 1-.1 1-.2 1 .2 1-.2 1 0 1 .1 1 .3 1 .1 1-.3 1-8.7 1 4.4 1 3 1-1.5 1-2.4 1-1.3 1 .7 1 .4 1 .8 1 .4 1 .9 1 0 1 .5 1 0 1 .6 1 0 1 .5 1-.1 1 .6 1 .5 1 0 1 .2 1 .2 1 .4 1 .4 1-.3 1-.5 1-1.3 1-2.2 1-2 1 .1 1 .7 1 1 1 .6 1 1 1 .5 1 .6 1-.1 1 .5 1-.1 1 .2 1 .2 1-.2 1-.6 1-2 1-3.2 1-2 1 .8 1 1.2 1 .5 1 .5 1 .6 1 .5 1 .7 1 .8 1 .4 1 .3 1 .2 1 .6 1 .5 1 0 1-.2 1-.3 1 .8 1 .5 1 .6 1-.2 1 .2 1-.1 1-.1 1-.3 1 0 1-3.4 1-5.7 1 8.5 1-.7 1-2.1 1-2.4 1-.2 1 0 1 .8 1 .4 1 .4 1 .6 1 .3 1 .9 1 0 1 .2 1 0 1 .4 1 .4 1-.1 1 .1 1 .2 1 .4 1 .1 1 .2 1-.3 1-.1 1 .1 1 .6 1-.2 1 .2 1-.4 1 .1 1-1.7 1-2.5 1-3.6 1-.7 1 .8 1 1.2 1 1 1 1 1 .4 1 .5 1 .3 1 .6 1 .5 1 .1 1 .4 1-.3 1 .4 1 .2 1 .3 1 .2 1 .3 1 .1 1 .5 1-.2 1 .4 1 .1 1-.2 1-.1 1 .3 1 .1 1-.2 1 .3 1-3.5 1-6.6 1 8.1 1 0 1-2.2 1-2 1-.7 1 1.3 1 .8 1 1.1 1 .8 1 .3 1 .5 1 .1 1 .3 1 .1 1 .4 1 .3 1 .1 1 .3 1 .2 1 .2 1-.2 1-.6 1-.8 1-2.2 1-2.6 1-.6 1 1.1 1 .8 1 .9 1 .5 1 .7 1 .7 1 .4 1 .5 1 .7 1 .3 1 0 1 0 1 0 1-.9 1-2.1 1-3 1-1.5 1 .9 1 1 1 .8 1 .9 1 .3 1 .8 1 .1 1 .5 1 .2 1 .4 1 .5 1 .5 1 .1 1 .1 1 .1 1-.2 1 .1 1 .2 1 .4 1-.1 1 0 1 .1 1 .4 1-.2 1-.4 1 .4 1-.1 1 .4 1-.1 1 0 1-.2 1-4.4 1-4.4 1 7.7 1-.9 1-2.6 1-1.8 1-.2 1 1.1 1 .2 1 .7 1 .5 1 .6 1 .2 1 .3 1 .8 1 .4 1 .2 1-.3 1 .4 1 .6 1 .1 1-.3 1 .4 1 .2 1 .2 1 .2 1 .1 1 .2 1 .1 1 .2 1 .2 1-.5 1-1.3 1-3.5 1-3.4 1-.9 1 1.5 1 1.5 1 .5 1 .8 1 .7 1 .9 1 .2 1 .4 1 .8 1 .6 1-.1 1 .1 1 .1 1 .2 1-.1 1 .3 1 .3 1 .2 1 .1 1-.4 1-.2 1 0 1 .3 1 .5 1 0 1-.3 1 .1 1 .3 1 .2 1-.3 1-.2 1 0 1 .1 1 .3 1 .3 1-.7 1-8.8 1 4.3 1 3.7 1-2 1-2.6 1-1.4 1 .6 1 .8 1 .6 1 .9 1 .3 1 .2 1 .3 1 .2 1 .4 1 .6 1 .1" stroke="#d95319" stroke-opacity="0.7" stroke-width="1.35"/><path d="M795 937.9l1-.3 1-.6 1 0 1 .4 1-.2 1 .2 1-.2 1 .1 1 0 1-.4 1 .3 1-.2 1 0 1 0 1 .2 1 .1 1-1.4 1-22.4 1 11.3 1 9 1-4.3 1-5.9 1-4 1 1.6 1 1.8 1 1.5 1 1 1 .9 1 1.4 1 1.4 1 1.3 1 .6 1 .7 1 .8 1 .4 1 .6 1 .5 1 .5 1-.2 1 .4 1 .3 1 .3 1 .1 1-1.5 1-3.5 1-6.1 1-5.5 1 .8 1 2.1 1 2.1 1 2.2 1 1.6 1 1.3 1 1.1 1 1.2 1 1 1 .4 1 0 1 .6 1-.3 1-1.6 1-5 1-7.5 1-4.9 1 2.5 1 3.3 1 2.1 1 2 1 1.6 1 1.9 1 1.3 1 1.2 1 .8 1 .6 1 .7 1 .2 1 .8 1 .5 1 .8 1 .4 1 .7 1 .1 1 .6 1-.2 1 .5 1-.1 1 .2 1-.2 1 .1 1-8.8 1-17.2 1 22.5 1-.9 1-5.4 1-5.6 1-.8 1 2 1 1.7 1 1.6 1 1 1 1.5 1 .7 1 1.9 1 .2 1 .9 1 .2 1 .9 1 1 1 1.1 1 .3 1 .3 1 .4 1 .2 1 0 1 .4 1 .3 1 .2 1 0 1-.2 1 .2 1-.1 1-.9 1-3.4 1-8.2 1-8.7 1-2.3 1 3.9 1 3.1 1 2 1 1.7 1 1.9 1 1.6 1 1.5 1 1 1 1.2 1 .7 1 1 1 .5 1 .1 1 .3 1 .3 1 .8 1 .4 1 .3 1-.2 1-.2 1-.1 1 .9 1 .1 1-.1 1-.3 1 .4 1 .3 1 0 1-8.9 1-17.3 1 22.6 1-1.1 1-5.8 1-5.6 1-1.5 1 2.3 1 1.5 1 2.2 1 1.8 1 1.7 1 1.1 1 .9 1 .7 1 .7 1 .8 1 .5 1 .3 1 .6 1 .2 1 .3 1 .1 1-.5 1-2.6 1-6.2 1-5.8 1-1 1 2.2 1 1.7 1 1.9 1 2.1 1 1.5 1 1.3 1 1 1 .6 1 1.1 1 .5 1 .7 1 .7 1 0 1-1.6 1-5.1 1-8.2 1-5.4 1 2.9 1 2.7 1 2.5 1 2 1 2 1 2.1 1 1.4 1 1.3 1 1 1 .9 1 .7 1 .7 1 .7 1 .8 1 .2 1 0 1 .1 1 .6 1 .1 1 .2 1 .3 1-.1 1 .2 1-.5 1 .2 1-.1 1-.1 1-.2 1 .2 1-.1 1-.3 1-11.8 1-12.1 1 21.4 1-1.8 1-5.8 1-5.4 1-1 1 1.9 1 1.8 1 1.9 1 1.4 1 1.1 1 .8 1 .8 1 .8 1 .6 1 1.1 1 .6 1 .5 1 .4 1 .4 1 .5 1-.1 1 .2 1 .5 1 .5 1 .1 1 0 1 .3 1 0 1-.1 1-1.1 1-3.3 1-7.6 1-8.3 1-2.7 1 3.6 1 2.5 1 2.8 1 2.3 1 2 1 1.5 1 1.5 1 1.1 1 .9 1 .7 1 .7 1 1.1 1 .7 1 .4 1 .5 1 .5 1 .3 1-.1 1-.1 1 .4 1 .7 1-.2 1 .4 1-.5 1 0 1-.3 1 .9 1-.1 1 .1 1-.1 1 .3 1 .5 1-.4 1 .1 1-.6 1-1.4 1-23.6 1 12.1 1 9.3 1-4.3 1-6.5 1-4.3 1 1.5 1 2 1 1.9 1 1.7 1 1.5 1 1 1 1.1 1 1.1 1 1.1 1 .7 1 .5" stroke="#edb120" stroke-opacity="0.46" stroke-width="1.35"/><path d="M795 949.1l1-.3 1-.1 1 .4 1 .4 1 .3 1-.5 1-.2 1-.4 1 0 1 .2 1 .5 1 .1 1 .4 1 0 1-.3 1-.1 1-1.1 1-21 1 10.8 1 9.1 1-4.3 1-6.1 1-4.1 1 1.6 1 2.2 1 1.5 1 1.4 1 1.4 1 1.1 1 .7 1 .5 1 .8 1 .6 1 .9 1 .4 1 0 1 .3 1 .2 1 .5 1 .5 1 .7 1-.1 1 .1 1-1 1-3.2 1-5.9 1-5.1 1 .5 1 2.5 1 1.9 1 1.9 1 .9 1 1.5 1 1.1 1 1.2 1 .9 1 .9 1 .1 1 .5 1-.1 1-1.5 1-4.8 1-7.7 1-4.9 1 2.6 1 2.9 1 2.2 1 1.8 1 2.1 1 1.7 1 .8 1 1.2 1 .9 1 .9 1 .5 1 .6 1 .6 1 .6 1 .4 1 .2 1-.2 1 .6 1 .1 1 .8 1-.6 1 .1 1 .3 1 .7 1 .2 1-8.5 1-16.4 1 21.4 1-1.5 1-5.2 1-5.7 1-1.5 1 1.9 1 1.8 1 1.8 1 1.8 1 1.1 1 1.1 1 .4 1 1 1 .6 1 1 1 .7 1 .5 1-.1 1 .2 1 .6 1 .7 1 .1 1 .1 1 .2 1 .6 1 .3 1-.4 1-.2 1-.1 1 .2 1-.9 1-2.9 1-7 1-7.7 1-1.7 1 3.5 1 3.2 1 2 1 1.8 1 1.4 1 1.6 1 1.4 1 .9 1 .6 1 .5 1 .9 1 .7 1 .8 1 .2 1 .3 1-.1 1 .7 1 .1 1-.1 1-.1 1 .3 1 .9 1-.1 1 .4 1-.7 1 .1 1-.2 1 .8 1-8.3 1-16.5 1 21.1 1-1.4 1-5.2 1-5.5 1-1 1 1.3 1 2.3 1 1.5 1 1.6 1 1.2 1 1 1 1.1 1 .5 1 .6 1 .3 1 .8 1 .6 1 .6 1 .5 1 .2 1 .1 1-.7 1-2.8 1-5.6 1-6.5 1-.8 1 2.5 1 2.3 1 2.1 1 2 1 1.7 1 1.4 1 1.1 1 .4 1 .6 1 .1 1 .6 1 .7 1 .6 1-2.2 1-4 1-7.9 1-4.8 1 2.4 1 2.6 1 2.6 1 1.7 1 1.7 1 1.6 1 1.8 1 1 1 1.1 1 .3 1 .9 1 .8 1 .2 1 .6 1 .8 1 .9 1-.3 1 0 1 .1 1 .2 1 .5 1-.4 1 .1 1 .3 1 .5 1 .5 1-.3 1-.1 1 0 1 .3 1-.3 1-11.6 1-12.5 1 20.1 1-1.8 1-5.8 1-5.4 1-.7 1 2.3 1 1.6 1 1.7 1 .8 1 1.6 1 1.4 1 1.1 1 .7 1 .4 1 .7 1 .6 1 .7 1 .7 1 .3 1 .2 1 .4 1 .4 1 .5 1-.1 1-.1 1 .1 1 .4 1 .2 1-.1 1-1.1 1-3.5 1-7.2 1-8.2 1-1.8 1 3.4 1 2.8 1 2.4 1 1.6 1 2.2 1 1.5 1 1.2 1 .8 1 1.1 1 1.3 1 .8 1 .9 1 .4 1 .7 1 0 1 .3 1 .2 1 0 1-.3 1-.2 1 .4 1 .5 1 .3 1 .3 1-.4 1 .1 1 0 1 .3 1 .1 1-.4 1-.2 1-.2 1 0 1 .4 1 .2 1-1 1-22.4 1 11.3 1 9.1 1-4.4 1-5.9 1-3.7 1 1.4 1 1.9 1 1.5 1 1.7 1 1 1 1.3 1 1 1 1.2 1 .5 1 .8 1 .6" stroke="#7e2f8e" stroke-opacity="0.46" stroke-width="1.35"/><path d="M795 964.4l1-.1 1 .5 1-.3 1 0 1-.2 1 .4 1 .1 1 .2 1-1.1 1-.1 1 .1 1-.1 1 0 1-.1 1 .1 1 .5 1-1.4 1-22.4 1 11.3 1 12.6 1 .8 1-6.8 1-5.8 1-.4 1 .7 1 1.5 1 .5 1 1.1 1 .2 1 1.5 1 .8 1 .8 1 .6 1 .6 1 .4 1 .5 1-.2 1 .5 1 .3 1 .9 1 .1 1 .4 1-.9 1-1 1-3.3 1-5.9 1-5.8 1 .7 1 2.3 1 2.7 1 1.5 1 1.6 1 .7 1 1.3 1 1 1 1.1 1 .6 1 .6 1 .3 1-.1 1-1.8 1-4.7 1-8.2 1-4.8 1 2.1 1 2.8 1 2.2 1 2.5 1 1.9 1 1.8 1 .3 1 1.1 1 .7 1 1.2 1 .9 1 .5 1 .5 1 .4 1 .6 1 .2 1 .4 1 0 1 .3 1 .2 1 .3 1 .4 1 .2 1 .2 1-.2 1-8.7 1-17.5 1 22.9 1 6.5 1-4.6 1-7.3 1-2.8 1 .8 1 1.2 1 1 1 .6 1 .8 1 1 1 1 1 .8 1 .8 1 0 1 .4 1-.2 1 1.3 1 .5 1 .6 1-.2 1 0 1 .4 1 .4 1 .5 1-.3 1 .3 1 .2 1 .5 1 0 1-.9 1-3.3 1-7.5 1-9 1-2.4 1 3.3 1 3.1 1 2.5 1 2.3 1 1.4 1 1.8 1 1.4 1 2.2 1 1.1 1 1 1 .4 1 .6 1 .8 1-.2 1 .5 1 .1 1 .7 1-.2 1 .1 1 0 1 .3 1 .1 1 .4 1 .2 1-.2 1-.2 1-.4 1-.1 1-9.3 1-16.7 1 22.3 1 6.2 1-5.1 1-7 1-2.3 1 .8 1 1.4 1 1.2 1 1.2 1 .9 1 1 1 .4 1 .1 1-.1 1 .5 1 .6 1 .7 1 .7 1 .7 1 .2 1-.1 1-.9 1-2.6 1-6 1-6.6 1-.7 1 3.1 1 2.1 1 1.5 1 1.5 1 1.8 1 1.1 1 1.2 1 1.3 1 .9 1 .7 1 .2 1 .7 1-.3 1-1.6 1-5.3 1-7.2 1-5.2 1 2.8 1 2.9 1 2 1 2.1 1 1.6 1 1.7 1 1.4 1 1.1 1 .8 1 1.1 1 1.1 1 1 1 .4 1 .2 1 0 1 .5 1 .2 1 .3 1-.2 1 .5 1 .1 1 .4 1-.1 1 .5 1 .2 1 .4 1 0 1 .1 1-.8 1 .6 1-.4 1-11.5 1-12.5 1 20.5 1 5.7 1-5.7 1-6.5 1-2 1 1 1 .5 1 1 1 .9 1 .8 1 .8 1 .4 1 .8 1 .2 1 .5 1 .6 1 1.3 1 .3 1 .7 1 .2 1 .4 1 .4 1-.3 1-.2 1 .4 1 0 1 .3 1 .1 1 .1 1-.7 1-3.5 1-7.2 1-8.9 1-2.5 1 3.7 1 3.3 1 2.2 1 2 1 1.5 1 1.9 1 1.2 1 1.6 1 1 1 .9 1 .5 1 .7 1 .6 1 .5 1-.1 1 .5 1 .1 1 .4 1 .1 1 .4 1 .3 1-.4 1 .2 1-.2 1 .4 1-.4 1-.1 1 .2 1-.2 1 .3 1 0 1 .1 1-.4 1-.6 1 .3 1-1.2 1-23.1 1 11.8 1 13.9 1 .4 1-7.3 1-6.2 1 .3 1 1.2 1 .9 1 .7 1 .8 1 1 1 .8 1 1.1 1 .7 1 .1 1 0" stroke="#77ac30" stroke-opacity="0.46" stroke-width="1.35"/><path d="M795 978.1l1-.1 1 .1 1-.1 1-.3 1 .2 1 0 1-.3 1 .1 1 0 1 .2 1-.4 1 .1 1-.1 1 .7 1-.2 1 .1 1-1.3 1-17.7 1 8.8 1 11.3 1 2 1-6.6 1-4.8 1-.3 1 .4 1 .2 1 .2 1 .7 1 .5 1 .6 1 .3 1 .1 1 0 1 .2 1 .4 1 .4 1 .8 1 .5 1 .3 1 .4 1 .2 1 .1 1 .4 1-1.2 1-3.2 1-4.9 1-4.1 1 .6 1 1.6 1 1.1 1 1.1 1 1.4 1 1 1 .9 1 .9 1 .9 1 1 1 .4 1-.1 1 .1 1-1.4 1-4.1 1-6 1-3.7 1 2.5 1 2.2 1 1.9 1 1.6 1 1.8 1 1.5 1 1.3 1 .6 1 .4 1 .7 1 1 1 .7 1 .2 1 .4 1 .3 1 .8 1 0 1 .4 1 .1 1 .4 1-.2 1 .2 1 .4 1 0 1-.2 1-7.4 1-13.3 1 17.9 1 8.3 1-4.4 1-6.4 1-2.8 1 .3 1 .8 1 .3 1 .5 1 .3 1 .7 1 .3 1 .1 1 0 1 .2 1 .4 1 .7 1 .8 1 .1 1-.2 1 .1 1 .1 1 .6 1 0 1 .7 1-.2 1 .7 1-.1 1 .2 1-.6 1-.2 1-2.8 1-5.9 1-7.3 1-1.3 1 2.8 1 2.3 1 1.9 1 1.4 1 1.4 1 1.5 1 1.9 1 1.1 1 .9 1-.2 1 .4 1 .3 1 1.3 1 .5 1 .1 1 .2 1 0 1 .5 1 0 1 .2 1-.2 1-.3 1-.6 1 0 1 .1 1 .4 1-.3 1 .1 1-7.1 1-13.4 1 17.8 1 7.9 1-4.1 1-6.6 1-2.5 1 .2 1 .1 1 .4 1 .9 1 .9 1 .4 1 .5 1 .5 1 .9 1 .5 1 .3 1 .1 1 .8 1 .4 1 .1 1 0 1-.9 1-2.3 1-5.1 1-4.5 1-.7 1 2.9 1 1.8 1 1.7 1 1.4 1 .8 1 1 1 .4 1 1.1 1 .5 1 .7 1 .2 1 .3 1-.4 1-1.3 1-3.8 1-6.1 1-3.6 1 2.4 1 2.5 1 2 1 1.4 1 .9 1 1.2 1 1.3 1 .7 1 .9 1 .7 1 .8 1 .4 1 .4 1 .7 1 .2 1 .1 1 .2 1 .3 1 0 1 .2 1-.1 1 .7 1 0 1 .2 1-.3 1 .2 1-.4 1 .1 1-.5 1 .4 1-.1 1-8.6 1-10 1 16.2 1 7.3 1-4.6 1-6 1-2.2 1 .7 1 .7 1 .5 1 .5 1 .3 1 .4 1 .6 1 .6 1 .9 1 .5 1 .1 1 .1 1 .2 1 .6 1 .6 1 .3 1-.2 1-.2 1-.1 1-.1 1 .2 1 .1 1 .7 1 .3 1-.7 1-3 1-6 1-6.8 1-2 1 2.5 1 2 1 2 1 2.3 1 2.1 1 1.5 1 .6 1 .7 1 .8 1 1.2 1 .3 1 .7 1 .1 1 .7 1 .2 1 .4 1 .1 1 .2 1 .2 1 0 1-.4 1-.1 1 .3 1 .2 1 .3 1 0 1 .2 1 0 1-.4 1-.3 1-.2 1 .2 1 .2 1-.3 1-.2 1-1.4 1-18.6 1 9.6 1 11.9 1 2.3 1-6.5 1-5.4 1-.2 1 .5 1 .4 1-.3 1 .6 1 .5 1 1.2 1 .3 1 1.2 1 0 1 .6" stroke="#4dbeee" stroke-opacity="0.46" stroke-width="1.35"/><path d="M795 989.2l1-.4 1-.4 1 .4 1 .5 1-.2 1-.5 1-.1 1 .2 1 .1 1 .3 1 .4 1-.2 1-.4 1 .1 1 .1 1 0 1-.6 1-10.2 1 5.2 1 7.6 1 2.6 1-3.4 1-3.1 1-.9 1-.5 1-.5 1 .5 1 .4 1 .2 1 0 1-.2 1 .5 1 .4 1 0 1 .2 1 0 1 0 1 .1 1 .2 1 .2 1-.4 1 .1 1-.1 1-.1 1-1.8 1-2.9 1-3 1 .7 1 .9 1 1 1 .5 1 1.3 1 .9 1 .8 1 .1 1 .3 1 .4 1 .4 1-.1 1 .1 1-1.1 1-1.9 1-3.9 1-2.3 1 1 1 1.4 1 1.5 1 1.3 1 .5 1 .5 1 .7 1 .6 1 .8 1 .5 1 .5 1 .4 1 .3 1 .4 1 .3 1 .1 1-.2 1 .2 1-.4 1 0 1 .2 1 .3 1 .4 1 .4 1 .1 1-4.1 1-8.1 1 10.2 1 6.7 1-2.2 1-4.5 1-1.6 1-.2 1 0 1 0 1-.1 1 .1 1-.1 1 .5 1 .4 1 .2 1 .2 1 .4 1 .4 1-.6 1 .2 1 0 1 .3 1-.2 1 .6 1 .1 1 .4 1 0 1-.2 1 .4 1-.4 1 0 1-.6 1-1.6 1-3.2 1-4.1 1-1 1 1.4 1 1.4 1 .9 1 1 1 .8 1 .9 1 .6 1 .5 1 .3 1 .8 1 .3 1 .1 1-.1 1-.2 1 .5 1 .7 1 .8 1 0 1-.3 1 .1 1 .3 1 .3 1-.2 1 0 1-.3 1 0 1-.2 1 .1 1-4 1-7.8 1 10.2 1 6.9 1-2.4 1-3.7 1-1.7 1 .5 1-.4 1-.2 1-.3 1 .4 1-.1 1 .3 1 .5 1 .2 1 .3 1 .1 1 .5 1-.1 1-.1 1-.1 1-.2 1-.2 1-1.5 1-2.3 1-3.2 1-.4 1 .9 1 1 1 1.2 1 .7 1 .5 1 .3 1 .9 1 .4 1 .1 1 .8 1 .6 1 .3 1 0 1-.4 1-2.5 1-3.8 1-2.5 1 1.6 1 1.4 1 1.2 1 .6 1 1.1 1 1 1 .7 1 .3 1 .6 1 .9 1-.2 1 .2 1-.1 1 .5 1 0 1 .5 1 0 1 0 1 .1 1 0 1 .4 1-.4 1 .5 1 0 1 .2 1-.1 1 0 1 0 1 .3 1-.1 1 .1 1-5.8 1-5.7 1 9.4 1 6.9 1-2.4 1-3.7 1-1.5 1 0 1 0 1-.1 1-.4 1 .5 1 .5 1 .2 1-.3 1 .1 1 .4 1 0 1 .1 1 0 1 .4 1 .2 1 .3 1 0 1 .3 1 0 1 .5 1 .1 1-.2 1-.2 1-.1 1-.4 1-2.3 1-3.5 1-4 1-.8 1 1.8 1 .8 1 1.6 1 .7 1 .9 1 1.1 1 .8 1 .7 1 .1 1 .5 1 .4 1 .1 1 0 1 .1 1 .1 1 .4 1 .6 1-.1 1-.2 1-.2 1 .1 1 .4 1 .4 1 0 1 .6 1-.7 1 .5 1-.3 1 .7 1-.4 1-.4 1-.1 1-.3 1 .2 1 .1 1-.6 1-11 1 5.4 1 8.4 1 2.8 1-3.8 1-3.7 1-.3 1-.2 1 .2 1-.4 1 .2 1 .1 1 .3 1-.1 1 .3 1 .5 1 0" stroke="#a2142f" stroke-opacity="0.46" stroke-width="1.35"/><path d="M795 999.4l1-.1 1 0 1-.2 1 .1 1 .4 1 .1 1-.1 1-.7 1-.4 1 0 1 0 1 .1 1 .6 1-.4 1-.2 1 .1 1 .2 1-3.7 1 1.4 1 3.9 1 3.1 1-1.8 1-1.8 1-.3 1-.4 1-.3 1-.5 1-.1 1 .1 1 .3 1 0 1 .1 1 .2 1-.6 1 .1 1-.2 1 .3 1 .3 1 .2 1 0 1-.3 1-.4 1 .1 1-.1 1-.5 1-1 1-.9 1-.3 1 2.7 1 1 1 0 1-.3 1-.4 1 0 1-.1 1 .4 1 0 1 .2 1 0 1 0 1-.4 1-.9 1-.8 1-1 1 .6 1 2.9 1 .3 1-.6 1 .1 1-.4 1 0 1-.5 1 .3 1-.1 1-.1 1 .1 1 0 1 .5 1-.5 1-.2 1-.1 1 0 1 0 1 .1 1-.2 1 0 1-.1 1-.1 1 .6 1-1.5 1-2.9 1 3.5 1 6 1-.1 1-2.2 1-1.5 1-.7 1-.9 1-.4 1-.4 1-.6 1-.2 1 .2 1 .4 1-.2 1 .9 1-.1 1 .6 1-.5 1 .2 1-.5 1 .1 1-.2 1 .5 1 .1 1 .3 1 .1 1-.3 1 .2 1 .1 1 .1 1 0 1-.6 1-1.2 1-1.2 1-.4 1 2.2 1 2.1 1-.2 1-.3 1-.5 1-.4 1-.1 1 .2 1-.1 1 0 1-.2 1 .1 1 .5 1 .2 1-.2 1-.1 1-.1 1 .4 1-.3 1-.2 1 0 1-.4 1 .3 1 0 1 .1 1-.2 1-.8 1 .3 1-1.4 1-2.7 1 3.4 1 5.7 1-.2 1-2.2 1-1.3 1-.6 1-.5 1-.2 1-.2 1 .2 1 .1 1-.2 1-.2 1-.3 1-.2 1 .1 1 .2 1-.1 1 0 1 .3 1 .6 1-.1 1-.5 1-.9 1-.9 1-.5 1 1.8 1 1.5 1 .3 1-.4 1-.1 1-.5 1-.2 1-.1 1-.1 1 .2 1 0 1-.2 1-.2 1-.2 1-.7 1-1.2 1-.7 1 .2 1 3.2 1-.2 1-.1 1-.4 1 .2 1 0 1-.1 1-.1 1-.4 1 .3 1 .2 1 .3 1 .2 1 0 1 .7 1 .1 1 .2 1-.5 1 .3 1-.1 1 .1 1 .3 1 .2 1 0 1 .1 1-.2 1-.2 1 .4 1-.1 1 .3 1-1.7 1-2.1 1 3.2 1 5.5 1-.8 1-2.1 1-.6 1-.6 1-.4 1-.8 1 .2 1-.3 1 0 1-.2 1 .3 1 .5 1-.2 1 0 1-.8 1 .2 1-.2 1 0 1-.5 1 .1 1 .1 1 .1 1-.1 1 .2 1 .6 1-.2 1-.1 1-.8 1-.8 1-1 1-1.5 1 0 1 1.6 1 2.1 1-.3 1-.4 1-.1 1 0 1-.2 1 .1 1 .1 1 .5 1 .6 1 .3 1-.2 1-.1 1-.3 1 0 1-.4 1 0 1 .5 1 .2 1 .1 1-.3 1 0 1-.1 1 .5 1 .1 1 .3 1 0 1 .3 1 .1 1-.1 1-.2 1 0 1 0 1-.1 1-.1 1-4 1 2 1 4.4 1 3.3 1-1.9 1-2 1-.5 1-.6 1-.8 1-.3 1 .2 1 .1 1-.1 1-.3 1-.4 1 .2 1 .5" stroke="#d95319" stroke-opacity="0.7" stroke-width="1.35"/><path d="M795 1013.3l1-.1 1 .5 1 .1 1-.3 1-.6 1-.1 1 .2 1 .3 1 .1 1 0 1-.1 1 .1 1 0 1 .1 1 .2 1-.7 1 0 1-2.9 1 1.1 1 4.6 1 4.4 1-1.4 1-2.3 1-1.1 1-.9 1-.4 1-.2 1-.3 1-.5 1-.3 1-.3 1 0 1 0 1-.2 1 0 1-.4 1 0 1-.3 1 .1 1 .2 1 .2 1 .2 1 0 1 0 1-.3 1-.7 1-.6 1 .2 1 3 1 .7 1-.5 1-.8 1-.1 1-.2 1-.1 1-.5 1-.2 1 .2 1 .7 1-.1 1-.1 1-.6 1-1.1 1-.5 1-.2 1 3.3 1-.2 1-.6 1 0 1-.3 1-.1 1-.3 1 .1 1-.3 1 0 1 .1 1 0 1 .3 1 .1 1 0 1 .2 1-.4 1 .1 1 .1 1 .4 1 .2 1 .6 1-.2 1-.5 1-1.4 1-2.1 1 3 1 7.8 1-.3 1-2.2 1-1.5 1-.6 1-.9 1-.6 1-.6 1-.3 1-.6 1-.4 1 .1 1 .1 1-.2 1-.1 1 0 1-.1 1 .3 1 .3 1-.1 1 .1 1-.4 1 .5 1 .2 1-.6 1-.2 1-.1 1 .1 1-.3 1 .2 1-.2 1-.8 1-1.3 1 0 1 2.5 1 2.4 1-.6 1-.2 1 0 1-.6 1 .2 1-.1 1 .4 1-.1 1-.1 1 .1 1 .1 1-.1 1 .1 1-.3 1 .1 1-.1 1 .5 1 .2 1-.1 1-.3 1 .3 1 .2 1 .3 1-.3 1 0 1-.1 1-1.4 1-2.7 1 2.6 1 7.6 1-.1 1-2.2 1-1.7 1-.2 1-.4 1-.8 1-1.1 1 0 1-.1 1 .5 1-.5 1-.2 1 .1 1 .1 1-.1 1 .3 1-.3 1 .3 1-.3 1 .1 1-.9 1-.8 1-.9 1 .2 1 2.3 1 1.6 1-.3 1-.5 1-.3 1-.3 1-.5 1-.4 1-.1 1 .3 1 0 1 0 1-.1 1-.5 1-.8 1-1.3 1-.4 1 .6 1 4.1 1 .5 1-.8 1-1.1 1-.9 1-.1 1 0 1-.1 1-.2 1 .2 1-.1 1-.4 1-.2 1 0 1 .6 1-.3 1 .1 1-.2 1 0 1 .7 1-.3 1 .5 1-.4 1 .4 1 .5 1-.1 1 .4 1-.1 1 .1 1 0 1-1.5 1-1.4 1 2.8 1 7.8 1-.7 1-2.2 1-1.3 1-1.1 1-.8 1-.6 1-.7 1-.2 1 0 1 .1 1-.2 1-.2 1 .1 1-.2 1-.3 1-.1 1 .2 1 .2 1-.4 1-.4 1 .2 1-.2 1 0 1 0 1 .3 1-.1 1-.6 1-.4 1 0 1-.9 1-1.3 1 0 1 2.5 1 2.5 1-1.1 1-.4 1-.2 1 .1 1 .1 1 .6 1-.1 1-.5 1-.3 1 0 1 .2 1 .2 1 .1 1-.2 1 .2 1 .1 1 .4 1 .2 1-.3 1-.2 1-.2 1 .2 1-.4 1-.1 1 0 1 0 1 .3 1-.2 1-.3 1-.6 1 .1 1 .2 1 .2 1-.5 1-2.7 1 1.4 1 5 1 4.3 1-1.2 1-1.7 1-.5 1-1.1 1-.7 1-.8 1-.2 1-.2 1-.3 1-.1 1-.3 1 .3 1-.1" stroke="#edb120" stroke-opacity="0.7" stroke-width="1.35"/><path d="M795 1028.1l1-.4 1 0 1-.1 1 .2 1-.1 1 .1 1-.3 1-.1 1-.3 1 .1 1 .1 1 0 1-.1 1 .1 1 .1 1-.5 1-.3 1-2 1 1.5 1 4 1 4.7 1-1.7 1-1.5 1-1 1-.7 1-.4 1-.8 1-.4 1-.6 1-.2 1-.7 1 .1 1 .1 1 .3 1-.1 1-.6 1-.2 1 0 1 .3 1-.2 1 .5 1 0 1-.3 1-.2 1-.2 1 0 1-.6 1-.5 1 2.7 1 .7 1 0 1-.3 1-.3 1-.6 1 .1 1-.3 1 0 1-.3 1-.5 1 .3 1-.2 1-.4 1-.6 1-.5 1 .4 1 4.4 1-.2 1-.9 1-.3 1-.1 1-.2 1-.7 1-.5 1-.1 1 .2 1 0 1 .2 1-.5 1 .4 1 0 1 .4 1 .2 1 .1 1 .1 1 0 1-.2 1-.7 1 .1 1 .2 1 0 1-1.9 1 1.7 1 8 1 .2 1-1.4 1-1.7 1-.6 1-1.1 1-.4 1-.9 1-.7 1-.7 1-.7 1-.1 1-.4 1 .3 1-.1 1 .3 1 .2 1 0 1-.3 1 0 1-.3 1-.2 1 0 1-.4 1-.2 1-.2 1 .1 1 .2 1 .3 1 .5 1-.1 1-.9 1-.9 1-.1 1 2.9 1 3 1-.2 1-.8 1-.5 1-.6 1-.5 1-.3 1 .1 1-.3 1-.1 1-.3 1-.1 1 .2 1-.2 1 .5 1 0 1 .5 1-.6 1-.4 1-.5 1 .4 1 .3 1-.1 1 0 1-.5 1 .1 1 0 1-.5 1-1.4 1 1.8 1 8 1 .1 1-1.9 1-1.9 1-1.2 1-.8 1-.1 1-.7 1-.4 1-.3 1 .2 1-.1 1-.3 1-.1 1 0 1 .1 1 .4 1 0 1-.3 1 .3 1 0 1-.3 1-.8 1-.4 1 .3 1 2.6 1 1.5 1-.9 1-.4 1 .1 1-.7 1-.5 1-.6 1 0 1-.1 1-.3 1 .2 1-.2 1-.1 1-.3 1-.3 1-.2 1 0 1 4.1 1-.6 1-.9 1-.4 1-.5 1 .1 1-.5 1-.4 1 0 1 0 1 .4 1 0 1-.1 1-.2 1 0 1-.3 1 .1 1-.5 1 .1 1-.1 1 .3 1-.5 1 .3 1-.1 1 .1 1 .1 1-.2 1 0 1 0 1 .4 1-1.2 1-1 1 1.9 1 8.6 1-.4 1-2.4 1-1.5 1-.8 1-.5 1-.2 1-.4 1-.5 1-1 1-.1 1 .2 1 .3 1 .1 1-.3 1 0 1 0 1 .3 1 .1 1 0 1 0 1-.1 1 0 1-.5 1-.1 1 .1 1 .1 1-.2 1-.1 1-.6 1-.6 1-.6 1 .2 1 2.5 1 1.9 1-1.1 1-.7 1-.2 1-.8 1-.2 1-.5 1 .1 1-.3 1-.1 1 .4 1 .1 1 .2 1 .3 1 .2 1 .1 1 0 1 .1 1 0 1-.1 1-.2 1-.1 1 .1 1 .4 1 .5 1 .1 1 .2 1-.2 1 0 1-.4 1-.3 1 0 1 .2 1 .2 1-.5 1-2.1 1 1.2 1 4.8 1 5.2 1-2.4 1-2.1 1-1.1 1-1 1-1 1-.4 1-.1 1-.1 1-.8 1-.2 1 0 1 .3 1 .3" stroke="#7e2f8e" stroke-opacity="0.7" stroke-width="1.35"/><path d="M795 1040.5l1 0 1 .2 1 .6 1 .3 1 0 1-.5 1-.2 1 0 1 .2 1 .5 1 .2 1 .1 1-.2 1 .1 1-.1 1 .2 1-.1 1-1.3 1 .5 1 3.8 1 4 1-1.6 1-1.7 1-1.2 1-.7 1-.8 1-.2 1-.4 1-.2 1-.3 1-.6 1-.5 1 0 1 .4 1 .4 1 0 1-.2 1 .1 1 .4 1 .5 1 .4 1-.2 1-.8 1-.7 1 .1 1 0 1-.5 1-.7 1 2.4 1 1.1 1-.1 1-.4 1-.6 1-.1 1-.3 1-.3 1-.5 1 .8 1 0 1 .1 1-.6 1-.2 1-.9 1-.4 1 .4 1 3.6 1 .2 1-1.1 1 0 1-.4 1 .1 1-.5 1 .1 1-.4 1 .1 1 0 1 .2 1-.3 1 .2 1-.6 1 .1 1-.6 1 .3 1-.2 1-.1 1 .2 1 .3 1-.2 1 .2 1-.5 1-.9 1 1.4 1 6.6 1 .1 1-1.5 1-1.1 1-.9 1-.6 1-.6 1-.6 1-.1 1-.2 1 .1 1-.2 1-.3 1 .2 1-.1 1 .4 1-.6 1 0 1-.3 1 .6 1-.3 1 .1 1-.2 1 0 1-.3 1 .1 1 .2 1 .3 1-.3 1-.1 1-.3 1-.1 1-.6 1 .2 1 1.5 1 2.2 1-.8 1-.9 1-.9 1-.5 1-.5 1 .4 1-.2 1 0 1 0 1-.2 1 0 1-.1 1-.1 1 .3 1-.1 1-.2 1-.1 1-.5 1-.1 1 0 1 .4 1-.1 1 .3 1 .1 1-.1 1-.2 1-.6 1-.9 1 1.3 1 6.9 1 .3 1-1.5 1-1.4 1-1 1-.9 1-.3 1-.1 1 .3 1-.1 1 0 1-.3 1-.9 1 .4 1-.2 1 .5 1-.8 1-.1 1-.2 1 .3 1 0 1-.1 1-.5 1 .5 1 .2 1 1.6 1 1.4 1-.6 1-.5 1-.6 1-.1 1-.6 1-.4 1 .4 1 .6 1 0 1-.4 1-.8 1 0 1-.3 1-.3 1-.3 1 .1 1 3.6 1-.4 1-1.2 1-.3 1-.2 1-.6 1-.4 1 0 1-.2 1 .3 1-.1 1 .3 1 .1 1 0 1 .1 1-.4 1 .1 1-.2 1 0 1-.2 1 .1 1 .3 1-.2 1 .7 1 .1 1 .2 1-.2 1-.3 1 0 1 .5 1-.6 1-1.4 1 .8 1 6.8 1 .1 1-1.8 1-1 1-1.3 1-.7 1-1 1-.1 1-.5 1-.3 1-.6 1 .2 1 0 1-.2 1 .2 1 0 1 .3 1-.7 1-.2 1 .2 1 .5 1 0 1 0 1 .2 1 .6 1-.1 1-.6 1-.4 1 0 1-.1 1-.2 1-.4 1 .1 1 1.9 1 2.1 1-.6 1-.4 1-.7 1-.1 1-.6 1 0 1 0 1 .3 1-.2 1-.1 1 .1 1-.1 1 .2 1-.2 1 0 1 .2 1-.2 1 .3 1-.1 1 0 1 .2 1 0 1-.3 1 .1 1-.2 1 0 1-.1 1 .3 1 .5 1 .3 1-.5 1-.6 1-.3 1-.1 1-1.6 1 .8 1 4.1 1 4.3 1-1.4 1-1.9 1-.8 1-1 1-.6 1-.5 1-.4 1-.4 1-.3 1 .1 1-.7 1 .5 1-.3" stroke="#77ac30" stroke-opacity="0.7" stroke-width="1.35"/><path d="M795 1055.8l1-.1 1-.1 1 .1 1 .3 1 .5 1-.4 1-.2 1-.2 1 .2 1 .2 1-.2 1-.3 1-.4 1-.2 1 0 1 .1 1 .1 1-.1 1 .1 1 1 1 2.4 1-.4 1-.1 1-.7 1-.8 1 .2 1-.2 1-.4 1-.4 1-.5 1 .3 1-.2 1 .1 1 0 1 .1 1 .1 1 .1 1-.1 1-.4 1-.5 1 .3 1 .5 1 .4 1-.2 1-.3 1 0 1 .1 1 .4 1 .7 1 .1 1-.6 1-.3 1 .1 1 .1 1 .3 1-.2 1-.1 1-.4 1-.1 1-.1 1 .5 1 .3 1-.1 1-.1 1-.1 1 1.8 1 .7 1-.3 1-.6 1-.5 1-.2 1 .2 1-.1 1-.3 1 0 1 .4 1-.1 1-.4 1-.1 1 .1 1 .3 1-.6 1-.1 1-.1 1 0 1 .3 1 .2 1-.5 1 0 1-.2 1 .2 1-.3 1 3.1 1 .3 1-.1 1-.3 1-.1 1-.3 1-.1 1-.5 1-.2 1-.7 1 .1 1-.6 1 .3 1 0 1-.1 1-.2 1-.1 1 0 1 0 1 .2 1 .1 1 .3 1-.4 1 .2 1 0 1-.3 1-.1 1-.4 1 .7 1-.1 1-.2 1-.6 1 .3 1-.2 1 .7 1 .9 1-.3 1-.3 1-.1 1 0 1 .2 1-.5 1-.3 1-.4 1-.3 1 .3 1 .6 1-.6 1 .2 1 .1 1 .6 1 0 1-.4 1 .1 1-.7 1 .1 1 0 1 .3 1 .2 1-.3 1 .6 1-.1 1 .7 1-.5 1-.2 1 2.4 1 .4 1-.9 1-1 1-.5 1 .3 1-.4 1-.1 1-.3 1-.6 1 .1 1 0 1 .3 1-.6 1-.2 1-.5 1-.1 1-.3 1 .4 1-.2 1 .1 1 0 1 .2 1 .1 1 .6 1 1 1 .9 1-.8 1-.7 1-.5 1 .4 1 .4 1-.3 1-.3 1-.2 1 .1 1-.3 1 .5 1 .1 1 .4 1 .3 1 .3 1-.4 1 1.3 1-.5 1 .1 1-.5 1 .2 1-.5 1 0 1-.2 1-.2 1-.3 1 0 1 .3 1-.1 1 0 1 .1 1 0 1-.2 1-.1 1-.1 1-.2 1-.1 1 .1 1 .1 1 .2 1-.3 1-.3 1-.2 1 .4 1 0 1 .2 1-.2 1-.1 1-.2 1 3.1 1 .4 1-.5 1-.2 1-.3 1-.7 1-.8 1-.2 1 .1 1-.2 1-.1 1-.2 1 .2 1 .2 1 0 1-.1 1-.3 1 0 1 .1 1-.1 1 0 1-.1 1-.3 1 .2 1-.1 1 .3 1-.1 1 .1 1 0 1 .6 1 .2 1 .1 1-.7 1 .6 1 .8 1 .4 1-.5 1-.2 1-.3 1-.2 1 .1 1 .1 1 .1 1 .2 1-.1 1-.1 1-.2 1-.4 1 .2 1 .1 1 .5 1-.5 1-.2 1-.4 1 .5 1-.1 1 .1 1-.3 1-.3 1-.1 1-.4 1 0 1-.3 1 .4 1 .3 1 .1 1-.2 1 0 1 .1 1 .3 1-.3 1 2.1 1 2 1-.3 1-1.1 1-.5 1-.3 1-.3 1-.6 1 .1 1 .1 1 .3 1-.7 1-.4 1-.6 1 .1" stroke="#4dbeee" stroke-opacity="0.7" stroke-width="1.35"/><path d="M795 1069.9l1 .3 1-.4 1 .5 1-.5 1 0 1 0 1-.1 1 .3 1-.3 1 0 1-.3 1 .5 1 .1 1 .5 1-.4 1 .1 1-.1 1 0 1 .2 1 .6 1 1.4 1-.7 1-.1 1-.7 1-.4 1-.1 1 .2 1-.3 1-.6 1-.1 1 .1 1 .2 1 .2 1-.2 1-.1 1-.3 1-.2 1 .1 1 .5 1-.3 1 .2 1-.2 1 0 1 .2 1 .3 1 .6 1 .1 1-.5 1 .6 1 .3 1 0 1-.1 1-.6 1-.3 1-.1 1 .3 1 .1 1 .6 1-.4 1-.2 1-.4 1 .4 1 .3 1-.2 1-.3 1 1.1 1 .2 1-.1 1 .1 1-.2 1-.5 1-.6 1-.2 1-.1 1 .1 1 .1 1 0 1-.1 1-.2 1 0 1 .1 1 .1 1 .7 1-.4 1 .2 1-.5 1-.1 1 0 1 .3 1 0 1-.2 1 0 1 2.7 1 0 1-1 1-.2 1 0 1 .2 1-.6 1-.5 1-.3 1 .2 1 .2 1 .2 1-.2 1-.3 1-.4 1 .2 1 0 1 .4 1 .4 1 .2 1-.1 1-.8 1 0 1 .1 1 .5 1 .1 1 0 1-.1 1-.3 1-.3 1 .1 1-.2 1-.3 1 .1 1 .9 1 .9 1-.5 1-.3 1-.2 1-.2 1-.2 1-.5 1-.2 1 .1 1-.1 1-.1 1-.2 1 .2 1 .2 1-.1 1 .2 1 .3 1-.2 1-.2 1-.2 1 .5 1 .2 1 0 1-.2 1 .1 1 .2 1-.1 1 0 1 .1 1-.1 1 2.2 1 .2 1-.5 1-.4 1-.6 1-.5 1-.1 1-.2 1-.1 1 0 1-.3 1-.3 1-.5 1-.1 1 .2 1 .6 1 0 1 .4 1-.1 1-.1 1-.5 1 0 1 .1 1 0 1 .1 1 1 1 .8 1-.5 1-.3 1-.8 1-.4 1 .3 1 .4 1 .4 1 .2 1-.9 1-.3 1-.3 1 .1 1 0 1-.2 1 .1 1-.1 1 1.4 1 .4 1 .7 1-.6 1-.9 1-.3 1-.2 1 .2 1-.4 1 .1 1 .3 1-.1 1 .4 1 .1 1 0 1-.5 1-.2 1 0 1 0 1 .2 1 .2 1 0 1 .1 1 0 1-.3 1-.3 1-.5 1 .3 1 0 1-.4 1 .1 1 .3 1 .7 1 2.7 1-.3 1-.6 1-.4 1 .2 1-.4 1-.4 1-.5 1-.2 1-.1 1-.2 1 .4 1-.1 1 0 1-.4 1-.2 1-.1 1 .4 1 0 1-.4 1-.2 1-.2 1-.2 1-.4 1 .7 1 .4 1 .3 1 .1 1-.3 1-.1 1-.3 1 .4 1 0 1 .6 1 .8 1-.2 1-.5 1-.2 1-.2 1 0 1 .2 1-.3 1-.4 1-.3 1 .2 1 .1 1 .2 1 .3 1 .2 1 .3 1-.5 1 .1 1-.2 1 .2 1 .1 1-.1 1-.4 1-.1 1 0 1 .2 1 .2 1-.2 1 0 1-.1 1-.1 1 0 1 .1 1 .5 1-.3 1 .1 1-.6 1 1.6 1 1.8 1-.6 1-.6 1-.7 1-.4 1-.6 1 .1 1 0 1 .2 1-.4 1-.5 1-.1 1 0 1 .5" stroke="#a2142f" stroke-opacity="0.7" stroke-width="1.35"/><path d="M795 1084l1 0 1 .3 1-.6 1 0 1 0 1 .2 1-.2 1-.3 1 0 1-.3 1-.2 1 .3 1-.1 1-.1 1 0 1 .2 1 .2 1 .2 1 .3 1 .8 1 .9 1-.7 1 .1 1-.3 1-.1 1-.6 1 0 1 0 1-.1 1-.5 1 .2 1 .5 1 0 1-.2 1 .2 1 .1 1 .1 1-.5 1-.3 1 0 1 .2 1 .3 1 .1 1 .2 1-.3 1-.1 1 .2 1 .5 1 .7 1 0 1-.4 1 .1 1-.5 1 .2 1 0 1 0 1-.7 1-.2 1 0 1 .5 1-.6 1 0 1-.3 1 .4 1-.3 1 .8 1 .1 1-.2 1 .3 1 0 1 .2 1-.5 1-.4 1-.1 1 .2 1 .1 1-.2 1 .2 1 .1 1 .1 1-.4 1 .2 1 .1 1 .4 1 .2 1 0 1 0 1 .2 1 0 1-.1 1-.2 1-.5 1 2.4 1 .1 1-.3 1-.7 1-.1 1-.4 1-.2 1-1 1 0 1-.3 1 .2 1 0 1-.4 1 .1 1 .1 1 .8 1-.2 1 0 1-.6 1-.3 1 0 1 0 1-.2 1 .1 1 .3 1 .4 1 0 1 .5 1 0 1-.1 1 .1 1 .1 1-.3 1 0 1 .1 1 .7 1-.5 1-.1 1-.2 1 0 1-.1 1 .4 1 .4 1 .5 1-.2 1-.5 1-.7 1 .1 1 .1 1 .3 1-.1 1-.2 1-.2 1-.1 1 .3 1-.1 1 .5 1-.3 1 0 1-.1 1 .1 1 .3 1-.4 1-.6 1-.3 1 1.9 1 .6 1 .2 1-.2 1-.4 1-.7 1-.2 1 .3 1 .2 1-.1 1-.8 1 .1 1 0 1 .6 1-.2 1-.2 1 .1 1 .1 1 .1 1-.5 1-.1 1-.2 1 .2 1-.2 1 .1 1 .2 1 0 1 0 1 .2 1-.2 1-.6 1-.5 1 0 1 .5 1 .3 1-.3 1-.3 1-.9 1 .2 1-.2 1 .8 1 0 1 .1 1 1.1 1-.2 1 0 1 0 1 .3 1-.1 1-.3 1-.3 1-.4 1-.2 1-.2 1 .6 1-.3 1 .6 1-.3 1 .7 1-.7 1-.3 1 .2 1 .3 1-.2 1-.2 1 .2 1 .2 1 .3 1-.2 1 .1 1-.5 1 .1 1 .3 1-.1 1-.4 1-.5 1 2.4 1 .5 1 .2 1-.5 1-.3 1-.2 1-.4 1-.1 1-.2 1-.1 1 0 1 .1 1 .4 1-.3 1-.3 1 .2 1 .1 1 .6 1-.3 1 .1 1-.4 1 0 1 .1 1 .1 1-.1 1-.1 1-.2 1 .3 1 .1 1-.2 1-.2 1 .1 1 0 1 .5 1 .7 1-.2 1-.1 1-.3 1-.5 1-.1 1-.2 1 .6 1-.4 1 .3 1-.1 1 .1 1-.1 1-.1 1 .2 1 0 1 .1 1 0 1 .1 1 .5 1-.1 1 0 1-.4 1 .1 1 .1 1 .1 1-.2 1-.1 1 .1 1 .2 1-.2 1-.3 1-.2 1-.2 1 0 1-.1 1 .5 1 .8 1 1.2 1-.4 1-.6 1-.1 1-.4 1 .1 1-.6 1-.1 1-.3 1 0 1 .1 1 .4 1 .1 1-.1" stroke="#0072bd" stroke-opacity="0.7" stroke-width="1.35"/><path d="M795 1097.2l1 .5 1 .6 1 .4 1-.4 1-.3 1-.2 1-.1 1-.1 1-.2 1 .2 1-.5 1 .2 1 .4 1 .3 1 .1 1 .1 1-.3 1-.1 1 .2 1 .8 1 1.4 1 0 1 .3 1-.4 1-.1 1-.5 1-.3 1-.2 1 .3 1-.4 1-.2 1-.5 1-.1 1-.1 1 .1 1 .3 1 .5 1-.1 1-.1 1 .1 1 0 1 0 1-.5 1 0 1-.5 1 .2 1-.7 1 .5 1 .3 1 .9 1-.2 1 .4 1-.1 1-.4 1-.2 1-.3 1-.4 1-.4 1 .1 1 .2 1 .2 1 .4 1 .4 1 .1 1-.2 1 1.2 1 0 1 .1 1-.2 1-.2 1-.6 1 .2 1 .1 1 .2 1 .4 1-.1 1-.2 1 .3 1 0 1 0 1-.8 1-.2 1 0 1 .4 1 .1 1 0 1 0 1-.4 1-.1 1-.6 1 0 1 0 1 2 1 .3 1-.5 1-.3 1-.5 1-.5 1-.1 1-.1 1 .2 1-.1 1 .2 1-.1 1-.2 1-.1 1 0 1 0 1 .1 1-.1 1 .4 1 0 1 .4 1-.2 1-.3 1 0 1 .2 1 .1 1-.3 1 .5 1 0 1 0 1-.6 1 0 1 .2 1-.1 1 .3 1 0 1-.3 1-.1 1 .3 1-.1 1-.2 1-.4 1-.1 1 .5 1-.1 1-.3 1-.1 1-.1 1-.1 1 0 1 .3 1 0 1 0 1 .2 1-.1 1 .1 1-.3 1 .1 1 0 1-.2 1 .1 1-.4 1 .1 1 .3 1 0 1 2.2 1 0 1 .1 1-.3 1 .1 1-.8 1-.1 1 .2 1-.3 1-.6 1-.2 1 .3 1 .6 1-.2 1 .2 1-.3 1 0 1-.2 1-.1 1-.2 1 .1 1 .3 1 .5 1-.7 1-.3 1 .2 1 .6 1-.2 1-.2 1-.1 1-.2 1 .2 1-.1 1 0 1-.3 1 .3 1-.5 1-.1 1 .4 1-.1 1 .4 1-.1 1 .2 1 .4 1 .1 1-.3 1-.1 1-.5 1 .6 1 .1 1 .2 1 .2 1 .2 1 .1 1-.2 1 .1 1-.5 1-.2 1-.5 1 0 1 .4 1 0 1 .3 1-.1 1 .1 1-.2 1 .1 1-.7 1 .1 1 0 1-.2 1-.1 1 0 1-.1 1 .1 1-.4 1 2.3 1-.2 1-.3 1-.4 1-.3 1-.2 1-.1 1-.2 1 .1 1-.1 1-.1 1-.2 1 .2 1 .1 1 0 1-.3 1 .1 1 .2 1 .4 1 .1 1-.3 1 .1 1-.1 1-.3 1 .3 1-.2 1 .3 1-.3 1 .1 1 0 1-.1 1 0 1 .1 1 .6 1 .8 1-.6 1-.1 1-.4 1-.2 1-.5 1-.1 1-.2 1 .6 1 .5 1 .3 1-.3 1 0 1-.3 1-.1 1-.2 1-.1 1 .3 1-.3 1 .2 1-.2 1 .5 1 .1 1 .1 1 .1 1 .1 1-.2 1-.2 1-.2 1 0 1 .3 1 .2 1-.2 1-.3 1 .4 1 .1 1-.3 1 .4 1 1 1-.4 1-.1 1-.5 1-.1 1-.5 1 0 1 .1 1-.2 1-.2 1-.4 1 .3 1-.3 1-.5" stroke="#d95319" stroke-opacity="0.7" stroke-width="1.35"/><path d="M795 1111.9l1-.4 1 .2 1 .3 1 .6 1 .4 1-.2 1 .3 1-.5 1-.2 1-.3 1 0 1 .1 1-.2 1 .2 1-.5 1 .1 1-.1 1 .8 1-.2 1 1 1 .5 1 .1 1-.8 1-.3 1-.6 1 0 1 .3 1-.2 1 .1 1-.2 1 0 1 .1 1-.2 1 .6 1 0 1 .2 1-.1 1-.1 1 .4 1 0 1-.1 1 .1 1 0 1-.1 1-.1 1 0 1 0 1 .2 1 .5 1 .1 1-.5 1 0 1 0 1 0 1-.1 1-.2 1 .1 1 0 1 .1 1-.1 1-.3 1 0 1 .2 1 0 1-.3 1 .2 1 .1 1-.4 1 .1 1 0 1-.2 1 .2 1-.1 1 .1 1 .2 1-.4 1 .1 1-.4 1 .1 1 .1 1 .1 1-.3 1 .1 1 .3 1 .8 1 .2 1-.5 1-.6 1-.1 1 .4 1-.3 1 .1 1 1.5 1 .1 1-.9 1-.1 1 .1 1 0 1 .1 1-.1 1 0 1-.5 1 .5 1 .4 1 .5 1 0 1-.4 1-.2 1-.1 1 .1 1-.5 1-.1 1 .2 1 0 1 .2 1-.3 1-.1 1-.4 1 0 1-.1 1 .2 1 .1 1-.2 1-.5 1-.4 1 .3 1 .5 1 1.1 1-.6 1-.3 1-.2 1-.1 1 .1 1-.2 1 .4 1-.1 1 .5 1-.2 1-.1 1-.4 1-.6 1 .1 1 .1 1 .3 1 .3 1 .1 1 0 1 .2 1-.1 1 .1 1 .3 1-.3 1 .2 1 .1 1-.1 1-.1 1-.3 1 1.7 1 .3 1-.4 1-.5 1-.6 1-.1 1 0 1-.2 1 .2 1 .1 1 .2 1-.8 1-.3 1 .1 1-.2 1 .2 1-.4 1 .2 1-.3 1 .2 1 .1 1 .1 1 .1 1 0 1 .4 1 .5 1 .3 1-.7 1-.2 1 0 1 0 1-.2 1 0 1-.1 1 .1 1 .2 1 .2 1-.3 1 .1 1-.1 1 .4 1-.4 1-.1 1 .6 1-.2 1-.5 1-.3 1 0 1 .2 1 .3 1-.2 1 .2 1 .1 1 0 1 .2 1-.1 1-.2 1 .1 1 0 1 .3 1-.3 1 .4 1-.1 1 .5 1 0 1 .4 1-.1 1 .2 1-.3 1-.3 1-.4 1 .3 1 0 1-.1 1 .1 1-.1 1 1.5 1 0 1-.3 1 0 1-.6 1-.2 1-.6 1 .2 1-.3 1-.1 1-.6 1 .2 1 0 1 0 1-.1 1-.1 1-.5 1 .3 1 .3 1 .4 1 0 1 .1 1-.3 1 .2 1 .1 1 .1 1-.1 1 0 1 .2 1-.3 1-.1 1 .1 1-.5 1 .5 1 .5 1-.4 1-.1 1-.5 1 .7 1-.2 1 .3 1-.2 1-.2 1-.5 1-.2 1 0 1 .3 1 .3 1 .1 1-.1 1 .6 1 0 1 .2 1-.2 1 .2 1 .2 1 0 1-.5 1-.3 1-.5 1 .2 1 .2 1-.2 1 .5 1 .2 1 .2 1-.7 1-.2 1 .3 1 .5 1-.2 1 .8 1 1 1-.1 1-.4 1-.6 1-1 1 .2 1 .3 1 .7 1-.3 1-.5 1-.2 1 .2 1 0 1 .1" stroke="#edb120" stroke-opacity="0.7" stroke-width="1.35"/><path d="M795 1126.1l1 .4 1 0 1 .4 1-.2 1 .1 1-.6 1 .3 1 .2 1 .6 1-.3 1-.1 1-.3 1 .1 1 .1 1 .1 1 .4 1-.2 1-.4 1-.6 1 1 1 1.4 1 0 1-.7 1-.4 1-.2 1-.2 1-.1 1 .1 1 .2 1 .1 1-.2 1-.3 1 0 1-.2 1 .5 1 .2 1-.2 1-.3 1 .1 1 .1 1 .2 1-.1 1 0 1 .2 1 .3 1 0 1-.3 1-.2 1 .8 1 .1 1-.6 1-.3 1 .2 1-.1 1-.2 1-.1 1 .2 1 .2 1 0 1-.3 1-.3 1 .4 1 .4 1 .3 1-.4 1 .6 1 0 1-.5 1-.1 1-.3 1 .2 1 .1 1-.3 1-.4 1 0 1 .1 1-.3 1 .1 1-.2 1 .4 1-.1 1 .1 1 0 1-.4 1 .1 1 0 1 .4 1-.1 1-.5 1-.1 1-.1 1 .7 1 1.8 1-.3 1-.3 1-.2 1 .1 1 .3 1-.2 1 0 1-.6 1-.4 1 0 1 0 1 0 1 .1 1 .1 1 .3 1-.3 1 .2 1-.5 1 0 1-.5 1 .1 1 .1 1 .1 1-.2 1 .1 1 .4 1 0 1-.1 1 0 1 .2 1 .4 1-.4 1-.3 1 .2 1 1 1-.4 1-.1 1-.4 1-.1 1 .2 1-.2 1 .2 1 0 1 .3 1-.5 1-.2 1 0 1-.2 1 .2 1-.5 1 .1 1 0 1 .4 1-.1 1-.3 1-.1 1 .5 1 .2 1 .1 1 0 1-.1 1 .4 1-.2 1 0 1 1.6 1 .5 1-.5 1-.7 1-.7 1 0 1-.2 1 .1 1 0 1-.5 1 0 1 .2 1-.4 1 0 1 .1 1 .1 1 0 1-.4 1-.3 1 .1 1 .3 1 .2 1 0 1-.3 1 .4 1 .7 1 .3 1-.2 1-.5 1-.4 1-.1 1-.1 1 .3 1 .3 1-.3 1-.2 1 .1 1-.1 1 0 1-.7 1 .2 1 .3 1 .5 1 .9 1 .4 1-.5 1-.4 1-.3 1-.1 1-.2 1-.3 1-.3 1 .3 1-.4 1 .3 1-.1 1 .4 1-.2 1 0 1-.3 1-.1 1 0 1 0 1-.1 1 .4 1-.2 1 .4 1 .2 1 .1 1-.1 1 .1 1 .2 1 .1 1-.1 1-.8 1-.3 1 1.8 1 .5 1 0 1-.2 1 0 1-.6 1 .1 1-.3 1 0 1-.8 1 0 1-.1 1-.1 1-.1 1 .2 1 .2 1 .2 1-.5 1 .1 1-.1 1 .3 1 0 1 0 1 0 1 .1 1-.2 1-.3 1-.5 1 .2 1-.1 1 .6 1-.1 1 .1 1 .6 1 .9 1-.5 1-.4 1-.4 1 0 1 .1 1 .1 1 .1 1 0 1-.2 1 .2 1 .1 1-.3 1 .4 1 .2 1-.1 1 .2 1 .1 1 .3 1-.2 1-.3 1 .3 1 .3 1-.6 1-.3 1 0 1 0 1-.1 1 0 1 .1 1-.5 1-.3 1-.2 1 .8 1-.5 1 .2 1-.2 1 1.5 1 1.2 1-.1 1-.7 1 .1 1-.2 1-.2 1-.4 1 .1 1 .1 1-.2 1 .1 1 .3 1-.1 1-.3" stroke="#7e2f8e" stroke-opacity="0.7" stroke-width="1.35"/><path d="M795 1141.4l1-.2 1 .5 1 .1 1-.1 1 0 1-.4 1-.4 1-.2 1 .3 1 0 1 .3 1 .1 1 .2 1-.4 1-.2 1 .1 1 .1 1 0 1-.3 1 1.1 1 1.9 1-.6 1-.7 1-.7 1-.1 1-.4 1-.4 1 .2 1-.1 1-.8 1-.1 1-.5 1 .1 1-.5 1 .6 1-.7 1 .1 1 0 1 .1 1 .1 1 .2 1 .1 1 1.1 1 .1 1 .1 1-.6 1 .5 1 .5 1 .7 1 .2 1 .4 1-.1 1-.2 1-.4 1 .2 1 0 1 0 1 .3 1-.4 1 .2 1-.4 1 .3 1 .1 1-.3 1 0 1 1.1 1 .1 1-.3 1-.4 1 .1 1-.7 1-.5 1-.4 1 .1 1 0 1 .2 1 0 1 0 1-.4 1 0 1-.6 1 .4 1-.3 1 0 1-.1 1-.1 1 .5 1-.5 1 0 1-.4 1 .5 1 .6 1 2.1 1 .1 1-.3 1-.2 1 .3 1-.9 1-.1 1-.5 1 .2 1 .1 1-.1 1 .1 1-.4 1-.5 1-.1 1 0 1 0 1 0 1 .3 1-.4 1-.4 1 .6 1 0 1-.2 1-.3 1-.3 1 .5 1-.3 1 .4 1 .3 1 0 1 0 1 0 1-.2 1 1 1 .7 1-.2 1-.9 1-.3 1-.4 1 0 1-.1 1 .4 1 .1 1 .6 1-.3 1-.1 1-.5 1-.1 1 .3 1 .2 1 .1 1-.7 1-.6 1-.1 1 .3 1 .5 1 .4 1 .7 1 .2 1-.6 1 .2 1 .3 1-.2 1-.5 1 1.9 1 .4 1-.4 1 .6 1-.1 1-.4 1-1.1 1-.3 1-.5 1-.3 1 .6 1 .2 1-.5 1-.7 1 .2 1-.4 1 .2 1-.1 1-.5 1-.1 1-.7 1 .5 1 .8 1 0 1 .3 1 .3 1 .4 1-.4 1 .3 1-.1 1 .4 1-.2 1-.2 1 .3 1-.2 1-.2 1 .5 1 .3 1 0 1-.2 1 .2 1 .8 1 0 1 1.1 1 0 1 .1 1-.2 1-.3 1-.7 1-.3 1 .5 1 .3 1-.3 1-.3 1-.4 1 .6 1 .2 1 .3 1-.3 1-.5 1-.5 1-.6 1-.1 1-.1 1 0 1-.6 1 0 1 .1 1 .2 1 .1 1 .2 1-.7 1 .3 1 0 1 .4 1 .6 1 2.6 1 .1 1-.3 1-.7 1-.5 1-.2 1 .1 1-.3 1-.1 1 .1 1 .1 1 .2 1-.2 1-.1 1 0 1-.1 1 .2 1-.2 1-.3 1-.6 1-.1 1-.2 1 .5 1-.2 1-.1 1 .3 1 .2 1 .1 1 .1 1-.6 1-.1 1 0 1 .4 1 .8 1 1.2 1-.8 1-.8 1-.7 1-.3 1 0 1-.9 1-.4 1 .5 1 0 1 .2 1-.3 1 .2 1-.5 1-.3 1 .1 1 0 1 .2 1-.1 1 .1 1-.3 1-.2 1 .2 1 .2 1 .6 1-.5 1-.3 1-.1 1 0 1 .1 1 .2 1 .5 1-.2 1-.1 1-.1 1 .4 1 .1 1 1 1 1.1 1-.4 1-.2 1-.5 1-.4 1-.5 1 .2 1-.3 1 0 1 .3 1-.1 1-.1 1-.4 1-.5" stroke="#77ac30" stroke-opacity="0.7" stroke-width="1.35"/><path d="M795 1155.9l1-1 1-.2 1 0 1 .4 1 .2 1 .2 1-.7 1 0 1 .4 1 .3 1-.3 1-.4 1-.5 1 0 1-.1 1 .5 1-.1 1-.1 1 0 1 1.4 1 1.7 1-.3 1-.7 1-.5 1-.6 1-.1 1-.2 1 .5 1-.4 1-.1 1-.2 1-.1 1-.7 1-.1 1 .4 1 .4 1 .6 1 .3 1-.6 1-.1 1 .1 1 .2 1 .1 1 .5 1 .4 1 .2 1-.3 1-.3 1 .2 1 .2 1-.2 1 0 1 0 1 0 1-.5 1-.5 1 0 1-.9 1 .2 1 .4 1 0 1-.3 1-.1 1 0 1-.3 1 .9 1-.3 1 0 1 .2 1-.2 1 .4 1-.5 1-.2 1-.4 1-.2 1-.1 1-.4 1-.1 1 .8 1 .1 1-.1 1 0 1 .1 1-.1 1-.3 1-.2 1-.2 1 .1 1-.1 1 0 1-.6 1-.1 1 3.2 1 .5 1-.4 1-.1 1-.3 1 .2 1 0 1-.5 1 .4 1 .2 1-.3 1-.3 1 0 1-.3 1-.7 1-.3 1 .2 1-.1 1 .4 1 .3 1 0 1 0 1 .5 1-.3 1-.6 1 .6 1 .3 1 .2 1 0 1-.4 1-.2 1-.2 1-.1 1 .2 1 1.2 1 .9 1-.5 1-.7 1-.4 1-.2 1 .3 1-.1 1-.1 1-.2 1-.2 1-.1 1-.4 1-.2 1 .3 1-.1 1-.5 1 .2 1 .1 1 .1 1 .3 1-.9 1-.2 1-.2 1 .4 1 .2 1-.2 1-.7 1 .1 1 .1 1 .5 1 2.5 1 .1 1-.3 1-.2 1-.7 1-.2 1 .4 1-.4 1 .2 1-.6 1 0 1 0 1-.4 1 .6 1 .1 1 .5 1-.1 1 .1 1-.2 1 .2 1-.6 1-.3 1-.1 1 .3 1-.4 1 .8 1 .3 1 .6 1 0 1-.6 1 .3 1-.2 1 .1 1 .1 1-.1 1-.1 1-.1 1-.5 1-.6 1-.1 1-.2 1 0 1 .2 1 1.3 1 .1 1 .5 1-.7 1 .4 1-.7 1-.1 1-.5 1-.3 1 .1 1 .2 1-.2 1-.2 1-.7 1-.2 1 .3 1 1.1 1-.1 1 .5 1-.1 1 .1 1-.5 1-.1 1-.2 1 .7 1-.4 1-.2 1-.4 1 .4 1 .4 1 .3 1-.1 1-.4 1 2.7 1 .1 1-.6 1-.5 1-1.2 1-.7 1-.4 1 .2 1 .1 1 .5 1 .3 1 .3 1-.2 1-.6 1 .3 1 .7 1 .2 1-.2 1-.6 1 .4 1 .3 1-.1 1 .1 1 .3 1-.1 1-.3 1 .2 1 .4 1 .1 1-.6 1-.5 1 .1 1-.4 1 .5 1 .2 1-.8 1-.4 1 .3 1 .7 1-.3 1-.6 1-.6 1 .5 1 .3 1-.1 1 .5 1-.1 1-.3 1-.2 1-.1 1 .5 1-.2 1 .2 1 .8 1 .7 1-.1 1-.3 1-.3 1 .8 1-.1 1 .1 1 0 1 .1 1-.2 1-.1 1 .1 1-.5 1 .3 1-.1 1 .3 1-.4 1 1.3 1 2 1-.5 1-1.4 1-.9 1-.2 1-.3 1-.3 1-.5 1 .1 1 .2 1 .2 1-.2 1 0 1 .2" stroke="#4dbeee" stroke-opacity="0.7" stroke-width="1.35"/><path d="M795 1169.4l1 .1 1 0 1 0 1 0 1-.3 1 .4 1 .1 1 0 1 .7 1-.4 1 0 1 .3 1 .4 1 .2 1-.8 1 .1 1-.2 1 0 1 .3 1 .5 1 1.5 1 0 1 .1 1-.5 1-.3 1-.5 1-.1 1-.5 1-.8 1 0 1-.6 1 0 1-.3 1-.7 1-.4 1 .5 1-.1 1 .5 1-.1 1-.2 1 .5 1 .3 1 .1 1-.5 1-.2 1 .3 1 .7 1 0 1 .6 1 .1 1-.4 1 0 1-.1 1-.3 1 .5 1-.1 1 .1 1 .1 1-.4 1-.1 1 .3 1 0 1 0 1 0 1 .5 1 1.1 1 .3 1-.2 1-.1 1-.7 1-.3 1-.3 1 0 1-.1 1 .7 1 .3 1-.1 1-.4 1-.5 1 .1 1-.3 1-.1 1-.1 1 .3 1-.1 1-.6 1-.2 1 .3 1 0 1-.2 1 .2 1-.2 1 2.1 1 0 1-.1 1-.6 1-.3 1-.3 1-.2 1-.2 1 0 1 .2 1 .4 1 .4 1 .4 1-.5 1-.3 1-.3 1 .4 1 .1 1-.2 1-.3 1-.1 1 .4 1-.1 1-.1 1-.3 1 .5 1-.2 1 .3 1-.6 1 .6 1-.5 1 .1 1-.1 1 .4 1 0 1 .6 1-.2 1 .3 1-.1 1-.4 1-.8 1 .3 1 .2 1 .4 1-.4 1-.4 1 .1 1 0 1 .2 1 0 1-.2 1-.4 1-.4 1 .1 1-.2 1 .1 1 .1 1 0 1 .1 1 .2 1-.2 1-.4 1-.4 1-.1 1 .4 1 1.8 1 .1 1-.3 1-.1 1-.3 1-.8 1-.2 1-.1 1 .4 1-.3 1 .2 1-.1 1-.4 1 0 1-.5 1-.6 1 .5 1 .2 1 0 1 .1 1-.2 1 .6 1-.4 1 .9 1-.2 1 .1 1 .3 1-.6 1 .2 1 .5 1 .4 1 .2 1 0 1 .5 1 .1 1-.2 1-.1 1-.3 1 0 1-.5 1 .5 1 0 1 .4 1 .8 1-.9 1 .2 1 0 1 .2 1-.4 1-.1 1-.4 1 .2 1-.2 1 .1 1-.2 1 0 1-.6 1 .4 1 .2 1 .3 1-.1 1-.3 1-.5 1-.2 1-.5 1 0 1-.3 1 0 1 .2 1 .4 1-.5 1 .2 1 .4 1 .6 1 .1 1-.2 1 1.7 1-.3 1 0 1-.6 1 .2 1 .1 1-.1 1 .1 1-.3 1 .3 1 .4 1-.7 1 0 1-.2 1 0 1-.1 1 .3 1-.3 1 .5 1-.8 1 .5 1-.4 1 .5 1 0 1 .2 1-.4 1-.2 1-.3 1-.1 1 .5 1-.1 1-.3 1 0 1 .7 1 1 1 .2 1 .3 1 0 1-.3 1-.5 1 .6 1-1 1-.4 1-.1 1 .5 1 .2 1 .2 1-.1 1 .2 1-.7 1 .1 1 0 1 .5 1-.3 1-.2 1-.5 1-.1 1-.7 1-.3 1 .2 1-.3 1 .3 1 .9 1 .5 1 .3 1-.6 1 .1 1-.3 1 .4 1 .1 1 .5 1 1 1 1.4 1-.5 1-.8 1-.3 1 .3 1-.4 1 .4 1-.2 1-.2 1-.2 1-.5 1 .1 1 .3 1-.3" stroke="#a2142f" stroke-opacity="0.7" stroke-width="1.35"/><path d="M795 1184.8l1 0 1 .2 1 0 1 .2 1-.5 1-.4 1 .2 1-.2 1 .1 1-.4 1-.2 1-.1 1 .3 1-.4 1-.2 1 .7 1 .3 1 .2 1-.9 1 .9 1 .5 1 .2 1-.4 1-.3 1-.2 1-.7 1 0 1-.1 1 .2 1 .1 1 .2 1 .1 1 0 1 0 1 0 1 0 1 .1 1 .3 1 .2 1 0 1 .2 1 .1 1-.3 1-.3 1-.1 1 .1 1 .5 1-.2 1 1 1 .1 1-.5 1-.6 1-.4 1-.3 1 0 1-.4 1-.3 1 .4 1-.2 1 .3 1-.7 1-.3 1-.7 1 .1 1 .1 1 1.7 1-.2 1 .3 1-.3 1 .1 1-.1 1-.2 1 .1 1 .2 1 0 1-.6 1-.2 1 .2 1 .5 1 .1 1 .4 1-.2 1 .1 1 .5 1 .6 1 0 1 0 1-.6 1-.2 1-.3 1 .4 1 .1 1 1.7 1-.3 1-.2 1-.6 1 .3 1-.5 1-.4 1-.7 1-.2 1 .2 1-.3 1 .5 1-1 1-.2 1 0 1-.3 1 .2 1-.2 1-.3 1-.1 1 0 1 .3 1 0 1-.1 1 .3 1-.5 1 .7 1-.2 1 .7 1-.3 1-.4 1 .2 1-.2 1 .2 1 .4 1 .2 1 .4 1-.2 1-.1 1-.3 1-.1 1 0 1-.4 1 .3 1-.6 1-.2 1 .4 1 .2 1 .1 1-1 1-.8 1 .7 1 0 1 .7 1-.4 1-.5 1 .4 1 .1 1 .6 1-.2 1 .3 1 .1 1-.1 1 .1 1-.2 1 2.1 1 .6 1-.4 1-.4 1-.7 1-.1 1-.1 1-.3 1 .6 1-.1 1 .2 1-.2 1 .2 1-.3 1-.6 1-.2 1 .4 1 .1 1 .2 1 .2 1-.1 1 .5 1 .4 1 .1 1-.5 1 .5 1 .2 1 .2 1-.4 1-.7 1-.7 1 .1 1 0 1-.4 1 0 1 .1 1-.2 1-.2 1 .5 1-.1 1-.5 1 0 1 .2 1 .5 1 .4 1-.5 1 .1 1-.3 1 .1 1-.4 1 0 1 0 1 .1 1 .1 1 .1 1 0 1 0 1 0 1-.4 1 .1 1 .2 1-.1 1-.1 1-.2 1 .2 1-.1 1-.1 1-.3 1 .4 1 .4 1-.5 1-.1 1-.2 1 .4 1-.6 1-.2 1 1.9 1-.2 1-.2 1-.3 1-.3 1-.3 1-.4 1-.1 1-.1 1 .1 1-.5 1-.2 1 .4 1 .1 1 0 1 .3 1-.2 1 .3 1 .3 1 .9 1-.5 1-.1 1-.2 1 .3 1 .1 1-.3 1-.4 1 .2 1 .8 1 .2 1 .1 1-.5 1-.3 1 .3 1 .9 1-.4 1-1.1 1-.4 1 .2 1 .1 1-.3 1 .2 1-.3 1-.2 1 0 1 .3 1 .5 1 0 1-.6 1 0 1-.1 1 .7 1 .8 1 .3 1 .2 1-.7 1-.1 1-.1 1 .1 1-.1 1 .4 1 .4 1-.4 1-.3 1-.4 1 .4 1 .6 1 0 1 .2 1-.5 1 0 1 .4 1 1.2 1-.5 1 .2 1 0 1-.1 1-.2 1-.3 1-.7 1-.1 1 .2 1 .5 1 0 1-.4 1 0" stroke="#0072bd" stroke-opacity="0.7" stroke-width="1.35"/><path d="M795 1197.2l1 .4 1 .3 1-.5 1 0 1-.5 1 .2 1 .1 1 .3 1-.1 1-.6 1 .1 1-.4 1 .1 1 .3 1 .6 1 .3 1 0 1 .1 1 .1 1 .5 1 1.1 1-.5 1 .3 1-.3 1 0 1 .2 1-.5 1-.8 1 .1 1 .1 1 .3 1-.3 1-.3 1 0 1-.3 1 .2 1 .1 1 0 1-.1 1 .1 1-.7 1 .8 1-.5 1 .3 1-.2 1-.5 1-.3 1 .1 1 .7 1 0 1-.7 1 0 1 .3 1 0 1-.4 1-.5 1-.6 1 .2 1-.1 1 .5 1-.3 1 .2 1-.1 1 .3 1 .3 1 .6 1-.1 1 0 1 .2 1 .1 1-.1 1-.4 1 0 1 .6 1-.2 1-.2 1-.1 1 .3 1-.2 1 .6 1-.4 1-.4 1-.8 1-.8 1-.1 1-.1 1-.1 1 .3 1-.2 1-.1 1-.1 1 .2 1 2 1 .2 1-1 1-.2 1 .1 1 .2 1-.2 1 .5 1-.4 1 .1 1-.3 1 .3 1 .4 1 .4 1 .6 1-.3 1-.4 1-.2 1 .7 1 .2 1 .6 1-.6 1-.2 1-.1 1 .6 1 .1 1-.8 1 .1 1-.4 1-.4 1-.4 1 .4 1-.5 1 .1 1 .2 1 .6 1 .5 1-.3 1 0 1-.8 1 .1 1-.2 1 .3 1 0 1-.2 1 .2 1-.7 1 .5 1-.2 1 .4 1 .2 1 .7 1 .2 1 .5 1-.5 1 .2 1-.3 1 0 1 .3 1-.3 1 .3 1 0 1-.1 1-.3 1 .1 1 2.4 1 .1 1-.3 1-.2 1-.4 1 .4 1-.5 1-.7 1-.7 1-.5 1 .2 1 0 1-.5 1-.4 1 .2 1 .3 1 0 1-.5 1-.3 1-.1 1 .6 1 .2 1 .7 1-.1 1-.2 1 .4 1 .3 1 .1 1-.3 1-.5 1 .2 1 0 1 .1 1 0 1 .1 1-.7 1 .1 1-.4 1 .2 1 .4 1-.3 1-.6 1-.2 1 .8 1 .2 1 0 1-.4 1-.3 1-.1 1 .6 1 .3 1-.1 1 0 1 .5 1 .5 1 .7 1 .4 1-.7 1-.4 1-.4 1 0 1 .2 1-.2 1-.1 1 .4 1 0 1 .1 1-.4 1-.4 1 .3 1-.8 1 0 1-.1 1 0 1-.4 1-.2 1 1.7 1 0 1-.3 1-.4 1 .5 1 .3 1 .1 1-.3 1-.1 1-.6 1 0 1 0 1 .3 1 .7 1 .2 1 .3 1 .1 1 .2 1-.1 1-.1 1-.6 1 .1 1-.1 1 .4 1 .2 1 .5 1-.2 1 0 1-.3 1 .1 1 .3 1 .4 1-.3 1 .5 1 0 1 0 1 .1 1-.2 1 .4 1-.8 1-.4 1-.5 1 .3 1 .4 1 0 1-.4 1-.1 1-.2 1-.1 1 .1 1 .5 1-.5 1-.7 1-.6 1 0 1 .1 1 .5 1 .2 1 0 1-.4 1-.8 1 .2 1-.1 1 0 1 .6 1-.3 1 .2 1-.5 1 .3 1 .3 1-.5 1 .7 1 .8 1-.2 1-1 1 0 1 0 1 0 1 0 1 .1 1-.4 1 .3 1-.8 1 .4 1 .4 1 .2" stroke="#d95319" stroke-opacity="0.7" stroke-width="1.35"/></g><defs><radialGradient id="g0"><stop offset="0" stop-color="#5f5f5f" stop-opacity="0.900"/><stop offset="0.500" stop-color="#5f5f5f" stop-opacity="0.900"/><stop offset="0.583" stop-color="#5f5f5f" stop-opacity="0.828"/><stop offset="0.667" stop-color="#5f5f5f" stop-opacity="0.661"/><stop offset="0.750" stop-color="#5f5f5f" stop-opacity="0.451"/><stop offset="0.833" stop-color="#5f5f5f" stop-opacity="0.254"/><stop offset="0.917" stop-color="#5f5f5f" stop-opacity="0.101"/><stop offset="1.000" stop-color="#5f5f5f" stop-opacity="0.000"/></radialGradient><radialGradient id="g1"><stop offset="0" stop-color="#8f8f8f" stop-opacity="0.900"/><stop offset="0.200" stop-color="#8f8f8f" stop-opacity="0.900"/><stop offset="0.333" stop-color="#8f8f8f" stop-opacity="0.828"/><stop offset="0.467" stop-color="#8f8f8f" stop-opacity="0.661"/><stop offset="0.600" stop-color="#8f8f8f" stop-opacity="0.451"/><stop offset="0.733" stop-color="#8f8f8f" stop-opacity="0.254"/><stop offset="0.867" stop-color="#8f8f8f" stop-opacity="0.101"/><stop offset="1.000" stop-color="#8f8f8f" stop-opacity="0.000"/></radialGradient><radialGradient id="g2"><stop offset="0" stop-color="#9f9f9f" stop-opacity="0.900"/><stop offset="0.200" stop-color="#9f9f9f" stop-opacity="0.900"/><stop offset="0.333" stop-color="#9f9f9f" stop-opacity="0.828"/><stop offset="0.467" stop-color="#9f9f9f" stop-opacity="0.661"/><stop offset="0.600" stop-color="#9f9f9f" stop-opacity="0.451"/><stop offset="0.733" stop-color="#9f9f9f" stop-opacity="0.254"/><stop offset="0.867" stop-color="#9f9f9f" stop-opacity="0.101"/><stop offset="1.000" stop-color="#9f9f9f" stop-opacity="0.000"/></radialGradient><radialGradient id="g3"><stop offset="0" stop-color="#727272" stop-opacity="0.700"/><stop offset="0.300" stop-color="#727272" stop-opacity="0.700"/><stop offset="0.417" stop-color="#727272" stop-opacity="0.644"/><stop offset="0.533" stop-color="#727272" stop-opacity="0.514"/><stop offset="0.650" stop-color="#727272" stop-opacity="0.351"/><stop offset="0.767" stop-color="#727272" stop-opacity="0.197"/><stop offset="0.883" stop-color="#727272" stop-opacity="0.079"/><stop offset="1.000" stop-color="#727272" stop-opacity="0.000"/></radialGradient><radialGradient id="g4"><stop offset="0" stop-color="#808080" stop-opacity="0.600"/><stop offset="0.300" stop-color="#808080" stop-opacity="0.600"/><stop offset="0.417" stop-color="#808080" stop-opacity="0.552"/><stop offset="0.533" stop-color="#808080" stop-opacity="0.441"/><stop offset="0.650" stop-color="#808080" stop-opacity="0.301"/><stop offset="0.767" stop-color="#808080" stop-opacity="0.169"/><stop offset="0.883" stop-color="#808080" stop-opacity="0.067"/><stop offset="1.000" stop-color="#808080" stop-opacity="0.000"/></radialGradient><radialGradient id="g5"><stop offset="0" stop-color="#8b8b8b" stop-opacity="0.900"/><stop offset="0.300" stop-color="#8b8b8b" stop-opacity="0.900"/><stop offset="0.417" stop-color="#8b8b8b" stop-opacity="0.828"/><stop offset="0.533" stop-color="#8b8b8b" stop-opacity="0.661"/><stop offset="0.650" stop-color="#8b8b8b" stop-opacity="0.451"/><stop offset="0.767" stop-color="#8b8b8b" stop-opacity="0.254"/><stop offset="0.883" stop-color="#8b8b8b" stop-opacity="0.101"/><stop offset="1.000" stop-color="#8b8b8b" stop-opacity="0.000"/></radialGradient><radialGradient id="g6"><stop offset="0" stop-color="#878787" stop-opacity="0.800"/><stop offset="0.300" stop-color="#878787" stop-opacity="0.800"/><stop offset="0.417" stop-color="#878787" stop-opacity="0.736"/><stop offset="0.533" stop-color="#878787" stop-opacity="0.588"/><stop offset="0.650" stop-color="#878787" stop-opacity="0.401"/><stop offset="0.767" stop-color="#878787" stop-opacity="0.225"/><stop offset="0.883" stop-color="#878787" stop-opacity="0.090"/><stop offset="1.000" stop-color="#878787" stop-opacity="0.000"/></radialGradient><radialGradient id="g7"><stop offset="0" stop-color="#979797" stop-opacity="0.950"/><stop offset="0.250" stop-color="#979797" stop-opacity="0.950"/><stop offset="0.375" stop-color="#979797" stop-opacity="0.874"/><stop offset="0.500" stop-color="#979797" stop-opacity="0.698"/><stop offset="0.625" stop-color="#979797" stop-opacity="0.477"/><stop offset="0.750" stop-color="#979797" stop-opacity="0.268"/><stop offset="0.875" stop-color="#979797" stop-opacity="0.107"/><stop offset="1.000" stop-color="#979797" stop-opacity="0.000"/></radialGradient><radialGradient id="g8"><stop offset="0" stop-color="#595959" stop-opacity="1.000"/><stop offset="0.150" stop-color="#595959" stop-opacity="1.000"/><stop offset="0.292" stop-color="#595959" stop-opacity="0.920"/><stop offset="0.433" stop-color="#595959" stop-opacity="0.735"/><stop offset="0.575" stop-color="#595959" stop-opacity="0.502"/><stop offset="0.717" stop-color="#595959" stop-opacity="0.282"/><stop offset="0.858" stop-color="#595959" stop-opacity="0.112"/><stop offset="1.000" stop-color="#595959" stop-opacity="0.000"/></radialGradient><radialGradient id="g9"><stop offset="0" stop-color="#707070" stop-opacity="0.800"/><stop offset="0.300" stop-color="#707070" stop-opacity="0.800"/><stop offset="0.417" stop-color="#707070" stop-opacity="0.736"/><stop offset="0.533" stop-color="#707070" stop-opacity="0.588"/><stop offset="0.650" stop-color="#707070" stop-opacity="0.401"/><stop offset="0.767" stop-color="#707070" stop-opacity="0.225"/><stop offset="0.883" stop-color="#707070" stop-opacity="0.090"/><stop offset="1.000" stop-color="#707070" stop-opacity="0.000"/></radialGradient><radialGradient id="g10"><stop offset="0" stop-color="#8f8f8f" stop-opacity="0.900"/><stop offset="0.300" stop-color="#8f8f8f" stop-opacity="0.900"/><stop offset="0.417" stop-color="#8f8f8f" stop-opacity="0.828"/><stop offset="0.533" stop-color="#8f8f8f" stop-opacity="0.661"/><stop offset="0.650" stop-color="#8f8f8f" stop-opacity="0.451"/><stop offset="0.767" stop-color="#8f8f8f" stop-opacity="0.254"/><stop offset="0.883" stop-color="#8f8f8f" stop-opacity="0.101"/><stop offset="1.000" stop-color="#8f8f8f" stop-opacity="0.000"/></radialGradient><radialGradient id="g11"><stop offset="0" stop-color="#9f9f9f" stop-opacity="1.000"/><stop offset="0.300" stop-color="#9f9f9f" stop-opacity="1.000"/><stop offset="0.417" stop-color="#9f9f9f" stop-opacity="0.920"/><stop offset="0.533" stop-color="#9f9f9f" stop-opacity="0.735"/><stop offset="0.650" stop-color="#9f9f9f" stop-opacity="0.502"/><stop offset="0.767" stop-color="#9f9f9f" stop-opacity="0.282"/><stop offset="0.883" stop-color="#9f9f9f" stop-opacity="0.112"/><stop offset="1.000" stop-color="#9f9f9f" stop-opacity="0.000"/></radialGradient><radialGradient id="g12"><stop offset="0" stop-color="#bababa" stop-opacity="1.000"/><stop offset="0.200" stop-color="#bababa" stop-opacity="1.000"/><stop offset="0.333" stop-color="#bababa" stop-opacity="0.920"/><stop offset="0.467" stop-color="#bababa" stop-opacity="0.735"/><stop offset="0.600" stop-color="#bababa" stop-opacity="0.502"/><stop offset="0.733" stop-color="#bababa" stop-opacity="0.282"/><stop offset="0.867" stop-color="#bababa" stop-opacity="0.112"/><stop offset="1.000" stop-color="#bababa" stop-opacity="0.000"/></radialGradient><radialGradient id="g13"><stop offset="0" stop-color="#939393" stop-opacity="0.900"/><stop offset="0.300" stop-color="#939393" stop-opacity="0.900"/><stop offset="0.417" stop-color="#939393" stop-opacity="0.828"/><stop offset="0.533" stop-color="#939393" stop-opacity="0.661"/><stop offset="0.650" stop-color="#939393" stop-opacity="0.451"/><stop offset="0.767" stop-color="#939393" stop-opacity="0.254"/><stop offset="0.883" stop-color="#939393" stop-opacity="0.101"/><stop offset="1.000" stop-color="#939393" stop-opacity="0.000"/></radialGradient><radialGradient id="g14"><stop offset="0" stop-color="#575757" stop-opacity="1.000"/><stop offset="0.200" stop-color="#575757" stop-opacity="1.000"/><stop offset="0.333" stop-color="#575757" stop-opacity="0.920"/><stop offset="0.467" stop-color="#575757" stop-opacity="0.735"/><stop offset="0.600" stop-color="#575757" stop-opacity="0.502"/><stop offset="0.733" stop-color="#575757" stop-opacity="0.282"/><stop offset="0.867" stop-color="#575757" stop-opacity="0.112"/><stop offset="1.000" stop-color="#575757" stop-opacity="0.000"/></radialGradient><radialGradient id="g15"><stop offset="0" stop-color="#5f5f5f" stop-opacity="0.900"/><stop offset="0.300" stop-color="#5f5f5f" stop-opacity="0.900"/><stop offset="0.417" stop-color="#5f5f5f" stop-opacity="0.828"/><stop offset="0.533" stop-color="#5f5f5f" stop-opacity="0.661"/><stop offset="0.650" stop-color="#5f5f5f" stop-opacity="0.451"/><stop offset="0.767" stop-color="#5f5f5f" stop-opacity="0.254"/><stop offset="0.883" stop-color="#5f5f5f" stop-opacity="0.101"/><stop offset="1.000" stop-color="#5f5f5f" stop-opacity="0.000"/></radialGradient><radialGradient id="g16"><stop offset="0" stop-color="#979797" stop-opacity="0.900"/><stop offset="0.300" stop-color="#979797" stop-opacity="0.900"/><stop offset="0.417" stop-color="#979797" stop-opacity="0.828"/><stop offset="0.533" stop-color="#979797" stop-opacity="0.661"/><stop offset="0.650" stop-color="#979797" stop-opacity="0.451"/><stop offset="0.767" stop-color="#979797" stop-opacity="0.254"/><stop offset="0.883" stop-color="#979797" stop-opacity="0.101"/><stop offset="1.000" stop-color="#979797" stop-opacity="0.000"/></radialGradient><radialGradient id="g17"><stop offset="0" stop-color="#5f5f5f" stop-opacity="0.900"/><stop offset="0.200" stop-color="#5f5f5f" stop-opacity="0.900"/><stop offset="0.333" stop-color="#5f5f5f" stop-opacity="0.828"/><stop offset="0.467" stop-color="#5f5f5f" stop-opacity="0.661"/><stop offset="0.600" stop-color="#5f5f5f" stop-opacity="0.451"/><stop offset="0.733" stop-color="#5f5f5f" stop-opacity="0.254"/><stop offset="0.867" stop-color="#5f5f5f" stop-opacity="0.101"/><stop offset="1.000" stop-color="#5f5f5f" stop-opacity="0.000"/></radialGradient><radialGradient id="g18"><stop offset="0" stop-color="#8f8f8f" stop-opacity="0.800"/><stop offset="0.200" stop-color="#8f8f8f" stop-opacity="0.800"/><stop offset="0.333" stop-color="#8f8f8f" stop-opacity="0.736"/><stop offset="0.467" stop-color="#8f8f8f" stop-opacity="0.588"/><stop offset="0.600" stop-color="#8f8f8f" stop-opacity="0.401"/><stop offset="0.733" stop-color="#8f8f8f" stop-opacity="0.225"/><stop offset="0.867" stop-color="#8f8f8f" stop-opacity="0.090"/><stop offset="1.000" stop-color="#8f8f8f" stop-opacity="0.000"/></radialGradient><radialGradient id="g19"><stop offset="0" stop-color="#575757" stop-opacity="1.000"/><stop offset="0.500" stop-color="#575757" stop-opacity="1.000"/><stop offset="0.583" stop-color="#575757" stop-opacity="0.920"/><stop offset="0.667" stop-color="#575757" stop-opacity="0.735"/><stop offset="0.750" stop-color="#575757" stop-opacity="0.502"/><stop offset="0.833" stop-color="#575757" stop-opacity="0.282"/><stop offset="0.917" stop-color="#575757" stop-opacity="0.112"/><stop offset="1.000" stop-color="#575757" stop-opacity="0.000"/></radialGradient><radialGradient id="g20"><stop offset="0" stop-color="#3a3a3a" stop-opacity="1.000"/><stop offset="0.600" stop-color="#3a3a3a" stop-opacity="1.000"/><stop offset="0.667" stop-color="#3a3a3a" stop-opacity="0.920"/><stop offset="0.733" stop-color="#3a3a3a" stop-opacity="0.735"/><stop offset="0.800" stop-color="#3a3a3a" stop-opacity="0.502"/><stop offset="0.867" stop-color="#3a3a3a" stop-opacity="0.282"/><stop offset="0.933" stop-color="#3a3a3a" stop-opacity="0.112"/><stop offset="1.000" stop-color="#3a3a3a" stop-opacity="0.000"/></radialGradient><radialGradient id="g21"><stop offset="0" stop-color="#aaaaaa" stop-opacity="0.900"/><stop offset="0.300" stop-color="#aaaaaa" stop-opacity="0.900"/><stop offset="0.417" stop-color="#aaaaaa" stop-opacity="0.828"/><stop offset="0.533" stop-color="#aaaaaa" stop-opacity="0.661"/><stop offset="0.650" stop-color="#aaaaaa" stop-opacity="0.451"/><stop offset="0.767" stop-color="#aaaaaa" stop-opacity="0.254"/><stop offset="0.883" stop-color="#aaaaaa" stop-opacity="0.101"/><stop offset="1.000" stop-color="#aaaaaa" stop-opacity="0.000"/></radialGradient><radialGradient id="g22"><stop offset="0" stop-color="#c5c5c5" stop-opacity="1.000"/><stop offset="0.350" stop-color="#c5c5c5" stop-opacity="1.000"/><stop offset="0.458" stop-color="#c5c5c5" stop-opacity="0.920"/><stop offset="0.567" stop-color="#c5c5c5" stop-opacity="0.735"/><stop offset="0.675" stop-color="#c5c5c5" stop-opacity="0.502"/><stop offset="0.783" stop-color="#c5c5c5" stop-opacity="0.282"/><stop offset="0.892" stop-color="#c5c5c5" stop-opacity="0.112"/><stop offset="1.000" stop-color="#c5c5c5" stop-opacity="0.000"/></radialGradient><radialGradient id="g23"><stop offset="0" stop-color="#f4f4f4" stop-opacity="1.000"/><stop offset="0.500" stop-color="#f4f4f4" stop-opacity="1.000"/><stop offset="0.583" stop-color="#f4f4f4" stop-opacity="0.920"/><stop offset="0.667" stop-color="#f4f4f4" stop-opacity="0.735"/><stop offset="0.750" stop-color="#f4f4f4" stop-opacity="0.502"/><stop offset="0.833" stop-color="#f4f4f4" stop-opacity="0.282"/><stop offset="0.917" stop-color="#f4f4f4" stop-opacity="0.112"/><stop offset="1.000" stop-color="#f4f4f4" stop-opacity="0.000"/></radialGradient><radialGradient id="g24"><stop offset="0" stop-color="#323232" stop-opacity="0.900"/><stop offset="0.300" stop-color="#323232" stop-opacity="0.900"/><stop offset="0.417" stop-color="#323232" stop-opacity="0.828"/><stop offset="0.533" stop-color="#323232" stop-opacity="0.661"/><stop offset="0.650" stop-color="#323232" stop-opacity="0.451"/><stop offset="0.767" stop-color="#323232" stop-opacity="0.254"/><stop offset="0.883" stop-color="#323232" stop-opacity="0.101"/><stop offset="1.000" stop-color="#323232" stop-opacity="0.000"/></radialGradient><filter id="b45" x="-50%" y="-50%" width="200%" height="200%" color-interpolation-filters="sRGB"><feGaussianBlur stdDeviation="4.499977500112499"/></filter><filter id="b30" x="-50%" y="-50%" width="200%" height="200%" color-interpolation-filters="sRGB"><feGaussianBlur stdDeviation="2.9999850000749997"/></filter><radialGradient id="g27"><stop offset="0" stop-color="#020202" stop-opacity="1.000"/><stop offset="0.500" stop-color="#020202" stop-opacity="1.000"/><stop offset="0.583" stop-color="#020202" stop-opacity="0.920"/><stop offset="0.667" stop-color="#020202" stop-opacity="0.735"/><stop offset="0.750" stop-color="#020202" stop-opacity="0.502"/><stop offset="0.833" stop-color="#020202" stop-opacity="0.282"/><stop offset="0.917" stop-color="#020202" stop-opacity="0.112"/><stop offset="1.000" stop-color="#020202" stop-opacity="0.000"/></radialGradient><radialGradient id="g28"><stop offset="0" stop-color="#c5c5c5" stop-opacity="1.000"/><stop offset="0.400" stop-color="#c5c5c5" stop-opacity="1.000"/><stop offset="0.500" stop-color="#c5c5c5" stop-opacity="0.920"/><stop offset="0.600" stop-color="#c5c5c5" stop-opacity="0.735"/><stop offset="0.700" stop-color="#c5c5c5" stop-opacity="0.502"/><stop offset="0.800" stop-color="#c5c5c5" stop-opacity="0.282"/><stop offset="0.900" stop-color="#c5c5c5" stop-opacity="0.112"/><stop offset="1.000" stop-color="#c5c5c5" stop-opacity="0.000"/></radialGradient><radialGradient id="g29"><stop offset="0" stop-color="#f4f4f4" stop-opacity="1.000"/><stop offset="0.600" stop-color="#f4f4f4" stop-opacity="1.000"/><stop offset="0.667" stop-color="#f4f4f4" stop-opacity="0.920"/><stop offset="0.733" stop-color="#f4f4f4" stop-opacity="0.735"/><stop offset="0.800" stop-color="#f4f4f4" stop-opacity="0.502"/><stop offset="0.867" stop-color="#f4f4f4" stop-opacity="0.282"/><stop offset="0.933" stop-color="#f4f4f4" stop-opacity="0.112"/><stop offset="1.000" stop-color="#f4f4f4" stop-opacity="0.000"/></radialGradient><filter id="hA1" filterUnits="userSpaceOnUse" x="422" y="408" width="324" height="299" color-interpolation-filters="sRGB"><feTurbulence type="fractalNoise" baseFrequency="0.13 0.016" numOctaves="2" seed="4" result="n"/><feColorMatrix in="n" type="matrix" values="1 0 0 0 0 1 0 0 0 0 1 0 0 0 0 0 0 0 0 1" result="ng"/><feComposite in="SourceGraphic" in2="ng" operator="arithmetic" k1="0" k2="1" k3="0.0912" k4="-0.0456" result="s"/><feComponentTransfer in="s"><feFuncR type="table" tableValues="0.243 0.243 0.243 0.243 0.243 0.243 0.243 0.243 0.243 0.243 0.243 0.243 0.243 0.251 0.259 0.267 0.271 0.275 0.278 0.282 0.282 0.282 0.282 0.282 0.275 0.271 0.267 0.259 0.247 0.231 0.220 0.204 0.196 0.188 0.176 0.169 0.161 0.149 0.137 0.125 0.118 0.106 0.094 0.086 0.075 0.059 0.027 0.016 0.008 0.043 0.078 0.106 0.133 0.165 0.184 0.208 0.243 0.286 0.329 0.373 0.416 0.463 0.506 0.553 0.588 0.624 0.663 0.698 0.737 0.776 0.812 0.851 0.886 0.922 0.941 0.957 0.976 0.992 0.992 0.988 0.984 0.980 0.973 0.969 0.961 0.965 0.969 0.973 0.976 0.976 0.976 0.976 0.976 0.976 0.976 0.976 0.976 0.976 0.976 0.976 0.976"/><feFuncG type="table" tableValues="0.149 0.149 0.149 0.149 0.149 0.149 0.149 0.149 0.149 0.149 0.149 0.149 0.149 0.165 0.180 0.200 0.216 0.231 0.251 0.267 0.282 0.298 0.310 0.325 0.345 0.365 0.384 0.404 0.424 0.443 0.467 0.486 0.502 0.518 0.533 0.553 0.576 0.596 0.612 0.627 0.643 0.659 0.671 0.678 0.690 0.702 0.718 0.729 0.741 0.749 0.757 0.761 0.769 0.773 0.776 0.780 0.784 0.788 0.792 0.796 0.796 0.796 0.796 0.796 0.792 0.788 0.780 0.776 0.769 0.761 0.753 0.745 0.737 0.729 0.737 0.749 0.757 0.765 0.784 0.804 0.824 0.843 0.863 0.882 0.902 0.922 0.941 0.965 0.984 0.984 0.984 0.984 0.984 0.984 0.984 0.984 0.984 0.984 0.984 0.984 0.984"/><feFuncB type="table" tableValues="0.659 0.659 0.659 0.659 0.659 0.659 0.659 0.659 0.659 0.659 0.659 0.659 0.659 0.702 0.741 0.784 0.820 0.851 0.878 0.910 0.929 0.937 0.949 0.957 0.965 0.973 0.984 0.992 0.992 0.992 0.988 0.988 0.980 0.973 0.965 0.953 0.941 0.925 0.914 0.898 0.882 0.871 0.863 0.851 0.843 0.827 0.800 0.776 0.757 0.729 0.706 0.686 0.663 0.643 0.624 0.600 0.573 0.541 0.506 0.475 0.439 0.404 0.365 0.329 0.298 0.267 0.231 0.212 0.196 0.180 0.169 0.176 0.184 0.188 0.196 0.204 0.212 0.220 0.208 0.196 0.184 0.173 0.161 0.149 0.141 0.125 0.110 0.098 0.082 0.082 0.082 0.082 0.082 0.082 0.082 0.082 0.082 0.082 0.082 0.082 0.082"/><feFuncA type="linear" slope="0" intercept="1"/></feComponentTransfer></filter><clipPath id="hA1c"><rect x="424.5" y="410.8" width="318.2" height="293.0"/></clipPath><radialGradient id="g30"><stop offset="0" stop-color="#858585" stop-opacity="0.700"/><stop offset="0.300" stop-color="#858585" stop-opacity="0.700"/><stop offset="0.417" stop-color="#858585" stop-opacity="0.644"/><stop offset="0.533" stop-color="#858585" stop-opacity="0.514"/><stop offset="0.650" stop-color="#858585" stop-opacity="0.351"/><stop offset="0.767" stop-color="#858585" stop-opacity="0.197"/><stop offset="0.883" stop-color="#858585" stop-opacity="0.079"/><stop offset="1.000" stop-color="#858585" stop-opacity="0.000"/></radialGradient><radialGradient id="g31"><stop offset="0" stop-color="#5b5b5b" stop-opacity="1.000"/><stop offset="0.300" stop-color="#5b5b5b" stop-opacity="1.000"/><stop offset="0.417" stop-color="#5b5b5b" stop-opacity="0.920"/><stop offset="0.533" stop-color="#5b5b5b" stop-opacity="0.735"/><stop offset="0.650" stop-color="#5b5b5b" stop-opacity="0.502"/><stop offset="0.767" stop-color="#5b5b5b" stop-opacity="0.282"/><stop offset="0.883" stop-color="#5b5b5b" stop-opacity="0.112"/><stop offset="1.000" stop-color="#5b5b5b" stop-opacity="0.000"/></radialGradient><radialGradient id="g32"><stop offset="0" stop-color="#575757" stop-opacity="1.000"/><stop offset="0.300" stop-color="#575757" stop-opacity="1.000"/><stop offset="0.417" stop-color="#575757" stop-opacity="0.920"/><stop offset="0.533" stop-color="#575757" stop-opacity="0.735"/><stop offset="0.650" stop-color="#575757" stop-opacity="0.502"/><stop offset="0.767" stop-color="#575757" stop-opacity="0.282"/><stop offset="0.883" stop-color="#575757" stop-opacity="0.112"/><stop offset="1.000" stop-color="#575757" stop-opacity="0.000"/></radialGradient><radialGradient id="g33"><stop offset="0" stop-color="#404040" stop-opacity="1.000"/><stop offset="0.250" stop-color="#404040" stop-opacity="1.000"/><stop offset="0.375" stop-color="#404040" stop-opacity="0.920"/><stop offset="0.500" stop-color="#404040" stop-opacity="0.735"/><stop offset="0.625" stop-color="#404040" stop-opacity="0.502"/><stop offset="0.750" stop-color="#404040" stop-opacity="0.282"/><stop offset="0.875" stop-color="#404040" stop-opacity="0.112"/><stop offset="1.000" stop-color="#404040" stop-opacity="0.000"/></radialGradient><radialGradient id="g34"><stop offset="0" stop-color="#838383" stop-opacity="0.800"/><stop offset="0.300" stop-color="#838383" stop-opacity="0.800"/><stop offset="0.417" stop-color="#838383" stop-opacity="0.736"/><stop offset="0.533" stop-color="#838383" stop-opacity="0.588"/><stop offset="0.650" stop-color="#838383" stop-opacity="0.401"/><stop offset="0.767" stop-color="#838383" stop-opacity="0.225"/><stop offset="0.883" stop-color="#838383" stop-opacity="0.090"/><stop offset="1.000" stop-color="#838383" stop-opacity="0.000"/></radialGradient><filter id="b142" x="-50%" y="-50%" width="200%" height="200%" color-interpolation-filters="sRGB"><feGaussianBlur stdDeviation="14.249928750356249"/></filter><radialGradient id="g36"><stop offset="0" stop-color="#939393" stop-opacity="0.800"/><stop offset="0.300" stop-color="#939393" stop-opacity="0.800"/><stop offset="0.417" stop-color="#939393" stop-opacity="0.736"/><stop offset="0.533" stop-color="#939393" stop-opacity="0.588"/><stop offset="0.650" stop-color="#939393" stop-opacity="0.401"/><stop offset="0.767" stop-color="#939393" stop-opacity="0.225"/><stop offset="0.883" stop-color="#939393" stop-opacity="0.090"/><stop offset="1.000" stop-color="#939393" stop-opacity="0.000"/></radialGradient><filter id="b42" x="-50%" y="-50%" width="200%" height="200%" color-interpolation-filters="sRGB"><feGaussianBlur stdDeviation="4.1999790001049995"/></filter><radialGradient id="g38"><stop offset="0" stop-color="#c7c7c7" stop-opacity="1.000"/><stop offset="0.350" stop-color="#c7c7c7" stop-opacity="1.000"/><stop offset="0.458" stop-color="#c7c7c7" stop-opacity="0.920"/><stop offset="0.567" stop-color="#c7c7c7" stop-opacity="0.735"/><stop offset="0.675" stop-color="#c7c7c7" stop-opacity="0.502"/><stop offset="0.783" stop-color="#c7c7c7" stop-opacity="0.282"/><stop offset="0.892" stop-color="#c7c7c7" stop-opacity="0.112"/><stop offset="1.000" stop-color="#c7c7c7" stop-opacity="0.000"/></radialGradient><radialGradient id="g39"><stop offset="0" stop-color="#c5c5c5" stop-opacity="1.000"/><stop offset="0.300" stop-color="#c5c5c5" stop-opacity="1.000"/><stop offset="0.417" stop-color="#c5c5c5" stop-opacity="0.920"/><stop offset="0.533" stop-color="#c5c5c5" stop-opacity="0.735"/><stop offset="0.650" stop-color="#c5c5c5" stop-opacity="0.502"/><stop offset="0.767" stop-color="#c5c5c5" stop-opacity="0.282"/><stop offset="0.883" stop-color="#c5c5c5" stop-opacity="0.112"/><stop offset="1.000" stop-color="#c5c5c5" stop-opacity="0.000"/></radialGradient><filter id="b28" x="-50%" y="-50%" width="200%" height="200%" color-interpolation-filters="sRGB"><feGaussianBlur stdDeviation="2.8333333333333335"/></filter><radialGradient id="g41"><stop offset="0" stop-color="#c1c1c1" stop-opacity="1.000"/><stop offset="0.400" stop-color="#c1c1c1" stop-opacity="1.000"/><stop offset="0.500" stop-color="#c1c1c1" stop-opacity="0.920"/><stop offset="0.600" stop-color="#c1c1c1" stop-opacity="0.735"/><stop offset="0.700" stop-color="#c1c1c1" stop-opacity="0.502"/><stop offset="0.800" stop-color="#c1c1c1" stop-opacity="0.282"/><stop offset="0.900" stop-color="#c1c1c1" stop-opacity="0.112"/><stop offset="1.000" stop-color="#c1c1c1" stop-opacity="0.000"/></radialGradient><radialGradient id="g42"><stop offset="0" stop-color="#4f4f4f" stop-opacity="1.000"/><stop offset="0.300" stop-color="#4f4f4f" stop-opacity="1.000"/><stop offset="0.417" stop-color="#4f4f4f" stop-opacity="0.920"/><stop offset="0.533" stop-color="#4f4f4f" stop-opacity="0.735"/><stop offset="0.650" stop-color="#4f4f4f" stop-opacity="0.502"/><stop offset="0.767" stop-color="#4f4f4f" stop-opacity="0.282"/><stop offset="0.883" stop-color="#4f4f4f" stop-opacity="0.112"/><stop offset="1.000" stop-color="#4f4f4f" stop-opacity="0.000"/></radialGradient><filter id="b33" x="-50%" y="-50%" width="200%" height="200%" color-interpolation-filters="sRGB"><feGaussianBlur stdDeviation="3.2999835000825"/></filter><filter id="b18" x="-50%" y="-50%" width="200%" height="200%" color-interpolation-filters="sRGB"><feGaussianBlur stdDeviation="1.799991000045"/></filter><filter id="hA2" filterUnits="userSpaceOnUse" x="794" y="411" width="325" height="299" color-interpolation-filters="sRGB"><feTurbulence type="fractalNoise" baseFrequency="0.13 0.016" numOctaves="2" seed="9" result="n"/><feColorMatrix in="n" type="matrix" values="1 0 0 0 0 1 0 0 0 0 1 0 0 0 0 0 0 0 0 1" result="ng"/><feComposite in="SourceGraphic" in2="ng" operator="arithmetic" k1="0" k2="1" k3="0.0912" k4="-0.0456" result="s"/><feComponentTransfer in="s"><feFuncR type="table" tableValues="0.243 0.243 0.243 0.243 0.243 0.243 0.243 0.243 0.243 0.243 0.243 0.243 0.243 0.251 0.259 0.267 0.271 0.275 0.278 0.282 0.282 0.282 0.282 0.282 0.275 0.271 0.267 0.259 0.247 0.231 0.220 0.204 0.196 0.188 0.176 0.169 0.161 0.149 0.137 0.125 0.118 0.106 0.094 0.086 0.075 0.059 0.027 0.016 0.008 0.043 0.078 0.106 0.133 0.165 0.184 0.208 0.243 0.286 0.329 0.373 0.416 0.463 0.506 0.553 0.588 0.624 0.663 0.698 0.737 0.776 0.812 0.851 0.886 0.922 0.941 0.957 0.976 0.992 0.992 0.988 0.984 0.980 0.973 0.969 0.961 0.965 0.969 0.973 0.976 0.976 0.976 0.976 0.976 0.976 0.976 0.976 0.976 0.976 0.976 0.976 0.976"/><feFuncG type="table" tableValues="0.149 0.149 0.149 0.149 0.149 0.149 0.149 0.149 0.149 0.149 0.149 0.149 0.149 0.165 0.180 0.200 0.216 0.231 0.251 0.267 0.282 0.298 0.310 0.325 0.345 0.365 0.384 0.404 0.424 0.443 0.467 0.486 0.502 0.518 0.533 0.553 0.576 0.596 0.612 0.627 0.643 0.659 0.671 0.678 0.690 0.702 0.718 0.729 0.741 0.749 0.757 0.761 0.769 0.773 0.776 0.780 0.784 0.788 0.792 0.796 0.796 0.796 0.796 0.796 0.792 0.788 0.780 0.776 0.769 0.761 0.753 0.745 0.737 0.729 0.737 0.749 0.757 0.765 0.784 0.804 0.824 0.843 0.863 0.882 0.902 0.922 0.941 0.965 0.984 0.984 0.984 0.984 0.984 0.984 0.984 0.984 0.984 0.984 0.984 0.984 0.984"/><feFuncB type="table" tableValues="0.659 0.659 0.659 0.659 0.659 0.659 0.659 0.659 0.659 0.659 0.659 0.659 0.659 0.702 0.741 0.784 0.820 0.851 0.878 0.910 0.929 0.937 0.949 0.957 0.965 0.973 0.984 0.992 0.992 0.992 0.988 0.988 0.980 0.973 0.965 0.953 0.941 0.925 0.914 0.898 0.882 0.871 0.863 0.851 0.843 0.827 0.800 0.776 0.757 0.729 0.706 0.686 0.663 0.643 0.624 0.600 0.573 0.541 0.506 0.475 0.439 0.404 0.365 0.329 0.298 0.267 0.231 0.212 0.196 0.180 0.169 0.176 0.184 0.188 0.196 0.204 0.212 0.220 0.208 0.196 0.184 0.173 0.161 0.149 0.141 0.125 0.110 0.098 0.082 0.082 0.082 0.082 0.082 0.082 0.082 0.082 0.082 0.082 0.082 0.082 0.082"/><feFuncA type="linear" slope="0" intercept="1"/></feComponentTransfer></filter><clipPath id="hA2c"><rect x="796.8" y="413.8" width="319.0" height="293.0"/></clipPath><radialGradient id="g45"><stop offset="0" stop-color="#939393" stop-opacity="0.900"/><stop offset="0.500" stop-color="#939393" stop-opacity="0.900"/><stop offset="0.583" stop-color="#939393" stop-opacity="0.828"/><stop offset="0.667" stop-color="#939393" stop-opacity="0.661"/><stop offset="0.750" stop-color="#939393" stop-opacity="0.451"/><stop offset="0.833" stop-color="#939393" stop-opacity="0.254"/><stop offset="0.917" stop-color="#939393" stop-opacity="0.101"/><stop offset="1.000" stop-color="#939393" stop-opacity="0.000"/></radialGradient><radialGradient id="g46"><stop offset="0" stop-color="#999999" stop-opacity="0.900"/><stop offset="0.300" stop-color="#999999" stop-opacity="0.900"/><stop offset="0.417" stop-color="#999999" stop-opacity="0.828"/><stop offset="0.533" stop-color="#999999" stop-opacity="0.661"/><stop offset="0.650" stop-color="#999999" stop-opacity="0.451"/><stop offset="0.767" stop-color="#999999" stop-opacity="0.254"/><stop offset="0.883" stop-color="#999999" stop-opacity="0.101"/><stop offset="1.000" stop-color="#999999" stop-opacity="0.000"/></radialGradient><radialGradient id="g47"><stop offset="0" stop-color="#595959" stop-opacity="1.000"/><stop offset="0.500" stop-color="#595959" stop-opacity="1.000"/><stop offset="0.583" stop-color="#595959" stop-opacity="0.920"/><stop offset="0.667" stop-color="#595959" stop-opacity="0.735"/><stop offset="0.750" stop-color="#595959" stop-opacity="0.502"/><stop offset="0.833" stop-color="#595959" stop-opacity="0.282"/><stop offset="0.917" stop-color="#595959" stop-opacity="0.112"/><stop offset="1.000" stop-color="#595959" stop-opacity="0.000"/></radialGradient><radialGradient id="g48"><stop offset="0" stop-color="#494949" stop-opacity="1.000"/><stop offset="0.500" stop-color="#494949" stop-opacity="1.000"/><stop offset="0.583" stop-color="#494949" stop-opacity="0.920"/><stop offset="0.667" stop-color="#494949" stop-opacity="0.735"/><stop offset="0.750" stop-color="#494949" stop-opacity="0.502"/><stop offset="0.833" stop-color="#494949" stop-opacity="0.282"/><stop offset="0.917" stop-color="#494949" stop-opacity="0.112"/><stop offset="1.000" stop-color="#494949" stop-opacity="0.000"/></radialGradient><radialGradient id="g49"><stop offset="0" stop-color="#979797" stop-opacity="0.800"/><stop offset="0.300" stop-color="#979797" stop-opacity="0.800"/><stop offset="0.417" stop-color="#979797" stop-opacity="0.736"/><stop offset="0.533" stop-color="#979797" stop-opacity="0.588"/><stop offset="0.650" stop-color="#979797" stop-opacity="0.401"/><stop offset="0.767" stop-color="#979797" stop-opacity="0.225"/><stop offset="0.883" stop-color="#979797" stop-opacity="0.090"/><stop offset="1.000" stop-color="#979797" stop-opacity="0.000"/></radialGradient><radialGradient id="g50"><stop offset="0" stop-color="#939393" stop-opacity="0.700"/><stop offset="0.300" stop-color="#939393" stop-opacity="0.700"/><stop offset="0.417" stop-color="#939393" stop-opacity="0.644"/><stop offset="0.533" stop-color="#939393" stop-opacity="0.514"/><stop offset="0.650" stop-color="#939393" stop-opacity="0.351"/><stop offset="0.767" stop-color="#939393" stop-opacity="0.197"/><stop offset="0.883" stop-color="#939393" stop-opacity="0.079"/><stop offset="1.000" stop-color="#939393" stop-opacity="0.000"/></radialGradient><radialGradient id="g51"><stop offset="0" stop-color="#6c6c6c" stop-opacity="0.800"/><stop offset="0.400" stop-color="#6c6c6c" stop-opacity="0.800"/><stop offset="0.500" stop-color="#6c6c6c" stop-opacity="0.736"/><stop offset="0.600" stop-color="#6c6c6c" stop-opacity="0.588"/><stop offset="0.700" stop-color="#6c6c6c" stop-opacity="0.401"/><stop offset="0.800" stop-color="#6c6c6c" stop-opacity="0.225"/><stop offset="0.900" stop-color="#6c6c6c" stop-opacity="0.090"/><stop offset="1.000" stop-color="#6c6c6c" stop-opacity="0.000"/></radialGradient><radialGradient id="g52"><stop offset="0" stop-color="#6e6e6e" stop-opacity="0.700"/><stop offset="0.400" stop-color="#6e6e6e" stop-opacity="0.700"/><stop offset="0.500" stop-color="#6e6e6e" stop-opacity="0.644"/><stop offset="0.600" stop-color="#6e6e6e" stop-opacity="0.514"/><stop offset="0.700" stop-color="#6e6e6e" stop-opacity="0.351"/><stop offset="0.800" stop-color="#6e6e6e" stop-opacity="0.197"/><stop offset="0.900" stop-color="#6e6e6e" stop-opacity="0.079"/><stop offset="1.000" stop-color="#6e6e6e" stop-opacity="0.000"/></radialGradient><radialGradient id="g53"><stop offset="0" stop-color="#8b8b8b" stop-opacity="0.700"/><stop offset="0.400" stop-color="#8b8b8b" stop-opacity="0.700"/><stop offset="0.500" stop-color="#8b8b8b" stop-opacity="0.644"/><stop offset="0.600" stop-color="#8b8b8b" stop-opacity="0.514"/><stop offset="0.700" stop-color="#8b8b8b" stop-opacity="0.351"/><stop offset="0.800" stop-color="#8b8b8b" stop-opacity="0.197"/><stop offset="0.900" stop-color="#8b8b8b" stop-opacity="0.079"/><stop offset="1.000" stop-color="#8b8b8b" stop-opacity="0.000"/></radialGradient><radialGradient id="g54"><stop offset="0" stop-color="#878787" stop-opacity="0.600"/><stop offset="0.400" stop-color="#878787" stop-opacity="0.600"/><stop offset="0.500" stop-color="#878787" stop-opacity="0.552"/><stop offset="0.600" stop-color="#878787" stop-opacity="0.441"/><stop offset="0.700" stop-color="#878787" stop-opacity="0.301"/><stop offset="0.800" stop-color="#878787" stop-opacity="0.169"/><stop offset="0.900" stop-color="#878787" stop-opacity="0.067"/><stop offset="1.000" stop-color="#878787" stop-opacity="0.000"/></radialGradient><radialGradient id="g55"><stop offset="0" stop-color="#6e6e6e" stop-opacity="0.800"/><stop offset="0.400" stop-color="#6e6e6e" stop-opacity="0.800"/><stop offset="0.500" stop-color="#6e6e6e" stop-opacity="0.736"/><stop offset="0.600" stop-color="#6e6e6e" stop-opacity="0.588"/><stop offset="0.700" stop-color="#6e6e6e" stop-opacity="0.401"/><stop offset="0.800" stop-color="#6e6e6e" stop-opacity="0.225"/><stop offset="0.900" stop-color="#6e6e6e" stop-opacity="0.090"/><stop offset="1.000" stop-color="#6e6e6e" stop-opacity="0.000"/></radialGradient><radialGradient id="g56"><stop offset="0" stop-color="#8f8f8f" stop-opacity="0.700"/><stop offset="0.400" stop-color="#8f8f8f" stop-opacity="0.700"/><stop offset="0.500" stop-color="#8f8f8f" stop-opacity="0.644"/><stop offset="0.600" stop-color="#8f8f8f" stop-opacity="0.514"/><stop offset="0.700" stop-color="#8f8f8f" stop-opacity="0.351"/><stop offset="0.800" stop-color="#8f8f8f" stop-opacity="0.197"/><stop offset="0.900" stop-color="#8f8f8f" stop-opacity="0.079"/><stop offset="1.000" stop-color="#8f8f8f" stop-opacity="0.000"/></radialGradient><radialGradient id="g57"><stop offset="0" stop-color="#9b9b9b" stop-opacity="0.800"/><stop offset="0.500" stop-color="#9b9b9b" stop-opacity="0.800"/><stop offset="0.583" stop-color="#9b9b9b" stop-opacity="0.736"/><stop offset="0.667" stop-color="#9b9b9b" stop-opacity="0.588"/><stop offset="0.750" stop-color="#9b9b9b" stop-opacity="0.401"/><stop offset="0.833" stop-color="#9b9b9b" stop-opacity="0.225"/><stop offset="0.917" stop-color="#9b9b9b" stop-opacity="0.090"/><stop offset="1.000" stop-color="#9b9b9b" stop-opacity="0.000"/></radialGradient><radialGradient id="g58"><stop offset="0" stop-color="#606060" stop-opacity="0.900"/><stop offset="0.200" stop-color="#606060" stop-opacity="0.900"/><stop offset="0.333" stop-color="#606060" stop-opacity="0.828"/><stop offset="0.467" stop-color="#606060" stop-opacity="0.661"/><stop offset="0.600" stop-color="#606060" stop-opacity="0.451"/><stop offset="0.733" stop-color="#606060" stop-opacity="0.254"/><stop offset="0.867" stop-color="#606060" stop-opacity="0.101"/><stop offset="1.000" stop-color="#606060" stop-opacity="0.000"/></radialGradient><radialGradient id="g59"><stop offset="0" stop-color="#4f4f4f" stop-opacity="1.000"/><stop offset="0.400" stop-color="#4f4f4f" stop-opacity="1.000"/><stop offset="0.500" stop-color="#4f4f4f" stop-opacity="0.920"/><stop offset="0.600" stop-color="#4f4f4f" stop-opacity="0.735"/><stop offset="0.700" stop-color="#4f4f4f" stop-opacity="0.502"/><stop offset="0.800" stop-color="#4f4f4f" stop-opacity="0.282"/><stop offset="0.900" stop-color="#4f4f4f" stop-opacity="0.112"/><stop offset="1.000" stop-color="#4f4f4f" stop-opacity="0.000"/></radialGradient><radialGradient id="g60"><stop offset="0" stop-color="#c5c5c5" stop-opacity="1.000"/><stop offset="0.500" stop-color="#c5c5c5" stop-opacity="1.000"/><stop offset="0.583" stop-color="#c5c5c5" stop-opacity="0.920"/><stop offset="0.667" stop-color="#c5c5c5" stop-opacity="0.735"/><stop offset="0.750" stop-color="#c5c5c5" stop-opacity="0.502"/><stop offset="0.833" stop-color="#c5c5c5" stop-opacity="0.282"/><stop offset="0.917" stop-color="#c5c5c5" stop-opacity="0.112"/><stop offset="1.000" stop-color="#c5c5c5" stop-opacity="0.000"/></radialGradient><filter id="b24" x="-50%" y="-50%" width="200%" height="200%" color-interpolation-filters="sRGB"><feGaussianBlur stdDeviation="2.39998800006"/></filter><filter id="b39" x="-50%" y="-50%" width="200%" height="200%" color-interpolation-filters="sRGB"><feGaussianBlur stdDeviation="3.8999805000974996"/></filter><filter id="hB1" filterUnits="userSpaceOnUse" x="420" y="1229" width="323" height="301" color-interpolation-filters="sRGB"><feTurbulence type="fractalNoise" baseFrequency="0.15 0.024" numOctaves="2" seed="5" result="n"/><feColorMatrix in="n" type="matrix" values="1 0 0 0 0 1 0 0 0 0 1 0 0 0 0 0 0 0 0 1" result="ng"/><feComposite in="SourceGraphic" in2="ng" operator="arithmetic" k1="0" k2="1" k3="0.2280" k4="-0.1140" result="s"/><feComponentTransfer in="s"><feFuncR type="table" tableValues="0.243 0.243 0.243 0.243 0.243 0.243 0.243 0.243 0.243 0.243 0.243 0.243 0.243 0.251 0.259 0.267 0.271 0.275 0.278 0.282 0.282 0.282 0.282 0.282 0.275 0.271 0.267 0.259 0.247 0.231 0.220 0.204 0.196 0.188 0.176 0.169 0.161 0.149 0.137 0.125 0.118 0.106 0.094 0.086 0.075 0.059 0.027 0.016 0.008 0.043 0.078 0.106 0.133 0.165 0.184 0.208 0.243 0.286 0.329 0.373 0.416 0.463 0.506 0.553 0.588 0.624 0.663 0.698 0.737 0.776 0.812 0.851 0.886 0.922 0.941 0.957 0.976 0.992 0.992 0.988 0.984 0.980 0.973 0.969 0.961 0.965 0.969 0.973 0.976 0.976 0.976 0.976 0.976 0.976 0.976 0.976 0.976 0.976 0.976 0.976 0.976"/><feFuncG type="table" tableValues="0.149 0.149 0.149 0.149 0.149 0.149 0.149 0.149 0.149 0.149 0.149 0.149 0.149 0.165 0.180 0.200 0.216 0.231 0.251 0.267 0.282 0.298 0.310 0.325 0.345 0.365 0.384 0.404 0.424 0.443 0.467 0.486 0.502 0.518 0.533 0.553 0.576 0.596 0.612 0.627 0.643 0.659 0.671 0.678 0.690 0.702 0.718 0.729 0.741 0.749 0.757 0.761 0.769 0.773 0.776 0.780 0.784 0.788 0.792 0.796 0.796 0.796 0.796 0.796 0.792 0.788 0.780 0.776 0.769 0.761 0.753 0.745 0.737 0.729 0.737 0.749 0.757 0.765 0.784 0.804 0.824 0.843 0.863 0.882 0.902 0.922 0.941 0.965 0.984 0.984 0.984 0.984 0.984 0.984 0.984 0.984 0.984 0.984 0.984 0.984 0.984"/><feFuncB type="table" tableValues="0.659 0.659 0.659 0.659 0.659 0.659 0.659 0.659 0.659 0.659 0.659 0.659 0.659 0.702 0.741 0.784 0.820 0.851 0.878 0.910 0.929 0.937 0.949 0.957 0.965 0.973 0.984 0.992 0.992 0.992 0.988 0.988 0.980 0.973 0.965 0.953 0.941 0.925 0.914 0.898 0.882 0.871 0.863 0.851 0.843 0.827 0.800 0.776 0.757 0.729 0.706 0.686 0.663 0.643 0.624 0.600 0.573 0.541 0.506 0.475 0.439 0.404 0.365 0.329 0.298 0.267 0.231 0.212 0.196 0.180 0.169 0.176 0.184 0.188 0.196 0.204 0.212 0.220 0.208 0.196 0.184 0.173 0.161 0.149 0.141 0.125 0.110 0.098 0.082 0.082 0.082 0.082 0.082 0.082 0.082 0.082 0.082 0.082 0.082 0.082 0.082"/><feFuncA type="linear" slope="0" intercept="1"/></feComponentTransfer></filter><clipPath id="hB1c"><rect x="422.2" y="1231.6" width="317.0" height="295.0"/></clipPath><radialGradient id="g63"><stop offset="0" stop-color="#a2a2a2" stop-opacity="1.000"/><stop offset="0.500" stop-color="#a2a2a2" stop-opacity="1.000"/><stop offset="0.583" stop-color="#a2a2a2" stop-opacity="0.920"/><stop offset="0.667" stop-color="#a2a2a2" stop-opacity="0.735"/><stop offset="0.750" stop-color="#a2a2a2" stop-opacity="0.502"/><stop offset="0.833" stop-color="#a2a2a2" stop-opacity="0.282"/><stop offset="0.917" stop-color="#a2a2a2" stop-opacity="0.112"/><stop offset="1.000" stop-color="#a2a2a2" stop-opacity="0.000"/></radialGradient><radialGradient id="g64"><stop offset="0" stop-color="#b2b2b2" stop-opacity="0.800"/><stop offset="0.200" stop-color="#b2b2b2" stop-opacity="0.800"/><stop offset="0.333" stop-color="#b2b2b2" stop-opacity="0.736"/><stop offset="0.467" stop-color="#b2b2b2" stop-opacity="0.588"/><stop offset="0.600" stop-color="#b2b2b2" stop-opacity="0.401"/><stop offset="0.733" stop-color="#b2b2b2" stop-opacity="0.225"/><stop offset="0.867" stop-color="#b2b2b2" stop-opacity="0.090"/><stop offset="1.000" stop-color="#b2b2b2" stop-opacity="0.000"/></radialGradient><radialGradient id="g65"><stop offset="0" stop-color="#b6b6b6" stop-opacity="0.800"/><stop offset="0.200" stop-color="#b6b6b6" stop-opacity="0.800"/><stop offset="0.333" stop-color="#b6b6b6" stop-opacity="0.736"/><stop offset="0.467" stop-color="#b6b6b6" stop-opacity="0.588"/><stop offset="0.600" stop-color="#b6b6b6" stop-opacity="0.401"/><stop offset="0.733" stop-color="#b6b6b6" stop-opacity="0.225"/><stop offset="0.867" stop-color="#b6b6b6" stop-opacity="0.090"/><stop offset="1.000" stop-color="#b6b6b6" stop-opacity="0.000"/></radialGradient><radialGradient id="g66"><stop offset="0" stop-color="#9f9f9f" stop-opacity="0.900"/><stop offset="0.300" stop-color="#9f9f9f" stop-opacity="0.900"/><stop offset="0.417" stop-color="#9f9f9f" stop-opacity="0.828"/><stop offset="0.533" stop-color="#9f9f9f" stop-opacity="0.661"/><stop offset="0.650" stop-color="#9f9f9f" stop-opacity="0.451"/><stop offset="0.767" stop-color="#9f9f9f" stop-opacity="0.254"/><stop offset="0.883" stop-color="#9f9f9f" stop-opacity="0.101"/><stop offset="1.000" stop-color="#9f9f9f" stop-opacity="0.000"/></radialGradient><radialGradient id="g67"><stop offset="0" stop-color="#555555" stop-opacity="1.000"/><stop offset="0.500" stop-color="#555555" stop-opacity="1.000"/><stop offset="0.583" stop-color="#555555" stop-opacity="0.920"/><stop offset="0.667" stop-color="#555555" stop-opacity="0.735"/><stop offset="0.750" stop-color="#555555" stop-opacity="0.502"/><stop offset="0.833" stop-color="#555555" stop-opacity="0.282"/><stop offset="0.917" stop-color="#555555" stop-opacity="0.112"/><stop offset="1.000" stop-color="#555555" stop-opacity="0.000"/></radialGradient><radialGradient id="g68"><stop offset="0" stop-color="#414141" stop-opacity="1.000"/><stop offset="0.400" stop-color="#414141" stop-opacity="1.000"/><stop offset="0.500" stop-color="#414141" stop-opacity="0.920"/><stop offset="0.600" stop-color="#414141" stop-opacity="0.735"/><stop offset="0.700" stop-color="#414141" stop-opacity="0.502"/><stop offset="0.800" stop-color="#414141" stop-opacity="0.282"/><stop offset="0.900" stop-color="#414141" stop-opacity="0.112"/><stop offset="1.000" stop-color="#414141" stop-opacity="0.000"/></radialGradient><radialGradient id="g69"><stop offset="0" stop-color="#5b5b5b" stop-opacity="1.000"/><stop offset="0.500" stop-color="#5b5b5b" stop-opacity="1.000"/><stop offset="0.583" stop-color="#5b5b5b" stop-opacity="0.920"/><stop offset="0.667" stop-color="#5b5b5b" stop-opacity="0.735"/><stop offset="0.750" stop-color="#5b5b5b" stop-opacity="0.502"/><stop offset="0.833" stop-color="#5b5b5b" stop-opacity="0.282"/><stop offset="0.917" stop-color="#5b5b5b" stop-opacity="0.112"/><stop offset="1.000" stop-color="#5b5b5b" stop-opacity="0.000"/></radialGradient><radialGradient id="g70"><stop offset="0" stop-color="#8d8d8d" stop-opacity="0.800"/><stop offset="0.400" stop-color="#8d8d8d" stop-opacity="0.800"/><stop offset="0.500" stop-color="#8d8d8d" stop-opacity="0.736"/><stop offset="0.600" stop-color="#8d8d8d" stop-opacity="0.588"/><stop offset="0.700" stop-color="#8d8d8d" stop-opacity="0.401"/><stop offset="0.800" stop-color="#8d8d8d" stop-opacity="0.225"/><stop offset="0.900" stop-color="#8d8d8d" stop-opacity="0.090"/><stop offset="1.000" stop-color="#8d8d8d" stop-opacity="0.000"/></radialGradient><radialGradient id="g71"><stop offset="0" stop-color="#6c6c6c" stop-opacity="0.900"/><stop offset="0.400" stop-color="#6c6c6c" stop-opacity="0.900"/><stop offset="0.500" stop-color="#6c6c6c" stop-opacity="0.828"/><stop offset="0.600" stop-color="#6c6c6c" stop-opacity="0.661"/><stop offset="0.700" stop-color="#6c6c6c" stop-opacity="0.451"/><stop offset="0.800" stop-color="#6c6c6c" stop-opacity="0.254"/><stop offset="0.900" stop-color="#6c6c6c" stop-opacity="0.101"/><stop offset="1.000" stop-color="#6c6c6c" stop-opacity="0.000"/></radialGradient><radialGradient id="g72"><stop offset="0" stop-color="#808080" stop-opacity="0.700"/><stop offset="0.300" stop-color="#808080" stop-opacity="0.700"/><stop offset="0.417" stop-color="#808080" stop-opacity="0.644"/><stop offset="0.533" stop-color="#808080" stop-opacity="0.514"/><stop offset="0.650" stop-color="#808080" stop-opacity="0.351"/><stop offset="0.767" stop-color="#808080" stop-opacity="0.197"/><stop offset="0.883" stop-color="#808080" stop-opacity="0.079"/><stop offset="1.000" stop-color="#808080" stop-opacity="0.000"/></radialGradient><radialGradient id="g73"><stop offset="0" stop-color="#bababa" stop-opacity="1.000"/><stop offset="0.300" stop-color="#bababa" stop-opacity="1.000"/><stop offset="0.417" stop-color="#bababa" stop-opacity="0.920"/><stop offset="0.533" stop-color="#bababa" stop-opacity="0.735"/><stop offset="0.650" stop-color="#bababa" stop-opacity="0.502"/><stop offset="0.767" stop-color="#bababa" stop-opacity="0.282"/><stop offset="0.883" stop-color="#bababa" stop-opacity="0.112"/><stop offset="1.000" stop-color="#bababa" stop-opacity="0.000"/></radialGradient><radialGradient id="g74"><stop offset="0" stop-color="#4d4d4d" stop-opacity="1.000"/><stop offset="0.450" stop-color="#4d4d4d" stop-opacity="1.000"/><stop offset="0.542" stop-color="#4d4d4d" stop-opacity="0.920"/><stop offset="0.633" stop-color="#4d4d4d" stop-opacity="0.735"/><stop offset="0.725" stop-color="#4d4d4d" stop-opacity="0.502"/><stop offset="0.817" stop-color="#4d4d4d" stop-opacity="0.282"/><stop offset="0.908" stop-color="#4d4d4d" stop-opacity="0.112"/><stop offset="1.000" stop-color="#4d4d4d" stop-opacity="0.000"/></radialGradient><radialGradient id="g75"><stop offset="0" stop-color="#3c3c3c" stop-opacity="1.000"/><stop offset="0.300" stop-color="#3c3c3c" stop-opacity="1.000"/><stop offset="0.417" stop-color="#3c3c3c" stop-opacity="0.920"/><stop offset="0.533" stop-color="#3c3c3c" stop-opacity="0.735"/><stop offset="0.650" stop-color="#3c3c3c" stop-opacity="0.502"/><stop offset="0.767" stop-color="#3c3c3c" stop-opacity="0.282"/><stop offset="0.883" stop-color="#3c3c3c" stop-opacity="0.112"/><stop offset="1.000" stop-color="#3c3c3c" stop-opacity="0.000"/></radialGradient><radialGradient id="g76"><stop offset="0" stop-color="#bababa" stop-opacity="0.950"/><stop offset="0.200" stop-color="#bababa" stop-opacity="0.950"/><stop offset="0.333" stop-color="#bababa" stop-opacity="0.874"/><stop offset="0.467" stop-color="#bababa" stop-opacity="0.698"/><stop offset="0.600" stop-color="#bababa" stop-opacity="0.477"/><stop offset="0.733" stop-color="#bababa" stop-opacity="0.268"/><stop offset="0.867" stop-color="#bababa" stop-opacity="0.107"/><stop offset="1.000" stop-color="#bababa" stop-opacity="0.000"/></radialGradient><radialGradient id="g77"><stop offset="0" stop-color="#c5c5c5" stop-opacity="1.000"/><stop offset="0.600" stop-color="#c5c5c5" stop-opacity="1.000"/><stop offset="0.667" stop-color="#c5c5c5" stop-opacity="0.920"/><stop offset="0.733" stop-color="#c5c5c5" stop-opacity="0.735"/><stop offset="0.800" stop-color="#c5c5c5" stop-opacity="0.502"/><stop offset="0.867" stop-color="#c5c5c5" stop-opacity="0.282"/><stop offset="0.933" stop-color="#c5c5c5" stop-opacity="0.112"/><stop offset="1.000" stop-color="#c5c5c5" stop-opacity="0.000"/></radialGradient><filter id="b27" x="-50%" y="-50%" width="200%" height="200%" color-interpolation-filters="sRGB"><feGaussianBlur stdDeviation="2.6999865000675"/></filter><filter id="hB2" filterUnits="userSpaceOnUse" x="792" y="1227" width="323" height="304" color-interpolation-filters="sRGB"><feTurbulence type="fractalNoise" baseFrequency="0.15 0.024" numOctaves="2" seed="11" result="n"/><feColorMatrix in="n" type="matrix" values="1 0 0 0 0 1 0 0 0 0 1 0 0 0 0 0 0 0 0 1" result="ng"/><feComposite in="SourceGraphic" in2="ng" operator="arithmetic" k1="0" k2="1" k3="0.2280" k4="-0.1140" result="s"/><feComponentTransfer in="s"><feFuncR type="table" tableValues="0.243 0.243 0.243 0.243 0.243 0.243 0.243 0.243 0.243 0.243 0.243 0.243 0.243 0.251 0.259 0.267 0.271 0.275 0.278 0.282 0.282 0.282 0.282 0.282 0.275 0.271 0.267 0.259 0.247 0.231 0.220 0.204 0.196 0.188 0.176 0.169 0.161 0.149 0.137 0.125 0.118 0.106 0.094 0.086 0.075 0.059 0.027 0.016 0.008 0.043 0.078 0.106 0.133 0.165 0.184 0.208 0.243 0.286 0.329 0.373 0.416 0.463 0.506 0.553 0.588 0.624 0.663 0.698 0.737 0.776 0.812 0.851 0.886 0.922 0.941 0.957 0.976 0.992 0.992 0.988 0.984 0.980 0.973 0.969 0.961 0.965 0.969 0.973 0.976 0.976 0.976 0.976 0.976 0.976 0.976 0.976 0.976 0.976 0.976 0.976 0.976"/><feFuncG type="table" tableValues="0.149 0.149 0.149 0.149 0.149 0.149 0.149 0.149 0.149 0.149 0.149 0.149 0.149 0.165 0.180 0.200 0.216 0.231 0.251 0.267 0.282 0.298 0.310 0.325 0.345 0.365 0.384 0.404 0.424 0.443 0.467 0.486 0.502 0.518 0.533 0.553 0.576 0.596 0.612 0.627 0.643 0.659 0.671 0.678 0.690 0.702 0.718 0.729 0.741 0.749 0.757 0.761 0.769 0.773 0.776 0.780 0.784 0.788 0.792 0.796 0.796 0.796 0.796 0.796 0.792 0.788 0.780 0.776 0.769 0.761 0.753 0.745 0.737 0.729 0.737 0.749 0.757 0.765 0.784 0.804 0.824 0.843 0.863 0.882 0.902 0.922 0.941 0.965 0.984 0.984 0.984 0.984 0.984 0.984 0.984 0.984 0.984 0.984 0.984 0.984 0.984"/><feFuncB type="table" tableValues="0.659 0.659 0.659 0.659 0.659 0.659 0.659 0.659 0.659 0.659 0.659 0.659 0.659 0.702 0.741 0.784 0.820 0.851 0.878 0.910 0.929 0.937 0.949 0.957 0.965 0.973 0.984 0.992 0.992 0.992 0.988 0.988 0.980 0.973 0.965 0.953 0.941 0.925 0.914 0.898 0.882 0.871 0.863 0.851 0.843 0.827 0.800 0.776 0.757 0.729 0.706 0.686 0.663 0.643 0.624 0.600 0.573 0.541 0.506 0.475 0.439 0.404 0.365 0.329 0.298 0.267 0.231 0.212 0.196 0.180 0.169 0.176 0.184 0.188 0.196 0.204 0.212 0.220 0.208 0.196 0.184 0.173 0.161 0.149 0.141 0.125 0.110 0.098 0.082 0.082 0.082 0.082 0.082 0.082 0.082 0.082 0.082 0.082 0.082 0.082 0.082"/><feFuncA type="linear" slope="0" intercept="1"/></feComponentTransfer></filter><clipPath id="hB2c"><rect x="794.8" y="1229.6" width="317.3" height="298.0"/></clipPath></defs><g clip-path="url(#hA1c)"><g filter="url(#hA1)"><rect x="417" y="403" width="334" height="309" fill="#797979"/><ellipse cx="499.0" cy="410.8" rx="107.7" ry="4.0" fill="url(#g0)"/><ellipse cx="479.2" cy="427.8" rx="73.7" ry="11.3" fill="url(#g1)"/><ellipse cx="473.5" cy="427.2" rx="17.0" ry="3.4" fill="url(#g2)"/><ellipse cx="507.5" cy="470.8" rx="119.0" ry="22.7" fill="url(#g3)"/><ellipse cx="640.7" cy="456.7" rx="113.3" ry="34.0" fill="url(#g4)"/><ellipse cx="697.3" cy="510.5" rx="93.5" ry="22.7" fill="url(#g5)"/><ellipse cx="589.7" cy="507.7" rx="85.0" ry="19.8" fill="url(#g6)"/><ellipse cx="521.7" cy="524.7" rx="102.0" ry="65.2" fill="url(#g7)"/><ellipse cx="629.3" cy="547.3" rx="42.5" ry="38.2" fill="url(#g8)"/><ellipse cx="714.3" cy="558.7" rx="42.5" ry="25.5" fill="url(#g9)"/><ellipse cx="629.3" cy="649.3" rx="42.5" ry="65.2" fill="url(#g10)"/><ellipse cx="623.7" cy="609.1" rx="93.5" ry="25.5" fill="url(#g11)"/><ellipse cx="623.7" cy="608.2" rx="34.0" ry="11.3" fill="url(#g12)"/><ellipse cx="722.8" cy="608.2" rx="42.5" ry="14.2" fill="url(#g13)"/><ellipse cx="681.8" cy="640.8" rx="42.5" ry="41.1" fill="url(#g14)"/><ellipse cx="575.5" cy="691.8" rx="56.7" ry="19.8" fill="url(#g15)"/><ellipse cx="686.0" cy="704.6" rx="73.7" ry="15.6" fill="url(#g16)"/><ellipse cx="425.3" cy="694.7" rx="17.0" ry="19.8" fill="url(#g17)"/><ellipse cx="438.1" cy="574.2" rx="14.2" ry="11.3" fill="url(#g18)"/><ellipse cx="506.1" cy="632.3" rx="79.3" ry="76.5" fill="url(#g19)"/><ellipse cx="506.1" cy="635.2" rx="59.5" ry="59.5" fill="url(#g20)"/><ellipse cx="508.0" cy="521.0" rx="48.0" ry="39.0" fill="url(#g21)"/><ellipse cx="509.5" cy="543.1" rx="68.0" ry="38.2" fill="url(#g22)"/><ellipse cx="507.5" cy="544.5" rx="38.2" ry="18.1" fill="url(#g23)"/><ellipse cx="508.0" cy="596.0" rx="25.5" ry="19.5" fill="url(#g24)"/><path d="M466.0,620.0 L472.7,608.7 L490.0,604.2 L514.0,605.0 L530.5,611.7 L543.2,624.5 L538.0,644.0 L529.7,661.2 L515.5,671.0 L502.0,675.8 L488.5,675.5 L477.2,665.7 L469.0,647.7Z" fill="#323232" fill-opacity="1.0" filter="url(#b45)"/><path d="M468.4,620.0 L474.7,610.7 L490.0,606.8 L514.0,607.5 L529.3,613.7 L540.7,624.5 L535.4,642.8 L527.8,659.3 L514.3,668.4 L502.0,672.9 L489.7,672.8 L479.2,663.8 L471.7,647.3Z" fill="#000000" fill-opacity="1.0" filter="url(#b30)"/><ellipse cx="503.5" cy="639.5" rx="30.0" ry="28.5" fill="url(#g27)"/><ellipse cx="501.8" cy="704.6" rx="70.8" ry="26.9" fill="url(#g28)"/><ellipse cx="501.8" cy="705.4" rx="45.3" ry="14.7" fill="url(#g29)"/></g></g><g clip-path="url(#hA2c)"><g filter="url(#hA2)"><rect x="789" y="406" width="335" height="309" fill="#797979"/><ellipse cx="856.8" cy="451.2" rx="90.7" ry="28.3" fill="url(#g9)"/><ellipse cx="1055.2" cy="439.8" rx="90.7" ry="19.8" fill="url(#g9)"/><ellipse cx="956.0" cy="488.0" rx="170.0" ry="17.0" fill="url(#g30)"/><ellipse cx="842.7" cy="544.7" rx="93.5" ry="42.5" fill="url(#g31)"/><ellipse cx="1111.8" cy="556.0" rx="48.2" ry="51.0" fill="url(#g32)"/><ellipse cx="1032.5" cy="598.5" rx="130.3" ry="73.7" fill="url(#g31)"/><ellipse cx="990.0" cy="635.3" rx="73.7" ry="36.8" fill="url(#g33)"/><ellipse cx="828.5" cy="638.2" rx="85.0" ry="36.8" fill="url(#g13)"/><ellipse cx="1097.7" cy="618.3" rx="34.0" ry="19.8" fill="url(#g34)"/><path d="M897.5,519.5 L1010.0,522.5 L1034.0,545.0 L1010.0,569.0 L941.0,573.5 L932.0,620.0 L923.0,680.0 L866.0,680.0 L876.5,620.0 L891.5,567.5Z" fill="#9f9f9f" fill-opacity="1.0" filter="url(#b142)"/><ellipse cx="957.5" cy="518.0" rx="78.0" ry="34.5" fill="url(#g36)"/><path d="M909.5,536.0 L1002.5,537.5 L1020.5,545.0 L1002.5,555.2 L928.2,561.5 L920.7,605.0 L910.2,650.0 L905.0,677.7 L881.0,677.7 L887.7,635.0 L896.7,590.0 L903.5,557.0Z" fill="#b4b4b4" fill-opacity="1.0" filter="url(#b42)"/><ellipse cx="957.5" cy="545.7" rx="52.5" ry="9.0" fill="url(#g38)"/><ellipse cx="916.2" cy="561.5" rx="14.2" ry="22.5" fill="url(#g39)"/><ellipse cx="893.7" cy="662.7" rx="9.0" ry="16.5" fill="url(#g39)"/><path d="M967.3,696.2 L1126.0,690.6 L1126.0,720.3 L961.7,720.3Z" fill="#a2a2a2" fill-opacity="1.0" filter="url(#b28)"/><ellipse cx="1029.7" cy="708.4" rx="73.7" ry="14.2" fill="url(#g41)"/><ellipse cx="905.0" cy="700.5" rx="53.8" ry="28.3" fill="url(#g42)"/><path d="M878.7,710.0 L882.5,699.5 L890.0,691.2 L905.0,687.5 L920.0,688.2 L927.5,695.0 L930.5,710.0Z" fill="#323232" fill-opacity="1.0" filter="url(#b33)"/><path d="M881.0,710.0 L884.0,700.2 L890.7,692.7 L905.0,689.3 L919.2,689.9 L926.0,695.7 L928.7,710.0Z" fill="#000000" fill-opacity="1.0" filter="url(#b18)"/></g></g><g clip-path="url(#hB1c)"><g filter="url(#hB1)"><rect x="415" y="1224" width="333" height="311" fill="#818181"/><ellipse cx="582.0" cy="1267.8" rx="226.7" ry="24.1" fill="url(#g45)"/><ellipse cx="448.8" cy="1294.7" rx="56.7" ry="53.8" fill="url(#g46)"/><ellipse cx="463.0" cy="1239.4" rx="68.0" ry="17.0" fill="url(#g47)"/><ellipse cx="698.2" cy="1239.4" rx="68.0" ry="17.0" fill="url(#g48)"/><ellipse cx="667.0" cy="1334.3" rx="93.5" ry="12.8" fill="url(#g49)"/><ellipse cx="477.2" cy="1334.3" rx="56.7" ry="12.8" fill="url(#g50)"/><ellipse cx="482.8" cy="1399.5" rx="93.5" ry="25.5" fill="url(#g51)"/><ellipse cx="652.8" cy="1396.7" rx="107.7" ry="19.8" fill="url(#g52)"/><ellipse cx="511.2" cy="1437.8" rx="119.0" ry="15.6" fill="url(#g53)"/><ellipse cx="667.0" cy="1430.7" rx="85.0" ry="14.2" fill="url(#g54)"/><ellipse cx="587.7" cy="1464.7" rx="147.3" ry="18.4" fill="url(#g55)"/><ellipse cx="553.7" cy="1487.3" rx="141.7" ry="12.8" fill="url(#g53)"/><ellipse cx="681.2" cy="1484.5" rx="70.8" ry="11.3" fill="url(#g56)"/><ellipse cx="582.0" cy="1527.0" rx="198.3" ry="8.5" fill="url(#g57)"/><ellipse cx="548.0" cy="1368.3" rx="14.2" ry="25.5" fill="url(#g2)"/><ellipse cx="516.8" cy="1359.8" rx="12.8" ry="19.8" fill="url(#g58)"/><ellipse cx="562.2" cy="1298.9" rx="124.7" ry="36.8" fill="url(#g59)"/><ellipse cx="560.8" cy="1236.6" rx="79.3" ry="42.5" fill="url(#g60)"/><path d="M509.8,1219.0 L596.2,1219.0 L597.2,1240.0 L593.8,1247.8 L574.0,1250.2 L553.0,1251.7 L539.5,1257.1 L520.0,1258.0 L512.2,1252.3 L509.2,1240.0Z" fill="#ffffff" fill-opacity="1.0" filter="url(#b24)"/><path d="M509.5,1292.5 L523.0,1280.5 L532.7,1268.5 L542.5,1264.3 L553.7,1268.5 L562.0,1275.2 L583.0,1283.5 L607.0,1285.7 L619.0,1295.5 L613.0,1307.5 L587.5,1309.7 L559.0,1306.0 L535.0,1309.7 L521.5,1310.5 L511.0,1304.5Z" fill="#363636" fill-opacity="1.0" filter="url(#b39)"/><path d="M559.0,1284.7 L580.0,1286.8 L604.7,1287.7 L615.2,1295.5 L610.7,1304.8 L587.5,1307.2 L559.0,1303.3Z" fill="#151515" fill-opacity="1.0" filter="url(#b30)"/><path d="M511.9,1291.0 L524.2,1281.7 L533.5,1269.7 L542.5,1265.8 L553.3,1269.7 L560.8,1276.0 L562.6,1288.0 L561.1,1300.3 L544.3,1302.1 L535.0,1307.2 L523.0,1307.9 L513.4,1303.3Z" fill="#000000" fill-opacity="1.0" filter="url(#b24)"/><ellipse cx="538.0" cy="1289.5" rx="22.5" ry="16.5" fill="url(#g27)"/></g></g><g clip-path="url(#hB2c)"><g filter="url(#hB2)"><rect x="787" y="1222" width="333" height="314" fill="#808080"/><ellipse cx="832.2" cy="1303.2" rx="70.8" ry="68.0" fill="url(#g63)"/><ellipse cx="840.7" cy="1272.0" rx="39.7" ry="14.2" fill="url(#g64)"/><ellipse cx="818.0" cy="1331.5" rx="22.7" ry="14.2" fill="url(#g65)"/><ellipse cx="1098.5" cy="1300.3" rx="28.3" ry="53.8" fill="url(#g66)"/><ellipse cx="832.2" cy="1238.0" rx="68.0" ry="18.4" fill="url(#g67)"/><ellipse cx="1078.7" cy="1236.6" rx="59.5" ry="15.6" fill="url(#g68)"/><ellipse cx="840.7" cy="1388.2" rx="87.8" ry="38.2" fill="url(#g69)"/><ellipse cx="840.7" cy="1451.9" rx="73.7" ry="14.2" fill="url(#g70)"/><ellipse cx="840.7" cy="1504.3" rx="73.7" ry="31.2" fill="url(#g71)"/><ellipse cx="1010.7" cy="1481.7" rx="119.0" ry="14.2" fill="url(#g55)"/><ellipse cx="911.5" cy="1461.8" rx="21.2" ry="85.0" fill="url(#g13)"/><ellipse cx="1039.0" cy="1405.2" rx="85.0" ry="22.7" fill="url(#g72)"/><ellipse cx="1039.0" cy="1270.6" rx="82.2" ry="18.4" fill="url(#g73)"/><ellipse cx="959.7" cy="1312.2" rx="96.3" ry="59.5" fill="url(#g74)"/><ellipse cx="897.3" cy="1354.7" rx="18.4" ry="22.7" fill="url(#g75)"/><ellipse cx="954.0" cy="1379.7" rx="70.8" ry="14.2" fill="url(#g49)"/><ellipse cx="914.9" cy="1381.1" rx="12.8" ry="28.3" fill="url(#g76)"/><ellipse cx="946.9" cy="1240.8" rx="90.7" ry="42.5" fill="url(#g77)"/><path d="M882.7,1219.0 L1011.0,1219.0 L1012.2,1240.0 L1008.7,1255.0 L1002.7,1263.2 L975.0,1264.3 L954.0,1262.5 L936.0,1260.2 L927.0,1253.2 L919.5,1253.2 L910.5,1258.0 L895.5,1258.7 L886.2,1250.5 L882.3,1240.0Z" fill="#ffffff" fill-opacity="1.0" filter="url(#b24)"/><path d="M886.5,1285.0 L893.2,1273.0 L907.5,1268.5 L921.7,1271.5 L931.5,1278.2 L937.5,1282.7 L960.0,1281.2 L999.7,1283.5 L1011.7,1293.2 L1019.2,1300.7 L1008.0,1318.0 L975.0,1330.7 L945.0,1340.5 L920.2,1337.5 L909.3,1345.0 L900.0,1346.5 L897.0,1315.0 L887.4,1295.5Z" fill="#363636" fill-opacity="1.0" filter="url(#b42)"/><path d="M889.2,1285.0 L894.7,1275.2 L907.5,1270.7 L920.2,1273.7 L930.0,1280.8 L936.7,1285.0 L960.0,1283.5 L998.2,1285.7 L1008.7,1294.7 L1015.8,1300.7 L1005.7,1315.7 L975.0,1328.2 L945.0,1337.8 L920.2,1334.5 L909.3,1341.7 L901.8,1343.5 L899.4,1315.0 L890.1,1295.5Z" fill="#000000" fill-opacity="1.0" filter="url(#b27)"/><ellipse cx="919.5" cy="1303.0" rx="28.5" ry="30.0" fill="url(#g27)"/><ellipse cx="967.5" cy="1306.0" rx="39.0" ry="16.5" fill="url(#g27)"/></g></g><defs><radialGradient id="rb2"><stop offset="0" stop-color="#c00000" stop-opacity="0.85"/><stop offset="0.4" stop-color="#c40808" stop-opacity="0.8"/><stop offset="0.75" stop-color="#d02020" stop-opacity="0.35"/><stop offset="1" stop-color="#d83030" stop-opacity="0"/></radialGradient></defs><g transform="translate(0,135) scale(0.208333)"><path d="M421,846 C440,820 470,800 506,768 L610,785 C606,815 580,830 572,840 L577,924 L447,924 C443,895 436,870 421,846 Z" fill="#f1ecd2" stroke="#a5755f" stroke-width="3"/><g fill="none" stroke="#a5755f" stroke-width="2.5"><path d="M473,815C474,824 475,854 478,872C481,890 487,915 489,924"/><path d="M489,872C494,868 508,857 520,851C532,845 555,838 562,836"/><path d="M499,924C500,917 499,893 504,882C509,871 526,860 530,856"/><path d="M530,856C533,861 544,877 546,888C548,899 542,918 541,924"/></g><path d="M135,690C132,698 129,706 130,716C131,726 133,737 140,747C147,757 161,766 172,778C183,790 196,808 208,820C220,832 232,842 244,851C256,860 268,868 281,872C294,876 306,879 322,878C338,877 358,872 374,867C390,862 405,855 421,846C437,837 455,824 468,815C481,806 493,798 499,789C505,780 520,772 506,760C492,748 448,733 416,720C384,707 347,691 312,680C277,669 235,658 208,655C181,652 162,659 150,665C138,671 138,682 135,690Z" fill="#e6cdbf" stroke="#9c6050" stroke-width="3"/><clipPath id="cerA"><path d="M135,690C132,698 129,706 130,716C131,726 133,737 140,747C147,757 161,766 172,778C183,790 196,808 208,820C220,832 232,842 244,851C256,860 268,868 281,872C294,876 306,879 322,878C338,877 358,872 374,867C390,862 405,855 421,846C437,837 455,824 468,815C481,806 493,798 499,789C505,780 520,772 506,760C492,748 448,733 416,720C384,707 347,691 312,680C277,669 235,658 208,655C181,652 162,659 150,665C138,671 138,682 135,690Z"/></clipPath><g fill="none" stroke="#a0675a" stroke-width="2.6" clip-path="url(#cerA)"><path d="M145,690C161,694 204,703 240,712C276,721 317,735 360,745C403,755 477,766 500,770"/><path d="M150,702C166,706 208,715 243,724C278,732 320,745 361,754C402,763 469,772 491,776"/><path d="M155,715C170,718 212,727 247,735C281,743 322,755 362,762C401,770 462,779 482,782"/><path d="M160,728C175,731 216,740 250,747C284,754 325,764 362,771C400,778 454,786 472,789"/><path d="M165,740C180,743 220,752 253,759C286,765 328,774 363,780C398,786 447,792 463,795"/><path d="M170,752C184,755 224,764 257,770C289,776 331,784 364,789C397,794 439,799 454,801"/><path d="M175,765C189,768 228,777 260,782C292,787 334,793 365,798C396,802 432,806 445,808"/><path d="M180,778C194,780 232,789 263,794C294,798 337,803 366,806C395,810 424,812 436,814"/><path d="M185,790C199,793 236,801 267,805C297,810 340,813 367,815C393,817 417,819 427,820"/><path d="M190,802C203,805 240,813 270,817C300,821 343,822 368,824C392,825 409,826 418,826"/><path d="M195,815C208,817 244,826 273,829C302,832 346,832 368,832C391,833 402,832 408,832"/><path d="M200,828C213,830 248,838 277,840C305,843 349,842 369,841C390,841 394,839 399,839"/><path d="M205,840C218,842 252,850 280,852C308,854 352,851 370,850C388,849 387,846 390,845"/></g><path d="M151,677C136,680 136,685 125,686C114,687 99,689 88,685C77,681 66,676 57,664C48,652 41,629 36,612C31,595 28,577 26,560C24,543 21,523 21,508C21,493 19,483 24,470C29,457 45,443 50,432C55,421 46,416 54,404C62,392 89,370 97,358C105,346 97,343 102,331C107,319 112,300 125,284C138,268 170,244 180,234C190,224 180,230 186,221C192,212 204,192 218,180C232,168 252,159 268,150C284,141 296,137 312,128C328,119 347,105 364,98C381,91 400,91 416,86C432,81 445,71 458,67C471,63 480,64 494,63C508,62 518,60 540,58C562,56 601,53 624,51C647,49 653,46 680,47C707,48 753,52 784,58C815,64 841,70 867,81C893,92 915,107 940,123C965,139 996,157 1018,175C1040,193 1059,212 1075,232C1091,252 1103,273 1112,294C1121,315 1126,340 1130,357C1134,374 1137,383 1137,398C1137,413 1132,428 1128,445C1124,462 1121,482 1112,498C1103,514 1090,527 1075,539C1060,551 1040,560 1023,570C1006,580 989,588 971,596C953,604 931,610 914,617C897,624 876,628 868,636C860,644 869,653 868,664C867,675 867,688 862,700C857,712 849,727 836,737C823,747 801,753 784,760C767,767 749,774 732,778C715,782 699,786 680,786C661,786 636,780 618,779C600,778 592,781 572,778C552,775 525,770 499,763C473,756 438,745 416,737C394,729 378,722 364,716C350,710 342,706 333,700C324,694 322,687 312,682C302,677 286,674 270,672C254,670 235,667 215,668C195,669 166,674 151,677Z" fill="#f2e1de" stroke="#9c6050" stroke-width="3.4"/><g fill="none" stroke="#8a4f40" stroke-width="3" stroke-linecap="round"><path d="M421,128C412,136 382,160 364,175C346,190 331,202 312,216C293,230 265,247 250,258C235,269 231,274 224,284C217,294 217,305 208,315C199,325 183,335 172,346C161,357 146,371 140,383C134,395 133,405 135,419C137,433 144,452 151,466C158,480 173,496 177,502"/><path d="M359,180C367,180 391,177 406,177C421,177 437,179 447,180C457,181 464,184 468,185"/><path d="M484,84C484,91 482,113 484,128C486,143 493,158 499,175C505,192 512,217 520,232C528,247 539,252 546,263C553,274 558,294 560,300"/><path d="M291,274C294,279 300,301 312,305C324,309 343,305 364,300C385,295 425,278 437,274"/><path d="M359,253C363,256 376,270 385,274C394,278 406,279 416,279C426,279 438,275 442,274"/><path d="M322,305C320,310 314,324 312,336C310,348 308,364 312,378C316,392 324,407 333,419C342,431 354,442 364,450C374,458 386,466 390,469"/><path d="M286,414C290,414 304,410 312,411C320,412 330,418 333,419"/><path d="M359,385C365,385 386,387 395,383C404,379 408,366 411,362"/><path d="M411,383C414,387 419,402 426,409C433,416 445,421 452,424C459,427 465,426 468,427"/><path d="M229,362C228,368 224,388 224,398C224,408 223,414 229,424C235,434 250,449 260,456C270,463 281,460 291,466C301,472 317,488 322,492"/><path d="M229,424C226,428 214,441 208,445C202,449 195,449 192,450"/><path d="M166,362 L169,388"/><path d="M250,258C255,257 272,256 281,253C290,250 303,240 307,237"/><path d="M270,149C269,152 264,160 262,165C260,170 259,174 258,176"/><path d="M102,331 L104,348"/><path d="M644,58C652,63 673,79 690,86C707,93 732,98 748,102C764,106 771,102 784,107C797,112 812,126 826,133C840,140 853,144 867,149C881,154 897,159 909,164C921,169 929,177 940,180C951,183 970,180 976,180"/><path d="M753,71C758,76 773,92 784,102C795,112 814,124 820,128"/><path d="M940,180C949,186 978,203 992,216C1006,229 1014,247 1023,258C1032,269 1038,274 1044,284C1050,294 1057,310 1060,315"/><path d="M820,188C828,190 852,193 867,198C882,203 895,208 909,216C923,224 938,237 950,248C962,259 973,273 982,284C991,295 999,310 1002,315"/><path d="M820,248C826,249 846,248 857,253C868,258 879,270 888,279C897,288 900,298 909,305C918,312 929,313 940,320C951,327 965,335 976,346C987,357 1000,376 1008,388C1016,400 1020,414 1023,419"/><path d="M818,367C822,366 834,365 841,362C848,359 858,351 862,349"/><path d="M820,388C828,389 854,389 867,393C880,397 886,408 898,414C910,420 927,426 940,430C953,434 965,434 976,440C987,446 1003,462 1008,466"/><path d="M1008,466C1012,462 1029,448 1034,440C1039,432 1036,422 1036,419"/><path d="M862,471C866,474 879,485 888,487C897,489 910,483 914,482"/><path d="M628,107C627,113 622,132 623,144C624,156 631,174 633,180"/><path d="M586,118C591,123 611,140 618,149C625,158 626,171 628,175"/><path d="M711,136C714,140 718,155 732,159C746,163 784,162 794,162"/><path d="M732,159 L716,180"/><path d="M1075,248 L1080,284"/><path d="M62,487C65,494 71,516 78,529C85,542 94,555 104,565C114,575 126,586 140,591C154,596 170,596 187,594C204,592 224,587 239,581C254,575 267,567 276,560C285,553 288,542 291,539"/><path d="M91,487 L78,513"/><path d="M161,482C158,486 150,497 146,508C142,519 141,543 140,550"/><path d="M161,482C165,485 178,494 187,498C196,502 213,506 218,508"/><path d="M276,565C284,566 307,568 322,568C337,568 351,566 364,563C377,560 394,552 400,550"/><path d="M78,617C82,620 94,633 104,638C114,643 124,646 135,648C146,650 166,650 172,651"/><path d="M172,669C182,666 211,658 229,654C247,650 263,648 281,646C299,644 319,643 338,642C357,641 375,639 395,638C415,637 448,636 458,635"/><path d="M364,641C373,643 399,648 416,654C433,660 452,673 468,680C484,687 494,692 510,695C526,698 543,702 562,698C581,694 604,680 624,674C644,668 671,662 680,660"/><path d="M270,672C277,673 302,675 312,680C322,685 324,693 333,700C342,707 352,716 364,721C376,726 399,730 406,732"/><path d="M296,456C300,460 311,473 322,482C333,491 348,500 364,508C380,516 399,523 416,529C433,535 451,539 468,544C485,549 503,555 520,560C537,565 555,571 572,576C589,581 604,585 624,591C644,597 674,604 690,612C706,620 712,630 722,638C732,646 743,652 753,659C763,666 773,676 784,680C795,684 814,682 820,682"/><path d="M468,544C471,549 480,567 484,576C488,585 483,590 489,596C495,602 510,605 520,612C530,619 546,634 551,638"/><path d="M426,602C433,602 458,600 468,599C478,598 486,596 489,596"/><path d="M784,547C791,546 812,545 826,539C840,533 857,521 867,513C877,505 877,496 888,492C899,488 927,488 935,487"/><path d="M857,472 L888,492"/><path d="M815,586C822,585 843,585 857,581C871,577 884,566 898,560C912,554 929,546 940,542C951,538 962,540 966,539"/><path d="M924,583C932,581 954,576 971,573C988,570 1014,569 1023,568"/><path d="M982,503C986,498 1002,480 1008,472C1014,464 1016,459 1018,456"/><path d="M1013,544C1020,541 1042,528 1054,524C1066,520 1081,519 1086,518"/><path d="M576,578C581,580 597,588 607,591C617,594 629,598 638,596C647,594 656,589 659,581C662,573 655,555 654,550"/><path d="M659,581C664,580 680,576 690,576C700,576 712,582 716,583"/><path d="M753,659C754,664 756,680 758,690C760,700 765,712 766,716"/><path d="M576,695C581,693 597,689 607,685C617,681 627,672 638,669C649,666 669,665 675,664"/><path d="M592,693C598,694 615,696 628,700C641,704 655,712 670,716C685,720 708,723 716,724"/><path d="M868,636C860,628 834,604 820,591C806,578 794,568 784,560C774,552 767,550 758,544C749,538 736,527 732,524"/></g><rect x="442" y="190" width="372" height="347" rx="55" fill="none" stroke="#000" stroke-width="10.5"/><circle cx="483.9" cy="235" r="22"/><circle cx="486.0" cy="300" r="22"/><circle cx="488.2" cy="368" r="22"/><circle cx="490.5" cy="435" r="22"/><circle cx="492.6" cy="500" r="22"/><circle cx="552.9" cy="235" r="22"/><circle cx="555.0" cy="300" r="22"/><circle cx="557.2" cy="368" r="22"/><circle cx="559.5" cy="435" r="22"/><circle cx="561.6" cy="500" r="22"/><circle cx="624.9" cy="235" r="22"/><circle cx="627.0" cy="300" r="22"/><circle cx="629.2" cy="368" r="22"/><circle cx="631.5" cy="435" r="22"/><circle cx="633.6" cy="500" r="22"/><circle cx="694.9" cy="235" r="22"/><circle cx="697.0" cy="300" r="22"/><circle cx="699.2" cy="368" r="22"/><circle cx="701.5" cy="435" r="22"/><circle cx="703.6" cy="500" r="22"/><circle cx="765.9" cy="235" r="22"/><circle cx="768.0" cy="300" r="22"/><circle cx="770.2" cy="368" r="22"/><circle cx="772.5" cy="435" r="22"/><circle cx="774.6" cy="500" r="22"/><circle cx="632" cy="368" r="22" fill="#70ad47"/><circle cx="632" cy="368" r="9"/><circle cx="578" cy="420" r="125" fill="url(#rb2)"/><circle cx="568" cy="412" r="31" fill="#ffc000" stroke="#000" stroke-width="11"/></g><g transform="translate(0,946.0) scale(0.208333)"><path d="M421,846 C440,820 470,800 506,768 L610,785 C606,815 580,830 572,840 L577,924 L447,924 C443,895 436,870 421,846 Z" fill="#f1ecd2" stroke="#a5755f" stroke-width="3"/><g fill="none" stroke="#a5755f" stroke-width="2.5"><path d="M473,815C474,824 475,854 478,872C481,890 487,915 489,924"/><path d="M489,872C494,868 508,857 520,851C532,845 555,838 562,836"/><path d="M499,924C500,917 499,893 504,882C509,871 526,860 530,856"/><path d="M530,856C533,861 544,877 546,888C548,899 542,918 541,924"/></g><path d="M135,690C132,698 129,706 130,716C131,726 133,737 140,747C147,757 161,766 172,778C183,790 196,808 208,820C220,832 232,842 244,851C256,860 268,868 281,872C294,876 306,879 322,878C338,877 358,872 374,867C390,862 405,855 421,846C437,837 455,824 468,815C481,806 493,798 499,789C505,780 520,772 506,760C492,748 448,733 416,720C384,707 347,691 312,680C277,669 235,658 208,655C181,652 162,659 150,665C138,671 138,682 135,690Z" fill="#e6cdbf" stroke="#9c6050" stroke-width="3"/><clipPath id="cerB"><path d="M135,690C132,698 129,706 130,716C131,726 133,737 140,747C147,757 161,766 172,778C183,790 196,808 208,820C220,832 232,842 244,851C256,860 268,868 281,872C294,876 306,879 322,878C338,877 358,872 374,867C390,862 405,855 421,846C437,837 455,824 468,815C481,806 493,798 499,789C505,780 520,772 506,760C492,748 448,733 416,720C384,707 347,691 312,680C277,669 235,658 208,655C181,652 162,659 150,665C138,671 138,682 135,690Z"/></clipPath><g fill="none" stroke="#a0675a" stroke-width="2.6" clip-path="url(#cerB)"><path d="M145,690C161,694 204,703 240,712C276,721 317,735 360,745C403,755 477,766 500,770"/><path d="M150,702C166,706 208,715 243,724C278,732 320,745 361,754C402,763 469,772 491,776"/><path d="M155,715C170,718 212,727 247,735C281,743 322,755 362,762C401,770 462,779 482,782"/><path d="M160,728C175,731 216,740 250,747C284,754 325,764 362,771C400,778 454,786 472,789"/><path d="M165,740C180,743 220,752 253,759C286,765 328,774 363,780C398,786 447,792 463,795"/><path d="M170,752C184,755 224,764 257,770C289,776 331,784 364,789C397,794 439,799 454,801"/><path d="M175,765C189,768 228,777 260,782C292,787 334,793 365,798C396,802 432,806 445,808"/><path d="M180,778C194,780 232,789 263,794C294,798 337,803 366,806C395,810 424,812 436,814"/><path d="M185,790C199,793 236,801 267,805C297,810 340,813 367,815C393,817 417,819 427,820"/><path d="M190,802C203,805 240,813 270,817C300,821 343,822 368,824C392,825 409,826 418,826"/><path d="M195,815C208,817 244,826 273,829C302,832 346,832 368,832C391,833 402,832 408,832"/><path d="M200,828C213,830 248,838 277,840C305,843 349,842 369,841C390,841 394,839 399,839"/><path d="M205,840C218,842 252,850 280,852C308,854 352,851 370,850C388,849 387,846 390,845"/></g><path d="M151,677C136,680 136,685 125,686C114,687 99,689 88,685C77,681 66,676 57,664C48,652 41,629 36,612C31,595 28,577 26,560C24,543 21,523 21,508C21,493 19,483 24,470C29,457 45,443 50,432C55,421 46,416 54,404C62,392 89,370 97,358C105,346 97,343 102,331C107,319 112,300 125,284C138,268 170,244 180,234C190,224 180,230 186,221C192,212 204,192 218,180C232,168 252,159 268,150C284,141 296,137 312,128C328,119 347,105 364,98C381,91 400,91 416,86C432,81 445,71 458,67C471,63 480,64 494,63C508,62 518,60 540,58C562,56 601,53 624,51C647,49 653,46 680,47C707,48 753,52 784,58C815,64 841,70 867,81C893,92 915,107 940,123C965,139 996,157 1018,175C1040,193 1059,212 1075,232C1091,252 1103,273 1112,294C1121,315 1126,340 1130,357C1134,374 1137,383 1137,398C1137,413 1132,428 1128,445C1124,462 1121,482 1112,498C1103,514 1090,527 1075,539C1060,551 1040,560 1023,570C1006,580 989,588 971,596C953,604 931,610 914,617C897,624 876,628 868,636C860,644 869,653 868,664C867,675 867,688 862,700C857,712 849,727 836,737C823,747 801,753 784,760C767,767 749,774 732,778C715,782 699,786 680,786C661,786 636,780 618,779C600,778 592,781 572,778C552,775 525,770 499,763C473,756 438,745 416,737C394,729 378,722 364,716C350,710 342,706 333,700C324,694 322,687 312,682C302,677 286,674 270,672C254,670 235,667 215,668C195,669 166,674 151,677Z" fill="#f2e1de" stroke="#9c6050" stroke-width="3.4"/><g fill="none" stroke="#8a4f40" stroke-width="3" stroke-linecap="round"><path d="M421,128C412,136 382,160 364,175C346,190 331,202 312,216C293,230 265,247 250,258C235,269 231,274 224,284C217,294 217,305 208,315C199,325 183,335 172,346C161,357 146,371 140,383C134,395 133,405 135,419C137,433 144,452 151,466C158,480 173,496 177,502"/><path d="M359,180C367,180 391,177 406,177C421,177 437,179 447,180C457,181 464,184 468,185"/><path d="M484,84C484,91 482,113 484,128C486,143 493,158 499,175C505,192 512,217 520,232C528,247 539,252 546,263C553,274 558,294 560,300"/><path d="M291,274C294,279 300,301 312,305C324,309 343,305 364,300C385,295 425,278 437,274"/><path d="M359,253C363,256 376,270 385,274C394,278 406,279 416,279C426,279 438,275 442,274"/><path d="M322,305C320,310 314,324 312,336C310,348 308,364 312,378C316,392 324,407 333,419C342,431 354,442 364,450C374,458 386,466 390,469"/><path d="M286,414C290,414 304,410 312,411C320,412 330,418 333,419"/><path d="M359,385C365,385 386,387 395,383C404,379 408,366 411,362"/><path d="M411,383C414,387 419,402 426,409C433,416 445,421 452,424C459,427 465,426 468,427"/><path d="M229,362C228,368 224,388 224,398C224,408 223,414 229,424C235,434 250,449 260,456C270,463 281,460 291,466C301,472 317,488 322,492"/><path d="M229,424C226,428 214,441 208,445C202,449 195,449 192,450"/><path d="M166,362 L169,388"/><path d="M250,258C255,257 272,256 281,253C290,250 303,240 307,237"/><path d="M270,149C269,152 264,160 262,165C260,170 259,174 258,176"/><path d="M102,331 L104,348"/><path d="M644,58C652,63 673,79 690,86C707,93 732,98 748,102C764,106 771,102 784,107C797,112 812,126 826,133C840,140 853,144 867,149C881,154 897,159 909,164C921,169 929,177 940,180C951,183 970,180 976,180"/><path d="M753,71C758,76 773,92 784,102C795,112 814,124 820,128"/><path d="M940,180C949,186 978,203 992,216C1006,229 1014,247 1023,258C1032,269 1038,274 1044,284C1050,294 1057,310 1060,315"/><path d="M820,188C828,190 852,193 867,198C882,203 895,208 909,216C923,224 938,237 950,248C962,259 973,273 982,284C991,295 999,310 1002,315"/><path d="M820,248C826,249 846,248 857,253C868,258 879,270 888,279C897,288 900,298 909,305C918,312 929,313 940,320C951,327 965,335 976,346C987,357 1000,376 1008,388C1016,400 1020,414 1023,419"/><path d="M818,367C822,366 834,365 841,362C848,359 858,351 862,349"/><path d="M820,388C828,389 854,389 867,393C880,397 886,408 898,414C910,420 927,426 940,430C953,434 965,434 976,440C987,446 1003,462 1008,466"/><path d="M1008,466C1012,462 1029,448 1034,440C1039,432 1036,422 1036,419"/><path d="M862,471C866,474 879,485 888,487C897,489 910,483 914,482"/><path d="M628,107C627,113 622,132 623,144C624,156 631,174 633,180"/><path d="M586,118C591,123 611,140 618,149C625,158 626,171 628,175"/><path d="M711,136C714,140 718,155 732,159C746,163 784,162 794,162"/><path d="M732,159 L716,180"/><path d="M1075,248 L1080,284"/><path d="M62,487C65,494 71,516 78,529C85,542 94,555 104,565C114,575 126,586 140,591C154,596 170,596 187,594C204,592 224,587 239,581C254,575 267,567 276,560C285,553 288,542 291,539"/><path d="M91,487 L78,513"/><path d="M161,482C158,486 150,497 146,508C142,519 141,543 140,550"/><path d="M161,482C165,485 178,494 187,498C196,502 213,506 218,508"/><path d="M276,565C284,566 307,568 322,568C337,568 351,566 364,563C377,560 394,552 400,550"/><path d="M78,617C82,620 94,633 104,638C114,643 124,646 135,648C146,650 166,650 172,651"/><path d="M172,669C182,666 211,658 229,654C247,650 263,648 281,646C299,644 319,643 338,642C357,641 375,639 395,638C415,637 448,636 458,635"/><path d="M364,641C373,643 399,648 416,654C433,660 452,673 468,680C484,687 494,692 510,695C526,698 543,702 562,698C581,694 604,680 624,674C644,668 671,662 680,660"/><path d="M270,672C277,673 302,675 312,680C322,685 324,693 333,700C342,707 352,716 364,721C376,726 399,730 406,732"/><path d="M296,456C300,460 311,473 322,482C333,491 348,500 364,508C380,516 399,523 416,529C433,535 451,539 468,544C485,549 503,555 520,560C537,565 555,571 572,576C589,581 604,585 624,591C644,597 674,604 690,612C706,620 712,630 722,638C732,646 743,652 753,659C763,666 773,676 784,680C795,684 814,682 820,682"/><path d="M468,544C471,549 480,567 484,576C488,585 483,590 489,596C495,602 510,605 520,612C530,619 546,634 551,638"/><path d="M426,602C433,602 458,600 468,599C478,598 486,596 489,596"/><path d="M784,547C791,546 812,545 826,539C840,533 857,521 867,513C877,505 877,496 888,492C899,488 927,488 935,487"/><path d="M857,472 L888,492"/><path d="M815,586C822,585 843,585 857,581C871,577 884,566 898,560C912,554 929,546 940,542C951,538 962,540 966,539"/><path d="M924,583C932,581 954,576 971,573C988,570 1014,569 1023,568"/><path d="M982,503C986,498 1002,480 1008,472C1014,464 1016,459 1018,456"/><path d="M1013,544C1020,541 1042,528 1054,524C1066,520 1081,519 1086,518"/><path d="M576,578C581,580 597,588 607,591C617,594 629,598 638,596C647,594 656,589 659,581C662,573 655,555 654,550"/><path d="M659,581C664,580 680,576 690,576C700,576 712,582 716,583"/><path d="M753,659C754,664 756,680 758,690C760,700 765,712 766,716"/><path d="M576,695C581,693 597,689 607,685C617,681 627,672 638,669C649,666 669,665 675,664"/><path d="M592,693C598,694 615,696 628,700C641,704 655,712 670,716C685,720 708,723 716,724"/><path d="M868,636C860,628 834,604 820,591C806,578 794,568 784,560C774,552 767,550 758,544C749,538 736,527 732,524"/></g></g><g transform="translate(0,950) scale(0.208333)"><circle cx="508" cy="668" r="125" fill="url(#rb2)"/><g transform="translate(836,240) rotate(0)"><rect x="-212.0" y="-50.0" width="424" height="100" rx="14" fill="none" stroke="#000" stroke-width="10.5"/><circle cx="-185.0" cy="-20.0" r="14.5"/><circle cx="-185.0" cy="20.0" r="14.5"/><circle cx="-143.9" cy="-20.0" r="14.5"/><circle cx="-143.9" cy="20.0" r="14.5"/><circle cx="-102.8" cy="-20.0" r="14.5"/><circle cx="-102.8" cy="20.0" r="14.5"/><circle cx="-61.7" cy="-20.0" r="14.5"/><circle cx="-61.7" cy="20.0" r="14.5"/><circle cx="-20.6" cy="-20.0" r="14.5"/><circle cx="-20.6" cy="20.0" r="14.5"/><circle cx="20.6" cy="-20.0" r="14.5"/><circle cx="20.6" cy="20.0" r="14.5"/><circle cx="61.7" cy="-20.0" r="14.5"/><circle cx="61.7" cy="20.0" r="14.5"/><circle cx="102.8" cy="-20.0" r="14.5"/><circle cx="102.8" cy="20.0" r="14.5"/><circle cx="143.9" cy="-20.0" r="14.5"/><circle cx="143.9" cy="20.0" r="14.5"/><circle cx="185.0" cy="-20.0" r="14.5"/><circle cx="185.0" cy="20.0" r="14.5"/></g><g transform="translate(832,417) rotate(22)"><rect x="-220.0" y="-50.0" width="440" height="100" rx="14" fill="none" stroke="#000" stroke-width="10.5"/><circle cx="-193.0" cy="-20.0" r="14.5"/><circle cx="-193.0" cy="20.0" r="14.5"/><circle cx="-150.1" cy="-20.0" r="14.5"/><circle cx="-150.1" cy="20.0" r="14.5"/><circle cx="-107.2" cy="-20.0" r="14.5"/><circle cx="-107.2" cy="20.0" r="14.5"/><circle cx="-64.3" cy="-20.0" r="14.5"/><circle cx="-64.3" cy="20.0" r="14.5"/><circle cx="-21.4" cy="-20.0" r="14.5"/><circle cx="-21.4" cy="20.0" r="14.5"/><circle cx="21.4" cy="-20.0" r="14.5"/><circle cx="21.4" cy="20.0" r="14.5"/><circle cx="64.3" cy="-20.0" r="14.5"/><circle cx="64.3" cy="20.0" r="14.5"/><circle cx="107.2" cy="-20.0" r="14.5"/><circle cx="107.2" cy="20.0" r="14.5"/><circle cx="150.1" cy="-20.0" r="14.5"/><circle cx="150.1" cy="20.0" r="14.5"/><circle cx="193.0" cy="-20.0" r="14.5"/><circle cx="193.0" cy="20.0" r="14.5"/></g><g transform="translate(345,500) rotate(-36)"><rect x="-220.0" y="-50.0" width="440" height="100" rx="14" fill="none" stroke="#000" stroke-width="10.5"/><circle cx="-193.0" cy="-20.0" r="14.5"/><circle cx="-193.0" cy="20.0" r="14.5"/><circle cx="-150.1" cy="-20.0" r="14.5"/><circle cx="-150.1" cy="20.0" r="14.5"/><circle cx="-107.2" cy="-20.0" r="14.5"/><circle cx="-107.2" cy="20.0" r="14.5"/><circle cx="-64.3" cy="-20.0" r="14.5"/><circle cx="-64.3" cy="20.0" r="14.5"/><circle cx="-21.4" cy="-20.0" r="14.5"/><circle cx="-21.4" cy="20.0" r="14.5"/><circle cx="21.4" cy="-20.0" r="14.5"/><circle cx="21.4" cy="20.0" r="14.5"/><circle cx="64.3" cy="-20.0" r="14.5"/><circle cx="64.3" cy="20.0" r="14.5"/><circle cx="107.2" cy="-20.0" r="14.5"/><circle cx="107.2" cy="20.0" r="14.5"/><circle cx="150.1" cy="-20.0" r="14.5"/><circle cx="150.1" cy="20.0" r="14.5"/><circle cx="193.0" cy="-20.0" r="14.5"/><circle cx="193.0" cy="20.0" r="14.5"/></g><g transform="translate(535,597) rotate(109.5)"><rect x="-210.0" y="-48.0" width="420" height="96" rx="14" fill="none" stroke="#000" stroke-width="10.5"/><circle cx="-183.0" cy="-18.0" r="14.5"/><circle cx="-183.0" cy="18.0" r="14.5"/><circle cx="-142.3" cy="-18.0" r="14.5"/><circle cx="-142.3" cy="18.0" r="14.5"/><circle cx="-101.7" cy="-18.0" r="14.5"/><circle cx="-101.7" cy="18.0" r="14.5"/><circle cx="-61.0" cy="-18.0" r="14.5"/><circle cx="-61.0" cy="18.0" r="14.5"/><circle cx="-20.3" cy="-18.0" r="14.5"/><circle cx="-20.3" cy="18.0" r="14.5"/><circle cx="20.3" cy="-18.0" r="14.5"/><circle cx="20.3" cy="18.0" r="14.5"/><circle cx="61.0" cy="-18.0" r="14.5"/><circle cx="61.0" cy="18.0" r="14.5"/><circle cx="101.7" cy="-18.0" r="14.5"/><circle cx="101.7" cy="18.0" r="14.5"/><circle cx="142.3" cy="-18.0" r="14.5"/><circle cx="142.3" cy="18.0" r="14.5"/><circle cx="183.0" cy="-18.0" r="14.5"/><circle cx="183.0" cy="18.0" r="14.5"/></g><circle cx="520" cy="697" r="18" fill="#70ad47"/><circle cx="596" cy="513" r="29" fill="#ffc000" stroke="#000" stroke-width="6"/></g><rect x="481.2" y="85.0" width="23.0" height="305.6" rx="5" fill="none" stroke="#375623" stroke-width="2.5"/><line x1="482" y1="389.8" x2="425.5" y2="410.6" stroke="#375623" stroke-width="2.4"/><line x1="504" y1="389.5" x2="742" y2="410.2" stroke="#375623" stroke-width="2.4"/><rect x="925.6" y="78.8" width="22.899999999999977" height="306.59999999999997" rx="5" fill="none" stroke="#c00000" stroke-width="2.5"/><line x1="937.6" y1="386.3" x2="803" y2="409.8" stroke="#c00000" stroke-width="2.4"/><line x1="936.8" y1="386.3" x2="1109" y2="409.4" stroke="#c00000" stroke-width="2.4"/><rect x="489.1" y="896.0" width="23.0" height="306.5" rx="5" fill="none" stroke="#0070c0" stroke-width="2.5"/><line x1="489.8" y1="1201.3" x2="423" y2="1226.8" stroke="#0070c0" stroke-width="2.4"/><line x1="511.5" y1="1201.6" x2="738" y2="1225.5" stroke="#0070c0" stroke-width="2.4"/><rect x="968.8" y="896.0" width="22.0" height="306.5" rx="5" fill="none" stroke="#0070c0" stroke-width="2.5"/><line x1="969.5" y1="1202.6" x2="793.7" y2="1223.5" stroke="#0070c0" stroke-width="2.4"/><line x1="990.5" y1="1199.8" x2="1111" y2="1225.2" stroke="#0070c0" stroke-width="2.4"/>
</svg>
</body></html>
